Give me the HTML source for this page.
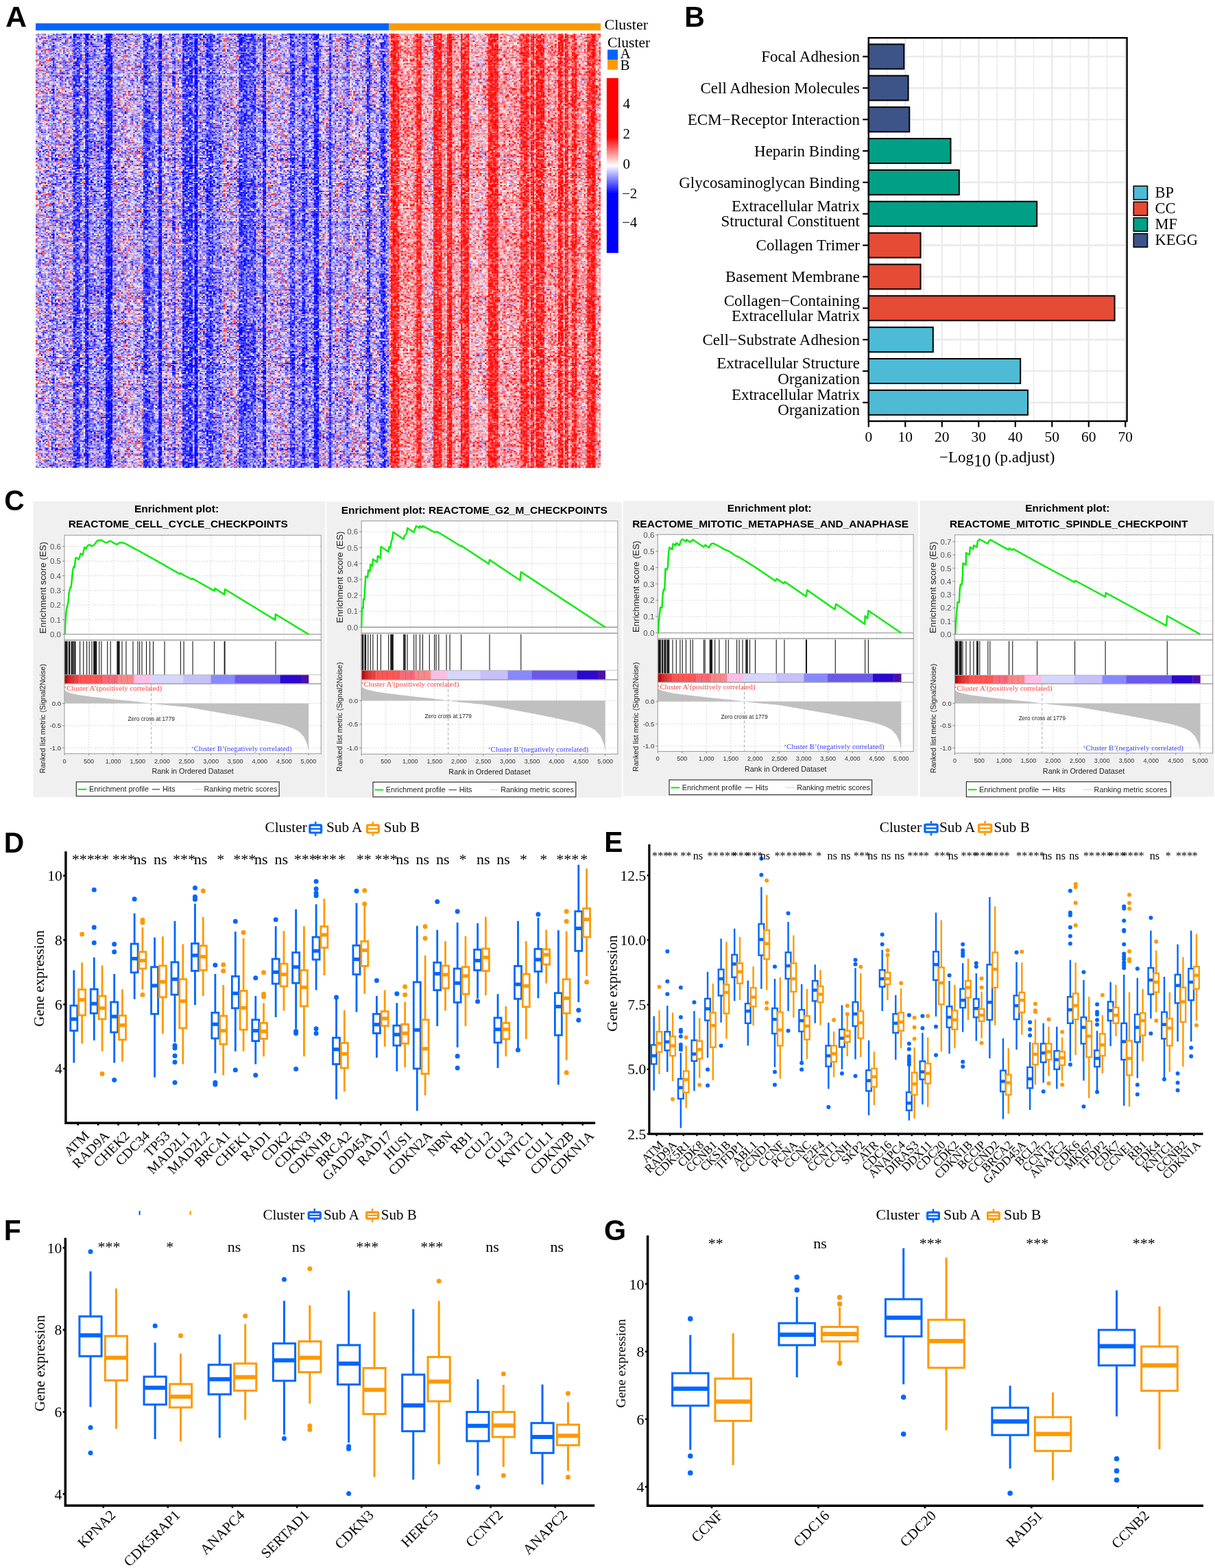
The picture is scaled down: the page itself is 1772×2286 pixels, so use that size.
<!DOCTYPE html>
<html><head><meta charset="utf-8"><title>Figure</title>
<style>html,body{margin:0;padding:0;background:#fff} svg{display:block} .hm rect{y:48.8px;height:633.6px} .hmb rect{width:2.54px}</style>
</head><body>
<svg xmlns="http://www.w3.org/2000/svg" width="1772" height="2286" viewBox="0 0 1772 2286">
<rect width="1772" height="2286" fill="#fff"/>
<defs><pattern id="hp0" patternUnits="userSpaceOnUse" width="66" height="128" patternTransform="translate(52 48.8) scale(2.4900 1.65)"><path d="M15 0.5h3M22 0.5h1M28 0.5h1M30 0.5h2M33 0.5h1M47 0.5h1M50 0.5h1M52 0.5h1M56 0.5h1M13 1.5h2M34 1.5h1M38 1.5h1M57 1.5h1M61 1.5h1M7 2.5h1M32 2.5h1M36 2.5h1M52 2.5h2M58 2.5h1M14 3.5h1M20 3.5h1M24 3.5h1M32 3.5h2M2 4.5h1M5 4.5h1M7 4.5h1M11 4.5h1M15 4.5h1M26 4.5h1M28 4.5h1M46 4.5h1M56 4.5h1M59 4.5h1M11 5.5h1M14 5.5h1M22 5.5h1M31 5.5h1M34 5.5h1M48 5.5h1M50 5.5h1M54 5.5h1M59 5.5h1M65 5.5h1M6 6.5h1M17 6.5h1M38 6.5h1M42 6.5h1M52 6.5h1M20 7.5h1M29 7.5h1M32 7.5h1M35 7.5h1M47 7.5h1M52 7.5h2M58 7.5h1M5 8.5h1M10 8.5h1M15 8.5h1M28 8.5h1M29 9.5h1M33 9.5h1M47 9.5h1M63 9.5h1M8 10.5h1M15 10.5h1M21 10.5h2M47 10.5h1M49 10.5h1M1 11.5h1M33 11.5h3M52 11.5h1M2 12.5h1M54 12.5h2M61 12.5h2M7 13.5h1M18 13.5h1M21 13.5h1M29 13.5h1M35 13.5h1M40 13.5h1M56 13.5h1M10 14.5h1M23 14.5h1M29 14.5h1M37 14.5h1M39 14.5h1M53 14.5h2M3 15.5h1M21 15.5h1M26 15.5h1M34 15.5h1M38 15.5h1M43 15.5h1M46 15.5h1M50 15.5h1M52 15.5h1M61 15.5h1M5 16.5h1M7 16.5h1M10 16.5h1M17 16.5h1M42 16.5h1M51 16.5h1M59 16.5h1M63 16.5h1M11 17.5h1M30 17.5h1M59 17.5h2M0 18.5h2M8 18.5h1M13 18.5h1M17 18.5h1M35 18.5h1M57 18.5h1M13 19.5h1M18 19.5h1M26 19.5h1M42 19.5h1M45 19.5h1M48 19.5h1M58 19.5h1M3 20.5h1M42 20.5h1M44 20.5h1M59 20.5h1M5 21.5h1M47 21.5h1M26 22.5h1M31 22.5h2M42 23.5h1M44 23.5h1M52 23.5h1M62 23.5h1M5 24.5h1M8 24.5h1M16 24.5h1M36 24.5h1M49 24.5h1M54 24.5h1M61 24.5h1M12 25.5h1M45 25.5h1M14 26.5h1M17 26.5h1M22 26.5h1M24 26.5h1M33 26.5h1M36 26.5h1M41 26.5h1M50 26.5h1M61 26.5h1M3 27.5h1M10 27.5h1M18 27.5h1M29 27.5h1M37 27.5h1M40 27.5h1M47 27.5h1M56 27.5h1M63 27.5h1M3 28.5h1M17 28.5h1M22 28.5h1M63 28.5h2M5 29.5h1M7 29.5h2M21 29.5h1M34 29.5h1M43 29.5h2M59 29.5h3M63 29.5h1M5 30.5h1M12 30.5h2M15 30.5h3M21 30.5h1M23 30.5h1M30 30.5h1M46 30.5h1M48 30.5h1M58 30.5h1M32 31.5h1M62 31.5h1M29 32.5h2M35 32.5h1M38 32.5h1M44 32.5h1M51 32.5h1M54 32.5h1M59 32.5h1M0 33.5h1M22 33.5h1M30 33.5h1M62 33.5h1M9 34.5h1M15 34.5h1M36 34.5h1M45 34.5h1M51 34.5h1M0 35.5h1M14 35.5h3M19 35.5h1M27 35.5h1M44 35.5h1M58 35.5h1M8 36.5h1M40 36.5h1M53 36.5h2M10 37.5h1M13 37.5h1M21 37.5h1M26 37.5h2M35 37.5h1M39 37.5h1M58 37.5h1M12 38.5h1M15 38.5h1M18 38.5h1M31 38.5h1M44 38.5h1M48 38.5h1M50 38.5h1M59 38.5h1M62 38.5h1M18 39.5h2M22 39.5h1M33 39.5h1M38 39.5h1M55 39.5h1M58 39.5h1M14 40.5h1M17 40.5h1M21 40.5h1M25 40.5h1M40 40.5h1M43 40.5h1M49 40.5h1M59 40.5h1M62 40.5h1M11 41.5h1M15 41.5h1M25 41.5h1M29 41.5h1M39 41.5h1M55 41.5h3M61 41.5h1M6 42.5h1M23 42.5h1M27 42.5h1M37 42.5h1M0 43.5h1M36 43.5h1M39 43.5h1M44 43.5h1M55 43.5h1M61 43.5h1M63 43.5h1M5 44.5h1M7 44.5h1M17 44.5h1M20 44.5h1M23 44.5h1M33 44.5h1M56 44.5h1M14 45.5h2M26 45.5h1M28 45.5h1M31 45.5h1M34 45.5h1M48 45.5h1M51 45.5h1M10 46.5h1M34 46.5h2M39 46.5h1M47 46.5h1M54 46.5h1M0 47.5h1M19 47.5h1M28 47.5h1M43 47.5h1M60 47.5h1M3 48.5h1M19 48.5h1M21 48.5h1M33 48.5h1M42 48.5h1M46 48.5h1M7 49.5h1M9 49.5h2M12 49.5h1M21 49.5h1M33 49.5h1M63 49.5h1M9 50.5h1M27 50.5h1M34 50.5h1M39 50.5h1M44 50.5h1M3 51.5h1M17 51.5h1M54 51.5h1M59 51.5h1M9 52.5h2M13 52.5h1M24 52.5h1M28 52.5h1M43 52.5h1M6 53.5h1M15 53.5h1M46 53.5h1M51 53.5h1M24 54.5h1M34 54.5h1M51 54.5h1M56 54.5h1M62 54.5h1M65 54.5h1M18 55.5h1M8 56.5h1M13 56.5h1M16 56.5h1M40 56.5h1M47 56.5h1M56 56.5h1M59 56.5h1M9 57.5h2M21 57.5h1M32 57.5h2M55 57.5h1M57 57.5h1M3 58.5h1M39 58.5h1M48 58.5h1M55 58.5h1M58 58.5h1M6 59.5h1M10 59.5h1M24 59.5h1M26 59.5h1M29 59.5h1M42 59.5h1M52 59.5h1M4 60.5h1M15 60.5h1M25 60.5h1M36 60.5h3M65 60.5h1M8 61.5h1M22 61.5h1M42 61.5h1M44 61.5h1M46 61.5h1M12 62.5h1M31 62.5h1M44 62.5h1M58 62.5h2M63 62.5h1M65 62.5h1M16 63.5h1M35 63.5h1M37 63.5h1M44 63.5h1M48 63.5h1M52 63.5h1M64 63.5h1M0 64.5h1M12 64.5h1M28 64.5h1M43 64.5h1M45 64.5h2M59 64.5h2M11 65.5h1M13 65.5h1M17 65.5h1M44 65.5h1M46 65.5h1M50 65.5h1M56 65.5h1M2 66.5h2M13 66.5h1M17 66.5h1M35 66.5h1M38 66.5h1M48 66.5h2M64 66.5h1M21 67.5h1M28 67.5h1M36 67.5h1M38 67.5h1M44 67.5h1M62 67.5h1M64 67.5h1M4 68.5h1M7 68.5h1M25 68.5h1M44 68.5h1M49 68.5h1M17 69.5h2M50 69.5h1M52 69.5h1M6 70.5h2M10 70.5h1M13 70.5h1M20 70.5h1M37 70.5h1M42 70.5h1M47 70.5h1M52 70.5h1M4 71.5h1M15 71.5h1M18 71.5h1M28 71.5h1M35 71.5h1M41 71.5h1M56 71.5h1M2 72.5h1M22 72.5h1M30 72.5h1M44 72.5h1M46 72.5h1M18 73.5h1M26 73.5h1M45 73.5h1M48 73.5h2M55 73.5h2M63 73.5h1M24 74.5h2M27 74.5h1M30 74.5h1M34 74.5h1M44 74.5h1M52 74.5h1M65 74.5h1M4 75.5h1M12 75.5h1M17 75.5h1M36 75.5h1M56 75.5h1M7 76.5h1M10 76.5h1M13 76.5h1M46 76.5h1M51 76.5h1M56 76.5h1M0 77.5h1M9 77.5h1M18 77.5h1M22 77.5h1M28 77.5h1M52 77.5h1M64 77.5h1M1 78.5h1M30 78.5h1M35 78.5h1M50 78.5h1M59 78.5h1M16 79.5h2M27 79.5h1M38 79.5h1M43 79.5h1M45 79.5h2M59 79.5h1M1 80.5h1M7 80.5h1M15 80.5h1M18 80.5h1M35 80.5h1M43 80.5h1M49 80.5h1M55 80.5h1M24 81.5h1M45 81.5h1M22 82.5h2M45 82.5h1M51 82.5h1M2 83.5h1M9 83.5h1M16 83.5h1M25 83.5h1M38 83.5h2M62 83.5h1M21 84.5h1M32 84.5h2M50 84.5h1M3 85.5h1M5 85.5h1M34 85.5h2M54 85.5h2M13 86.5h1M25 86.5h1M27 86.5h1M31 86.5h1M41 86.5h1M47 86.5h1M53 86.5h1M58 86.5h1M64 86.5h1M3 87.5h1M7 87.5h1M16 87.5h1M26 87.5h1M30 87.5h1M38 87.5h1M57 87.5h1M8 88.5h1M36 88.5h1M41 88.5h2M49 88.5h3M22 89.5h1M26 89.5h1M34 89.5h1M38 89.5h2M50 89.5h1M57 89.5h1M14 90.5h1M28 90.5h1M43 90.5h1M57 90.5h1M8 91.5h1M24 91.5h1M26 91.5h1M28 91.5h1M32 91.5h1M43 91.5h1M11 92.5h1M19 92.5h1M39 92.5h1M55 92.5h1M26 93.5h1M33 93.5h1M46 93.5h1M49 93.5h1M4 94.5h1M6 94.5h1M13 94.5h1M19 94.5h1M25 94.5h1M31 94.5h1M41 94.5h1M54 94.5h1M0 95.5h1M5 95.5h1M7 95.5h1M24 95.5h1M29 95.5h1M31 95.5h1M33 95.5h1M36 95.5h1M43 95.5h1M52 95.5h1M63 95.5h1M18 96.5h2M25 96.5h1M34 96.5h1M38 96.5h1M43 96.5h1M5 97.5h1M30 97.5h1M34 97.5h1M36 97.5h1M46 97.5h1M14 98.5h1M16 98.5h1M41 98.5h1M4 99.5h1M31 99.5h1M34 99.5h1M42 99.5h1M49 99.5h1M3 100.5h1M9 100.5h1M17 100.5h1M36 100.5h1M42 100.5h1M3 101.5h1M19 101.5h1M24 101.5h1M31 101.5h2M36 101.5h1M38 101.5h1M45 101.5h1M57 101.5h1M6 102.5h1M10 102.5h2M15 102.5h1M19 102.5h1M21 102.5h1M33 102.5h2M38 102.5h2M4 103.5h1M8 103.5h1M13 103.5h1M24 103.5h1M34 103.5h1M52 103.5h1M56 103.5h1M59 103.5h1M2 104.5h1M4 104.5h1M6 104.5h1M20 104.5h1M27 104.5h1M32 104.5h1M36 104.5h1M39 104.5h1M60 104.5h1M1 105.5h1M9 105.5h2M24 105.5h1M31 105.5h1M44 105.5h1M51 105.5h1M55 105.5h1M63 105.5h2M4 106.5h1M24 106.5h1M32 106.5h1M38 106.5h1M56 106.5h1M1 107.5h1M11 107.5h1M13 107.5h1M17 107.5h1M25 107.5h1M28 107.5h1M47 107.5h1M49 107.5h1M2 108.5h1M11 108.5h1M13 108.5h1M17 108.5h1M25 108.5h1M27 108.5h1M36 108.5h1M39 108.5h1M55 108.5h1M57 108.5h1M9 109.5h1M14 109.5h1M24 109.5h1M43 109.5h1M63 109.5h1M0 110.5h1M6 110.5h1M9 110.5h1M12 110.5h1M15 110.5h2M19 110.5h1M30 110.5h1M32 110.5h2M37 110.5h1M63 110.5h1M65 110.5h1M2 111.5h1M6 111.5h1M9 111.5h1M11 111.5h2M14 111.5h2M17 111.5h1M21 111.5h1M36 111.5h1M53 111.5h2M1 112.5h1M11 112.5h1M22 112.5h1M24 112.5h1M43 112.5h1M55 112.5h2M27 113.5h1M43 113.5h1M46 113.5h1M48 113.5h1M53 113.5h1M56 113.5h1M21 114.5h1M40 114.5h1M42 114.5h1M62 114.5h1M9 115.5h1M13 115.5h1M52 115.5h1M56 115.5h1M61 115.5h1M6 116.5h1M19 116.5h1M23 116.5h1M25 116.5h2M28 116.5h1M41 116.5h1M46 116.5h1M59 116.5h1M65 116.5h1M11 117.5h1M15 117.5h1M18 117.5h1M23 117.5h1M28 117.5h1M38 117.5h1M54 117.5h1M5 118.5h1M11 118.5h1M14 118.5h1M45 118.5h2M50 118.5h2M65 118.5h1M21 119.5h1M25 119.5h1M43 119.5h1M46 119.5h1M15 120.5h1M20 120.5h1M37 120.5h1M43 120.5h1M59 120.5h2M6 121.5h2M11 121.5h1M13 121.5h1M15 121.5h1M32 121.5h1M41 121.5h1M47 121.5h1M51 121.5h1M64 121.5h1M19 122.5h2M50 122.5h1M52 122.5h1M56 122.5h1M5 123.5h1M10 123.5h1M26 123.5h1M30 123.5h1M57 123.5h1M63 123.5h1M65 123.5h1M3 124.5h1M11 124.5h1M20 124.5h1M23 124.5h1M48 124.5h1M65 124.5h1M8 125.5h2M14 125.5h1M23 125.5h1M34 125.5h1M36 125.5h1M38 125.5h1M44 125.5h1M64 125.5h1M8 126.5h1M12 126.5h1M23 126.5h2M33 126.5h1M49 126.5h1M61 126.5h1M4 127.5h1M16 127.5h1M23 127.5h1M29 127.5h1M51 127.5h1" stroke="#fff" stroke-width="1" fill="none" shape-rendering="crispEdges"/></pattern><mask id="hm0" maskUnits="userSpaceOnUse" x="52" y="48.8" width="824.2" height="633.6"><rect x="52" y="48.8" width="824.2" height="633.6" fill="url(#hp0)"/></mask><pattern id="hp1" patternUnits="userSpaceOnUse" width="66" height="128" patternTransform="translate(52 48.8) scale(2.4900 1.65)"><path d="M1 0.5h1M12 0.5h1M26 0.5h1M43 0.5h1M48 0.5h2M62 0.5h1M11 1.5h1M26 1.5h1M30 1.5h1M33 1.5h1M46 1.5h1M55 1.5h1M60 1.5h1M1 2.5h1M20 2.5h1M38 2.5h1M45 2.5h1M60 2.5h1M3 3.5h1M5 3.5h1M13 3.5h1M29 3.5h1M38 3.5h1M52 3.5h1M61 3.5h1M64 3.5h1M0 4.5h1M3 4.5h1M20 4.5h1M25 4.5h1M30 4.5h1M45 4.5h1M52 4.5h1M13 5.5h1M30 5.5h1M40 5.5h1M53 5.5h1M64 5.5h1M21 6.5h1M41 6.5h1M49 6.5h1M55 6.5h2M65 6.5h1M1 7.5h1M7 7.5h1M9 7.5h1M17 7.5h1M22 7.5h1M40 7.5h1M50 7.5h1M57 7.5h1M59 7.5h1M63 7.5h2M4 8.5h1M6 8.5h1M17 8.5h1M22 8.5h1M26 8.5h1M32 8.5h1M40 8.5h2M46 8.5h1M50 8.5h2M4 9.5h1M23 9.5h1M32 9.5h1M65 9.5h1M4 10.5h1M10 10.5h1M26 10.5h1M50 10.5h1M65 10.5h1M7 11.5h1M10 11.5h1M19 11.5h1M21 11.5h1M36 11.5h1M43 11.5h1M58 11.5h1M9 12.5h1M11 12.5h1M16 12.5h1M28 12.5h1M47 12.5h2M50 12.5h1M65 12.5h1M1 13.5h2M6 13.5h1M8 13.5h1M13 13.5h1M24 13.5h1M59 13.5h1M34 14.5h1M43 14.5h1M46 14.5h2M49 14.5h1M5 15.5h1M8 15.5h1M16 15.5h1M32 15.5h1M55 15.5h1M60 15.5h1M22 16.5h1M31 16.5h1M33 16.5h2M45 16.5h1M48 16.5h1M52 16.5h1M13 17.5h1M49 17.5h1M52 17.5h1M54 17.5h1M6 18.5h1M12 18.5h1M15 18.5h1M18 18.5h1M22 18.5h1M34 18.5h1M39 18.5h1M60 18.5h1M6 19.5h1M29 19.5h1M31 19.5h1M34 19.5h1M55 19.5h1M2 20.5h1M13 20.5h1M18 20.5h1M20 20.5h1M26 20.5h1M31 20.5h1M43 20.5h1M45 20.5h1M50 20.5h1M53 20.5h1M21 21.5h1M23 21.5h1M27 21.5h1M35 21.5h2M46 21.5h1M54 21.5h1M63 21.5h1M2 22.5h1M9 22.5h2M13 22.5h1M15 22.5h1M19 22.5h2M24 22.5h1M40 22.5h1M61 22.5h1M63 22.5h1M9 23.5h1M27 23.5h1M38 23.5h1M50 23.5h1M58 23.5h1M60 23.5h1M14 24.5h1M20 24.5h1M37 24.5h2M48 24.5h1M59 24.5h1M4 25.5h1M15 25.5h1M17 25.5h2M20 25.5h1M28 25.5h1M34 25.5h1M40 25.5h1M51 25.5h1M54 25.5h1M57 25.5h1M60 25.5h1M62 25.5h1M2 26.5h1M44 26.5h1M58 26.5h1M64 26.5h1M5 27.5h1M11 27.5h1M16 27.5h1M32 27.5h1M34 27.5h1M36 27.5h1M41 27.5h1M43 27.5h1M58 27.5h1M8 28.5h1M23 28.5h1M40 28.5h1M53 28.5h1M11 29.5h1M29 29.5h2M11 30.5h1M26 30.5h1M35 30.5h1M37 30.5h1M39 30.5h1M61 30.5h1M6 31.5h1M20 31.5h1M22 31.5h1M26 31.5h2M31 31.5h1M49 31.5h1M60 31.5h1M3 32.5h1M6 32.5h1M17 32.5h3M58 32.5h1M4 33.5h1M14 33.5h1M43 33.5h1M7 34.5h1M14 34.5h1M18 34.5h1M21 34.5h1M30 34.5h1M41 34.5h1M48 34.5h1M4 35.5h1M9 35.5h1M13 35.5h1M18 35.5h1M29 35.5h1M38 35.5h1M46 35.5h1M56 35.5h1M1 36.5h1M12 36.5h1M20 36.5h1M23 36.5h2M32 36.5h1M59 36.5h2M1 37.5h1M5 37.5h1M8 37.5h1M11 37.5h2M23 37.5h1M31 37.5h1M40 37.5h1M54 37.5h1M57 37.5h1M64 37.5h1M14 38.5h1M26 38.5h1M34 38.5h1M42 38.5h1M52 38.5h1M54 38.5h1M63 38.5h1M13 39.5h2M44 39.5h1M48 39.5h1M52 39.5h1M64 39.5h1M33 40.5h1M35 40.5h1M41 40.5h1M47 40.5h2M53 40.5h1M65 40.5h1M8 41.5h1M17 41.5h1M37 41.5h1M43 41.5h1M46 41.5h1M59 41.5h1M64 41.5h1M0 42.5h1M3 42.5h1M16 42.5h1M19 42.5h1M29 42.5h1M31 42.5h1M39 42.5h1M49 42.5h1M1 43.5h1M14 43.5h1M19 43.5h1M37 43.5h1M51 43.5h1M56 43.5h1M64 43.5h1M2 44.5h1M14 44.5h1M21 44.5h1M30 44.5h1M37 44.5h1M41 44.5h1M53 44.5h1M63 44.5h1M11 45.5h1M22 45.5h1M4 46.5h1M24 46.5h1M26 46.5h1M41 46.5h1M45 46.5h1M55 46.5h1M6 47.5h1M18 47.5h1M57 47.5h1M59 47.5h1M22 48.5h1M25 48.5h1M27 48.5h2M53 48.5h1M55 48.5h1M5 49.5h1M28 49.5h1M30 49.5h1M43 49.5h1M47 49.5h1M50 49.5h1M13 50.5h1M29 50.5h1M36 50.5h1M42 50.5h1M48 50.5h1M59 50.5h1M4 51.5h1M8 51.5h1M25 51.5h1M28 51.5h1M51 51.5h1M60 51.5h1M6 52.5h1M19 52.5h1M26 52.5h1M30 52.5h2M35 52.5h1M41 52.5h1M49 52.5h1M1 53.5h2M17 53.5h1M24 53.5h1M31 53.5h2M39 53.5h3M50 53.5h1M52 53.5h1M57 53.5h1M63 53.5h1M14 54.5h1M16 54.5h1M23 54.5h1M25 54.5h2M28 54.5h1M35 54.5h1M55 54.5h1M59 54.5h1M61 54.5h1M6 55.5h2M9 55.5h1M19 55.5h3M62 55.5h1M64 55.5h1M4 56.5h1M14 56.5h1M17 56.5h1M32 56.5h1M34 56.5h1M36 56.5h1M38 56.5h1M41 56.5h1M44 56.5h1M18 57.5h1M22 57.5h1M26 57.5h1M36 57.5h1M39 57.5h1M43 57.5h1M48 57.5h1M51 57.5h1M58 57.5h1M63 57.5h1M8 58.5h1M13 58.5h1M26 58.5h1M31 58.5h1M34 58.5h1M38 58.5h1M45 58.5h1M54 58.5h1M62 58.5h1M8 59.5h1M16 59.5h1M19 59.5h1M37 59.5h1M44 59.5h1M55 59.5h1M5 60.5h1M12 60.5h2M27 60.5h1M45 60.5h1M11 61.5h1M14 61.5h1M38 61.5h1M52 61.5h1M2 62.5h1M18 62.5h1M29 62.5h1M37 62.5h1M43 62.5h1M55 62.5h1M62 62.5h1M0 63.5h1M7 63.5h1M9 63.5h1M43 63.5h1M4 64.5h1M27 64.5h1M55 64.5h1M9 65.5h2M33 65.5h1M63 65.5h1M12 66.5h1M34 66.5h1M50 66.5h1M61 66.5h1M63 66.5h1M14 67.5h2M20 67.5h1M23 67.5h1M65 67.5h1M0 68.5h1M10 68.5h1M22 68.5h1M30 68.5h1M48 68.5h1M58 68.5h1M65 68.5h1M9 69.5h1M16 69.5h1M27 69.5h2M35 69.5h1M42 69.5h1M53 69.5h1M64 69.5h1M5 70.5h1M12 70.5h1M19 70.5h1M28 70.5h1M41 70.5h1M60 70.5h1M2 71.5h2M11 71.5h1M26 71.5h1M32 71.5h1M40 71.5h1M51 71.5h1M4 72.5h1M15 72.5h1M21 72.5h1M23 72.5h1M26 72.5h1M51 72.5h1M60 72.5h1M1 73.5h1M5 73.5h2M8 73.5h1M11 73.5h1M22 73.5h1M52 73.5h1M2 74.5h2M5 74.5h1M17 74.5h1M26 74.5h1M56 74.5h1M60 74.5h1M1 75.5h1M9 75.5h1M19 75.5h1M58 75.5h1M32 76.5h1M43 76.5h2M47 76.5h1M53 76.5h1M60 76.5h1M19 77.5h1M42 77.5h1M44 77.5h1M48 77.5h1M58 77.5h1M13 78.5h1M17 78.5h1M23 78.5h1M33 78.5h2M2 79.5h1M6 79.5h1M11 79.5h1M13 79.5h1M34 79.5h1M36 79.5h1M49 79.5h1M51 79.5h1M55 79.5h2M61 79.5h1M6 80.5h1M12 80.5h1M29 80.5h1M42 80.5h1M56 80.5h1M59 80.5h1M62 80.5h1M7 81.5h1M11 81.5h1M13 81.5h1M16 81.5h1M33 81.5h1M46 81.5h1M50 81.5h1M63 81.5h1M0 82.5h1M2 82.5h1M18 82.5h1M21 82.5h1M1 83.5h1M28 83.5h1M30 83.5h1M40 83.5h3M48 83.5h1M50 83.5h1M55 83.5h1M58 83.5h1M7 84.5h1M10 84.5h1M12 84.5h1M14 84.5h1M23 84.5h1M44 84.5h1M47 84.5h1M51 84.5h1M59 84.5h1M62 84.5h1M8 85.5h1M25 85.5h1M33 85.5h1M48 85.5h1M2 86.5h2M15 86.5h2M23 86.5h1M43 86.5h2M46 86.5h1M48 86.5h2M54 86.5h1M4 87.5h2M24 87.5h1M29 87.5h1M36 87.5h1M46 87.5h1M1 88.5h2M12 88.5h1M16 88.5h2M25 88.5h2M1 89.5h1M15 89.5h1M31 89.5h1M59 89.5h2M8 90.5h1M31 90.5h1M34 90.5h1M49 90.5h2M60 90.5h2M18 91.5h1M20 91.5h1M20 92.5h1M35 92.5h1M38 92.5h1M41 92.5h1M49 92.5h1M22 93.5h1M27 93.5h1M31 93.5h1M43 93.5h1M52 93.5h2M8 94.5h1M12 94.5h1M22 94.5h2M34 94.5h1M48 94.5h1M63 94.5h1M12 95.5h1M19 95.5h1M30 95.5h1M32 95.5h1M37 95.5h1M39 95.5h1M44 95.5h1M64 95.5h1M3 96.5h1M5 96.5h1M13 96.5h2M17 96.5h1M32 96.5h1M54 96.5h2M57 96.5h1M65 96.5h1M1 97.5h1M19 97.5h1M24 97.5h1M37 97.5h1M41 97.5h2M44 97.5h1M3 98.5h1M8 98.5h1M27 98.5h1M39 98.5h1M42 98.5h1M57 98.5h2M3 99.5h1M20 99.5h1M25 99.5h1M35 99.5h2M38 99.5h1M46 99.5h1M54 99.5h1M63 99.5h1M15 100.5h1M30 100.5h1M38 100.5h1M41 100.5h1M58 100.5h1M9 101.5h1M22 101.5h1M30 101.5h1M44 101.5h1M46 101.5h1M50 101.5h1M53 101.5h1M63 101.5h1M5 102.5h1M8 102.5h1M29 102.5h1M42 102.5h1M45 102.5h2M55 102.5h1M59 102.5h1M5 103.5h1M10 103.5h2M23 103.5h1M26 103.5h2M40 103.5h1M45 103.5h1M63 103.5h1M65 103.5h1M28 104.5h1M41 104.5h1M43 104.5h1M48 104.5h1M58 104.5h1M5 105.5h1M15 105.5h1M29 105.5h1M50 105.5h1M52 105.5h1M62 105.5h1M37 106.5h1M49 106.5h1M59 106.5h2M62 106.5h1M20 107.5h2M34 107.5h1M42 107.5h1M62 107.5h1M8 108.5h2M21 108.5h1M41 108.5h1M44 108.5h1M50 108.5h1M63 108.5h3M21 109.5h1M28 109.5h2M35 109.5h1M50 109.5h1M54 109.5h1M5 110.5h1M7 110.5h1M11 110.5h1M20 110.5h1M31 110.5h1M58 110.5h1M3 111.5h1M19 111.5h1M24 111.5h2M27 111.5h1M45 111.5h1M7 112.5h1M27 112.5h1M29 112.5h1M34 112.5h1M40 112.5h2M47 112.5h1M61 112.5h1M7 113.5h1M15 113.5h1M37 113.5h1M55 113.5h1M18 114.5h1M26 114.5h1M29 114.5h1M32 114.5h1M37 114.5h1M39 114.5h1M6 115.5h1M20 115.5h1M24 115.5h1M28 115.5h1M33 115.5h1M40 115.5h1M42 115.5h2M48 115.5h1M3 116.5h1M15 116.5h1M22 116.5h1M30 116.5h2M34 116.5h1M62 116.5h2M3 117.5h1M17 117.5h1M25 117.5h1M48 117.5h1M13 118.5h1M25 118.5h2M31 118.5h1M37 118.5h1M8 119.5h1M11 119.5h1M27 119.5h1M33 119.5h1M36 119.5h1M39 119.5h1M63 119.5h1M0 120.5h1M7 120.5h1M11 120.5h1M21 120.5h1M30 120.5h2M49 120.5h1M52 120.5h1M17 121.5h1M42 121.5h1M57 121.5h1M5 122.5h2M16 122.5h1M27 122.5h1M46 122.5h1M53 122.5h1M65 122.5h1M2 123.5h1M17 123.5h1M25 123.5h1M33 123.5h1M35 123.5h1M58 123.5h1M6 124.5h1M15 124.5h2M21 124.5h1M24 124.5h1M49 124.5h1M51 124.5h1M2 125.5h1M26 125.5h1M47 125.5h1M57 125.5h1M61 125.5h1M0 126.5h1M7 126.5h1M11 126.5h1M27 126.5h1M37 126.5h1M43 126.5h2M52 126.5h1M57 126.5h1M64 126.5h1M1 127.5h1M6 127.5h1M9 127.5h1M12 127.5h1M18 127.5h1M21 127.5h1M39 127.5h2M48 127.5h1" stroke="#fff" stroke-width="1" fill="none" shape-rendering="crispEdges"/></pattern><mask id="hm1" maskUnits="userSpaceOnUse" x="52" y="48.8" width="824.2" height="633.6"><rect x="52" y="48.8" width="824.2" height="633.6" fill="url(#hp1)"/></mask><pattern id="hp2" patternUnits="userSpaceOnUse" width="66" height="128" patternTransform="translate(52 48.8) scale(2.4900 1.65)"><path d="M41 0.5h2M45 0.5h1M54 0.5h1M58 0.5h1M60 0.5h1M29 1.5h1M32 1.5h1M52 1.5h2M64 1.5h1M8 2.5h1M12 2.5h1M23 2.5h1M26 2.5h1M29 2.5h1M42 2.5h2M59 2.5h1M65 2.5h1M7 3.5h1M12 3.5h1M16 3.5h2M54 3.5h1M9 4.5h1M60 4.5h1M0 5.5h1M2 5.5h1M9 5.5h2M12 5.5h1M21 5.5h1M36 5.5h1M44 5.5h1M57 5.5h1M60 5.5h1M0 6.5h1M18 6.5h1M53 6.5h1M63 6.5h1M0 7.5h1M14 7.5h1M38 7.5h1M55 7.5h1M62 7.5h1M3 8.5h1M16 8.5h1M24 8.5h1M30 8.5h1M53 8.5h1M58 8.5h2M8 9.5h1M14 9.5h1M16 9.5h2M21 9.5h1M54 9.5h1M58 9.5h1M1 10.5h1M11 10.5h1M24 10.5h1M51 10.5h1M2 11.5h1M9 11.5h1M14 11.5h1M20 11.5h1M31 11.5h1M39 11.5h1M46 11.5h1M51 11.5h1M61 11.5h1M1 12.5h1M23 12.5h1M35 12.5h1M43 12.5h1M57 12.5h1M64 12.5h1M10 13.5h1M25 13.5h2M28 13.5h1M32 13.5h1M45 13.5h1M9 14.5h1M14 14.5h1M52 14.5h1M12 15.5h1M14 15.5h1M22 15.5h1M28 15.5h1M30 15.5h1M51 15.5h1M58 15.5h1M6 16.5h1M12 16.5h1M16 16.5h1M28 16.5h1M65 16.5h1M2 17.5h1M4 17.5h1M8 17.5h2M16 17.5h1M34 17.5h1M44 17.5h1M47 17.5h2M55 17.5h1M65 17.5h1M3 18.5h1M23 18.5h1M26 18.5h1M30 18.5h1M43 18.5h1M58 18.5h1M2 19.5h1M17 19.5h1M20 19.5h1M33 19.5h1M49 19.5h1M57 19.5h1M5 20.5h1M22 20.5h1M32 20.5h2M39 20.5h1M54 20.5h1M63 20.5h1M26 21.5h1M40 21.5h1M55 21.5h1M60 21.5h1M64 21.5h1M4 22.5h1M25 22.5h1M33 22.5h1M36 22.5h1M65 22.5h1M1 23.5h1M16 23.5h1M20 23.5h1M24 23.5h1M26 23.5h1M33 23.5h1M54 23.5h1M26 24.5h1M3 25.5h1M5 25.5h1M10 25.5h1M14 25.5h1M16 25.5h1M19 25.5h1M23 25.5h1M25 25.5h1M31 25.5h1M55 25.5h1M8 26.5h1M46 26.5h2M51 26.5h1M53 26.5h1M57 26.5h1M12 27.5h1M15 27.5h1M20 27.5h1M25 27.5h1M35 27.5h1M42 27.5h1M48 27.5h1M52 27.5h1M55 27.5h1M5 28.5h2M10 28.5h1M18 28.5h2M24 28.5h1M36 28.5h1M43 28.5h1M47 28.5h1M50 28.5h1M55 28.5h1M9 29.5h1M58 29.5h1M64 29.5h1M3 30.5h1M10 30.5h1M20 30.5h1M38 30.5h1M44 30.5h1M51 30.5h1M64 30.5h1M8 31.5h2M11 31.5h1M19 31.5h1M25 31.5h1M30 31.5h1M47 31.5h1M64 31.5h1M0 32.5h1M10 32.5h1M24 32.5h1M49 32.5h1M56 32.5h1M8 33.5h1M16 33.5h1M24 33.5h1M50 33.5h1M53 33.5h1M61 33.5h1M1 34.5h1M8 34.5h1M27 34.5h1M49 34.5h1M55 34.5h1M63 34.5h1M21 35.5h1M24 35.5h1M31 35.5h1M35 35.5h1M39 35.5h1M43 35.5h1M47 35.5h1M59 35.5h2M3 36.5h1M6 36.5h1M18 36.5h1M36 36.5h1M42 36.5h1M47 36.5h1M51 36.5h1M65 36.5h1M14 37.5h1M37 37.5h1M60 37.5h1M0 38.5h1M25 38.5h1M28 38.5h1M30 38.5h1M47 38.5h1M49 38.5h1M61 38.5h1M8 39.5h1M25 39.5h1M29 39.5h1M32 39.5h1M36 39.5h2M45 39.5h1M4 40.5h1M15 40.5h1M22 40.5h1M38 40.5h1M42 40.5h1M44 40.5h1M46 40.5h1M54 40.5h1M14 41.5h1M21 41.5h1M28 41.5h1M51 41.5h1M4 42.5h1M21 42.5h1M28 42.5h1M40 42.5h1M42 42.5h1M45 42.5h1M54 42.5h1M56 42.5h1M58 42.5h2M3 43.5h1M7 43.5h1M15 43.5h1M21 43.5h1M28 43.5h1M34 43.5h1M47 43.5h1M1 44.5h1M15 44.5h1M19 44.5h1M48 44.5h1M64 44.5h1M7 45.5h1M17 45.5h1M24 45.5h1M33 45.5h1M36 45.5h1M54 45.5h1M61 45.5h2M14 46.5h1M20 46.5h1M38 46.5h1M44 46.5h1M48 46.5h1M57 46.5h1M59 46.5h1M1 47.5h1M15 47.5h1M17 47.5h1M37 47.5h1M39 47.5h1M44 47.5h1M46 47.5h1M53 47.5h1M8 48.5h1M37 48.5h1M54 48.5h1M57 48.5h1M59 48.5h1M62 48.5h1M23 49.5h1M26 49.5h1M40 49.5h1M44 49.5h1M48 49.5h2M51 49.5h1M53 49.5h1M55 49.5h1M0 50.5h1M7 50.5h1M10 50.5h1M40 50.5h1M49 50.5h1M2 51.5h1M10 51.5h1M33 51.5h1M41 51.5h1M46 51.5h1M57 51.5h1M44 52.5h1M57 52.5h1M59 52.5h1M12 53.5h1M20 53.5h1M36 53.5h1M61 53.5h1M17 54.5h1M20 54.5h1M27 54.5h1M31 54.5h1M44 54.5h1M0 55.5h1M5 55.5h1M15 55.5h1M22 55.5h1M27 55.5h1M29 55.5h1M55 55.5h1M0 56.5h2M5 56.5h2M10 56.5h1M19 56.5h2M25 56.5h1M35 56.5h1M57 56.5h1M6 57.5h1M37 57.5h1M61 57.5h1M6 58.5h1M24 58.5h1M44 58.5h1M57 58.5h1M59 58.5h1M13 59.5h1M20 59.5h1M30 59.5h1M40 59.5h1M46 59.5h1M53 59.5h1M57 59.5h1M64 59.5h2M0 60.5h1M6 60.5h1M23 60.5h1M29 60.5h1M42 60.5h1M48 60.5h1M53 60.5h1M59 60.5h1M12 61.5h1M18 61.5h1M24 61.5h1M32 61.5h1M47 61.5h1M57 61.5h1M4 62.5h1M7 62.5h1M11 62.5h1M17 62.5h1M20 62.5h1M25 62.5h1M17 63.5h1M19 63.5h1M51 63.5h1M56 63.5h1M60 63.5h2M63 63.5h1M6 64.5h1M20 64.5h1M32 64.5h1M36 64.5h1M38 64.5h1M61 64.5h1M0 65.5h1M7 65.5h1M14 65.5h2M38 65.5h1M40 65.5h2M43 65.5h1M45 65.5h1M53 65.5h1M55 65.5h1M61 65.5h1M7 66.5h1M9 66.5h1M28 66.5h1M43 66.5h1M52 66.5h1M0 67.5h1M4 67.5h1M10 67.5h1M19 67.5h1M32 67.5h1M47 67.5h1M51 67.5h1M54 67.5h1M11 68.5h1M36 68.5h1M59 68.5h1M62 68.5h1M0 69.5h1M3 69.5h1M10 69.5h1M19 69.5h1M37 69.5h1M40 69.5h1M45 69.5h2M54 69.5h1M61 69.5h1M0 70.5h1M11 70.5h1M23 70.5h1M44 70.5h1M50 70.5h2M31 71.5h1M34 71.5h1M60 71.5h1M9 72.5h1M11 72.5h1M27 72.5h1M29 72.5h1M35 72.5h1M37 72.5h1M56 72.5h3M2 73.5h1M14 73.5h1M20 73.5h1M29 73.5h1M38 73.5h1M42 73.5h1M58 73.5h1M1 74.5h1M21 74.5h1M33 74.5h1M42 74.5h1M46 74.5h1M54 74.5h1M2 75.5h1M10 75.5h1M16 75.5h1M21 75.5h1M50 75.5h1M59 75.5h1M65 75.5h1M8 76.5h1M16 76.5h1M33 76.5h1M39 76.5h1M52 76.5h1M55 76.5h1M57 76.5h1M63 76.5h1M1 77.5h1M7 77.5h1M21 77.5h1M25 77.5h1M54 77.5h1M56 77.5h1M65 77.5h1M0 78.5h1M28 78.5h1M32 78.5h1M42 78.5h1M53 78.5h1M55 78.5h1M58 78.5h1M3 79.5h1M8 79.5h1M15 79.5h1M18 79.5h1M22 79.5h1M26 79.5h1M30 79.5h1M52 79.5h1M64 79.5h2M16 80.5h1M27 80.5h1M39 80.5h1M51 80.5h1M3 81.5h1M8 81.5h2M28 81.5h4M40 81.5h1M4 82.5h1M12 82.5h1M27 82.5h1M36 82.5h1M46 82.5h2M58 82.5h1M65 82.5h1M11 83.5h1M14 83.5h1M23 83.5h1M29 83.5h1M0 84.5h1M2 84.5h1M8 84.5h1M24 84.5h1M27 84.5h2M31 84.5h1M38 84.5h1M57 84.5h1M64 84.5h1M2 85.5h1M31 85.5h1M39 85.5h1M47 85.5h1M59 85.5h1M5 86.5h1M7 86.5h1M22 86.5h1M32 86.5h1M39 86.5h1M60 86.5h1M62 86.5h1M65 86.5h1M11 87.5h1M19 87.5h1M43 87.5h1M47 87.5h1M61 87.5h1M63 87.5h1M9 88.5h1M31 88.5h2M56 88.5h1M3 89.5h4M9 89.5h1M11 89.5h1M25 89.5h1M32 89.5h2M42 89.5h1M47 89.5h1M52 89.5h1M12 90.5h1M22 90.5h1M45 90.5h1M0 91.5h2M5 91.5h1M9 91.5h1M33 91.5h2M48 91.5h1M60 91.5h2M63 91.5h1M4 92.5h1M9 92.5h1M16 92.5h1M29 92.5h1M47 92.5h1M52 92.5h1M62 92.5h2M4 93.5h1M42 93.5h1M48 93.5h1M54 93.5h1M61 93.5h1M64 93.5h1M15 94.5h1M30 94.5h1M33 94.5h1M45 94.5h1M60 94.5h2M11 95.5h1M17 95.5h1M26 95.5h1M35 95.5h1M45 95.5h1M50 95.5h1M1 96.5h1M7 96.5h3M23 96.5h1M47 96.5h2M50 96.5h1M52 96.5h1M6 97.5h1M12 97.5h1M15 97.5h1M35 97.5h1M39 97.5h1M60 97.5h1M65 97.5h1M20 98.5h1M32 98.5h1M34 98.5h1M40 98.5h1M46 98.5h3M55 98.5h1M62 99.5h1M2 100.5h1M11 100.5h1M27 100.5h1M29 100.5h1M43 100.5h1M59 100.5h1M61 100.5h1M2 101.5h1M12 101.5h1M14 101.5h1M18 101.5h1M39 101.5h1M48 101.5h1M56 101.5h1M62 101.5h1M0 102.5h1M28 102.5h1M44 102.5h1M53 102.5h1M62 102.5h1M12 103.5h1M28 103.5h1M36 103.5h1M38 103.5h1M57 103.5h1M7 104.5h1M11 104.5h1M15 104.5h1M26 104.5h1M38 104.5h1M53 104.5h1M22 105.5h1M32 105.5h1M48 105.5h1M59 105.5h1M0 106.5h1M9 106.5h1M12 106.5h1M26 106.5h1M41 106.5h1M46 106.5h1M57 106.5h1M63 106.5h1M2 107.5h1M9 107.5h1M19 107.5h1M31 107.5h1M36 107.5h1M45 107.5h1M48 107.5h1M50 107.5h1M54 107.5h1M3 108.5h1M22 108.5h1M28 108.5h1M37 108.5h1M42 108.5h2M54 108.5h1M2 109.5h1M5 109.5h1M15 109.5h1M23 109.5h1M26 109.5h1M31 109.5h1M42 109.5h1M57 109.5h1M64 109.5h1M10 110.5h1M18 110.5h1M21 110.5h1M25 110.5h1M39 110.5h1M43 110.5h1M5 111.5h1M16 111.5h1M20 111.5h1M31 111.5h1M37 111.5h1M48 111.5h1M59 111.5h2M3 112.5h1M5 112.5h1M17 112.5h1M21 112.5h1M23 112.5h1M30 112.5h1M32 112.5h1M48 112.5h1M52 112.5h2M8 113.5h1M52 113.5h1M7 114.5h1M16 114.5h1M28 114.5h1M33 114.5h1M35 114.5h1M41 114.5h1M65 114.5h1M2 115.5h2M5 115.5h1M7 115.5h1M12 115.5h1M18 115.5h1M65 115.5h1M9 116.5h1M48 116.5h1M51 116.5h1M54 116.5h1M57 116.5h1M61 116.5h1M4 117.5h1M6 117.5h1M10 117.5h1M16 117.5h1M22 117.5h1M35 117.5h1M37 117.5h1M39 117.5h1M46 117.5h1M64 117.5h1M8 118.5h1M15 118.5h1M19 118.5h1M24 118.5h1M27 118.5h1M41 118.5h1M57 118.5h1M63 118.5h1M1 119.5h1M12 119.5h1M29 119.5h2M32 119.5h1M38 119.5h1M40 119.5h1M42 119.5h1M52 119.5h2M46 120.5h1M8 121.5h1M24 121.5h1M31 121.5h1M48 121.5h1M0 122.5h1M2 122.5h1M8 122.5h1M14 122.5h1M21 122.5h1M36 122.5h2M39 122.5h1M43 122.5h1M48 122.5h1M55 122.5h1M19 123.5h1M27 123.5h1M32 123.5h1M39 123.5h1M50 123.5h2M56 123.5h1M12 124.5h1M19 124.5h1M28 124.5h1M39 124.5h1M42 124.5h1M53 124.5h1M56 124.5h1M5 125.5h1M10 125.5h1M20 125.5h1M33 125.5h1M46 125.5h1M6 126.5h1M13 126.5h1M16 126.5h1M20 126.5h1M22 126.5h1M34 126.5h1M0 127.5h1M22 127.5h1M45 127.5h1M55 127.5h1M57 127.5h1M64 127.5h1" stroke="#fff" stroke-width="1" fill="none" shape-rendering="crispEdges"/></pattern><mask id="hm2" maskUnits="userSpaceOnUse" x="52" y="48.8" width="824.2" height="633.6"><rect x="52" y="48.8" width="824.2" height="633.6" fill="url(#hp2)"/></mask><pattern id="hp3" patternUnits="userSpaceOnUse" width="66" height="128" patternTransform="translate(52 48.8) scale(2.4900 1.65)"><path d="M3 0.5h2M13 0.5h2M20 0.5h1M27 0.5h1M29 0.5h1M36 0.5h1M53 0.5h1M2 1.5h1M4 1.5h1M22 1.5h2M35 1.5h1M37 1.5h1M51 1.5h1M54 1.5h1M56 1.5h1M65 1.5h1M3 2.5h1M9 2.5h1M16 2.5h2M22 2.5h1M48 2.5h1M56 2.5h1M1 3.5h1M22 3.5h1M25 3.5h1M47 3.5h1M50 3.5h1M55 3.5h1M12 4.5h1M18 4.5h1M36 4.5h1M40 4.5h1M48 4.5h1M50 4.5h1M54 4.5h1M17 5.5h1M28 5.5h1M32 5.5h1M37 5.5h1M58 5.5h1M9 6.5h1M12 6.5h1M26 6.5h2M36 6.5h1M39 6.5h1M46 6.5h2M51 6.5h1M54 6.5h1M59 6.5h2M18 7.5h1M21 7.5h1M36 7.5h2M49 7.5h1M51 7.5h1M54 7.5h1M8 8.5h1M20 8.5h1M39 8.5h1M43 8.5h1M54 8.5h1M63 8.5h1M7 9.5h1M25 9.5h1M43 9.5h1M50 9.5h1M61 9.5h1M0 10.5h1M18 10.5h1M27 10.5h1M33 10.5h1M56 10.5h1M4 11.5h1M11 11.5h1M13 11.5h1M26 11.5h1M41 11.5h1M64 11.5h1M4 12.5h2M7 12.5h1M58 12.5h1M9 13.5h1M16 13.5h1M36 13.5h2M39 13.5h1M42 13.5h1M46 13.5h1M57 13.5h1M62 13.5h1M1 14.5h1M20 14.5h2M56 14.5h1M58 14.5h1M4 15.5h1M7 15.5h1M9 15.5h1M19 15.5h1M35 15.5h1M48 15.5h1M56 15.5h1M62 15.5h2M0 16.5h1M8 16.5h1M14 16.5h1M35 16.5h1M49 16.5h1M25 17.5h1M33 17.5h1M40 17.5h1M45 17.5h1M56 17.5h1M64 17.5h1M14 18.5h1M40 18.5h1M49 18.5h1M61 18.5h1M1 19.5h1M7 19.5h1M30 19.5h1M35 19.5h1M51 19.5h1M59 19.5h3M65 19.5h1M6 20.5h1M9 20.5h1M21 20.5h1M34 20.5h1M37 20.5h1M40 20.5h1M55 20.5h1M8 21.5h1M10 21.5h1M24 21.5h2M33 21.5h2M49 21.5h1M22 22.5h1M30 22.5h1M41 22.5h1M44 22.5h1M47 22.5h1M56 22.5h1M58 22.5h1M62 22.5h1M3 23.5h1M10 23.5h1M12 23.5h1M15 23.5h1M39 23.5h2M46 23.5h1M59 23.5h1M6 24.5h1M11 24.5h1M34 24.5h2M45 24.5h2M63 24.5h1M7 25.5h1M27 25.5h1M35 25.5h1M42 25.5h1M48 25.5h1M52 25.5h1M61 25.5h1M6 26.5h1M15 26.5h2M23 26.5h1M54 26.5h1M23 27.5h1M49 27.5h3M1 28.5h1M16 28.5h1M20 28.5h1M25 28.5h1M48 28.5h1M51 28.5h1M59 28.5h1M10 29.5h1M16 29.5h1M46 29.5h1M50 29.5h1M53 29.5h1M6 30.5h1M9 30.5h1M18 30.5h2M28 30.5h2M45 30.5h1M52 30.5h2M57 30.5h1M0 31.5h1M28 31.5h1M42 31.5h1M11 32.5h1M31 32.5h1M48 32.5h1M57 32.5h1M64 32.5h1M2 33.5h1M6 33.5h1M18 33.5h1M25 33.5h1M35 33.5h1M47 33.5h1M52 33.5h1M55 33.5h1M65 33.5h1M3 34.5h1M37 34.5h2M50 34.5h1M59 34.5h1M61 34.5h1M65 34.5h1M8 35.5h1M17 35.5h1M25 35.5h1M28 35.5h1M33 35.5h1M41 35.5h1M48 35.5h1M53 35.5h1M64 35.5h1M16 36.5h1M21 36.5h1M39 36.5h1M48 36.5h1M64 36.5h1M9 37.5h1M17 37.5h1M24 37.5h1M32 37.5h1M42 37.5h1M47 37.5h1M55 37.5h1M63 37.5h1M65 37.5h1M4 38.5h1M16 38.5h1M19 38.5h1M22 38.5h1M43 38.5h1M46 38.5h1M58 38.5h1M2 39.5h1M4 39.5h2M11 39.5h1M21 39.5h1M31 39.5h1M39 39.5h1M47 39.5h1M18 40.5h2M31 40.5h2M45 40.5h1M51 40.5h1M13 41.5h1M20 41.5h1M23 41.5h1M44 41.5h1M50 41.5h1M54 41.5h1M62 41.5h1M1 42.5h1M18 42.5h1M25 42.5h1M32 42.5h1M34 42.5h1M47 42.5h1M4 43.5h1M6 43.5h1M12 43.5h2M38 43.5h1M26 44.5h2M31 44.5h1M57 44.5h1M60 44.5h1M65 44.5h1M3 45.5h1M23 45.5h1M40 45.5h1M43 45.5h1M46 45.5h1M53 45.5h1M58 45.5h1M60 45.5h1M15 46.5h1M21 46.5h2M25 46.5h1M30 46.5h1M33 46.5h1M51 46.5h1M56 46.5h1M62 46.5h1M12 47.5h1M22 47.5h1M25 47.5h1M27 47.5h1M30 47.5h1M45 47.5h1M1 48.5h1M35 48.5h1M38 48.5h1M41 48.5h1M2 49.5h1M31 49.5h1M41 49.5h1M60 49.5h1M62 49.5h1M17 50.5h1M30 50.5h1M35 50.5h1M38 50.5h1M45 50.5h1M57 50.5h1M21 51.5h1M32 51.5h1M34 51.5h1M44 51.5h1M50 51.5h1M56 51.5h1M62 51.5h1M3 52.5h1M12 52.5h1M23 52.5h1M37 52.5h1M46 52.5h1M48 52.5h1M61 52.5h1M13 53.5h1M21 53.5h1M29 53.5h2M48 53.5h1M54 53.5h1M58 53.5h1M5 54.5h2M13 54.5h1M22 54.5h1M39 54.5h1M45 54.5h1M47 54.5h1M58 54.5h1M1 55.5h1M16 55.5h1M24 55.5h1M28 55.5h1M44 55.5h2M48 55.5h1M50 55.5h1M56 55.5h2M60 55.5h1M28 56.5h1M31 56.5h1M43 56.5h1M46 56.5h1M1 57.5h1M8 57.5h1M15 57.5h1M30 57.5h1M34 57.5h1M41 57.5h2M47 57.5h1M56 57.5h1M4 58.5h1M7 58.5h1M10 58.5h2M32 58.5h1M61 58.5h1M3 59.5h1M27 59.5h1M58 59.5h1M32 60.5h1M35 60.5h1M54 60.5h1M60 60.5h1M5 61.5h1M13 61.5h1M17 61.5h1M26 61.5h1M30 61.5h1M60 61.5h1M16 62.5h1M52 62.5h1M5 63.5h1M12 63.5h2M22 63.5h1M29 63.5h1M39 63.5h1M59 63.5h1M3 64.5h1M21 64.5h2M31 64.5h1M33 64.5h1M39 64.5h1M47 64.5h1M53 64.5h1M62 64.5h1M5 65.5h1M12 65.5h1M31 65.5h1M47 65.5h1M57 65.5h1M8 66.5h1M11 66.5h1M22 66.5h1M37 66.5h1M40 66.5h1M45 66.5h1M60 66.5h1M9 67.5h1M24 67.5h1M30 67.5h1M35 67.5h1M46 67.5h1M49 67.5h1M57 67.5h2M9 68.5h1M12 68.5h2M17 68.5h1M24 68.5h1M26 68.5h1M42 68.5h1M45 68.5h1M47 68.5h1M8 69.5h1M47 69.5h2M51 69.5h1M57 69.5h1M65 69.5h1M1 70.5h2M24 70.5h2M31 70.5h1M46 70.5h1M56 70.5h2M1 71.5h1M17 71.5h1M22 71.5h1M36 71.5h1M39 71.5h1M42 71.5h1M44 71.5h1M54 71.5h1M57 71.5h1M1 72.5h1M31 72.5h1M40 72.5h1M43 72.5h1M45 72.5h1M48 72.5h1M59 72.5h1M62 72.5h1M9 73.5h2M28 73.5h1M37 73.5h1M44 73.5h1M54 73.5h1M59 73.5h1M7 74.5h1M19 74.5h1M29 74.5h1M36 74.5h1M64 74.5h1M5 75.5h3M26 75.5h1M45 75.5h1M48 75.5h1M60 75.5h1M1 76.5h1M25 76.5h1M50 76.5h1M4 77.5h1M6 77.5h1M26 77.5h1M39 77.5h1M41 77.5h1M60 77.5h1M25 78.5h1M29 78.5h1M52 78.5h1M10 79.5h1M23 79.5h1M31 79.5h1M62 79.5h1M0 80.5h1M2 80.5h1M9 80.5h1M14 80.5h1M21 80.5h1M23 80.5h1M25 80.5h1M36 80.5h1M47 80.5h1M50 80.5h1M54 80.5h1M61 80.5h1M64 80.5h1M2 81.5h1M20 81.5h1M48 81.5h1M56 81.5h1M65 81.5h1M13 82.5h1M49 82.5h1M54 82.5h1M27 83.5h1M37 83.5h1M60 83.5h1M3 84.5h1M13 84.5h1M16 84.5h1M43 84.5h1M45 84.5h1M52 84.5h1M65 84.5h1M1 85.5h1M9 85.5h1M42 85.5h1M45 85.5h1M8 86.5h1M14 86.5h1M26 86.5h1M37 86.5h1M59 86.5h1M0 87.5h2M12 87.5h1M20 87.5h1M44 87.5h1M49 87.5h1M52 87.5h1M6 88.5h2M24 88.5h1M28 88.5h1M34 88.5h1M46 88.5h2M59 88.5h1M63 88.5h1M18 89.5h1M21 89.5h1M37 89.5h1M55 89.5h1M64 89.5h1M2 90.5h1M15 90.5h1M24 90.5h1M29 90.5h1M33 90.5h1M37 90.5h1M47 90.5h1M58 90.5h1M65 90.5h1M30 91.5h2M39 91.5h1M5 92.5h1M15 92.5h1M27 92.5h2M44 92.5h3M51 92.5h1M64 92.5h1M7 93.5h1M15 93.5h1M25 93.5h1M32 93.5h1M35 93.5h1M47 93.5h1M56 93.5h1M59 93.5h1M3 94.5h1M17 94.5h1M21 94.5h1M38 94.5h1M46 94.5h2M6 95.5h1M34 95.5h1M38 95.5h1M57 95.5h1M65 95.5h1M0 96.5h1M2 96.5h1M6 96.5h1M11 96.5h1M31 96.5h1M39 96.5h1M59 96.5h1M0 97.5h1M10 97.5h1M22 97.5h1M43 97.5h1M45 97.5h1M58 97.5h1M62 97.5h2M1 98.5h2M11 98.5h2M17 98.5h1M24 98.5h1M26 98.5h1M33 98.5h1M43 98.5h1M5 99.5h1M16 99.5h1M18 99.5h1M30 99.5h1M32 99.5h1M39 99.5h1M47 99.5h1M60 99.5h1M5 100.5h1M32 100.5h2M53 100.5h1M0 101.5h1M7 101.5h1M16 101.5h1M65 101.5h1M12 102.5h1M22 102.5h1M57 102.5h1M2 103.5h1M29 103.5h1M31 103.5h1M44 103.5h1M55 103.5h1M60 103.5h1M9 104.5h1M16 104.5h1M22 104.5h2M30 104.5h1M35 104.5h1M42 104.5h1M52 104.5h1M55 104.5h1M2 105.5h1M14 105.5h1M34 105.5h1M41 105.5h1M1 106.5h1M3 106.5h1M5 106.5h1M8 106.5h1M17 106.5h1M20 106.5h1M25 106.5h1M52 106.5h2M58 106.5h1M4 107.5h1M30 107.5h1M32 107.5h1M35 107.5h1M52 107.5h1M57 107.5h1M4 108.5h1M48 108.5h1M52 108.5h1M4 109.5h1M19 109.5h1M25 109.5h1M30 109.5h1M34 109.5h1M39 109.5h1M44 109.5h1M48 109.5h1M51 109.5h1M59 109.5h1M1 110.5h1M17 110.5h1M24 110.5h1M45 110.5h1M51 110.5h1M1 111.5h1M33 111.5h1M35 111.5h1M38 111.5h1M12 112.5h1M35 112.5h1M39 112.5h1M63 112.5h1M6 113.5h1M18 113.5h1M20 113.5h1M22 113.5h1M41 113.5h1M63 113.5h1M3 114.5h1M19 114.5h1M24 114.5h1M45 114.5h1M47 114.5h1M15 115.5h1M29 115.5h3M39 115.5h1M60 115.5h1M12 116.5h1M24 116.5h1M64 116.5h1M2 117.5h1M30 117.5h2M40 117.5h1M43 117.5h1M53 117.5h1M58 117.5h1M3 118.5h1M12 118.5h1M18 118.5h1M21 118.5h1M30 118.5h1M47 118.5h1M64 118.5h1M24 119.5h1M35 119.5h1M6 120.5h1M16 120.5h2M22 120.5h1M36 120.5h1M40 120.5h1M44 120.5h2M51 120.5h1M54 120.5h1M61 120.5h1M64 120.5h1M1 121.5h2M20 121.5h1M23 121.5h1M38 121.5h1M52 121.5h1M22 122.5h1M30 122.5h1M33 122.5h1M60 122.5h1M3 123.5h1M8 123.5h1M20 123.5h3M24 123.5h1M28 123.5h1M45 123.5h1M52 123.5h2M2 124.5h1M4 124.5h1M8 124.5h1M13 124.5h2M26 124.5h1M34 124.5h1M38 124.5h1M41 124.5h1M58 124.5h1M12 125.5h1M18 125.5h1M27 125.5h2M42 125.5h1M59 125.5h1M5 126.5h1M9 126.5h1M17 126.5h1M19 126.5h1M36 126.5h1M46 126.5h1M51 126.5h1M55 126.5h2M62 126.5h1M3 127.5h1M13 127.5h1M31 127.5h2" stroke="#fff" stroke-width="1" fill="none" shape-rendering="crispEdges"/></pattern><mask id="hm3" maskUnits="userSpaceOnUse" x="52" y="48.8" width="824.2" height="633.6"><rect x="52" y="48.8" width="824.2" height="633.6" fill="url(#hp3)"/></mask><pattern id="hp4" patternUnits="userSpaceOnUse" width="66" height="128" patternTransform="translate(52 48.8) scale(2.4900 1.65)"><path d="M7 0.5h1M10 0.5h1M18 0.5h2M23 0.5h1M40 0.5h1M44 0.5h1M59 0.5h1M63 0.5h1M7 1.5h4M15 1.5h2M18 1.5h2M43 1.5h3M50 1.5h1M62 1.5h1M6 2.5h1M15 2.5h1M30 2.5h1M57 2.5h1M61 2.5h1M18 3.5h1M31 3.5h1M36 3.5h1M41 3.5h1M60 3.5h1M21 4.5h1M29 4.5h1M53 4.5h1M55 4.5h1M7 5.5h2M7 6.5h1M11 6.5h1M15 6.5h1M28 6.5h2M34 6.5h1M43 6.5h1M48 6.5h1M62 6.5h1M2 7.5h1M8 7.5h1M10 7.5h1M13 7.5h1M15 7.5h1M41 7.5h1M45 7.5h1M65 7.5h1M19 8.5h1M25 8.5h1M49 8.5h1M6 9.5h1M20 9.5h1M30 9.5h1M34 9.5h2M45 9.5h1M49 9.5h1M53 9.5h1M62 9.5h1M5 10.5h1M7 10.5h1M9 10.5h1M13 10.5h2M17 10.5h1M32 10.5h1M34 10.5h1M41 10.5h2M52 10.5h1M12 11.5h1M18 11.5h1M25 11.5h1M37 11.5h1M45 11.5h1M50 11.5h1M53 11.5h1M56 11.5h1M60 11.5h1M10 12.5h1M13 12.5h1M17 12.5h1M20 12.5h1M24 12.5h1M30 12.5h1M32 12.5h1M56 12.5h1M15 13.5h1M22 13.5h2M48 13.5h1M50 13.5h1M61 13.5h1M2 14.5h1M18 14.5h1M25 14.5h1M36 14.5h1M41 14.5h1M64 14.5h1M24 15.5h1M27 15.5h1M37 15.5h1M54 15.5h1M3 16.5h1M13 16.5h1M19 16.5h1M25 16.5h1M29 16.5h1M32 16.5h1M38 16.5h1M60 16.5h1M1 17.5h1M3 17.5h1M23 17.5h1M38 17.5h1M46 17.5h1M62 17.5h1M5 18.5h1M7 18.5h1M28 18.5h2M33 18.5h1M50 18.5h1M63 18.5h1M5 19.5h1M11 19.5h2M24 19.5h1M28 19.5h1M36 19.5h1M43 19.5h1M46 19.5h1M54 19.5h1M56 19.5h1M7 20.5h2M14 20.5h1M16 20.5h1M46 20.5h2M58 20.5h1M20 21.5h1M29 21.5h1M38 21.5h2M42 21.5h1M44 21.5h1M61 21.5h1M3 22.5h1M16 22.5h1M50 22.5h1M59 22.5h1M4 23.5h1M11 23.5h1M28 23.5h1M30 23.5h2M53 23.5h1M56 23.5h1M3 24.5h1M10 24.5h1M15 24.5h1M18 24.5h1M27 24.5h2M39 24.5h2M44 24.5h1M50 24.5h1M55 24.5h1M62 24.5h1M0 25.5h1M21 25.5h1M30 25.5h1M32 25.5h1M58 25.5h1M63 25.5h1M5 26.5h1M10 26.5h2M26 26.5h2M38 26.5h2M49 26.5h1M56 26.5h1M21 27.5h1M33 27.5h1M39 27.5h1M45 27.5h1M53 27.5h1M28 28.5h1M38 28.5h1M56 28.5h1M65 28.5h1M12 29.5h1M19 29.5h2M25 29.5h1M51 29.5h1M22 30.5h1M32 30.5h1M42 30.5h1M47 30.5h1M63 30.5h1M65 30.5h1M15 31.5h1M18 31.5h1M37 31.5h2M43 31.5h3M7 32.5h1M20 32.5h1M25 32.5h1M32 32.5h1M34 32.5h1M41 32.5h1M55 32.5h1M61 32.5h1M1 33.5h1M15 33.5h1M17 33.5h1M21 33.5h1M27 33.5h1M32 33.5h1M44 33.5h1M46 33.5h1M51 33.5h1M2 34.5h1M11 34.5h2M25 34.5h1M28 34.5h1M56 34.5h1M1 35.5h1M7 35.5h1M30 35.5h1M36 35.5h1M40 35.5h1M25 36.5h1M30 36.5h1M38 36.5h1M62 36.5h1M0 37.5h1M2 37.5h1M4 37.5h1M22 37.5h1M25 37.5h1M34 37.5h1M38 37.5h1M59 37.5h1M6 38.5h1M8 38.5h2M29 38.5h1M32 38.5h1M35 38.5h1M38 38.5h1M41 38.5h1M3 39.5h1M6 39.5h1M16 39.5h1M20 39.5h1M41 39.5h1M49 39.5h1M57 39.5h1M65 39.5h1M2 40.5h1M5 40.5h1M7 40.5h1M9 40.5h1M23 40.5h1M4 41.5h1M6 41.5h1M9 41.5h1M16 41.5h1M22 41.5h1M27 41.5h1M48 41.5h1M60 41.5h1M2 42.5h1M12 42.5h2M33 42.5h1M43 42.5h1M46 42.5h1M48 42.5h1M51 42.5h1M53 42.5h1M2 43.5h1M20 43.5h1M23 43.5h4M35 43.5h1M59 43.5h2M35 44.5h1M38 44.5h1M43 44.5h1M50 44.5h1M58 44.5h1M2 45.5h1M6 45.5h1M9 45.5h2M13 45.5h1M32 45.5h1M1 46.5h1M3 46.5h1M7 46.5h1M11 46.5h1M23 46.5h1M29 46.5h1M37 46.5h1M43 46.5h1M49 46.5h1M2 47.5h1M5 47.5h1M9 47.5h1M16 47.5h1M31 47.5h1M34 47.5h1M47 47.5h2M54 47.5h2M58 47.5h1M62 47.5h1M2 48.5h1M10 48.5h1M12 48.5h1M31 48.5h1M50 48.5h2M4 49.5h1M46 49.5h1M56 49.5h1M59 49.5h1M18 50.5h2M22 50.5h1M54 50.5h1M56 50.5h1M62 50.5h1M6 51.5h1M15 51.5h1M29 51.5h1M38 51.5h1M42 51.5h1M15 52.5h1M36 52.5h1M40 52.5h1M52 52.5h1M7 53.5h1M11 53.5h1M27 53.5h1M62 53.5h1M19 54.5h1M38 54.5h1M40 54.5h1M43 54.5h1M48 54.5h1M2 55.5h2M8 55.5h1M13 55.5h1M35 55.5h1M63 55.5h1M7 56.5h1M15 56.5h1M29 56.5h2M42 56.5h1M51 56.5h2M61 56.5h2M2 57.5h1M4 57.5h1M12 57.5h1M60 57.5h1M21 58.5h1M23 58.5h1M30 58.5h1M40 58.5h1M60 58.5h1M5 59.5h1M7 59.5h1M15 59.5h1M22 59.5h1M39 59.5h1M41 59.5h1M54 59.5h1M56 59.5h1M2 60.5h1M8 60.5h1M11 60.5h1M21 60.5h1M26 60.5h1M30 60.5h1M47 60.5h1M49 60.5h1M2 61.5h1M28 61.5h1M31 61.5h1M45 61.5h1M50 61.5h1M53 61.5h1M55 61.5h2M64 61.5h1M10 62.5h1M13 62.5h1M21 62.5h2M46 62.5h1M60 62.5h1M6 63.5h1M8 63.5h1M15 63.5h1M18 63.5h1M31 63.5h1M34 63.5h1M38 63.5h1M40 63.5h1M47 63.5h1M55 63.5h1M19 64.5h1M29 64.5h1M56 64.5h1M8 65.5h1M32 65.5h1M37 65.5h1M52 65.5h1M15 66.5h1M24 66.5h1M29 66.5h1M33 66.5h1M42 66.5h1M65 66.5h1M17 67.5h1M27 67.5h1M40 67.5h1M59 67.5h1M1 68.5h1M15 68.5h2M18 68.5h1M29 68.5h1M32 68.5h2M37 68.5h1M39 68.5h2M51 68.5h1M56 68.5h2M2 69.5h1M4 69.5h1M12 69.5h1M15 69.5h1M30 69.5h1M39 69.5h1M55 69.5h1M60 69.5h1M15 70.5h1M18 70.5h1M35 70.5h1M38 70.5h2M25 71.5h1M30 71.5h1M37 71.5h1M45 71.5h1M53 71.5h1M58 71.5h1M5 72.5h1M28 72.5h1M41 72.5h1M55 72.5h1M65 72.5h1M12 73.5h1M21 73.5h1M27 73.5h1M31 73.5h1M40 73.5h1M15 74.5h2M20 74.5h1M49 74.5h1M57 74.5h2M0 75.5h1M11 75.5h1M14 75.5h1M20 75.5h1M29 75.5h1M31 75.5h1M37 75.5h1M42 75.5h1M62 75.5h1M4 76.5h1M15 76.5h1M20 76.5h2M23 76.5h1M31 76.5h1M35 76.5h1M42 76.5h1M45 76.5h1M49 76.5h1M17 77.5h1M27 77.5h1M32 77.5h2M40 77.5h1M43 77.5h1M50 77.5h1M55 77.5h1M59 77.5h1M63 77.5h1M2 78.5h1M12 78.5h1M47 78.5h1M60 78.5h1M63 78.5h1M20 79.5h2M39 79.5h1M53 79.5h2M10 80.5h1M24 80.5h1M33 80.5h1M65 80.5h1M21 81.5h1M27 81.5h1M37 81.5h1M39 81.5h1M41 81.5h2M44 81.5h1M58 81.5h1M64 81.5h1M8 82.5h1M16 82.5h2M19 82.5h1M30 82.5h1M37 82.5h1M39 82.5h1M44 82.5h1M63 82.5h2M31 83.5h1M44 83.5h1M46 83.5h1M63 83.5h1M4 84.5h2M9 84.5h1M26 84.5h1M49 84.5h1M55 84.5h1M0 85.5h1M4 85.5h1M7 85.5h1M22 85.5h1M46 85.5h1M50 85.5h1M53 85.5h1M0 86.5h1M4 86.5h1M24 86.5h1M33 86.5h1M35 86.5h1M42 86.5h1M6 87.5h1M13 87.5h1M40 87.5h1M42 87.5h1M54 87.5h1M58 87.5h1M65 87.5h1M18 88.5h1M40 88.5h1M16 89.5h1M30 89.5h1M36 89.5h1M41 89.5h1M43 89.5h1M45 89.5h1M49 89.5h1M51 89.5h1M65 89.5h1M21 90.5h1M23 90.5h1M38 90.5h1M44 90.5h1M52 90.5h1M62 90.5h1M3 91.5h1M27 91.5h1M42 91.5h1M8 92.5h1M13 92.5h1M18 92.5h1M21 92.5h1M42 92.5h1M48 92.5h1M50 92.5h1M57 92.5h4M0 93.5h1M3 93.5h1M5 93.5h1M9 93.5h2M12 93.5h1M16 93.5h1M20 93.5h2M51 93.5h1M62 93.5h1M2 94.5h1M26 94.5h1M29 94.5h1M37 94.5h1M64 94.5h2M16 95.5h1M20 95.5h1M49 95.5h1M56 95.5h1M12 96.5h1M21 96.5h1M24 96.5h1M37 96.5h1M40 96.5h1M44 96.5h2M61 96.5h1M4 97.5h1M9 97.5h1M11 97.5h1M26 97.5h1M29 97.5h1M31 97.5h1M38 97.5h1M50 97.5h1M55 97.5h1M18 98.5h1M22 98.5h2M31 98.5h1M50 98.5h1M60 98.5h1M0 99.5h1M2 99.5h1M6 99.5h1M11 99.5h1M13 99.5h1M41 99.5h1M55 99.5h3M6 100.5h1M10 100.5h1M23 100.5h1M28 100.5h1M27 101.5h1M35 101.5h1M41 101.5h1M43 101.5h1M58 101.5h2M4 102.5h1M51 102.5h1M61 102.5h1M65 102.5h1M6 103.5h2M22 103.5h1M51 103.5h1M54 103.5h1M17 104.5h1M21 104.5h1M34 104.5h1M0 105.5h1M8 105.5h1M16 105.5h1M27 105.5h1M39 105.5h2M2 106.5h1M14 106.5h1M16 106.5h1M19 106.5h1M27 106.5h1M36 106.5h1M42 106.5h1M44 106.5h1M47 106.5h1M50 106.5h1M18 107.5h1M37 107.5h1M56 107.5h1M38 108.5h1M46 108.5h1M53 108.5h1M27 109.5h1M37 109.5h1M61 109.5h1M3 110.5h1M14 110.5h1M35 110.5h2M40 110.5h1M42 110.5h1M47 110.5h2M57 110.5h1M59 110.5h1M0 111.5h1M7 111.5h1M18 111.5h1M42 111.5h1M49 111.5h1M56 111.5h1M63 111.5h1M0 112.5h1M2 112.5h1M9 112.5h1M13 112.5h1M25 112.5h1M28 112.5h1M33 112.5h1M45 112.5h1M57 112.5h1M64 112.5h1M2 113.5h1M11 113.5h1M17 113.5h1M21 113.5h1M25 113.5h1M39 113.5h1M42 113.5h1M45 113.5h1M49 113.5h1M54 113.5h1M61 113.5h2M15 114.5h1M34 114.5h1M50 114.5h1M57 114.5h1M21 115.5h2M35 115.5h1M45 115.5h1M49 115.5h1M55 115.5h1M58 115.5h1M2 116.5h1M7 116.5h1M16 116.5h1M20 116.5h1M49 116.5h1M56 116.5h1M21 117.5h1M55 117.5h1M60 117.5h1M62 117.5h1M4 118.5h1M36 118.5h1M43 118.5h1M56 118.5h1M61 118.5h1M10 119.5h1M23 119.5h1M34 119.5h1M41 119.5h1M44 119.5h1M51 119.5h1M55 119.5h1M58 119.5h1M3 120.5h1M38 120.5h1M25 121.5h1M35 121.5h2M49 121.5h2M7 122.5h1M17 122.5h1M34 122.5h1M40 122.5h1M42 122.5h1M47 122.5h1M62 122.5h3M6 123.5h1M23 123.5h1M29 123.5h1M36 123.5h1M43 123.5h1M61 123.5h1M10 124.5h1M17 124.5h1M25 124.5h1M29 124.5h1M31 124.5h2M43 124.5h1M63 124.5h1M0 125.5h1M4 125.5h1M6 125.5h1M11 125.5h1M15 125.5h1M19 125.5h1M31 125.5h1M41 125.5h1M45 125.5h1M48 125.5h1M63 125.5h1M30 126.5h1M39 126.5h1M45 126.5h1M59 126.5h1M15 127.5h1M33 127.5h1M38 127.5h1M42 127.5h1" stroke="#fff" stroke-width="1" fill="none" shape-rendering="crispEdges"/></pattern><mask id="hm4" maskUnits="userSpaceOnUse" x="52" y="48.8" width="824.2" height="633.6"><rect x="52" y="48.8" width="824.2" height="633.6" fill="url(#hp4)"/></mask><pattern id="hp5" patternUnits="userSpaceOnUse" width="66" height="128" patternTransform="translate(52 48.8) scale(2.4900 1.65)"><path d="M6 0.5h1M21 0.5h1M24 0.5h1M6 1.5h1M40 1.5h1M49 1.5h1M59 1.5h1M5 2.5h1M11 2.5h1M27 2.5h1M41 2.5h1M50 2.5h1M63 2.5h1M0 3.5h1M9 3.5h1M21 3.5h1M30 3.5h1M35 3.5h1M40 3.5h1M43 3.5h1M6 4.5h1M10 4.5h1M34 4.5h2M38 4.5h1M49 4.5h1M51 4.5h1M61 4.5h1M63 4.5h1M65 4.5h1M15 5.5h1M38 5.5h2M41 5.5h1M49 5.5h1M55 5.5h1M61 5.5h2M20 6.5h1M37 6.5h1M50 6.5h1M6 7.5h1M12 7.5h1M16 7.5h1M42 7.5h1M44 7.5h1M61 7.5h1M13 8.5h1M31 8.5h1M33 8.5h2M45 8.5h1M56 8.5h2M60 8.5h2M2 9.5h2M12 9.5h1M15 9.5h1M18 9.5h2M26 9.5h1M37 9.5h3M48 9.5h1M3 10.5h1M12 10.5h1M19 10.5h1M37 10.5h1M45 10.5h1M53 10.5h1M55 10.5h1M0 11.5h1M5 11.5h1M22 11.5h1M27 11.5h2M42 11.5h1M48 11.5h1M65 11.5h1M19 12.5h1M26 12.5h2M33 12.5h2M41 12.5h1M51 12.5h1M53 12.5h1M59 12.5h2M27 13.5h1M54 13.5h1M60 13.5h1M0 14.5h1M3 14.5h1M11 14.5h1M13 14.5h1M17 14.5h1M40 14.5h1M42 14.5h1M61 14.5h1M1 15.5h1M6 15.5h1M64 15.5h1M4 16.5h1M23 16.5h2M26 16.5h1M36 16.5h1M41 16.5h1M43 16.5h2M46 16.5h1M14 17.5h1M26 17.5h1M32 17.5h1M42 17.5h1M57 17.5h1M61 17.5h1M4 18.5h1M19 18.5h1M21 18.5h1M32 18.5h1M36 18.5h2M55 18.5h1M62 18.5h1M8 19.5h1M16 19.5h1M37 19.5h1M47 19.5h1M0 20.5h2M11 20.5h2M23 20.5h1M27 20.5h1M35 20.5h2M41 20.5h1M56 20.5h1M64 20.5h1M1 21.5h1M3 21.5h1M18 21.5h1M22 21.5h1M28 21.5h1M56 21.5h1M1 22.5h1M5 22.5h1M14 22.5h1M53 22.5h1M2 23.5h1M13 23.5h1M43 23.5h1M47 23.5h1M51 23.5h1M57 23.5h1M61 23.5h1M13 24.5h1M24 24.5h1M65 24.5h1M8 25.5h1M24 25.5h1M26 25.5h1M29 25.5h1M37 25.5h1M47 25.5h1M49 25.5h2M65 25.5h1M3 26.5h1M7 26.5h1M35 26.5h1M37 26.5h1M55 26.5h1M4 27.5h1M24 27.5h1M44 27.5h1M62 27.5h1M0 28.5h1M2 28.5h1M15 28.5h1M21 28.5h1M30 28.5h1M33 28.5h1M35 28.5h1M52 28.5h1M57 28.5h1M3 29.5h1M13 29.5h1M17 29.5h1M40 29.5h1M57 29.5h1M27 30.5h1M31 30.5h1M43 30.5h1M54 30.5h2M59 30.5h1M4 31.5h1M7 31.5h1M12 31.5h2M33 31.5h1M55 31.5h1M58 31.5h1M27 32.5h1M42 32.5h1M60 32.5h1M28 33.5h2M34 33.5h1M37 33.5h1M48 33.5h1M56 33.5h1M5 34.5h1M10 34.5h1M17 34.5h1M20 34.5h1M39 34.5h1M44 34.5h1M57 34.5h1M32 35.5h1M51 35.5h2M63 35.5h1M5 36.5h1M7 36.5h1M9 36.5h1M17 36.5h1M22 36.5h1M44 36.5h1M46 36.5h1M49 36.5h1M61 36.5h1M19 37.5h2M45 37.5h2M24 38.5h1M45 38.5h1M64 38.5h1M7 39.5h1M9 39.5h1M28 39.5h1M34 39.5h1M61 39.5h1M10 40.5h1M24 40.5h1M39 40.5h1M2 41.5h1M10 41.5h1M35 41.5h1M58 41.5h1M5 42.5h1M30 42.5h1M35 42.5h2M60 42.5h1M63 42.5h1M8 43.5h1M27 43.5h1M29 43.5h2M42 43.5h1M45 43.5h2M52 43.5h2M58 43.5h1M4 44.5h1M11 44.5h1M28 44.5h1M40 44.5h1M44 44.5h2M47 44.5h1M51 44.5h2M54 44.5h1M61 44.5h1M1 45.5h1M4 45.5h1M42 45.5h1M45 45.5h1M47 45.5h1M52 45.5h1M64 45.5h2M9 46.5h1M19 46.5h1M32 46.5h1M42 46.5h1M52 46.5h1M4 47.5h1M10 47.5h1M49 47.5h1M52 47.5h1M5 48.5h1M9 48.5h1M18 48.5h1M20 48.5h1M47 48.5h1M65 48.5h1M1 49.5h1M3 49.5h1M13 49.5h1M32 49.5h1M54 49.5h1M4 50.5h1M12 50.5h1M21 50.5h1M25 50.5h1M33 50.5h1M47 50.5h1M55 50.5h1M0 51.5h2M5 51.5h1M12 51.5h1M16 51.5h1M18 51.5h1M27 51.5h1M37 51.5h1M45 51.5h1M58 51.5h1M22 52.5h1M33 52.5h1M42 52.5h1M50 52.5h1M55 52.5h1M60 52.5h1M65 52.5h1M4 53.5h2M10 53.5h1M14 53.5h1M42 53.5h2M47 53.5h1M59 53.5h1M4 54.5h1M8 54.5h1M10 54.5h1M21 54.5h1M37 54.5h1M49 54.5h2M57 54.5h1M10 55.5h1M14 55.5h1M30 55.5h2M33 55.5h1M36 55.5h1M38 55.5h2M53 55.5h1M61 55.5h1M3 56.5h1M21 56.5h1M23 56.5h1M33 56.5h1M37 56.5h1M48 56.5h1M54 56.5h1M60 56.5h1M63 56.5h1M14 57.5h1M19 57.5h1M29 57.5h1M38 57.5h1M44 57.5h1M49 57.5h1M18 58.5h2M42 58.5h1M47 58.5h1M52 58.5h1M64 58.5h1M2 59.5h1M9 59.5h1M11 59.5h1M17 59.5h1M43 59.5h1M60 59.5h1M1 60.5h1M14 60.5h1M28 60.5h1M41 60.5h1M62 60.5h1M64 60.5h1M15 61.5h1M20 61.5h1M41 61.5h1M58 61.5h1M62 61.5h1M6 62.5h1M9 62.5h1M19 62.5h1M24 62.5h1M39 62.5h1M3 63.5h1M23 63.5h1M27 63.5h1M30 63.5h1M32 63.5h1M36 63.5h1M41 63.5h1M57 63.5h1M9 64.5h1M37 64.5h1M41 64.5h1M49 64.5h1M54 64.5h1M64 64.5h2M1 65.5h1M18 65.5h1M21 65.5h1M28 65.5h2M35 65.5h1M42 65.5h1M54 65.5h1M58 65.5h1M62 65.5h1M18 66.5h2M32 66.5h1M59 66.5h1M62 66.5h1M8 67.5h1M11 67.5h1M26 67.5h1M34 67.5h1M45 67.5h1M48 67.5h1M52 67.5h1M2 68.5h2M5 68.5h1M28 68.5h1M43 68.5h1M54 68.5h1M1 69.5h1M7 69.5h1M11 69.5h1M24 69.5h3M49 69.5h1M62 69.5h1M3 70.5h1M63 70.5h2M19 71.5h1M24 71.5h1M33 71.5h1M43 71.5h1M50 71.5h1M65 71.5h1M6 72.5h1M16 72.5h1M18 72.5h1M20 72.5h1M33 72.5h1M64 72.5h1M0 73.5h1M15 73.5h2M23 73.5h1M39 73.5h1M60 73.5h1M0 74.5h1M14 74.5h1M59 74.5h1M24 75.5h1M28 75.5h1M33 75.5h1M43 75.5h1M47 75.5h1M51 75.5h1M54 75.5h1M57 75.5h1M19 76.5h1M24 76.5h1M40 76.5h1M2 77.5h2M20 77.5h1M31 77.5h1M45 77.5h1M8 78.5h1M15 78.5h1M19 78.5h1M27 78.5h1M44 78.5h1M46 78.5h1M48 78.5h1M61 78.5h1M1 79.5h1M4 79.5h1M7 79.5h1M9 79.5h1M40 79.5h1M47 79.5h2M50 79.5h1M58 79.5h1M3 80.5h1M30 80.5h1M34 80.5h1M37 80.5h1M41 80.5h1M44 80.5h1M14 81.5h1M34 81.5h1M36 81.5h1M47 81.5h1M55 81.5h1M3 82.5h1M6 82.5h1M14 82.5h2M20 82.5h1M32 82.5h1M42 82.5h1M52 82.5h1M19 83.5h1M33 83.5h1M36 83.5h1M43 83.5h1M52 83.5h1M64 83.5h1M6 84.5h1M18 84.5h1M46 84.5h1M54 84.5h1M56 84.5h1M61 84.5h1M6 85.5h1M18 85.5h1M21 85.5h1M23 85.5h1M27 85.5h1M30 85.5h1M40 85.5h1M43 85.5h1M61 85.5h2M9 86.5h1M17 86.5h1M28 86.5h1M57 86.5h1M2 87.5h1M10 87.5h1M14 87.5h1M17 87.5h1M28 87.5h1M31 87.5h1M60 87.5h1M62 87.5h1M13 88.5h1M20 88.5h1M33 88.5h1M45 88.5h1M52 88.5h1M57 88.5h1M65 88.5h1M24 89.5h1M29 89.5h1M35 89.5h1M54 89.5h1M62 89.5h1M0 90.5h1M4 90.5h1M7 90.5h1M11 90.5h1M18 90.5h1M35 90.5h1M41 90.5h1M54 90.5h1M63 90.5h1M4 91.5h1M6 91.5h1M10 91.5h2M23 91.5h1M40 91.5h1M49 91.5h1M3 92.5h1M12 92.5h1M22 92.5h2M43 92.5h1M14 93.5h1M17 93.5h1M38 93.5h1M44 93.5h1M65 93.5h1M7 94.5h1M10 94.5h1M14 94.5h1M52 94.5h1M59 94.5h1M2 95.5h3M9 95.5h1M18 95.5h1M41 95.5h1M46 95.5h1M48 95.5h1M4 96.5h1M28 96.5h1M36 96.5h1M51 96.5h1M53 96.5h1M60 96.5h1M63 96.5h2M23 97.5h1M40 97.5h1M51 97.5h1M56 97.5h1M37 98.5h2M1 99.5h1M8 99.5h1M22 99.5h1M33 99.5h1M59 99.5h1M65 99.5h1M0 100.5h1M13 100.5h1M24 100.5h3M40 100.5h1M44 100.5h1M60 100.5h1M6 101.5h1M15 101.5h1M21 101.5h1M33 101.5h1M40 101.5h1M3 102.5h1M20 102.5h1M43 102.5h1M52 102.5h1M58 102.5h1M60 102.5h1M18 103.5h2M37 103.5h1M43 103.5h1M46 103.5h1M48 103.5h1M58 103.5h1M62 103.5h1M25 104.5h1M29 104.5h1M31 104.5h1M57 104.5h1M17 105.5h1M36 105.5h1M43 105.5h1M45 105.5h1M53 105.5h1M33 106.5h1M55 106.5h1M0 107.5h1M15 107.5h1M22 107.5h1M39 107.5h1M43 107.5h1M64 107.5h1M0 108.5h1M6 108.5h1M19 108.5h1M23 108.5h1M31 108.5h2M34 108.5h1M47 108.5h1M1 109.5h1M6 109.5h1M22 109.5h1M38 109.5h1M40 109.5h1M58 109.5h1M4 110.5h1M13 110.5h1M28 110.5h1M38 110.5h1M56 110.5h1M62 110.5h1M64 110.5h1M50 111.5h1M4 112.5h1M16 112.5h1M18 112.5h1M26 112.5h1M42 112.5h1M46 112.5h1M51 112.5h1M9 113.5h1M23 113.5h2M64 113.5h1M2 114.5h1M13 114.5h1M23 114.5h1M27 114.5h1M59 114.5h1M61 114.5h1M63 114.5h1M14 115.5h1M23 115.5h1M47 115.5h1M59 115.5h1M64 115.5h1M4 116.5h1M11 116.5h1M17 116.5h1M29 116.5h1M39 116.5h2M43 116.5h1M57 117.5h1M61 117.5h1M63 117.5h1M2 118.5h1M6 118.5h1M16 118.5h2M35 118.5h1M40 118.5h1M48 118.5h1M62 118.5h1M0 119.5h1M5 119.5h1M9 119.5h1M16 119.5h1M22 119.5h1M54 119.5h1M8 120.5h1M23 120.5h1M28 120.5h2M34 120.5h1M48 120.5h1M53 120.5h1M56 120.5h1M65 120.5h1M12 121.5h1M19 121.5h1M27 121.5h1M33 121.5h1M40 121.5h1M56 121.5h1M58 121.5h1M1 122.5h1M3 122.5h1M15 122.5h1M38 122.5h1M49 122.5h1M7 123.5h1M40 123.5h1M44 123.5h1M55 123.5h1M59 123.5h1M27 124.5h1M55 124.5h1M59 124.5h1M1 125.5h1M13 125.5h1M25 125.5h1M51 125.5h1M65 125.5h1M2 126.5h2M10 126.5h1M25 126.5h1M40 126.5h1M47 126.5h1M7 127.5h1M27 127.5h2M36 127.5h2M53 127.5h1M61 127.5h2" stroke="#fff" stroke-width="1" fill="none" shape-rendering="crispEdges"/></pattern><mask id="hm5" maskUnits="userSpaceOnUse" x="52" y="48.8" width="824.2" height="633.6"><rect x="52" y="48.8" width="824.2" height="633.6" fill="url(#hp5)"/></mask><pattern id="hp6" patternUnits="userSpaceOnUse" width="66" height="128" patternTransform="translate(52 48.8) scale(2.4900 1.65)"><path d="M35 0.5h1M37 0.5h1M64 0.5h1M3 1.5h1M17 1.5h1M20 1.5h1M31 1.5h1M58 1.5h1M13 2.5h1M21 2.5h1M28 2.5h1M33 2.5h1M35 2.5h1M37 2.5h1M46 2.5h2M64 2.5h1M10 3.5h1M42 3.5h1M44 3.5h2M56 3.5h1M63 3.5h1M1 4.5h1M4 4.5h1M14 4.5h1M27 4.5h1M37 4.5h1M39 4.5h1M42 4.5h1M58 4.5h1M16 5.5h1M24 5.5h1M26 5.5h1M42 5.5h1M51 5.5h1M1 6.5h1M22 6.5h2M33 6.5h1M61 6.5h1M25 7.5h4M30 7.5h1M39 7.5h1M2 8.5h1M7 8.5h1M9 8.5h1M12 8.5h1M14 8.5h1M36 8.5h1M64 8.5h2M5 9.5h1M11 9.5h1M13 9.5h1M22 9.5h1M31 9.5h1M36 9.5h1M41 9.5h1M52 9.5h1M2 10.5h1M16 10.5h1M30 10.5h2M38 10.5h1M43 10.5h1M54 10.5h1M58 10.5h1M63 10.5h1M8 11.5h1M49 11.5h1M55 11.5h1M63 11.5h1M6 12.5h1M31 12.5h1M36 12.5h1M38 12.5h1M40 12.5h1M44 12.5h1M46 12.5h1M4 13.5h1M12 13.5h1M49 13.5h1M53 13.5h1M55 13.5h1M65 13.5h1M12 14.5h1M22 14.5h1M26 14.5h3M32 14.5h1M45 14.5h1M48 14.5h1M50 14.5h2M55 14.5h1M59 14.5h1M62 14.5h1M65 14.5h1M25 15.5h1M33 15.5h1M39 15.5h1M41 15.5h1M49 15.5h1M2 16.5h1M18 16.5h1M27 16.5h1M53 16.5h1M58 16.5h1M62 16.5h1M64 16.5h1M10 17.5h1M15 17.5h1M17 17.5h1M20 17.5h1M22 17.5h1M29 17.5h1M36 17.5h1M41 17.5h1M58 17.5h1M16 18.5h1M20 18.5h1M45 18.5h1M47 18.5h1M52 18.5h2M56 18.5h1M65 18.5h1M3 19.5h1M32 19.5h1M40 19.5h1M64 19.5h1M15 20.5h1M17 20.5h1M19 20.5h1M25 20.5h1M30 20.5h1M48 20.5h2M7 21.5h1M19 21.5h1M50 21.5h1M53 21.5h1M58 21.5h2M0 22.5h1M7 22.5h1M17 22.5h1M29 22.5h1M37 22.5h1M39 22.5h1M46 22.5h1M29 23.5h1M34 23.5h1M63 23.5h1M4 24.5h1M9 24.5h1M12 24.5h1M23 24.5h1M25 24.5h1M29 24.5h1M32 24.5h1M41 24.5h1M60 24.5h1M1 25.5h1M9 25.5h1M22 25.5h1M41 25.5h1M59 25.5h1M64 25.5h1M0 26.5h1M28 26.5h1M59 26.5h1M62 26.5h1M6 27.5h1M8 27.5h1M30 27.5h1M38 27.5h1M46 27.5h1M57 27.5h1M7 28.5h1M14 28.5h1M31 28.5h1M41 28.5h1M44 28.5h1M46 28.5h1M49 28.5h1M2 29.5h1M4 29.5h1M15 29.5h1M22 29.5h1M33 29.5h1M39 29.5h1M45 29.5h1M55 29.5h1M65 29.5h1M1 30.5h1M7 30.5h1M24 30.5h1M40 30.5h1M60 30.5h1M5 31.5h1M16 31.5h2M34 31.5h1M36 31.5h1M46 31.5h1M54 31.5h1M61 31.5h1M5 32.5h1M8 32.5h1M12 32.5h2M37 32.5h1M46 32.5h1M3 33.5h1M10 33.5h1M12 33.5h2M20 33.5h1M26 33.5h1M57 33.5h3M22 34.5h1M29 34.5h1M32 34.5h1M34 34.5h1M47 34.5h1M52 34.5h1M54 34.5h1M6 35.5h1M22 35.5h1M19 36.5h1M26 36.5h1M28 36.5h1M50 36.5h1M56 36.5h1M18 37.5h1M28 37.5h1M43 37.5h1M49 37.5h2M52 37.5h1M61 37.5h1M3 38.5h1M13 38.5h1M37 38.5h1M40 38.5h1M56 38.5h1M60 38.5h1M12 39.5h1M50 39.5h1M53 39.5h2M60 39.5h1M34 40.5h1M37 40.5h1M50 40.5h1M60 40.5h1M63 40.5h1M1 41.5h1M24 41.5h1M26 41.5h1M32 41.5h1M47 41.5h1M63 41.5h1M64 42.5h1M18 43.5h1M32 43.5h1M50 43.5h1M54 43.5h1M65 43.5h1M8 44.5h2M13 44.5h1M22 44.5h1M32 44.5h1M34 44.5h1M39 44.5h1M55 44.5h1M16 45.5h1M18 45.5h2M38 45.5h1M57 45.5h1M0 46.5h1M6 46.5h1M8 46.5h1M16 46.5h1M18 46.5h1M46 46.5h1M63 46.5h1M3 47.5h1M13 47.5h1M20 47.5h1M35 47.5h2M40 47.5h1M51 47.5h1M63 47.5h1M0 48.5h1M17 48.5h1M43 48.5h1M48 48.5h1M64 48.5h1M14 49.5h1M38 49.5h1M58 49.5h1M3 50.5h1M20 50.5h1M31 50.5h1M41 50.5h1M43 50.5h1M52 50.5h1M65 50.5h1M11 51.5h1M20 51.5h1M22 51.5h3M40 51.5h1M63 51.5h1M65 51.5h1M2 52.5h1M7 52.5h1M16 52.5h1M18 52.5h1M38 52.5h1M51 52.5h1M53 52.5h1M56 52.5h1M9 53.5h1M22 53.5h1M25 53.5h1M28 53.5h1M34 53.5h2M37 53.5h1M53 53.5h1M1 54.5h1M7 54.5h1M11 54.5h1M42 54.5h1M64 54.5h1M23 55.5h1M37 55.5h1M42 55.5h1M22 56.5h1M55 56.5h1M58 56.5h1M64 56.5h1M3 57.5h1M20 57.5h1M27 57.5h2M31 57.5h1M40 57.5h1M52 57.5h1M62 57.5h1M16 58.5h1M36 58.5h2M41 58.5h1M46 58.5h1M53 58.5h1M1 59.5h1M23 59.5h1M25 59.5h1M35 59.5h1M50 59.5h2M61 59.5h2M3 60.5h1M16 60.5h1M33 60.5h1M39 60.5h1M0 61.5h1M6 61.5h1M10 61.5h1M21 61.5h1M34 61.5h1M40 61.5h1M65 61.5h1M5 62.5h1M15 62.5h1M41 62.5h1M51 62.5h1M54 62.5h1M2 63.5h1M14 63.5h1M33 63.5h1M42 63.5h1M45 63.5h1M50 63.5h1M1 64.5h2M8 64.5h1M24 64.5h1M26 64.5h1M35 64.5h1M57 64.5h1M22 65.5h1M24 65.5h1M34 65.5h1M36 65.5h1M39 65.5h1M59 65.5h2M16 66.5h1M21 66.5h1M25 66.5h1M30 66.5h1M36 66.5h1M56 66.5h1M6 67.5h1M13 67.5h1M61 67.5h1M8 68.5h1M14 68.5h1M27 68.5h1M38 68.5h1M41 68.5h1M64 68.5h1M14 69.5h1M23 69.5h1M41 69.5h1M43 69.5h1M58 69.5h1M63 69.5h1M4 70.5h1M30 70.5h1M34 70.5h1M43 70.5h1M45 70.5h1M48 70.5h1M54 70.5h2M61 70.5h1M7 71.5h1M10 71.5h1M14 71.5h1M38 71.5h1M46 71.5h1M52 71.5h1M13 72.5h1M17 72.5h1M25 72.5h1M34 72.5h1M38 72.5h1M42 72.5h1M63 72.5h1M13 73.5h1M30 73.5h1M32 73.5h5M41 73.5h1M46 73.5h1M4 74.5h1M6 74.5h1M11 74.5h1M22 74.5h1M39 74.5h1M43 74.5h1M50 74.5h2M53 74.5h1M18 75.5h1M23 75.5h1M40 75.5h2M44 75.5h1M49 75.5h1M12 76.5h1M22 76.5h1M26 76.5h1M48 76.5h1M54 76.5h1M8 77.5h1M13 77.5h1M36 77.5h1M53 77.5h1M57 77.5h1M4 78.5h1M22 78.5h1M37 78.5h1M49 78.5h1M54 78.5h1M57 78.5h1M12 79.5h1M14 79.5h1M35 79.5h1M37 79.5h1M44 79.5h1M57 79.5h1M20 80.5h1M22 80.5h1M28 80.5h1M31 80.5h1M46 80.5h1M58 80.5h1M60 80.5h1M63 80.5h1M0 81.5h2M12 81.5h1M18 81.5h2M49 81.5h1M53 81.5h1M1 82.5h1M9 82.5h2M25 82.5h1M28 82.5h1M35 82.5h1M41 82.5h1M59 82.5h1M61 82.5h2M0 83.5h1M3 83.5h1M6 83.5h1M13 83.5h1M17 83.5h1M24 83.5h1M35 83.5h1M45 83.5h1M49 83.5h1M54 83.5h1M57 83.5h1M65 83.5h1M20 84.5h1M29 84.5h1M36 84.5h1M39 84.5h1M41 84.5h1M10 85.5h1M13 85.5h1M44 85.5h1M49 85.5h1M1 86.5h1M30 86.5h1M36 86.5h1M50 86.5h1M56 86.5h1M32 87.5h1M37 87.5h1M48 87.5h1M55 87.5h1M59 87.5h1M11 88.5h1M14 88.5h1M38 88.5h1M44 88.5h1M48 88.5h1M54 88.5h1M0 89.5h1M2 89.5h1M7 89.5h1M20 89.5h1M40 89.5h1M48 89.5h1M53 89.5h1M3 90.5h1M6 90.5h1M26 90.5h1M32 90.5h1M39 90.5h1M42 90.5h1M51 90.5h1M53 90.5h1M21 91.5h1M29 91.5h1M35 91.5h1M47 91.5h1M52 91.5h1M54 91.5h2M59 91.5h1M65 91.5h1M6 92.5h1M10 92.5h1M24 92.5h1M32 92.5h1M34 92.5h1M36 92.5h1M40 92.5h1M6 93.5h1M13 93.5h1M19 93.5h1M23 93.5h1M29 93.5h1M40 93.5h1M55 93.5h1M57 93.5h1M60 93.5h1M63 93.5h1M1 94.5h1M11 94.5h1M16 94.5h1M20 94.5h1M27 94.5h1M42 94.5h1M49 94.5h1M1 95.5h1M8 95.5h1M14 95.5h1M51 95.5h1M58 95.5h1M60 95.5h1M15 96.5h1M26 96.5h1M41 96.5h1M49 96.5h1M3 97.5h1M7 97.5h2M21 97.5h1M48 97.5h1M57 97.5h1M0 98.5h1M5 98.5h1M25 98.5h1M29 98.5h1M45 98.5h1M49 98.5h1M62 98.5h1M64 98.5h1M15 99.5h1M27 99.5h1M37 99.5h1M40 99.5h1M50 99.5h1M53 99.5h1M64 99.5h1M16 100.5h1M18 100.5h1M21 100.5h1M35 100.5h1M46 100.5h1M55 100.5h1M57 100.5h1M65 100.5h1M4 101.5h1M17 101.5h1M23 101.5h1M26 101.5h1M51 101.5h2M64 101.5h1M2 102.5h1M13 102.5h1M18 102.5h1M25 102.5h2M30 102.5h1M32 102.5h1M37 102.5h1M47 102.5h1M64 102.5h1M15 103.5h2M35 103.5h1M41 103.5h1M64 103.5h1M5 104.5h1M8 104.5h1M19 104.5h1M33 104.5h1M37 104.5h1M46 104.5h1M61 104.5h1M3 105.5h2M6 105.5h1M12 105.5h2M18 105.5h1M21 105.5h1M28 105.5h1M42 105.5h1M49 105.5h1M10 106.5h2M29 106.5h1M39 106.5h2M61 106.5h1M3 107.5h1M40 107.5h1M59 107.5h1M5 108.5h1M16 108.5h1M20 108.5h1M24 108.5h1M29 108.5h1M33 108.5h1M56 108.5h1M60 108.5h1M7 109.5h1M10 109.5h1M12 109.5h1M16 109.5h1M18 109.5h1M33 109.5h1M41 109.5h1M47 109.5h1M49 109.5h1M55 109.5h1M60 109.5h1M8 110.5h1M22 110.5h1M27 110.5h1M49 110.5h2M55 110.5h1M26 111.5h1M29 111.5h1M39 111.5h1M47 111.5h1M52 111.5h1M57 111.5h1M50 112.5h1M1 113.5h1M3 113.5h1M10 113.5h1M19 113.5h1M31 113.5h1M36 113.5h1M51 113.5h1M57 113.5h1M65 113.5h1M0 114.5h1M4 114.5h3M38 114.5h1M46 114.5h1M64 114.5h1M26 115.5h1M32 115.5h1M46 115.5h1M13 116.5h1M27 116.5h1M32 116.5h1M45 116.5h1M0 117.5h1M8 117.5h2M13 117.5h1M19 117.5h1M24 117.5h1M33 117.5h1M36 117.5h1M50 117.5h1M56 117.5h1M29 118.5h1M38 118.5h1M42 118.5h1M52 118.5h2M58 118.5h3M14 119.5h2M19 119.5h1M49 119.5h1M65 119.5h1M1 120.5h1M19 120.5h1M27 120.5h1M50 120.5h1M0 121.5h1M3 121.5h1M26 121.5h1M28 121.5h1M54 121.5h1M63 121.5h1M9 122.5h2M28 122.5h1M41 122.5h1M59 122.5h1M13 123.5h1M15 123.5h1M38 123.5h1M47 123.5h2M54 123.5h1M64 123.5h1M1 124.5h1M5 124.5h1M22 124.5h1M30 124.5h1M35 124.5h1M47 124.5h1M64 124.5h1M16 125.5h1M22 125.5h1M40 125.5h1M53 125.5h1M29 126.5h1M32 126.5h1M41 126.5h1M50 126.5h1M54 126.5h1M58 126.5h1M11 127.5h1M14 127.5h1M19 127.5h1M41 127.5h1M47 127.5h1M56 127.5h1M59 127.5h1" stroke="#fff" stroke-width="1" fill="none" shape-rendering="crispEdges"/></pattern><mask id="hm6" maskUnits="userSpaceOnUse" x="52" y="48.8" width="824.2" height="633.6"><rect x="52" y="48.8" width="824.2" height="633.6" fill="url(#hp6)"/></mask><pattern id="hp7" patternUnits="userSpaceOnUse" width="66" height="128" patternTransform="translate(52 48.8) scale(2.4900 1.65)"><path d="M8 0.5h1M11 0.5h1M25 0.5h1M34 0.5h1M38 0.5h1M61 0.5h1M25 1.5h1M28 1.5h1M39 1.5h1M47 1.5h1M0 2.5h1M10 2.5h1M18 2.5h2M25 2.5h1M31 2.5h1M34 2.5h1M39 2.5h2M55 2.5h1M11 3.5h1M23 3.5h1M26 3.5h1M34 3.5h1M39 3.5h1M49 3.5h1M51 3.5h1M57 3.5h1M62 3.5h1M8 4.5h1M32 4.5h2M57 4.5h1M62 4.5h1M1 5.5h1M3 5.5h1M5 5.5h1M23 5.5h1M25 5.5h1M29 5.5h1M43 5.5h1M52 5.5h1M56 5.5h1M2 6.5h2M3 7.5h1M5 7.5h1M24 7.5h1M31 7.5h1M33 7.5h2M43 7.5h1M46 7.5h1M56 7.5h1M27 8.5h1M29 8.5h1M35 8.5h1M37 8.5h1M42 8.5h1M55 8.5h1M62 8.5h1M0 9.5h1M9 9.5h1M24 9.5h1M27 9.5h2M42 9.5h1M46 9.5h1M56 9.5h2M60 9.5h1M64 9.5h1M6 10.5h1M23 10.5h1M28 10.5h1M36 10.5h1M39 10.5h1M59 10.5h1M62 10.5h1M6 11.5h1M17 11.5h1M29 11.5h1M62 11.5h1M18 12.5h1M21 12.5h1M25 12.5h1M39 12.5h1M52 12.5h1M0 13.5h1M3 13.5h1M5 13.5h1M14 13.5h1M38 13.5h1M43 13.5h1M52 13.5h1M58 13.5h1M64 13.5h1M15 14.5h1M31 14.5h1M35 14.5h1M60 14.5h1M10 15.5h1M15 15.5h1M45 15.5h1M59 15.5h1M1 16.5h1M15 16.5h1M20 16.5h2M40 16.5h1M56 16.5h1M61 16.5h1M6 17.5h1M18 17.5h1M27 17.5h1M35 17.5h1M37 17.5h1M50 17.5h1M53 17.5h1M10 18.5h2M42 18.5h1M59 18.5h1M4 19.5h1M9 19.5h1M19 19.5h1M22 19.5h1M38 19.5h1M50 19.5h1M29 20.5h1M38 20.5h1M57 20.5h1M62 20.5h1M11 21.5h1M17 21.5h1M31 21.5h1M37 21.5h1M52 21.5h1M57 21.5h1M6 22.5h1M21 22.5h1M38 22.5h1M43 22.5h1M49 22.5h1M54 22.5h2M57 22.5h1M60 22.5h1M64 22.5h1M5 23.5h1M14 23.5h1M18 23.5h1M25 23.5h1M32 23.5h1M35 23.5h3M41 23.5h1M45 23.5h1M55 23.5h1M1 24.5h1M33 24.5h1M43 24.5h1M47 24.5h1M53 24.5h1M56 24.5h1M64 24.5h1M33 25.5h1M36 25.5h1M38 25.5h1M44 25.5h1M56 25.5h1M1 26.5h1M9 26.5h1M12 26.5h1M18 26.5h1M20 26.5h1M25 26.5h1M29 26.5h1M42 26.5h1M52 26.5h1M13 27.5h1M19 27.5h1M26 27.5h1M28 27.5h1M59 27.5h1M9 28.5h1M13 28.5h1M29 28.5h1M34 28.5h1M62 28.5h1M0 29.5h1M14 29.5h1M24 29.5h1M31 29.5h2M35 29.5h1M52 29.5h1M54 29.5h1M56 29.5h1M62 29.5h1M8 30.5h1M62 30.5h1M3 31.5h1M50 31.5h2M9 32.5h1M21 32.5h1M28 32.5h1M33 32.5h1M43 32.5h1M47 32.5h1M62 32.5h2M19 33.5h1M31 33.5h1M33 33.5h1M39 33.5h2M42 33.5h1M54 33.5h1M60 33.5h1M4 34.5h1M13 34.5h1M24 34.5h1M31 34.5h1M40 34.5h1M46 34.5h1M60 34.5h1M64 34.5h1M3 35.5h1M20 35.5h1M37 35.5h1M42 35.5h1M45 35.5h1M50 35.5h1M10 36.5h1M15 36.5h1M27 36.5h1M33 36.5h2M45 36.5h1M55 36.5h1M63 36.5h1M3 37.5h1M6 37.5h2M33 37.5h1M36 37.5h1M48 37.5h1M56 37.5h1M2 38.5h1M10 38.5h1M17 38.5h1M23 38.5h1M39 38.5h1M51 38.5h1M53 38.5h1M55 38.5h1M57 38.5h1M65 38.5h1M0 39.5h1M23 39.5h2M26 39.5h2M30 39.5h1M40 39.5h1M42 39.5h1M46 39.5h1M56 39.5h1M6 40.5h1M8 40.5h1M12 40.5h1M27 40.5h1M29 40.5h2M55 40.5h1M58 40.5h1M3 41.5h1M5 41.5h1M7 41.5h1M18 41.5h1M33 41.5h2M36 41.5h1M38 41.5h1M45 41.5h1M52 41.5h1M8 42.5h1M11 42.5h1M14 42.5h1M22 42.5h1M24 42.5h1M44 42.5h1M52 42.5h1M11 43.5h1M17 43.5h1M33 43.5h1M3 44.5h1M10 44.5h1M12 44.5h1M18 44.5h1M36 44.5h1M46 44.5h1M49 44.5h1M59 44.5h1M62 44.5h1M27 45.5h1M41 45.5h1M55 45.5h1M28 46.5h1M31 46.5h1M36 46.5h1M40 46.5h1M53 46.5h1M58 46.5h1M60 46.5h1M7 47.5h1M11 47.5h1M32 47.5h1M38 47.5h1M56 47.5h1M61 47.5h1M4 48.5h1M32 48.5h1M34 48.5h1M39 48.5h2M45 48.5h1M58 48.5h1M61 48.5h1M63 48.5h1M18 49.5h1M22 49.5h1M29 49.5h1M34 49.5h1M52 49.5h1M57 49.5h1M64 49.5h2M5 50.5h1M11 50.5h1M14 50.5h3M23 50.5h1M51 50.5h1M53 50.5h1M61 50.5h1M9 51.5h1M14 51.5h1M19 51.5h1M26 51.5h1M35 51.5h1M47 51.5h1M53 51.5h1M0 52.5h1M11 52.5h1M25 52.5h1M32 52.5h1M34 52.5h1M58 52.5h1M62 52.5h2M19 53.5h1M26 53.5h1M33 53.5h1M55 53.5h1M60 53.5h1M65 53.5h1M2 54.5h2M29 54.5h2M53 54.5h1M17 55.5h1M32 55.5h1M40 55.5h2M43 55.5h1M52 55.5h1M54 55.5h1M58 55.5h2M9 56.5h1M12 56.5h1M7 57.5h1M13 57.5h1M45 57.5h1M50 57.5h1M65 57.5h1M2 58.5h1M9 58.5h1M15 58.5h1M22 58.5h1M25 58.5h1M43 58.5h1M50 58.5h1M63 58.5h1M4 59.5h1M33 59.5h1M59 59.5h1M7 60.5h1M10 60.5h1M18 60.5h1M34 60.5h1M44 60.5h1M46 60.5h1M51 60.5h1M7 61.5h1M23 61.5h1M25 61.5h1M37 61.5h1M39 61.5h1M51 61.5h1M61 61.5h1M63 61.5h1M1 62.5h1M27 62.5h1M30 62.5h1M35 62.5h1M38 62.5h1M1 63.5h1M10 63.5h2M26 63.5h1M28 63.5h1M53 63.5h1M58 63.5h1M62 63.5h1M11 64.5h1M14 64.5h1M23 64.5h1M40 64.5h1M42 64.5h1M48 64.5h1M58 64.5h1M16 65.5h1M19 65.5h2M23 65.5h1M25 65.5h1M49 65.5h1M64 65.5h1M0 66.5h1M10 66.5h1M14 66.5h1M20 66.5h1M23 66.5h1M39 66.5h1M47 66.5h1M51 66.5h1M58 66.5h1M5 67.5h1M25 67.5h1M6 68.5h1M21 68.5h1M31 68.5h1M34 68.5h1M60 68.5h2M5 69.5h2M20 69.5h1M22 69.5h1M34 69.5h1M38 69.5h1M44 69.5h1M8 70.5h2M16 70.5h1M22 70.5h1M32 70.5h1M49 70.5h1M65 70.5h1M0 71.5h1M5 71.5h2M47 71.5h2M55 71.5h1M61 71.5h1M63 71.5h1M10 72.5h1M12 72.5h1M14 72.5h1M24 72.5h1M49 72.5h2M52 72.5h2M4 73.5h1M7 73.5h1M17 73.5h1M25 73.5h1M43 73.5h1M51 73.5h1M53 73.5h1M61 73.5h2M64 73.5h1M10 74.5h1M13 74.5h1M18 74.5h1M23 74.5h1M31 74.5h1M35 74.5h1M61 74.5h3M13 75.5h1M27 75.5h1M34 75.5h2M53 75.5h1M3 76.5h1M11 76.5h1M34 76.5h1M41 76.5h1M59 76.5h1M61 76.5h1M11 77.5h2M16 77.5h1M23 77.5h2M30 77.5h1M34 77.5h1M47 77.5h1M6 78.5h1M9 78.5h3M16 78.5h1M18 78.5h1M20 78.5h2M39 78.5h1M45 78.5h1M65 78.5h1M0 79.5h1M25 79.5h1M28 79.5h2M32 79.5h2M8 80.5h1M13 80.5h1M32 80.5h1M40 80.5h1M22 81.5h1M25 81.5h1M32 81.5h1M61 81.5h1M5 82.5h1M24 82.5h1M26 82.5h1M33 82.5h2M55 82.5h1M4 83.5h1M15 83.5h1M21 83.5h1M26 83.5h1M47 83.5h1M61 83.5h1M19 84.5h1M35 84.5h1M40 84.5h1M53 84.5h1M58 84.5h1M60 84.5h1M14 85.5h2M20 85.5h1M28 85.5h2M32 85.5h1M36 85.5h1M60 85.5h1M64 85.5h1M11 86.5h1M29 86.5h1M40 86.5h1M52 86.5h1M55 86.5h1M21 87.5h1M23 87.5h1M27 87.5h1M34 87.5h2M56 87.5h1M64 87.5h1M0 88.5h1M15 88.5h1M19 88.5h1M22 88.5h1M35 88.5h1M37 88.5h1M58 88.5h1M61 88.5h2M8 89.5h1M14 89.5h1M28 89.5h1M44 89.5h1M46 89.5h1M58 89.5h1M61 89.5h1M63 89.5h1M10 90.5h1M19 90.5h1M30 90.5h1M36 90.5h1M40 90.5h1M55 90.5h2M64 90.5h1M25 91.5h1M36 91.5h1M44 91.5h3M56 91.5h1M58 91.5h1M62 91.5h1M0 92.5h1M7 92.5h1M30 92.5h2M37 92.5h1M54 92.5h1M65 92.5h1M1 93.5h2M8 93.5h1M36 93.5h1M58 93.5h1M9 94.5h1M24 94.5h1M32 94.5h1M44 94.5h1M57 94.5h2M62 94.5h1M21 95.5h2M42 95.5h1M47 95.5h1M55 95.5h1M59 95.5h1M10 96.5h1M29 96.5h1M35 96.5h1M42 96.5h1M62 96.5h1M17 97.5h1M20 97.5h1M28 97.5h1M32 97.5h1M53 97.5h1M4 98.5h1M28 98.5h1M30 98.5h1M51 98.5h1M54 98.5h1M59 98.5h1M61 98.5h1M65 98.5h1M12 99.5h1M17 99.5h1M19 99.5h1M24 99.5h1M26 99.5h1M28 99.5h2M51 99.5h1M4 100.5h1M8 100.5h1M12 100.5h1M31 100.5h1M45 100.5h1M48 100.5h1M51 100.5h1M54 100.5h1M64 100.5h1M1 101.5h1M5 101.5h1M10 101.5h1M20 101.5h1M25 101.5h1M28 101.5h1M49 101.5h1M14 102.5h1M17 102.5h1M23 102.5h2M27 102.5h1M56 102.5h1M0 103.5h1M3 103.5h1M20 103.5h1M30 103.5h1M32 103.5h1M39 103.5h1M42 103.5h1M1 104.5h1M3 104.5h1M10 104.5h1M12 104.5h1M14 104.5h1M44 104.5h2M49 104.5h1M51 104.5h1M11 105.5h1M23 105.5h1M38 105.5h1M7 106.5h1M15 106.5h1M18 106.5h1M23 106.5h1M30 106.5h2M34 106.5h2M48 106.5h1M51 106.5h1M54 106.5h1M8 107.5h1M10 107.5h1M23 107.5h2M26 107.5h1M46 107.5h1M55 107.5h1M60 107.5h1M63 107.5h1M1 108.5h1M12 108.5h1M45 108.5h1M51 108.5h1M59 108.5h1M3 109.5h1M8 109.5h1M11 109.5h1M17 109.5h1M32 109.5h1M36 109.5h1M45 109.5h2M53 109.5h1M56 109.5h1M26 110.5h1M61 110.5h1M22 111.5h1M28 111.5h1M40 111.5h1M51 111.5h1M58 111.5h1M61 111.5h2M65 111.5h1M8 112.5h1M19 112.5h1M36 112.5h2M65 112.5h1M26 113.5h1M28 113.5h3M33 113.5h2M40 113.5h1M58 113.5h3M10 114.5h1M25 114.5h1M52 114.5h2M58 114.5h1M60 114.5h1M8 115.5h1M10 115.5h1M25 115.5h1M27 115.5h1M34 115.5h1M37 115.5h2M41 115.5h1M50 115.5h1M62 115.5h1M1 116.5h1M10 116.5h1M37 116.5h2M42 116.5h1M44 116.5h1M50 116.5h1M53 116.5h1M5 117.5h1M12 117.5h1M27 117.5h1M29 117.5h1M42 117.5h1M44 117.5h1M49 117.5h1M52 117.5h1M65 117.5h1M0 118.5h1M9 118.5h1M32 118.5h2M44 118.5h1M55 118.5h1M3 119.5h1M7 119.5h1M13 119.5h1M59 119.5h1M62 119.5h1M2 120.5h1M4 120.5h1M13 120.5h1M18 120.5h1M26 120.5h1M9 121.5h1M18 121.5h1M21 121.5h1M29 121.5h2M39 121.5h1M53 121.5h1M55 121.5h1M59 121.5h2M62 121.5h1M11 122.5h1M23 122.5h1M25 122.5h1M35 122.5h1M44 122.5h2M57 122.5h1M0 123.5h1M9 123.5h1M14 123.5h1M16 123.5h1M18 123.5h1M31 123.5h1M41 123.5h2M0 124.5h1M33 124.5h1M40 124.5h1M52 124.5h1M54 124.5h1M61 124.5h1M3 125.5h1M17 125.5h1M21 125.5h1M32 125.5h1M35 125.5h1M43 125.5h1M55 125.5h2M58 125.5h1M1 126.5h1M4 126.5h1M31 126.5h1M48 126.5h1M63 126.5h1M8 127.5h1M17 127.5h1M24 127.5h1M26 127.5h1M30 127.5h1M35 127.5h1M46 127.5h1M52 127.5h1M60 127.5h1M63 127.5h1" stroke="#fff" stroke-width="1" fill="none" shape-rendering="crispEdges"/></pattern><mask id="hm7" maskUnits="userSpaceOnUse" x="52" y="48.8" width="824.2" height="633.6"><rect x="52" y="48.8" width="824.2" height="633.6" fill="url(#hp7)"/></mask><pattern id="hp8" patternUnits="userSpaceOnUse" width="66" height="128" patternTransform="translate(52 48.8) scale(2.4900 1.65)"><path d="M0 0.5h1M2 0.5h1M9 0.5h1M32 0.5h1M39 0.5h1M46 0.5h1M57 0.5h1M1 1.5h1M21 1.5h1M36 1.5h1M41 1.5h2M63 1.5h1M2 2.5h1M4 2.5h1M14 2.5h1M24 2.5h1M44 2.5h1M54 2.5h1M62 2.5h1M2 3.5h1M6 3.5h1M15 3.5h1M37 3.5h1M48 3.5h1M53 3.5h1M58 3.5h2M65 3.5h1M13 4.5h1M16 4.5h2M22 4.5h1M24 4.5h1M31 4.5h1M47 4.5h1M4 5.5h1M6 5.5h1M19 5.5h2M27 5.5h1M35 5.5h1M10 6.5h1M14 6.5h1M16 6.5h1M19 6.5h1M25 6.5h1M35 6.5h1M57 6.5h1M11 7.5h1M19 7.5h1M48 7.5h1M0 8.5h2M11 8.5h1M21 8.5h1M38 8.5h1M44 8.5h1M47 8.5h1M52 8.5h1M1 9.5h1M44 9.5h1M29 10.5h1M35 10.5h1M40 10.5h1M46 10.5h1M48 10.5h1M61 10.5h1M3 11.5h1M15 11.5h2M23 11.5h2M40 11.5h1M57 11.5h1M8 12.5h1M14 12.5h1M22 12.5h1M37 12.5h1M45 12.5h1M63 12.5h1M11 13.5h1M17 13.5h1M19 13.5h2M30 13.5h2M33 13.5h1M41 13.5h1M47 13.5h1M19 14.5h1M63 14.5h1M2 15.5h1M11 15.5h1M13 15.5h1M17 15.5h1M20 15.5h1M29 15.5h1M36 15.5h1M40 15.5h1M42 15.5h1M53 15.5h1M57 15.5h1M65 15.5h1M9 16.5h1M11 16.5h1M30 16.5h1M39 16.5h1M50 16.5h1M54 16.5h2M7 17.5h1M12 17.5h1M24 17.5h1M28 17.5h1M43 17.5h1M9 18.5h1M25 18.5h1M41 18.5h1M46 18.5h1M48 18.5h1M51 18.5h1M54 18.5h1M64 18.5h1M0 19.5h1M14 19.5h2M23 19.5h1M25 19.5h1M39 19.5h1M44 19.5h1M62 19.5h2M4 20.5h1M24 20.5h1M28 20.5h1M61 20.5h1M65 20.5h1M0 21.5h1M9 21.5h1M12 21.5h2M32 21.5h1M43 21.5h1M45 21.5h1M48 21.5h1M51 21.5h1M62 21.5h1M65 21.5h1M12 22.5h1M18 22.5h1M27 22.5h1M35 22.5h1M42 22.5h1M48 22.5h1M52 22.5h1M48 23.5h1M64 23.5h1M7 24.5h1M19 24.5h1M22 24.5h1M31 24.5h1M42 24.5h1M51 24.5h2M57 24.5h1M6 25.5h1M11 25.5h1M46 25.5h1M13 26.5h1M21 26.5h1M32 26.5h1M34 26.5h1M40 26.5h1M43 26.5h1M48 26.5h1M60 26.5h1M63 26.5h1M0 27.5h1M14 27.5h1M17 27.5h1M60 27.5h1M65 27.5h1M4 28.5h1M12 28.5h1M26 28.5h1M37 28.5h1M1 29.5h1M6 29.5h1M26 29.5h2M37 29.5h1M42 29.5h1M0 30.5h1M4 30.5h1M33 30.5h1M36 30.5h1M41 30.5h1M50 30.5h1M2 31.5h1M14 31.5h1M21 31.5h1M23 31.5h1M41 31.5h1M52 31.5h1M59 31.5h1M63 31.5h1M65 31.5h1M1 32.5h1M15 32.5h2M23 32.5h1M40 32.5h1M45 32.5h1M52 32.5h2M11 33.5h1M23 33.5h1M38 33.5h1M41 33.5h1M49 33.5h1M63 33.5h1M0 34.5h1M19 34.5h1M23 34.5h1M33 34.5h1M42 34.5h2M53 34.5h1M62 34.5h1M2 35.5h1M23 35.5h1M26 35.5h1M34 35.5h1M49 35.5h1M55 35.5h1M57 35.5h1M2 36.5h1M13 36.5h2M41 36.5h1M43 36.5h1M52 36.5h1M58 36.5h1M16 37.5h1M30 37.5h1M41 37.5h1M53 37.5h1M1 38.5h1M5 38.5h1M21 38.5h1M27 38.5h1M36 38.5h1M1 39.5h1M10 39.5h1M17 39.5h1M35 39.5h1M43 39.5h1M51 39.5h1M63 39.5h1M0 40.5h1M3 40.5h1M13 40.5h1M16 40.5h1M20 40.5h1M26 40.5h1M28 40.5h1M36 40.5h1M52 40.5h1M57 40.5h1M12 41.5h1M30 41.5h2M40 41.5h1M42 41.5h1M53 41.5h1M65 41.5h1M9 42.5h1M26 42.5h1M38 42.5h1M50 42.5h1M55 42.5h1M57 42.5h1M62 42.5h1M65 42.5h1M9 43.5h1M16 43.5h1M31 43.5h1M40 43.5h2M49 43.5h1M57 43.5h1M0 44.5h1M24 44.5h2M29 44.5h1M42 44.5h1M12 45.5h1M25 45.5h1M29 45.5h2M35 45.5h1M37 45.5h1M44 45.5h1M49 45.5h1M63 45.5h1M12 46.5h2M27 46.5h1M50 46.5h1M61 46.5h1M65 46.5h1M8 47.5h1M14 47.5h1M24 47.5h1M26 47.5h1M29 47.5h1M33 47.5h1M41 47.5h2M6 48.5h1M11 48.5h1M23 48.5h2M36 48.5h1M56 48.5h1M6 49.5h1M8 49.5h1M11 49.5h1M17 49.5h1M19 49.5h2M25 49.5h1M35 49.5h1M37 49.5h1M39 49.5h1M45 49.5h1M61 49.5h1M8 50.5h1M24 50.5h1M32 50.5h1M37 50.5h1M46 50.5h1M50 50.5h1M58 50.5h1M7 51.5h1M30 51.5h1M43 51.5h1M49 51.5h1M17 52.5h1M21 52.5h1M29 52.5h1M39 52.5h1M45 52.5h1M47 52.5h1M64 52.5h1M3 53.5h1M8 53.5h1M18 53.5h1M23 53.5h1M38 53.5h1M45 53.5h1M49 53.5h1M9 54.5h1M41 54.5h1M46 54.5h1M26 55.5h1M46 55.5h1M24 56.5h1M26 56.5h2M39 56.5h1M0 57.5h1M5 57.5h1M11 57.5h1M54 57.5h1M0 58.5h2M12 58.5h1M14 58.5h1M17 58.5h1M27 58.5h3M35 58.5h1M49 58.5h1M51 58.5h1M28 59.5h1M32 59.5h1M34 59.5h1M38 59.5h1M48 59.5h1M63 59.5h1M9 60.5h1M20 60.5h1M31 60.5h1M43 60.5h1M50 60.5h1M52 60.5h1M55 60.5h2M58 60.5h1M9 61.5h1M16 61.5h1M19 61.5h1M29 61.5h1M36 61.5h1M43 61.5h1M49 61.5h1M59 61.5h1M8 62.5h1M23 62.5h1M26 62.5h1M33 62.5h1M47 62.5h1M50 62.5h1M56 62.5h2M4 63.5h1M20 63.5h2M24 63.5h2M5 64.5h1M7 64.5h1M13 64.5h1M15 64.5h1M17 64.5h2M25 64.5h1M30 64.5h1M34 64.5h1M44 64.5h1M50 64.5h1M52 64.5h1M63 64.5h1M2 65.5h1M6 65.5h1M26 65.5h1M30 65.5h1M6 66.5h1M27 66.5h1M46 66.5h1M54 66.5h2M57 66.5h1M1 67.5h2M7 67.5h1M12 67.5h1M22 67.5h1M29 67.5h1M31 67.5h1M33 67.5h1M37 67.5h1M41 67.5h2M55 67.5h2M60 67.5h1M63 67.5h1M19 68.5h1M35 68.5h1M50 68.5h1M55 68.5h1M63 68.5h1M29 69.5h1M32 69.5h1M56 69.5h1M59 69.5h1M14 70.5h1M29 70.5h1M33 70.5h1M36 70.5h1M58 70.5h1M62 70.5h1M13 71.5h1M20 71.5h1M23 71.5h1M29 71.5h1M49 71.5h1M59 71.5h1M64 71.5h1M0 72.5h1M3 72.5h1M7 72.5h1M19 72.5h1M36 72.5h1M54 72.5h1M61 72.5h1M3 73.5h1M47 73.5h1M57 73.5h1M65 73.5h1M9 74.5h1M12 74.5h1M37 74.5h2M41 74.5h1M45 74.5h1M47 74.5h1M3 75.5h1M8 75.5h1M15 75.5h1M30 75.5h1M32 75.5h1M52 75.5h1M55 75.5h1M61 75.5h1M0 76.5h1M9 76.5h1M17 76.5h1M28 76.5h1M37 76.5h2M58 76.5h1M64 76.5h1M5 77.5h1M15 77.5h1M29 77.5h1M37 77.5h2M46 77.5h1M49 77.5h1M62 77.5h1M3 78.5h1M5 78.5h1M7 78.5h1M24 78.5h1M26 78.5h1M38 78.5h1M40 78.5h2M64 78.5h1M5 79.5h1M41 79.5h2M60 79.5h1M63 79.5h1M4 80.5h1M17 80.5h1M26 80.5h1M45 80.5h1M48 80.5h1M4 81.5h3M15 81.5h1M17 81.5h1M23 81.5h1M26 81.5h1M35 81.5h1M43 81.5h1M51 81.5h1M54 81.5h1M57 81.5h1M7 82.5h1M29 82.5h1M56 82.5h2M60 82.5h1M5 83.5h1M7 83.5h2M12 83.5h1M32 83.5h1M53 83.5h1M56 83.5h1M15 84.5h1M63 84.5h1M11 85.5h1M19 85.5h1M24 85.5h1M26 85.5h1M38 85.5h1M52 85.5h1M56 85.5h1M58 85.5h1M63 85.5h1M6 86.5h1M10 86.5h1M18 86.5h1M20 86.5h2M34 86.5h1M45 86.5h1M51 86.5h1M61 86.5h1M63 86.5h1M8 87.5h1M15 87.5h1M22 87.5h1M25 87.5h1M50 87.5h1M3 88.5h3M23 88.5h1M43 88.5h1M53 88.5h1M64 88.5h1M27 89.5h1M56 89.5h1M5 90.5h1M16 90.5h2M25 90.5h1M27 90.5h1M48 90.5h1M59 90.5h1M2 91.5h1M7 91.5h1M13 91.5h1M15 91.5h2M22 91.5h1M37 91.5h2M41 91.5h1M50 91.5h1M1 92.5h1M17 92.5h1M26 92.5h1M53 92.5h1M56 92.5h1M61 92.5h1M11 93.5h1M18 93.5h1M28 93.5h1M34 93.5h1M45 93.5h1M50 93.5h1M0 94.5h1M5 94.5h1M28 94.5h1M35 94.5h2M39 94.5h1M51 94.5h1M53 94.5h1M55 94.5h1M10 95.5h1M23 95.5h1M25 95.5h1M27 95.5h2M61 95.5h2M20 96.5h1M22 96.5h1M30 96.5h1M33 96.5h1M58 96.5h1M14 97.5h1M16 97.5h1M25 97.5h1M33 97.5h1M47 97.5h1M49 97.5h1M52 97.5h1M64 97.5h1M7 98.5h1M9 98.5h1M19 98.5h1M44 98.5h1M53 98.5h1M56 98.5h1M63 98.5h1M10 99.5h1M14 99.5h1M43 99.5h1M52 99.5h1M58 99.5h1M61 99.5h1M14 100.5h1M20 100.5h1M22 100.5h1M39 100.5h1M47 100.5h1M49 100.5h1M52 100.5h1M56 100.5h1M8 101.5h1M13 101.5h1M29 101.5h1M47 101.5h1M54 101.5h1M7 102.5h1M9 102.5h1M35 102.5h2M40 102.5h2M49 102.5h2M17 103.5h1M21 103.5h1M25 103.5h1M50 103.5h1M53 103.5h1M13 104.5h1M40 104.5h1M54 104.5h1M63 104.5h3M26 105.5h1M30 105.5h1M33 105.5h1M47 105.5h1M56 105.5h2M6 106.5h1M22 106.5h1M43 106.5h1M5 107.5h1M27 107.5h1M38 107.5h1M51 107.5h1M61 107.5h1M10 108.5h1M14 108.5h1M26 108.5h1M30 108.5h1M40 108.5h1M0 109.5h1M13 109.5h1M65 109.5h1M29 110.5h1M41 110.5h1M44 110.5h1M46 110.5h1M52 110.5h1M4 111.5h1M8 111.5h1M23 111.5h1M32 111.5h1M34 111.5h1M41 111.5h1M43 111.5h1M46 111.5h1M55 111.5h1M64 111.5h1M20 112.5h1M38 112.5h1M49 112.5h1M54 112.5h1M58 112.5h1M4 113.5h2M13 113.5h2M32 113.5h1M35 113.5h1M50 113.5h1M8 114.5h2M11 114.5h2M17 114.5h1M20 114.5h1M22 114.5h1M31 114.5h1M36 114.5h1M43 114.5h2M49 114.5h1M51 114.5h1M54 114.5h3M0 115.5h2M4 115.5h1M11 115.5h1M16 115.5h1M51 115.5h1M57 115.5h1M5 116.5h1M8 116.5h1M18 116.5h1M21 116.5h1M35 116.5h1M20 117.5h1M32 117.5h1M34 117.5h1M41 117.5h1M45 117.5h1M59 117.5h1M22 118.5h1M49 118.5h1M4 119.5h1M6 119.5h1M17 119.5h1M20 119.5h1M28 119.5h1M31 119.5h1M45 119.5h1M47 119.5h1M56 119.5h2M61 119.5h1M9 120.5h2M14 120.5h1M25 120.5h1M33 120.5h1M39 120.5h1M42 120.5h1M55 120.5h1M57 120.5h1M10 121.5h1M14 121.5h1M37 121.5h1M43 121.5h4M61 121.5h1M65 121.5h1M4 122.5h1M12 122.5h1M26 122.5h1M54 122.5h1M58 122.5h1M4 123.5h1M12 123.5h1M34 123.5h1M49 123.5h1M60 123.5h1M45 124.5h2M50 124.5h1M57 124.5h1M60 124.5h1M7 125.5h1M24 125.5h1M29 125.5h2M37 125.5h1M49 125.5h1M54 125.5h1M62 125.5h1M15 126.5h1M18 126.5h1M26 126.5h1M28 126.5h1M38 126.5h1M42 126.5h1M53 126.5h1M60 126.5h1M65 126.5h1M2 127.5h1M5 127.5h1M10 127.5h1M20 127.5h1M34 127.5h1M43 127.5h1M49 127.5h1" stroke="#fff" stroke-width="1" fill="none" shape-rendering="crispEdges"/></pattern><mask id="hm8" maskUnits="userSpaceOnUse" x="52" y="48.8" width="824.2" height="633.6"><rect x="52" y="48.8" width="824.2" height="633.6" fill="url(#hp8)"/></mask><pattern id="hp9" patternUnits="userSpaceOnUse" width="66" height="128" patternTransform="translate(52 48.8) scale(2.4900 1.65)"><path d="M5 0.5h1M51 0.5h1M55 0.5h1M65 0.5h1M0 1.5h1M5 1.5h1M12 1.5h1M24 1.5h1M27 1.5h1M48 1.5h1M49 2.5h1M51 2.5h1M4 3.5h1M8 3.5h1M19 3.5h1M27 3.5h2M46 3.5h1M19 4.5h1M23 4.5h1M41 4.5h1M43 4.5h2M64 4.5h1M18 5.5h1M33 5.5h1M45 5.5h3M63 5.5h1M4 6.5h2M8 6.5h1M13 6.5h1M24 6.5h1M30 6.5h3M40 6.5h1M44 6.5h2M58 6.5h1M64 6.5h1M4 7.5h1M23 7.5h1M60 7.5h1M18 8.5h1M23 8.5h1M48 8.5h1M10 9.5h1M40 9.5h1M51 9.5h1M55 9.5h1M59 9.5h1M20 10.5h1M25 10.5h1M44 10.5h1M57 10.5h1M60 10.5h1M64 10.5h1M30 11.5h1M32 11.5h1M38 11.5h1M44 11.5h1M47 11.5h1M54 11.5h1M59 11.5h1M0 12.5h1M3 12.5h1M12 12.5h1M15 12.5h1M29 12.5h1M42 12.5h1M49 12.5h1M34 13.5h1M44 13.5h1M51 13.5h1M63 13.5h1M4 14.5h5M16 14.5h1M24 14.5h1M30 14.5h1M33 14.5h1M38 14.5h1M44 14.5h1M57 14.5h1M0 15.5h1M18 15.5h1M23 15.5h1M31 15.5h1M44 15.5h1M47 15.5h1M37 16.5h1M47 16.5h1M57 16.5h1M0 17.5h1M5 17.5h1M19 17.5h1M21 17.5h1M31 17.5h1M39 17.5h1M51 17.5h1M63 17.5h1M2 18.5h1M24 18.5h1M27 18.5h1M31 18.5h1M38 18.5h1M44 18.5h1M10 19.5h1M21 19.5h1M27 19.5h1M41 19.5h1M52 19.5h2M10 20.5h1M51 20.5h2M60 20.5h1M2 21.5h1M4 21.5h1M6 21.5h1M14 21.5h3M30 21.5h1M41 21.5h1M8 22.5h1M11 22.5h1M23 22.5h1M28 22.5h1M34 22.5h1M45 22.5h1M51 22.5h1M0 23.5h1M6 23.5h3M17 23.5h1M19 23.5h1M21 23.5h3M49 23.5h1M65 23.5h1M0 24.5h1M2 24.5h1M17 24.5h1M21 24.5h1M30 24.5h1M58 24.5h1M2 25.5h1M13 25.5h1M39 25.5h1M43 25.5h1M53 25.5h1M4 26.5h1M19 26.5h1M30 26.5h2M45 26.5h1M65 26.5h1M1 27.5h2M7 27.5h1M9 27.5h1M22 27.5h1M27 27.5h1M31 27.5h1M54 27.5h1M61 27.5h1M64 27.5h1M11 28.5h1M27 28.5h1M32 28.5h1M39 28.5h1M42 28.5h1M45 28.5h1M54 28.5h1M58 28.5h1M60 28.5h2M18 29.5h1M23 29.5h1M28 29.5h1M36 29.5h1M38 29.5h1M41 29.5h1M47 29.5h3M2 30.5h1M14 30.5h1M25 30.5h1M34 30.5h1M49 30.5h1M56 30.5h1M1 31.5h1M10 31.5h1M24 31.5h1M29 31.5h1M35 31.5h1M39 31.5h2M48 31.5h1M53 31.5h1M56 31.5h2M2 32.5h1M4 32.5h1M14 32.5h1M22 32.5h1M26 32.5h1M36 32.5h1M39 32.5h1M50 32.5h1M65 32.5h1M5 33.5h1M7 33.5h1M9 33.5h1M36 33.5h1M45 33.5h1M64 33.5h1M6 34.5h1M16 34.5h1M26 34.5h1M35 34.5h1M58 34.5h1M5 35.5h1M10 35.5h3M54 35.5h1M61 35.5h2M65 35.5h1M0 36.5h1M4 36.5h1M11 36.5h1M29 36.5h1M31 36.5h1M35 36.5h1M37 36.5h1M57 36.5h1M15 37.5h1M29 37.5h1M44 37.5h1M51 37.5h1M62 37.5h1M7 38.5h1M11 38.5h1M20 38.5h1M33 38.5h1M15 39.5h1M59 39.5h1M62 39.5h1M1 40.5h1M11 40.5h1M56 40.5h1M61 40.5h1M64 40.5h1M0 41.5h1M19 41.5h1M41 41.5h1M49 41.5h1M7 42.5h1M10 42.5h1M15 42.5h1M17 42.5h1M20 42.5h1M41 42.5h1M61 42.5h1M5 43.5h1M10 43.5h1M22 43.5h1M43 43.5h1M48 43.5h1M62 43.5h1M6 44.5h1M16 44.5h1M0 45.5h1M5 45.5h1M8 45.5h1M20 45.5h2M39 45.5h1M50 45.5h1M56 45.5h1M59 45.5h1M2 46.5h1M5 46.5h1M17 46.5h1M64 46.5h1M21 47.5h1M23 47.5h1M50 47.5h1M64 47.5h2M7 48.5h1M13 48.5h4M26 48.5h1M29 48.5h2M44 48.5h1M49 48.5h1M52 48.5h1M60 48.5h1M0 49.5h1M15 49.5h2M24 49.5h1M27 49.5h1M36 49.5h1M42 49.5h1M1 50.5h2M6 50.5h1M26 50.5h1M28 50.5h1M60 50.5h1M63 50.5h2M13 51.5h1M31 51.5h1M36 51.5h1M39 51.5h1M48 51.5h1M52 51.5h1M55 51.5h1M61 51.5h1M64 51.5h1M1 52.5h1M4 52.5h2M8 52.5h1M14 52.5h1M20 52.5h1M27 52.5h1M54 52.5h1M0 53.5h1M16 53.5h1M44 53.5h1M56 53.5h1M64 53.5h1M0 54.5h1M12 54.5h1M15 54.5h1M18 54.5h1M32 54.5h2M36 54.5h1M52 54.5h1M54 54.5h1M60 54.5h1M63 54.5h1M4 55.5h1M11 55.5h2M25 55.5h1M34 55.5h1M47 55.5h1M49 55.5h1M51 55.5h1M65 55.5h1M2 56.5h1M11 56.5h1M18 56.5h1M45 56.5h1M49 56.5h2M53 56.5h1M65 56.5h1M16 57.5h2M23 57.5h3M35 57.5h1M46 57.5h1M53 57.5h1M59 57.5h1M64 57.5h1M5 58.5h1M20 58.5h1M33 58.5h1M56 58.5h1M65 58.5h1M0 59.5h1M12 59.5h1M14 59.5h1M18 59.5h1M21 59.5h1M31 59.5h1M36 59.5h1M45 59.5h1M47 59.5h1M49 59.5h1M17 60.5h1M19 60.5h1M22 60.5h1M24 60.5h1M40 60.5h1M57 60.5h1M61 60.5h1M63 60.5h1M1 61.5h1M3 61.5h2M27 61.5h1M33 61.5h1M35 61.5h1M48 61.5h1M54 61.5h1M0 62.5h1M3 62.5h1M14 62.5h1M28 62.5h1M32 62.5h1M34 62.5h1M36 62.5h1M40 62.5h1M42 62.5h1M45 62.5h1M48 62.5h2M53 62.5h1M61 62.5h1M64 62.5h1M46 63.5h1M49 63.5h1M54 63.5h1M65 63.5h1M10 64.5h1M16 64.5h1M51 64.5h1M3 65.5h2M27 65.5h1M48 65.5h1M51 65.5h1M65 65.5h1M1 66.5h1M4 66.5h2M26 66.5h1M31 66.5h1M41 66.5h1M44 66.5h1M53 66.5h1M3 67.5h1M16 67.5h1M18 67.5h1M39 67.5h1M43 67.5h1M50 67.5h1M53 67.5h1M20 68.5h1M23 68.5h1M46 68.5h1M52 68.5h2M13 69.5h1M21 69.5h1M31 69.5h1M33 69.5h1M36 69.5h1M17 70.5h1M21 70.5h1M26 70.5h2M40 70.5h1M53 70.5h1M59 70.5h1M8 71.5h2M12 71.5h1M16 71.5h1M21 71.5h1M27 71.5h1M62 71.5h1M8 72.5h1M32 72.5h1M39 72.5h1M47 72.5h1M19 73.5h1M24 73.5h1M50 73.5h1M8 74.5h1M28 74.5h1M32 74.5h1M40 74.5h1M48 74.5h1M55 74.5h1M22 75.5h1M25 75.5h1M38 75.5h2M46 75.5h1M63 75.5h2M2 76.5h1M5 76.5h2M14 76.5h1M18 76.5h1M27 76.5h1M29 76.5h2M36 76.5h1M62 76.5h1M65 76.5h1M10 77.5h1M14 77.5h1M35 77.5h1M51 77.5h1M61 77.5h1M14 78.5h1M31 78.5h1M36 78.5h1M43 78.5h1M51 78.5h1M56 78.5h1M62 78.5h1M19 79.5h1M24 79.5h1M5 80.5h1M11 80.5h1M19 80.5h1M38 80.5h1M52 80.5h2M57 80.5h1M10 81.5h1M38 81.5h1M52 81.5h1M59 81.5h2M62 81.5h1M11 82.5h1M31 82.5h1M38 82.5h1M40 82.5h1M43 82.5h1M48 82.5h1M50 82.5h1M53 82.5h1M10 83.5h1M18 83.5h1M20 83.5h1M22 83.5h1M34 83.5h1M51 83.5h1M59 83.5h1M1 84.5h1M11 84.5h1M17 84.5h1M22 84.5h1M25 84.5h1M30 84.5h1M34 84.5h1M37 84.5h1M42 84.5h1M48 84.5h1M12 85.5h1M16 85.5h2M37 85.5h1M41 85.5h1M51 85.5h1M57 85.5h1M65 85.5h1M12 86.5h1M19 86.5h1M38 86.5h1M9 87.5h1M18 87.5h1M33 87.5h1M39 87.5h1M41 87.5h1M45 87.5h1M51 87.5h1M53 87.5h1M10 88.5h1M21 88.5h1M27 88.5h1M29 88.5h2M39 88.5h1M55 88.5h1M60 88.5h1M10 89.5h1M12 89.5h2M17 89.5h1M19 89.5h1M23 89.5h1M1 90.5h1M9 90.5h1M13 90.5h1M20 90.5h1M46 90.5h1M12 91.5h1M14 91.5h1M17 91.5h1M19 91.5h1M51 91.5h1M53 91.5h1M57 91.5h1M64 91.5h1M2 92.5h1M14 92.5h1M25 92.5h1M33 92.5h1M24 93.5h1M30 93.5h1M37 93.5h1M39 93.5h1M41 93.5h1M18 94.5h1M40 94.5h1M43 94.5h1M50 94.5h1M56 94.5h1M13 95.5h1M15 95.5h1M40 95.5h1M53 95.5h2M16 96.5h1M27 96.5h1M46 96.5h1M56 96.5h1M2 97.5h1M13 97.5h1M18 97.5h1M27 97.5h1M54 97.5h1M59 97.5h1M61 97.5h1M6 98.5h1M10 98.5h1M13 98.5h1M15 98.5h1M21 98.5h1M35 98.5h2M52 98.5h1M7 99.5h1M9 99.5h1M21 99.5h1M23 99.5h1M44 99.5h2M48 99.5h1M1 100.5h1M7 100.5h1M19 100.5h1M34 100.5h1M37 100.5h1M50 100.5h1M62 100.5h2M11 101.5h1M34 101.5h1M37 101.5h1M42 101.5h1M55 101.5h1M60 101.5h2M1 102.5h1M16 102.5h1M31 102.5h1M48 102.5h1M54 102.5h1M63 102.5h1M1 103.5h1M9 103.5h1M14 103.5h1M33 103.5h1M47 103.5h1M49 103.5h1M61 103.5h1M0 104.5h1M18 104.5h1M24 104.5h1M47 104.5h1M50 104.5h1M56 104.5h1M59 104.5h1M62 104.5h1M7 105.5h1M19 105.5h2M25 105.5h1M35 105.5h1M37 105.5h1M46 105.5h1M54 105.5h1M58 105.5h1M60 105.5h2M65 105.5h1M13 106.5h1M21 106.5h1M28 106.5h1M45 106.5h1M64 106.5h2M6 107.5h2M12 107.5h1M14 107.5h1M16 107.5h1M29 107.5h1M33 107.5h1M41 107.5h1M44 107.5h1M53 107.5h1M58 107.5h1M65 107.5h1M7 108.5h1M15 108.5h1M18 108.5h1M35 108.5h1M49 108.5h1M58 108.5h1M61 108.5h2M20 109.5h1M52 109.5h1M62 109.5h1M2 110.5h1M23 110.5h1M34 110.5h1M53 110.5h2M60 110.5h1M10 111.5h1M13 111.5h1M30 111.5h1M44 111.5h1M6 112.5h1M10 112.5h1M14 112.5h2M31 112.5h1M44 112.5h1M59 112.5h2M62 112.5h1M0 113.5h1M12 113.5h1M16 113.5h1M38 113.5h1M44 113.5h1M47 113.5h1M1 114.5h1M14 114.5h1M30 114.5h1M48 114.5h1M17 115.5h1M19 115.5h1M36 115.5h1M44 115.5h1M53 115.5h2M63 115.5h1M0 116.5h1M14 116.5h1M33 116.5h1M36 116.5h1M47 116.5h1M52 116.5h1M55 116.5h1M58 116.5h1M60 116.5h1M1 117.5h1M7 117.5h1M14 117.5h1M26 117.5h1M47 117.5h1M51 117.5h1M1 118.5h1M7 118.5h1M10 118.5h1M20 118.5h1M23 118.5h1M28 118.5h1M34 118.5h1M39 118.5h1M54 118.5h1M2 119.5h1M18 119.5h1M26 119.5h1M37 119.5h1M48 119.5h1M50 119.5h1M60 119.5h1M64 119.5h1M5 120.5h1M12 120.5h1M24 120.5h1M32 120.5h1M35 120.5h1M41 120.5h1M47 120.5h1M58 120.5h1M62 120.5h2M4 121.5h2M16 121.5h1M22 121.5h1M34 121.5h1M13 122.5h1M18 122.5h1M24 122.5h1M29 122.5h1M31 122.5h2M51 122.5h1M61 122.5h1M1 123.5h1M11 123.5h1M37 123.5h1M46 123.5h1M62 123.5h1M7 124.5h1M9 124.5h1M18 124.5h1M36 124.5h2M44 124.5h1M62 124.5h1M39 125.5h1M50 125.5h1M52 125.5h1M60 125.5h1M14 126.5h1M21 126.5h1M35 126.5h1M25 127.5h1M44 127.5h1M50 127.5h1M54 127.5h1M58 127.5h1M65 127.5h1" stroke="#fff" stroke-width="1" fill="none" shape-rendering="crispEdges"/></pattern><mask id="hm9" maskUnits="userSpaceOnUse" x="52" y="48.8" width="824.2" height="633.6"><rect x="52" y="48.8" width="824.2" height="633.6" fill="url(#hp9)"/></mask></defs>
<clipPath id="hclip"><rect x="52" y="48.8" width="824.2" height="633.6"/></clipPath>
<filter id="hblur" x="0" y="0" width="1" height="1"><feGaussianBlur stdDeviation="0.45"/></filter>
<g clip-path="url(#hclip)"><g filter="url(#hblur)">
<g class="hm"><rect x="52.00" width="2.54" fill="#af95e5"/><rect x="54.49" width="2.54" fill="#b799e1"/><rect x="56.98" width="2.54" fill="#af95e5"/><rect x="59.47" width="2.54" fill="#ae94e5"/><rect x="61.96" width="2.54" fill="#a891e8"/><rect x="64.45" width="2.54" fill="#af95e5"/><rect x="66.94" width="2.54" fill="#bd9bde"/><rect x="69.43" width="2.54" fill="#b699e2"/><rect x="71.92" width="2.54" fill="#bc9bde"/><rect x="74.41" width="2.54" fill="#9584ef"/><rect x="76.90" width="2.54" fill="#6f66f6"/><rect x="79.39" width="2.54" fill="#9484ef"/><rect x="81.88" width="2.54" fill="#a18deb"/><rect x="84.37" width="2.54" fill="#ba9bdf"/><rect x="86.86" width="2.54" fill="#b799e1"/><rect x="89.35" width="2.54" fill="#b799e1"/><rect x="91.84" width="2.54" fill="#a18deb"/><rect x="94.33" width="2.54" fill="#a08deb"/><rect x="96.82" width="2.54" fill="#a891e8"/><rect x="99.31" width="2.54" fill="#ad93e6"/><rect x="101.80" width="2.54" fill="#b598e2"/><rect x="104.29" width="2.54" fill="#b196e4"/><rect x="106.78" width="2.54" fill="#4b48fc"/><rect x="109.27" width="2.54" fill="#4140fe"/><rect x="111.76" width="2.54" fill="#4946fc"/><rect x="114.25" width="2.54" fill="#4a47fc"/><rect x="116.74" width="2.54" fill="#8b7df2"/><rect x="119.23" width="2.54" fill="#a48fea"/><rect x="121.72" width="2.54" fill="#9887ee"/><rect x="124.21" width="2.54" fill="#2929ff"/><rect x="126.70" width="2.54" fill="#1e1eff"/><rect x="129.19" width="2.54" fill="#8a7df2"/><rect x="131.68" width="2.54" fill="#8e80f1"/><rect x="134.17" width="2.54" fill="#9182f0"/><rect x="136.66" width="2.54" fill="#9987ee"/><rect x="139.15" width="2.54" fill="#9584ef"/><rect x="141.64" width="2.54" fill="#8d7ff1"/><rect x="144.13" width="2.54" fill="#887bf2"/><rect x="146.62" width="2.54" fill="#8c7ef1"/><rect x="149.11" width="2.54" fill="#9f8cec"/><rect x="151.60" width="2.54" fill="#897cf2"/><rect x="154.09" width="2.54" fill="#2424ff"/><rect x="156.58" width="2.54" fill="#2525ff"/><rect x="159.07" width="2.54" fill="#1a1aff"/><rect x="161.56" width="2.54" fill="#2222ff"/><rect x="164.05" width="2.54" fill="#a08cec"/><rect x="166.54" width="2.54" fill="#9d8bec"/><rect x="169.03" width="2.54" fill="#ae94e5"/><rect x="171.52" width="2.54" fill="#b095e4"/><rect x="174.01" width="2.54" fill="#a991e7"/><rect x="176.50" width="2.54" fill="#b799e1"/><rect x="178.99" width="2.54" fill="#b196e4"/><rect x="181.48" width="2.54" fill="#a38eea"/><rect x="183.97" width="2.54" fill="#ba9be0"/><rect x="186.46" width="2.54" fill="#b99ae0"/><rect x="188.95" width="2.54" fill="#bb9bdf"/><rect x="191.44" width="2.54" fill="#c09ddc"/><rect x="193.93" width="2.54" fill="#b598e2"/><rect x="196.42" width="2.54" fill="#b397e3"/><rect x="198.91" width="2.54" fill="#a48fea"/><rect x="201.40" width="2.54" fill="#b89ae1"/><rect x="203.89" width="2.54" fill="#ab92e6"/><rect x="206.38" width="2.54" fill="#ad93e6"/><rect x="208.87" width="2.54" fill="#3d3cfe"/><rect x="211.36" width="2.54" fill="#3f3efe"/><rect x="213.85" width="2.54" fill="#4241fd"/><rect x="216.34" width="2.54" fill="#524dfb"/><rect x="218.83" width="2.54" fill="#7b70f4"/><rect x="221.32" width="2.54" fill="#8276f4"/><rect x="223.81" width="2.54" fill="#9484ef"/><rect x="226.30" width="2.54" fill="#a18deb"/><rect x="228.79" width="2.54" fill="#9887ee"/><rect x="231.28" width="2.54" fill="#1818ff"/><rect x="233.77" width="2.54" fill="#1616ff"/><rect x="236.26" width="2.54" fill="#b598e2"/><rect x="238.75" width="2.54" fill="#aa92e7"/><rect x="241.24" width="2.54" fill="#a690e9"/><rect x="243.73" width="2.54" fill="#bb9bdf"/><rect x="246.22" width="2.54" fill="#bd9bde"/><rect x="248.71" width="2.54" fill="#b397e3"/><rect x="251.20" width="2.54" fill="#6d64f6"/><rect x="253.69" width="2.54" fill="#6f66f6"/><rect x="256.18" width="2.54" fill="#c19ddb"/><rect x="258.67" width="2.54" fill="#b89ae1"/><rect x="261.16" width="2.54" fill="#b799e1"/><rect x="263.65" width="2.54" fill="#b799e1"/><rect x="266.14" width="2.54" fill="#3a3aff"/><rect x="268.63" width="2.54" fill="#524dfb"/><rect x="271.12" width="2.54" fill="#4f4bfb"/><rect x="273.61" width="2.54" fill="#4b48fc"/><rect x="276.10" width="2.54" fill="#3737ff"/><rect x="278.59" width="2.54" fill="#4240fd"/><rect x="281.08" width="2.54" fill="#9b89ed"/><rect x="283.57" width="2.54" fill="#1919ff"/><rect x="286.06" width="2.54" fill="#2121ff"/><rect x="288.55" width="2.54" fill="#9d8aec"/><rect x="291.04" width="2.54" fill="#8478f3"/><rect x="293.53" width="2.54" fill="#a38eea"/><rect x="296.02" width="2.54" fill="#9887ee"/><rect x="298.51" width="2.54" fill="#9081f0"/><rect x="301.00" width="2.54" fill="#4946fc"/><rect x="303.49" width="2.54" fill="#4c49fc"/><rect x="305.98" width="2.54" fill="#4745fc"/><rect x="308.47" width="2.54" fill="#514cfb"/><rect x="310.96" width="2.54" fill="#8b7df2"/><rect x="313.45" width="2.54" fill="#8d7ff1"/><rect x="315.94" width="2.54" fill="#756cf5"/><rect x="318.43" width="2.54" fill="#6b62f7"/><rect x="320.92" width="2.54" fill="#887cf2"/><rect x="323.41" width="2.54" fill="#bb9bdf"/><rect x="325.90" width="2.54" fill="#c09ddc"/><rect x="328.39" width="2.54" fill="#ad93e6"/><rect x="330.88" width="2.54" fill="#a48fea"/><rect x="333.37" width="2.54" fill="#b095e4"/><rect x="335.86" width="2.54" fill="#b095e4"/><rect x="338.35" width="2.54" fill="#ae94e5"/><rect x="340.84" width="2.54" fill="#bf9cdc"/><rect x="343.33" width="2.54" fill="#a790e8"/><rect x="345.82" width="2.54" fill="#be9cdd"/><rect x="348.31" width="2.54" fill="#3d3cfe"/><rect x="350.80" width="2.54" fill="#403ffe"/><rect x="353.29" width="2.54" fill="#4c48fc"/><rect x="355.78" width="2.54" fill="#504cfb"/><rect x="358.27" width="2.54" fill="#4e4afb"/><rect x="360.76" width="2.54" fill="#6e65f6"/><rect x="363.25" width="2.54" fill="#6c63f7"/><rect x="365.74" width="2.54" fill="#6c64f7"/><rect x="368.23" width="2.54" fill="#4b48fc"/><rect x="370.72" width="2.54" fill="#4543fd"/><rect x="373.21" width="2.54" fill="#9585ef"/><rect x="375.70" width="2.54" fill="#9887ee"/><rect x="378.19" width="2.54" fill="#9282f0"/><rect x="380.68" width="2.54" fill="#9a88ed"/><rect x="383.17" width="2.54" fill="#2626ff"/><rect x="385.66" width="2.54" fill="#2f2fff"/><rect x="388.15" width="2.54" fill="#b598e2"/><rect x="390.64" width="2.54" fill="#ad94e6"/><rect x="393.13" width="2.54" fill="#ae94e5"/><rect x="395.62" width="2.54" fill="#b196e4"/><rect x="398.11" width="2.54" fill="#bb9bdf"/><rect x="400.60" width="2.54" fill="#ae94e5"/><rect x="403.09" width="2.54" fill="#b698e2"/><rect x="405.58" width="2.54" fill="#c39ed9"/><rect x="408.07" width="2.54" fill="#9786ee"/><rect x="410.56" width="2.54" fill="#a690e9"/><rect x="413.05" width="2.54" fill="#b498e2"/><rect x="415.54" width="2.54" fill="#b699e2"/><rect x="418.03" width="2.54" fill="#b498e3"/><rect x="420.52" width="2.54" fill="#ad93e6"/><rect x="423.01" width="2.54" fill="#4c49fc"/><rect x="425.50" width="2.54" fill="#4946fc"/><rect x="427.99" width="2.54" fill="#4241fd"/><rect x="430.48" width="2.54" fill="#ab92e7"/><rect x="432.97" width="2.54" fill="#9685ee"/><rect x="435.46" width="2.54" fill="#8c7ef1"/><rect x="437.95" width="2.54" fill="#9182f0"/><rect x="440.44" width="2.54" fill="#4543fd"/><rect x="442.93" width="2.54" fill="#4644fd"/><rect x="445.42" width="2.54" fill="#736af5"/><rect x="447.91" width="2.54" fill="#8d7ff1"/><rect x="450.40" width="2.54" fill="#9d8aec"/><rect x="452.89" width="2.54" fill="#8579f3"/><rect x="455.38" width="2.54" fill="#9182f0"/><rect x="457.87" width="2.54" fill="#2828ff"/><rect x="460.36" width="2.54" fill="#2727ff"/><rect x="462.85" width="2.54" fill="#2b2bff"/><rect x="465.35" width="2.54" fill="#a18deb"/><rect x="467.84" width="2.54" fill="#ae94e5"/><rect x="470.33" width="2.54" fill="#ae94e5"/><rect x="472.82" width="2.54" fill="#b89ae1"/><rect x="475.31" width="2.54" fill="#bd9bde"/><rect x="477.80" width="2.54" fill="#9685ee"/><rect x="480.29" width="2.54" fill="#2929ff"/><rect x="482.78" width="2.54" fill="#8276f4"/><rect x="485.27" width="2.54" fill="#b99ae0"/><rect x="487.76" width="2.54" fill="#a38eea"/><rect x="490.25" width="2.54" fill="#b397e3"/><rect x="492.74" width="2.54" fill="#bd9cdd"/><rect x="495.23" width="2.54" fill="#b095e4"/><rect x="497.72" width="2.54" fill="#b497e3"/><rect x="500.21" width="2.54" fill="#ba9be0"/><rect x="502.70" width="2.54" fill="#9383ef"/><rect x="505.19" width="2.54" fill="#6961f7"/><rect x="507.68" width="2.54" fill="#7b70f4"/><rect x="510.17" width="2.54" fill="#bc9bde"/><rect x="512.66" width="2.54" fill="#ae94e5"/><rect x="515.15" width="2.54" fill="#cba0d4"/><rect x="517.64" width="2.54" fill="#a690e9"/><rect x="520.13" width="2.54" fill="#bb9bdf"/><rect x="522.62" width="2.54" fill="#af95e5"/><rect x="525.11" width="2.54" fill="#b397e3"/><rect x="527.60" width="2.54" fill="#b99ae0"/><rect x="530.09" width="2.54" fill="#b497e3"/><rect x="532.58" width="2.54" fill="#9987ee"/><rect x="535.07" width="2.54" fill="#3b3bff"/><rect x="537.56" width="2.54" fill="#3b3bff"/><rect x="540.05" width="2.54" fill="#9887ee"/><rect x="542.54" width="2.54" fill="#a891e8"/><rect x="545.03" width="2.54" fill="#a790e8"/><rect x="547.52" width="2.54" fill="#a38eea"/><rect x="550.01" width="2.54" fill="#be9cdd"/><rect x="552.50" width="2.54" fill="#9a88ed"/><rect x="554.99" width="2.54" fill="#544ffa"/><rect x="557.48" width="2.54" fill="#3f3efe"/><rect x="559.97" width="2.54" fill="#4644fd"/><rect x="562.46" width="2.54" fill="#867af3"/><rect x="564.95" width="2.54" fill="#9a88ed"/><rect x="567.44" width="2.54" fill="#fa8c92"/><rect x="569.93" width="2.54" fill="#ff3e3e"/><rect x="572.42" width="2.54" fill="#ff2828"/><rect x="574.91" width="2.54" fill="#ff2c2c"/><rect x="577.40" width="2.54" fill="#ff3737"/><rect x="579.89" width="2.54" fill="#ff4a4a"/><rect x="582.38" width="2.54" fill="#f98e94"/><rect x="584.87" width="2.54" fill="#f499a4"/><rect x="587.36" width="2.54" fill="#f39da9"/><rect x="589.85" width="2.54" fill="#f6959f"/><rect x="592.34" width="2.54" fill="#f6959e"/><rect x="594.83" width="2.54" fill="#f98d93"/><rect x="597.32" width="2.54" fill="#f1a0ae"/><rect x="599.81" width="2.54" fill="#f89097"/><rect x="602.30" width="2.54" fill="#f98d93"/><rect x="604.79" width="2.54" fill="#f98d93"/><rect x="607.28" width="2.54" fill="#ff3737"/><rect x="609.77" width="2.54" fill="#ff3c3c"/><rect x="612.26" width="2.54" fill="#ff2c2c"/><rect x="614.75" width="2.54" fill="#f598a2"/><rect x="617.24" width="2.54" fill="#e9a9bf"/><rect x="619.73" width="2.54" fill="#efa2b2"/><rect x="622.22" width="2.54" fill="#e7abc3"/><rect x="624.71" width="2.54" fill="#d9afd4"/><rect x="627.20" width="2.54" fill="#e6abc4"/><rect x="629.69" width="2.54" fill="#ddafd1"/><rect x="632.18" width="2.54" fill="#ff2e2e"/><rect x="634.67" width="2.54" fill="#ff3333"/><rect x="637.16" width="2.54" fill="#ff3b3b"/><rect x="639.65" width="2.54" fill="#ff3636"/><rect x="642.14" width="2.54" fill="#ff2e2e"/><rect x="644.63" width="2.54" fill="#f598a2"/><rect x="647.12" width="2.54" fill="#f98e95"/><rect x="649.61" width="2.54" fill="#f499a3"/><rect x="652.10" width="2.54" fill="#ff2c2c"/><rect x="654.59" width="2.54" fill="#ff2929"/><rect x="657.08" width="2.54" fill="#ff2828"/><rect x="659.57" width="2.54" fill="#f39eaa"/><rect x="662.06" width="2.54" fill="#f79299"/><rect x="664.55" width="2.54" fill="#eda4b5"/><rect x="667.04" width="2.54" fill="#f1a0ae"/><rect x="669.53" width="2.54" fill="#eda4b6"/><rect x="672.02" width="2.54" fill="#ff2c2c"/><rect x="674.51" width="2.54" fill="#ff4242"/><rect x="677.00" width="2.54" fill="#ff3636"/><rect x="679.49" width="2.54" fill="#ff3737"/><rect x="681.98" width="2.54" fill="#ff3636"/><rect x="684.47" width="2.54" fill="#e5acc6"/><rect x="686.96" width="2.54" fill="#eaa9be"/><rect x="689.45" width="2.54" fill="#f1a0af"/><rect x="691.94" width="2.54" fill="#e9aac0"/><rect x="694.43" width="2.54" fill="#eba7bb"/><rect x="696.92" width="2.54" fill="#eda4b6"/><rect x="699.41" width="2.54" fill="#e7abc2"/><rect x="701.90" width="2.54" fill="#e1aecc"/><rect x="704.39" width="2.54" fill="#e5acc6"/><rect x="706.88" width="2.54" fill="#eea4b5"/><rect x="709.37" width="2.54" fill="#eea3b3"/><rect x="711.86" width="2.54" fill="#ff3b3b"/><rect x="714.35" width="2.54" fill="#ff2c2c"/><rect x="716.84" width="2.54" fill="#ff2e2e"/><rect x="719.33" width="2.54" fill="#ff3535"/><rect x="721.82" width="2.54" fill="#ff2e2e"/><rect x="724.31" width="2.54" fill="#ff3434"/><rect x="726.80" width="2.54" fill="#f1a1af"/><rect x="729.29" width="2.54" fill="#efa2b3"/><rect x="731.78" width="2.54" fill="#f39daa"/><rect x="734.27" width="2.54" fill="#f79199"/><rect x="736.76" width="2.54" fill="#f39da9"/><rect x="739.25" width="2.54" fill="#f29fac"/><rect x="741.74" width="2.54" fill="#f29eab"/><rect x="744.23" width="2.54" fill="#efa2b2"/><rect x="746.72" width="2.54" fill="#f499a4"/><rect x="749.21" width="2.54" fill="#f1a1af"/><rect x="751.70" width="2.54" fill="#f6969f"/><rect x="754.19" width="2.54" fill="#eba7bb"/><rect x="756.68" width="2.54" fill="#f6969f"/><rect x="759.17" width="2.54" fill="#ff3b3b"/><rect x="761.66" width="2.54" fill="#ff4949"/><rect x="764.15" width="2.54" fill="#ff2f2f"/><rect x="766.64" width="2.54" fill="#ff3838"/><rect x="769.13" width="2.54" fill="#ff4c4c"/><rect x="771.62" width="2.54" fill="#f29fac"/><rect x="774.11" width="2.54" fill="#ff3333"/><rect x="776.60" width="2.54" fill="#ff3a3a"/><rect x="779.09" width="2.54" fill="#f7939a"/><rect x="781.58" width="2.54" fill="#ff2f2f"/><rect x="784.07" width="2.54" fill="#ff2f2f"/><rect x="786.56" width="2.54" fill="#ff3333"/><rect x="789.05" width="2.54" fill="#ff2a2a"/><rect x="791.54" width="2.54" fill="#ff2f2f"/><rect x="794.03" width="2.54" fill="#f6959e"/><rect x="796.52" width="2.54" fill="#eca5b8"/><rect x="799.01" width="2.54" fill="#f79299"/><rect x="801.50" width="2.54" fill="#f98e95"/><rect x="803.99" width="2.54" fill="#f49ba6"/><rect x="806.48" width="2.54" fill="#f39ca8"/><rect x="808.97" width="2.54" fill="#fa898e"/><rect x="811.46" width="2.54" fill="#eea3b4"/><rect x="813.95" width="2.54" fill="#ff3131"/><rect x="816.44" width="2.54" fill="#ff2222"/><rect x="818.93" width="2.54" fill="#ff3e3e"/><rect x="821.42" width="2.54" fill="#f7939b"/><rect x="823.91" width="2.54" fill="#ff2626"/><rect x="826.40" width="2.54" fill="#ff3737"/><rect x="828.89" width="2.54" fill="#f6949d"/><rect x="831.38" width="2.54" fill="#f79299"/><rect x="833.87" width="2.54" fill="#ff3e3e"/><rect x="836.36" width="2.54" fill="#ff3636"/><rect x="838.85" width="2.54" fill="#ff3333"/><rect x="841.34" width="2.54" fill="#f7929a"/><rect x="843.83" width="2.54" fill="#f599a3"/><rect x="846.32" width="2.54" fill="#f49aa5"/><rect x="848.81" width="2.54" fill="#f1a0ad"/><rect x="851.30" width="2.54" fill="#f49ba7"/><rect x="853.79" width="2.54" fill="#f79299"/><rect x="856.28" width="2.54" fill="#ff3535"/><rect x="858.77" width="2.54" fill="#ff3e3e"/><rect x="861.26" width="2.54" fill="#ff3e3e"/><rect x="863.75" width="2.54" fill="#ff2020"/><rect x="866.24" width="2.54" fill="#ff2b2b"/><rect x="868.73" width="2.54" fill="#f7949c"/><rect x="871.22" width="2.54" fill="#eaa8bd"/><rect x="873.71" width="2.54" fill="#f7949c"/></g>
<g class="hm hmb" mask="url(#hm0)"><rect x="52.00" fill="#0808ff"/><rect x="54.49" fill="#1313ff"/><rect x="56.98" fill="#0808ff"/><rect x="59.47" fill="#0707ff"/><rect x="61.96" fill="#0000ff"/><rect x="64.45" fill="#0808ff"/><rect x="66.94" fill="#1c1cff"/><rect x="69.43" fill="#1212ff"/><rect x="71.92" fill="#1b1bff"/><rect x="74.41" fill="#0000ff"/><rect x="76.90" fill="#0000ff"/><rect x="79.39" fill="#0000ff"/><rect x="81.88" fill="#0000ff"/><rect x="84.37" fill="#1919ff"/><rect x="86.86" fill="#1313ff"/><rect x="89.35" fill="#1313ff"/><rect x="91.84" fill="#0000ff"/><rect x="94.33" fill="#0000ff"/><rect x="96.82" fill="#0000ff"/><rect x="99.31" fill="#0404ff"/><rect x="101.80" fill="#1010ff"/><rect x="104.29" fill="#0b0bff"/><rect x="106.78" fill="#0000ff"/><rect x="109.27" fill="#0000ff"/><rect x="111.76" fill="#0000ff"/><rect x="114.25" fill="#0000ff"/><rect x="116.74" fill="#0000ff"/><rect x="119.23" fill="#0000ff"/><rect x="121.72" fill="#0000ff"/><rect x="124.21" fill="#0000ff"/><rect x="126.70" fill="#0000ff"/><rect x="129.19" fill="#0000ff"/><rect x="131.68" fill="#0000ff"/><rect x="134.17" fill="#0000ff"/><rect x="136.66" fill="#0000ff"/><rect x="139.15" fill="#0000ff"/><rect x="141.64" fill="#0000ff"/><rect x="144.13" fill="#0000ff"/><rect x="146.62" fill="#0000ff"/><rect x="149.11" fill="#0000ff"/><rect x="151.60" fill="#0000ff"/><rect x="154.09" fill="#0000ff"/><rect x="156.58" fill="#0000ff"/><rect x="159.07" fill="#0000ff"/><rect x="161.56" fill="#0000ff"/><rect x="164.05" fill="#0000ff"/><rect x="166.54" fill="#0000ff"/><rect x="169.03" fill="#0707ff"/><rect x="171.52" fill="#0a0aff"/><rect x="174.01" fill="#0000ff"/><rect x="176.50" fill="#1313ff"/><rect x="178.99" fill="#0b0bff"/><rect x="181.48" fill="#0000ff"/><rect x="183.97" fill="#1818ff"/><rect x="186.46" fill="#1616ff"/><rect x="188.95" fill="#1a1aff"/><rect x="191.44" fill="#2222ff"/><rect x="193.93" fill="#1111ff"/><rect x="196.42" fill="#0d0dff"/><rect x="198.91" fill="#0000ff"/><rect x="201.40" fill="#1515ff"/><rect x="203.89" fill="#0202ff"/><rect x="206.38" fill="#0505ff"/><rect x="208.87" fill="#0000ff"/><rect x="211.36" fill="#0000ff"/><rect x="213.85" fill="#0000ff"/><rect x="216.34" fill="#0000ff"/><rect x="218.83" fill="#0000ff"/><rect x="221.32" fill="#0000ff"/><rect x="223.81" fill="#0000ff"/><rect x="226.30" fill="#0000ff"/><rect x="228.79" fill="#0000ff"/><rect x="231.28" fill="#0000ff"/><rect x="233.77" fill="#0000ff"/><rect x="236.26" fill="#1111ff"/><rect x="238.75" fill="#0000ff"/><rect x="241.24" fill="#0000ff"/><rect x="243.73" fill="#1a1aff"/><rect x="246.22" fill="#1c1cff"/><rect x="248.71" fill="#0e0eff"/><rect x="251.20" fill="#0000ff"/><rect x="253.69" fill="#0000ff"/><rect x="256.18" fill="#2424ff"/><rect x="258.67" fill="#1515ff"/><rect x="261.16" fill="#1313ff"/><rect x="263.65" fill="#1414ff"/><rect x="266.14" fill="#0000ff"/><rect x="268.63" fill="#0000ff"/><rect x="271.12" fill="#0000ff"/><rect x="273.61" fill="#0000ff"/><rect x="276.10" fill="#0000ff"/><rect x="278.59" fill="#0000ff"/><rect x="281.08" fill="#0000ff"/><rect x="283.57" fill="#0000ff"/><rect x="286.06" fill="#0000ff"/><rect x="288.55" fill="#0000ff"/><rect x="291.04" fill="#0000ff"/><rect x="293.53" fill="#0000ff"/><rect x="296.02" fill="#0000ff"/><rect x="298.51" fill="#0000ff"/><rect x="301.00" fill="#0000ff"/><rect x="303.49" fill="#0000ff"/><rect x="305.98" fill="#0000ff"/><rect x="308.47" fill="#0000ff"/><rect x="310.96" fill="#0000ff"/><rect x="313.45" fill="#0000ff"/><rect x="315.94" fill="#0000ff"/><rect x="318.43" fill="#0000ff"/><rect x="320.92" fill="#0000ff"/><rect x="323.41" fill="#1a1aff"/><rect x="325.90" fill="#2222ff"/><rect x="328.39" fill="#0505ff"/><rect x="330.88" fill="#0000ff"/><rect x="333.37" fill="#0909ff"/><rect x="335.86" fill="#0909ff"/><rect x="338.35" fill="#0707ff"/><rect x="340.84" fill="#2121ff"/><rect x="343.33" fill="#0000ff"/><rect x="345.82" fill="#1f1fff"/><rect x="348.31" fill="#0000ff"/><rect x="350.80" fill="#0000ff"/><rect x="353.29" fill="#0000ff"/><rect x="355.78" fill="#0000ff"/><rect x="358.27" fill="#0000ff"/><rect x="360.76" fill="#0000ff"/><rect x="363.25" fill="#0000ff"/><rect x="365.74" fill="#0000ff"/><rect x="368.23" fill="#0000ff"/><rect x="370.72" fill="#0000ff"/><rect x="373.21" fill="#0000ff"/><rect x="375.70" fill="#0000ff"/><rect x="378.19" fill="#0000ff"/><rect x="380.68" fill="#0000ff"/><rect x="383.17" fill="#0000ff"/><rect x="385.66" fill="#0000ff"/><rect x="388.15" fill="#1010ff"/><rect x="390.64" fill="#0505ff"/><rect x="393.13" fill="#0606ff"/><rect x="395.62" fill="#0b0bff"/><rect x="398.11" fill="#1a1aff"/><rect x="400.60" fill="#0606ff"/><rect x="403.09" fill="#1111ff"/><rect x="405.58" fill="#2828ff"/><rect x="408.07" fill="#0000ff"/><rect x="410.56" fill="#0000ff"/><rect x="413.05" fill="#0f0fff"/><rect x="415.54" fill="#1212ff"/><rect x="418.03" fill="#0f0fff"/><rect x="420.52" fill="#0505ff"/><rect x="423.01" fill="#0000ff"/><rect x="425.50" fill="#0000ff"/><rect x="427.99" fill="#0000ff"/><rect x="430.48" fill="#0101ff"/><rect x="432.97" fill="#0000ff"/><rect x="435.46" fill="#0000ff"/><rect x="437.95" fill="#0000ff"/><rect x="440.44" fill="#0000ff"/><rect x="442.93" fill="#0000ff"/><rect x="445.42" fill="#0000ff"/><rect x="447.91" fill="#0000ff"/><rect x="450.40" fill="#0000ff"/><rect x="452.89" fill="#0000ff"/><rect x="455.38" fill="#0000ff"/><rect x="457.87" fill="#0000ff"/><rect x="460.36" fill="#0000ff"/><rect x="462.85" fill="#0000ff"/><rect x="465.35" fill="#0000ff"/><rect x="467.84" fill="#0606ff"/><rect x="470.33" fill="#0606ff"/><rect x="472.82" fill="#1515ff"/><rect x="475.31" fill="#1c1cff"/><rect x="477.80" fill="#0000ff"/><rect x="480.29" fill="#0000ff"/><rect x="482.78" fill="#0000ff"/><rect x="485.27" fill="#1616ff"/><rect x="487.76" fill="#0000ff"/><rect x="490.25" fill="#0e0eff"/><rect x="492.74" fill="#1e1eff"/><rect x="495.23" fill="#0909ff"/><rect x="497.72" fill="#0e0eff"/><rect x="500.21" fill="#1818ff"/><rect x="502.70" fill="#0000ff"/><rect x="505.19" fill="#0000ff"/><rect x="507.68" fill="#0000ff"/><rect x="510.17" fill="#1c1cff"/><rect x="512.66" fill="#0707ff"/><rect x="515.15" fill="#3535ff"/><rect x="517.64" fill="#0000ff"/><rect x="520.13" fill="#1919ff"/><rect x="522.62" fill="#0707ff"/><rect x="525.11" fill="#0e0eff"/><rect x="527.60" fill="#1616ff"/><rect x="530.09" fill="#0f0fff"/><rect x="532.58" fill="#0000ff"/><rect x="535.07" fill="#0000ff"/><rect x="537.56" fill="#0000ff"/><rect x="540.05" fill="#0000ff"/><rect x="542.54" fill="#0000ff"/><rect x="545.03" fill="#0000ff"/><rect x="547.52" fill="#0000ff"/><rect x="550.01" fill="#1f1fff"/><rect x="552.50" fill="#0000ff"/><rect x="554.99" fill="#0000ff"/><rect x="557.48" fill="#0000ff"/><rect x="559.97" fill="#0000ff"/><rect x="562.46" fill="#0000ff"/><rect x="564.95" fill="#0000ff"/><rect x="567.44" fill="#c8c8ff"/><rect x="569.93" fill="#ffc9c9"/><rect x="572.42" fill="#ffa4a4"/><rect x="574.91" fill="#ffacac"/><rect x="577.40" fill="#ffbebe"/><rect x="579.89" fill="#ffdada"/><rect x="582.38" fill="#c5c5ff"/><rect x="584.87" fill="#aeaeff"/><rect x="587.36" fill="#a7a7ff"/><rect x="589.85" fill="#b6b6ff"/><rect x="592.34" fill="#b6b6ff"/><rect x="594.83" fill="#c7c7ff"/><rect x="597.32" fill="#a0a0ff"/><rect x="599.81" fill="#c1c1ff"/><rect x="602.30" fill="#c7c7ff"/><rect x="604.79" fill="#c6c6ff"/><rect x="607.28" fill="#ffbebe"/><rect x="609.77" fill="#ffc7c7"/><rect x="612.26" fill="#ffacac"/><rect x="614.75" fill="#b2b2ff"/><rect x="617.24" fill="#8585ff"/><rect x="619.73" fill="#9999ff"/><rect x="622.22" fill="#7f7fff"/><rect x="624.71" fill="#6060ff"/><rect x="627.20" fill="#7d7dff"/><rect x="629.69" fill="#6767ff"/><rect x="632.18" fill="#ffafaf"/><rect x="634.67" fill="#ffb7b7"/><rect x="637.16" fill="#ffc5c5"/><rect x="639.65" fill="#ffbcbc"/><rect x="642.14" fill="#ffafaf"/><rect x="644.63" fill="#b1b1ff"/><rect x="647.12" fill="#c4c4ff"/><rect x="649.61" fill="#afafff"/><rect x="652.10" fill="#ffacac"/><rect x="654.59" fill="#ffa5a5"/><rect x="657.08" fill="#ffa3a3"/><rect x="659.57" fill="#a6a6ff"/><rect x="662.06" fill="#bdbdff"/><rect x="664.55" fill="#9393ff"/><rect x="667.04" fill="#9f9fff"/><rect x="669.53" fill="#9292ff"/><rect x="672.02" fill="#ffabab"/><rect x="674.51" fill="#ffcece"/><rect x="677.00" fill="#ffbcbc"/><rect x="679.49" fill="#ffbebe"/><rect x="681.98" fill="#ffbcbc"/><rect x="684.47" fill="#7a7aff"/><rect x="686.96" fill="#8787ff"/><rect x="689.45" fill="#9f9fff"/><rect x="691.94" fill="#8484ff"/><rect x="694.43" fill="#8b8bff"/><rect x="696.92" fill="#9393ff"/><rect x="699.41" fill="#8080ff"/><rect x="701.90" fill="#7070ff"/><rect x="704.39" fill="#7b7bff"/><rect x="706.88" fill="#9494ff"/><rect x="709.37" fill="#9797ff"/><rect x="711.86" fill="#ffc5c5"/><rect x="714.35" fill="#ffacac"/><rect x="716.84" fill="#ffafaf"/><rect x="719.33" fill="#ffbbbb"/><rect x="721.82" fill="#ffafaf"/><rect x="724.31" fill="#ffb9b9"/><rect x="726.80" fill="#9e9eff"/><rect x="729.29" fill="#9898ff"/><rect x="731.78" fill="#a6a6ff"/><rect x="734.27" fill="#bebeff"/><rect x="736.76" fill="#a7a7ff"/><rect x="739.25" fill="#a2a2ff"/><rect x="741.74" fill="#a4a4ff"/><rect x="744.23" fill="#9999ff"/><rect x="746.72" fill="#aeaeff"/><rect x="749.21" fill="#9e9eff"/><rect x="751.70" fill="#b6b6ff"/><rect x="754.19" fill="#8c8cff"/><rect x="756.68" fill="#b5b5ff"/><rect x="759.17" fill="#ffc5c5"/><rect x="761.66" fill="#ffd9d9"/><rect x="764.15" fill="#ffb0b0"/><rect x="766.64" fill="#ffc0c0"/><rect x="769.13" fill="#ffdede"/><rect x="771.62" fill="#a3a3ff"/><rect x="774.11" fill="#ffb7b7"/><rect x="776.60" fill="#ffc2c2"/><rect x="779.09" fill="#bcbcff"/><rect x="781.58" fill="#ffb0b0"/><rect x="784.07" fill="#ffb1b1"/><rect x="786.56" fill="#ffb6b6"/><rect x="789.05" fill="#ffa7a7"/><rect x="791.54" fill="#ffb1b1"/><rect x="794.03" fill="#b7b7ff"/><rect x="796.52" fill="#9090ff"/><rect x="799.01" fill="#bebeff"/><rect x="801.50" fill="#c4c4ff"/><rect x="803.99" fill="#ababff"/><rect x="806.48" fill="#a9a9ff"/><rect x="808.97" fill="#ceceff"/><rect x="811.46" fill="#9595ff"/><rect x="813.95" fill="#ffb4b4"/><rect x="816.44" fill="#ff9696"/><rect x="818.93" fill="#ffcaca"/><rect x="821.42" fill="#bbbbff"/><rect x="823.91" fill="#ff9f9f"/><rect x="826.40" fill="#ffbdbd"/><rect x="828.89" fill="#b9b9ff"/><rect x="831.38" fill="#bebeff"/><rect x="833.87" fill="#ffc9c9"/><rect x="836.36" fill="#ffbdbd"/><rect x="838.85" fill="#ffb7b7"/><rect x="841.34" fill="#bdbdff"/><rect x="843.83" fill="#afafff"/><rect x="846.32" fill="#adadff"/><rect x="848.81" fill="#a0a0ff"/><rect x="851.30" fill="#aaaaff"/><rect x="853.79" fill="#bebeff"/><rect x="856.28" fill="#ffbaba"/><rect x="858.77" fill="#ffc8c8"/><rect x="861.26" fill="#ffc8c8"/><rect x="863.75" fill="#ff9393"/><rect x="866.24" fill="#ffaaaa"/><rect x="868.73" fill="#babaff"/><rect x="871.22" fill="#8888ff"/><rect x="873.71" fill="#b9b9ff"/></g>
<g class="hm hmb" mask="url(#hm1)"><rect x="52.00" fill="#4848ff"/><rect x="54.49" fill="#5454ff"/><rect x="56.98" fill="#4949ff"/><rect x="59.47" fill="#4747ff"/><rect x="61.96" fill="#3e3eff"/><rect x="64.45" fill="#4949ff"/><rect x="66.94" fill="#5d5dff"/><rect x="69.43" fill="#5353ff"/><rect x="71.92" fill="#5c5cff"/><rect x="74.41" fill="#2121ff"/><rect x="76.90" fill="#0000ff"/><rect x="79.39" fill="#2020ff"/><rect x="81.88" fill="#3333ff"/><rect x="84.37" fill="#5959ff"/><rect x="86.86" fill="#5454ff"/><rect x="89.35" fill="#5454ff"/><rect x="91.84" fill="#3232ff"/><rect x="94.33" fill="#3131ff"/><rect x="96.82" fill="#3f3fff"/><rect x="99.31" fill="#4545ff"/><rect x="101.80" fill="#5151ff"/><rect x="104.29" fill="#4b4bff"/><rect x="106.78" fill="#0000ff"/><rect x="109.27" fill="#0000ff"/><rect x="111.76" fill="#0000ff"/><rect x="114.25" fill="#0000ff"/><rect x="116.74" fill="#1313ff"/><rect x="119.23" fill="#3737ff"/><rect x="121.72" fill="#2525ff"/><rect x="124.21" fill="#0000ff"/><rect x="126.70" fill="#0000ff"/><rect x="129.19" fill="#1212ff"/><rect x="131.68" fill="#1818ff"/><rect x="134.17" fill="#1b1bff"/><rect x="136.66" fill="#2727ff"/><rect x="139.15" fill="#2121ff"/><rect x="141.64" fill="#1616ff"/><rect x="144.13" fill="#0e0eff"/><rect x="146.62" fill="#1515ff"/><rect x="149.11" fill="#3030ff"/><rect x="151.60" fill="#1111ff"/><rect x="154.09" fill="#0000ff"/><rect x="156.58" fill="#0000ff"/><rect x="159.07" fill="#0000ff"/><rect x="161.56" fill="#0000ff"/><rect x="164.05" fill="#3131ff"/><rect x="166.54" fill="#2d2dff"/><rect x="169.03" fill="#4747ff"/><rect x="171.52" fill="#4a4aff"/><rect x="174.01" fill="#4040ff"/><rect x="176.50" fill="#5454ff"/><rect x="178.99" fill="#4b4bff"/><rect x="181.48" fill="#3636ff"/><rect x="183.97" fill="#5959ff"/><rect x="186.46" fill="#5656ff"/><rect x="188.95" fill="#5b5bff"/><rect x="191.44" fill="#6262ff"/><rect x="193.93" fill="#5252ff"/><rect x="196.42" fill="#4e4eff"/><rect x="198.91" fill="#3838ff"/><rect x="201.40" fill="#5656ff"/><rect x="203.89" fill="#4343ff"/><rect x="206.38" fill="#4545ff"/><rect x="208.87" fill="#0000ff"/><rect x="211.36" fill="#0000ff"/><rect x="213.85" fill="#0000ff"/><rect x="216.34" fill="#0000ff"/><rect x="218.83" fill="#0000ff"/><rect x="221.32" fill="#0707ff"/><rect x="223.81" fill="#2121ff"/><rect x="226.30" fill="#3333ff"/><rect x="228.79" fill="#2626ff"/><rect x="231.28" fill="#0000ff"/><rect x="233.77" fill="#0000ff"/><rect x="236.26" fill="#5252ff"/><rect x="238.75" fill="#4141ff"/><rect x="241.24" fill="#3b3bff"/><rect x="243.73" fill="#5b5bff"/><rect x="246.22" fill="#5d5dff"/><rect x="248.71" fill="#4f4fff"/><rect x="251.20" fill="#0000ff"/><rect x="253.69" fill="#0000ff"/><rect x="256.18" fill="#6565ff"/><rect x="258.67" fill="#5656ff"/><rect x="261.16" fill="#5454ff"/><rect x="263.65" fill="#5454ff"/><rect x="266.14" fill="#0000ff"/><rect x="268.63" fill="#0000ff"/><rect x="271.12" fill="#0000ff"/><rect x="273.61" fill="#0000ff"/><rect x="276.10" fill="#0000ff"/><rect x="278.59" fill="#0000ff"/><rect x="281.08" fill="#2a2aff"/><rect x="283.57" fill="#0000ff"/><rect x="286.06" fill="#0000ff"/><rect x="288.55" fill="#2d2dff"/><rect x="291.04" fill="#0909ff"/><rect x="293.53" fill="#3636ff"/><rect x="296.02" fill="#2525ff"/><rect x="298.51" fill="#1b1bff"/><rect x="301.00" fill="#0000ff"/><rect x="303.49" fill="#0000ff"/><rect x="305.98" fill="#0000ff"/><rect x="308.47" fill="#0000ff"/><rect x="310.96" fill="#1313ff"/><rect x="313.45" fill="#1717ff"/><rect x="315.94" fill="#0000ff"/><rect x="318.43" fill="#0000ff"/><rect x="320.92" fill="#0f0fff"/><rect x="323.41" fill="#5b5bff"/><rect x="325.90" fill="#6363ff"/><rect x="328.39" fill="#4545ff"/><rect x="330.88" fill="#3737ff"/><rect x="333.37" fill="#4a4aff"/><rect x="335.86" fill="#4a4aff"/><rect x="338.35" fill="#4848ff"/><rect x="340.84" fill="#6262ff"/><rect x="343.33" fill="#3c3cff"/><rect x="345.82" fill="#5f5fff"/><rect x="348.31" fill="#0000ff"/><rect x="350.80" fill="#0000ff"/><rect x="353.29" fill="#0000ff"/><rect x="355.78" fill="#0000ff"/><rect x="358.27" fill="#0000ff"/><rect x="360.76" fill="#0000ff"/><rect x="363.25" fill="#0000ff"/><rect x="365.74" fill="#0000ff"/><rect x="368.23" fill="#0000ff"/><rect x="370.72" fill="#0000ff"/><rect x="373.21" fill="#2121ff"/><rect x="375.70" fill="#2626ff"/><rect x="378.19" fill="#1d1dff"/><rect x="380.68" fill="#2929ff"/><rect x="383.17" fill="#0000ff"/><rect x="385.66" fill="#0000ff"/><rect x="388.15" fill="#5151ff"/><rect x="390.64" fill="#4646ff"/><rect x="393.13" fill="#4646ff"/><rect x="395.62" fill="#4c4cff"/><rect x="398.11" fill="#5a5aff"/><rect x="400.60" fill="#4747ff"/><rect x="403.09" fill="#5252ff"/><rect x="405.58" fill="#6868ff"/><rect x="408.07" fill="#2525ff"/><rect x="410.56" fill="#3b3bff"/><rect x="413.05" fill="#5050ff"/><rect x="415.54" fill="#5252ff"/><rect x="418.03" fill="#5050ff"/><rect x="420.52" fill="#4646ff"/><rect x="423.01" fill="#0000ff"/><rect x="425.50" fill="#0000ff"/><rect x="427.99" fill="#0000ff"/><rect x="430.48" fill="#4242ff"/><rect x="432.97" fill="#2222ff"/><rect x="435.46" fill="#1414ff"/><rect x="437.95" fill="#1b1bff"/><rect x="440.44" fill="#0000ff"/><rect x="442.93" fill="#0000ff"/><rect x="445.42" fill="#0000ff"/><rect x="447.91" fill="#1515ff"/><rect x="450.40" fill="#2c2cff"/><rect x="452.89" fill="#0b0bff"/><rect x="455.38" fill="#1c1cff"/><rect x="457.87" fill="#0000ff"/><rect x="460.36" fill="#0000ff"/><rect x="462.85" fill="#0000ff"/><rect x="465.35" fill="#3232ff"/><rect x="467.84" fill="#4747ff"/><rect x="470.33" fill="#4747ff"/><rect x="472.82" fill="#5656ff"/><rect x="475.31" fill="#5d5dff"/><rect x="477.80" fill="#2323ff"/><rect x="480.29" fill="#0000ff"/><rect x="482.78" fill="#0707ff"/><rect x="485.27" fill="#5757ff"/><rect x="487.76" fill="#3535ff"/><rect x="490.25" fill="#4f4fff"/><rect x="492.74" fill="#5e5eff"/><rect x="495.23" fill="#4a4aff"/><rect x="497.72" fill="#4f4fff"/><rect x="500.21" fill="#5858ff"/><rect x="502.70" fill="#1f1fff"/><rect x="505.19" fill="#0000ff"/><rect x="507.68" fill="#0000ff"/><rect x="510.17" fill="#5c5cff"/><rect x="512.66" fill="#4848ff"/><rect x="515.15" fill="#7676ff"/><rect x="517.64" fill="#3b3bff"/><rect x="520.13" fill="#5a5aff"/><rect x="522.62" fill="#4848ff"/><rect x="525.11" fill="#4e4eff"/><rect x="527.60" fill="#5757ff"/><rect x="530.09" fill="#5050ff"/><rect x="532.58" fill="#2727ff"/><rect x="535.07" fill="#0000ff"/><rect x="537.56" fill="#0000ff"/><rect x="540.05" fill="#2626ff"/><rect x="542.54" fill="#3d3dff"/><rect x="545.03" fill="#3c3cff"/><rect x="547.52" fill="#3636ff"/><rect x="550.01" fill="#5f5fff"/><rect x="552.50" fill="#2828ff"/><rect x="554.99" fill="#0000ff"/><rect x="557.48" fill="#0000ff"/><rect x="559.97" fill="#0000ff"/><rect x="562.46" fill="#0b0bff"/><rect x="564.95" fill="#2929ff"/><rect x="567.44" fill="#ffffff"/><rect x="569.93" fill="#ff9292"/><rect x="572.42" fill="#ff6d6d"/><rect x="574.91" fill="#ff7676"/><rect x="577.40" fill="#ff8787"/><rect x="579.89" fill="#ffa3a3"/><rect x="582.38" fill="#fcfcff"/><rect x="584.87" fill="#e5e5ff"/><rect x="587.36" fill="#ddddff"/><rect x="589.85" fill="#ededff"/><rect x="592.34" fill="#ededff"/><rect x="594.83" fill="#fefeff"/><rect x="597.32" fill="#d7d7ff"/><rect x="599.81" fill="#f8f8ff"/><rect x="602.30" fill="#fdfdff"/><rect x="604.79" fill="#fdfdff"/><rect x="607.28" fill="#ff8787"/><rect x="609.77" fill="#ff9090"/><rect x="612.26" fill="#ff7575"/><rect x="614.75" fill="#e8e8ff"/><rect x="617.24" fill="#bcbcff"/><rect x="619.73" fill="#d0d0ff"/><rect x="622.22" fill="#b6b6ff"/><rect x="624.71" fill="#9797ff"/><rect x="627.20" fill="#b4b4ff"/><rect x="629.69" fill="#9e9eff"/><rect x="632.18" fill="#ff7878"/><rect x="634.67" fill="#ff8080"/><rect x="637.16" fill="#ff8e8e"/><rect x="639.65" fill="#ff8585"/><rect x="642.14" fill="#ff7878"/><rect x="644.63" fill="#e8e8ff"/><rect x="647.12" fill="#fbfbff"/><rect x="649.61" fill="#e6e6ff"/><rect x="652.10" fill="#ff7575"/><rect x="654.59" fill="#ff6e6e"/><rect x="657.08" fill="#ff6c6c"/><rect x="659.57" fill="#dcdcff"/><rect x="662.06" fill="#f4f4ff"/><rect x="664.55" fill="#cacaff"/><rect x="667.04" fill="#d6d6ff"/><rect x="669.53" fill="#c9c9ff"/><rect x="672.02" fill="#ff7474"/><rect x="674.51" fill="#ff9898"/><rect x="677.00" fill="#ff8585"/><rect x="679.49" fill="#ff8888"/><rect x="681.98" fill="#ff8585"/><rect x="684.47" fill="#b1b1ff"/><rect x="686.96" fill="#bebeff"/><rect x="689.45" fill="#d5d5ff"/><rect x="691.94" fill="#bbbbff"/><rect x="694.43" fill="#c2c2ff"/><rect x="696.92" fill="#c9c9ff"/><rect x="699.41" fill="#b7b7ff"/><rect x="701.90" fill="#a7a7ff"/><rect x="704.39" fill="#b2b2ff"/><rect x="706.88" fill="#cacaff"/><rect x="709.37" fill="#cdcdff"/><rect x="711.86" fill="#ff8e8e"/><rect x="714.35" fill="#ff7575"/><rect x="716.84" fill="#ff7979"/><rect x="719.33" fill="#ff8585"/><rect x="721.82" fill="#ff7878"/><rect x="724.31" fill="#ff8282"/><rect x="726.80" fill="#d5d5ff"/><rect x="729.29" fill="#cfcfff"/><rect x="731.78" fill="#ddddff"/><rect x="734.27" fill="#f5f5ff"/><rect x="736.76" fill="#dedeff"/><rect x="739.25" fill="#d9d9ff"/><rect x="741.74" fill="#dbdbff"/><rect x="744.23" fill="#cfcfff"/><rect x="746.72" fill="#e5e5ff"/><rect x="749.21" fill="#d5d5ff"/><rect x="751.70" fill="#ececff"/><rect x="754.19" fill="#c3c3ff"/><rect x="756.68" fill="#ececff"/><rect x="759.17" fill="#ff8f8f"/><rect x="761.66" fill="#ffa2a2"/><rect x="764.15" fill="#ff7a7a"/><rect x="766.64" fill="#ff8989"/><rect x="769.13" fill="#ffa7a7"/><rect x="771.62" fill="#d9d9ff"/><rect x="774.11" fill="#ff8080"/><rect x="776.60" fill="#ff8c8c"/><rect x="779.09" fill="#f3f3ff"/><rect x="781.58" fill="#ff7979"/><rect x="784.07" fill="#ff7b7b"/><rect x="786.56" fill="#ff8080"/><rect x="789.05" fill="#ff7070"/><rect x="791.54" fill="#ff7b7b"/><rect x="794.03" fill="#eeeeff"/><rect x="796.52" fill="#c7c7ff"/><rect x="799.01" fill="#f4f4ff"/><rect x="801.50" fill="#fbfbff"/><rect x="803.99" fill="#e2e2ff"/><rect x="806.48" fill="#dfdfff"/><rect x="808.97" fill="#fffafa"/><rect x="811.46" fill="#ccccff"/><rect x="813.95" fill="#ff7e7e"/><rect x="816.44" fill="#ff6060"/><rect x="818.93" fill="#ff9393"/><rect x="821.42" fill="#f1f1ff"/><rect x="823.91" fill="#ff6868"/><rect x="826.40" fill="#ff8787"/><rect x="828.89" fill="#efefff"/><rect x="831.38" fill="#f4f4ff"/><rect x="833.87" fill="#ff9393"/><rect x="836.36" fill="#ff8686"/><rect x="838.85" fill="#ff8080"/><rect x="841.34" fill="#f3f3ff"/><rect x="843.83" fill="#e6e6ff"/><rect x="846.32" fill="#e4e4ff"/><rect x="848.81" fill="#d7d7ff"/><rect x="851.30" fill="#e1e1ff"/><rect x="853.79" fill="#f4f4ff"/><rect x="856.28" fill="#ff8383"/><rect x="858.77" fill="#ff9292"/><rect x="861.26" fill="#ff9292"/><rect x="863.75" fill="#ff5c5c"/><rect x="866.24" fill="#ff7373"/><rect x="868.73" fill="#f0f0ff"/><rect x="871.22" fill="#bfbfff"/><rect x="873.71" fill="#f0f0ff"/></g>
<g class="hm hmb" mask="url(#hm2)"><rect x="52.00" fill="#7575ff"/><rect x="54.49" fill="#8181ff"/><rect x="56.98" fill="#7575ff"/><rect x="59.47" fill="#7474ff"/><rect x="61.96" fill="#6b6bff"/><rect x="64.45" fill="#7676ff"/><rect x="66.94" fill="#8a8aff"/><rect x="69.43" fill="#7f7fff"/><rect x="71.92" fill="#8989ff"/><rect x="74.41" fill="#4e4eff"/><rect x="76.90" fill="#1919ff"/><rect x="79.39" fill="#4d4dff"/><rect x="81.88" fill="#5f5fff"/><rect x="84.37" fill="#8686ff"/><rect x="86.86" fill="#8181ff"/><rect x="89.35" fill="#8181ff"/><rect x="91.84" fill="#5f5fff"/><rect x="94.33" fill="#5e5eff"/><rect x="96.82" fill="#6b6bff"/><rect x="99.31" fill="#7272ff"/><rect x="101.80" fill="#7e7eff"/><rect x="104.29" fill="#7878ff"/><rect x="106.78" fill="#0000ff"/><rect x="109.27" fill="#0000ff"/><rect x="111.76" fill="#0000ff"/><rect x="114.25" fill="#0000ff"/><rect x="116.74" fill="#4040ff"/><rect x="119.23" fill="#6464ff"/><rect x="121.72" fill="#5252ff"/><rect x="124.21" fill="#0000ff"/><rect x="126.70" fill="#0000ff"/><rect x="129.19" fill="#3e3eff"/><rect x="131.68" fill="#4444ff"/><rect x="134.17" fill="#4848ff"/><rect x="136.66" fill="#5353ff"/><rect x="139.15" fill="#4d4dff"/><rect x="141.64" fill="#4343ff"/><rect x="144.13" fill="#3b3bff"/><rect x="146.62" fill="#4242ff"/><rect x="149.11" fill="#5c5cff"/><rect x="151.60" fill="#3d3dff"/><rect x="154.09" fill="#0000ff"/><rect x="156.58" fill="#0000ff"/><rect x="159.07" fill="#0000ff"/><rect x="161.56" fill="#0000ff"/><rect x="164.05" fill="#5e5eff"/><rect x="166.54" fill="#5a5aff"/><rect x="169.03" fill="#7474ff"/><rect x="171.52" fill="#7777ff"/><rect x="174.01" fill="#6c6cff"/><rect x="176.50" fill="#8080ff"/><rect x="178.99" fill="#7878ff"/><rect x="181.48" fill="#6262ff"/><rect x="183.97" fill="#8686ff"/><rect x="186.46" fill="#8383ff"/><rect x="188.95" fill="#8787ff"/><rect x="191.44" fill="#8f8fff"/><rect x="193.93" fill="#7e7eff"/><rect x="196.42" fill="#7b7bff"/><rect x="198.91" fill="#6565ff"/><rect x="201.40" fill="#8282ff"/><rect x="203.89" fill="#7070ff"/><rect x="206.38" fill="#7272ff"/><rect x="208.87" fill="#0000ff"/><rect x="211.36" fill="#0000ff"/><rect x="213.85" fill="#0000ff"/><rect x="216.34" fill="#0000ff"/><rect x="218.83" fill="#2b2bff"/><rect x="221.32" fill="#3333ff"/><rect x="223.81" fill="#4d4dff"/><rect x="226.30" fill="#6060ff"/><rect x="228.79" fill="#5353ff"/><rect x="231.28" fill="#0000ff"/><rect x="233.77" fill="#0000ff"/><rect x="236.26" fill="#7e7eff"/><rect x="238.75" fill="#6e6eff"/><rect x="241.24" fill="#6868ff"/><rect x="243.73" fill="#8888ff"/><rect x="246.22" fill="#8a8aff"/><rect x="248.71" fill="#7b7bff"/><rect x="251.20" fill="#1717ff"/><rect x="253.69" fill="#1a1aff"/><rect x="256.18" fill="#9191ff"/><rect x="258.67" fill="#8282ff"/><rect x="261.16" fill="#8181ff"/><rect x="263.65" fill="#8181ff"/><rect x="266.14" fill="#0000ff"/><rect x="268.63" fill="#0000ff"/><rect x="271.12" fill="#0000ff"/><rect x="273.61" fill="#0000ff"/><rect x="276.10" fill="#0000ff"/><rect x="278.59" fill="#0000ff"/><rect x="281.08" fill="#5757ff"/><rect x="283.57" fill="#0000ff"/><rect x="286.06" fill="#0000ff"/><rect x="288.55" fill="#5959ff"/><rect x="291.04" fill="#3636ff"/><rect x="293.53" fill="#6262ff"/><rect x="296.02" fill="#5252ff"/><rect x="298.51" fill="#4747ff"/><rect x="301.00" fill="#0000ff"/><rect x="303.49" fill="#0000ff"/><rect x="305.98" fill="#0000ff"/><rect x="308.47" fill="#0000ff"/><rect x="310.96" fill="#4040ff"/><rect x="313.45" fill="#4343ff"/><rect x="315.94" fill="#2323ff"/><rect x="318.43" fill="#1313ff"/><rect x="320.92" fill="#3c3cff"/><rect x="323.41" fill="#8787ff"/><rect x="325.90" fill="#8f8fff"/><rect x="328.39" fill="#7272ff"/><rect x="330.88" fill="#6464ff"/><rect x="333.37" fill="#7777ff"/><rect x="335.86" fill="#7777ff"/><rect x="338.35" fill="#7474ff"/><rect x="340.84" fill="#8e8eff"/><rect x="343.33" fill="#6969ff"/><rect x="345.82" fill="#8c8cff"/><rect x="348.31" fill="#0000ff"/><rect x="350.80" fill="#0000ff"/><rect x="353.29" fill="#0000ff"/><rect x="355.78" fill="#0000ff"/><rect x="358.27" fill="#0000ff"/><rect x="360.76" fill="#1818ff"/><rect x="363.25" fill="#1515ff"/><rect x="365.74" fill="#1515ff"/><rect x="368.23" fill="#0000ff"/><rect x="370.72" fill="#0000ff"/><rect x="373.21" fill="#4e4eff"/><rect x="375.70" fill="#5252ff"/><rect x="378.19" fill="#4a4aff"/><rect x="380.68" fill="#5555ff"/><rect x="383.17" fill="#0000ff"/><rect x="385.66" fill="#0000ff"/><rect x="388.15" fill="#7e7eff"/><rect x="390.64" fill="#7272ff"/><rect x="393.13" fill="#7373ff"/><rect x="395.62" fill="#7979ff"/><rect x="398.11" fill="#8787ff"/><rect x="400.60" fill="#7474ff"/><rect x="403.09" fill="#7f7fff"/><rect x="405.58" fill="#9595ff"/><rect x="408.07" fill="#5252ff"/><rect x="410.56" fill="#6868ff"/><rect x="413.05" fill="#7d7dff"/><rect x="415.54" fill="#7f7fff"/><rect x="418.03" fill="#7d7dff"/><rect x="420.52" fill="#7272ff"/><rect x="423.01" fill="#0000ff"/><rect x="425.50" fill="#0000ff"/><rect x="427.99" fill="#0000ff"/><rect x="430.48" fill="#6f6fff"/><rect x="432.97" fill="#4f4fff"/><rect x="435.46" fill="#4141ff"/><rect x="437.95" fill="#4848ff"/><rect x="440.44" fill="#0000ff"/><rect x="442.93" fill="#0000ff"/><rect x="445.42" fill="#2020ff"/><rect x="447.91" fill="#4242ff"/><rect x="450.40" fill="#5959ff"/><rect x="452.89" fill="#3838ff"/><rect x="455.38" fill="#4949ff"/><rect x="457.87" fill="#0000ff"/><rect x="460.36" fill="#0000ff"/><rect x="462.85" fill="#0000ff"/><rect x="465.35" fill="#5f5fff"/><rect x="467.84" fill="#7373ff"/><rect x="470.33" fill="#7474ff"/><rect x="472.82" fill="#8282ff"/><rect x="475.31" fill="#8a8aff"/><rect x="477.80" fill="#5050ff"/><rect x="480.29" fill="#0000ff"/><rect x="482.78" fill="#3434ff"/><rect x="485.27" fill="#8383ff"/><rect x="487.76" fill="#6262ff"/><rect x="490.25" fill="#7c7cff"/><rect x="492.74" fill="#8b8bff"/><rect x="495.23" fill="#7777ff"/><rect x="497.72" fill="#7c7cff"/><rect x="500.21" fill="#8585ff"/><rect x="502.70" fill="#4c4cff"/><rect x="505.19" fill="#1212ff"/><rect x="507.68" fill="#2a2aff"/><rect x="510.17" fill="#8989ff"/><rect x="512.66" fill="#7474ff"/><rect x="515.15" fill="#a3a3ff"/><rect x="517.64" fill="#6767ff"/><rect x="520.13" fill="#8787ff"/><rect x="522.62" fill="#7575ff"/><rect x="525.11" fill="#7b7bff"/><rect x="527.60" fill="#8484ff"/><rect x="530.09" fill="#7c7cff"/><rect x="532.58" fill="#5353ff"/><rect x="535.07" fill="#0000ff"/><rect x="537.56" fill="#0000ff"/><rect x="540.05" fill="#5353ff"/><rect x="542.54" fill="#6a6aff"/><rect x="545.03" fill="#6969ff"/><rect x="547.52" fill="#6262ff"/><rect x="550.01" fill="#8c8cff"/><rect x="552.50" fill="#5555ff"/><rect x="554.99" fill="#0000ff"/><rect x="557.48" fill="#0000ff"/><rect x="559.97" fill="#0000ff"/><rect x="562.46" fill="#3838ff"/><rect x="564.95" fill="#5555ff"/><rect x="567.44" fill="#ffd9d9"/><rect x="569.93" fill="#ff6c6c"/><rect x="572.42" fill="#ff4747"/><rect x="574.91" fill="#ff5050"/><rect x="577.40" fill="#ff6262"/><rect x="579.89" fill="#ff7d7d"/><rect x="582.38" fill="#ffdcdc"/><rect x="584.87" fill="#fff3f3"/><rect x="587.36" fill="#fffbfb"/><rect x="589.85" fill="#ffebeb"/><rect x="592.34" fill="#ffebeb"/><rect x="594.83" fill="#ffdbdb"/><rect x="597.32" fill="#fdfdff"/><rect x="599.81" fill="#ffe0e0"/><rect x="602.30" fill="#ffdbdb"/><rect x="604.79" fill="#ffdbdb"/><rect x="607.28" fill="#ff6262"/><rect x="609.77" fill="#ff6a6a"/><rect x="612.26" fill="#ff4f4f"/><rect x="614.75" fill="#fff0f0"/><rect x="617.24" fill="#e2e2ff"/><rect x="619.73" fill="#f6f6ff"/><rect x="622.22" fill="#dcdcff"/><rect x="624.71" fill="#bdbdff"/><rect x="627.20" fill="#dadaff"/><rect x="629.69" fill="#c4c4ff"/><rect x="632.18" fill="#ff5252"/><rect x="634.67" fill="#ff5a5a"/><rect x="637.16" fill="#ff6868"/><rect x="639.65" fill="#ff5f5f"/><rect x="642.14" fill="#ff5252"/><rect x="644.63" fill="#fff0f0"/><rect x="647.12" fill="#ffdddd"/><rect x="649.61" fill="#fff2f2"/><rect x="652.10" fill="#ff4f4f"/><rect x="654.59" fill="#ff4848"/><rect x="657.08" fill="#ff4646"/><rect x="659.57" fill="#fffcfc"/><rect x="662.06" fill="#ffe4e4"/><rect x="664.55" fill="#f0f0ff"/><rect x="667.04" fill="#fcfcff"/><rect x="669.53" fill="#eeeeff"/><rect x="672.02" fill="#ff4f4f"/><rect x="674.51" fill="#ff7272"/><rect x="677.00" fill="#ff5f5f"/><rect x="679.49" fill="#ff6262"/><rect x="681.98" fill="#ff5f5f"/><rect x="684.47" fill="#d7d7ff"/><rect x="686.96" fill="#e3e3ff"/><rect x="689.45" fill="#fbfbff"/><rect x="691.94" fill="#e1e1ff"/><rect x="694.43" fill="#e8e8ff"/><rect x="696.92" fill="#efefff"/><rect x="699.41" fill="#ddddff"/><rect x="701.90" fill="#cdcdff"/><rect x="704.39" fill="#d7d7ff"/><rect x="706.88" fill="#f0f0ff"/><rect x="709.37" fill="#f3f3ff"/><rect x="711.86" fill="#ff6868"/><rect x="714.35" fill="#ff4f4f"/><rect x="716.84" fill="#ff5353"/><rect x="719.33" fill="#ff5f5f"/><rect x="721.82" fill="#ff5353"/><rect x="724.31" fill="#ff5c5c"/><rect x="726.80" fill="#fafaff"/><rect x="729.29" fill="#f5f5ff"/><rect x="731.78" fill="#fffbfb"/><rect x="734.27" fill="#ffe3e3"/><rect x="736.76" fill="#fffafa"/><rect x="739.25" fill="#ffffff"/><rect x="741.74" fill="#fffdfd"/><rect x="744.23" fill="#f5f5ff"/><rect x="746.72" fill="#fff3f3"/><rect x="749.21" fill="#fafaff"/><rect x="751.70" fill="#ffecec"/><rect x="754.19" fill="#e8e8ff"/><rect x="756.68" fill="#ffecec"/><rect x="759.17" fill="#ff6969"/><rect x="761.66" fill="#ff7d7d"/><rect x="764.15" fill="#ff5454"/><rect x="766.64" fill="#ff6363"/><rect x="769.13" fill="#ff8181"/><rect x="771.62" fill="#ffffff"/><rect x="774.11" fill="#ff5a5a"/><rect x="776.60" fill="#ff6666"/><rect x="779.09" fill="#ffe6e6"/><rect x="781.58" fill="#ff5353"/><rect x="784.07" fill="#ff5555"/><rect x="786.56" fill="#ff5a5a"/><rect x="789.05" fill="#ff4a4a"/><rect x="791.54" fill="#ff5555"/><rect x="794.03" fill="#ffebeb"/><rect x="796.52" fill="#ededff"/><rect x="799.01" fill="#ffe4e4"/><rect x="801.50" fill="#ffdddd"/><rect x="803.99" fill="#fff6f6"/><rect x="806.48" fill="#fff9f9"/><rect x="808.97" fill="#ffd4d4"/><rect x="811.46" fill="#f2f2ff"/><rect x="813.95" fill="#ff5858"/><rect x="816.44" fill="#ff3a3a"/><rect x="818.93" fill="#ff6d6d"/><rect x="821.42" fill="#ffe7e7"/><rect x="823.91" fill="#ff4242"/><rect x="826.40" fill="#ff6161"/><rect x="828.89" fill="#ffe9e9"/><rect x="831.38" fill="#ffe4e4"/><rect x="833.87" fill="#ff6d6d"/><rect x="836.36" fill="#ff6060"/><rect x="838.85" fill="#ff5a5a"/><rect x="841.34" fill="#ffe5e5"/><rect x="843.83" fill="#fff2f2"/><rect x="846.32" fill="#fff4f4"/><rect x="848.81" fill="#fdfdff"/><rect x="851.30" fill="#fff7f7"/><rect x="853.79" fill="#ffe4e4"/><rect x="856.28" fill="#ff5d5d"/><rect x="858.77" fill="#ff6c6c"/><rect x="861.26" fill="#ff6c6c"/><rect x="863.75" fill="#ff3636"/><rect x="866.24" fill="#ff4d4d"/><rect x="868.73" fill="#ffe8e8"/><rect x="871.22" fill="#e5e5ff"/><rect x="873.71" fill="#ffe8e8"/></g>
<g class="hm hmb" mask="url(#hm3)"><rect x="52.00" fill="#9898ff"/><rect x="54.49" fill="#a4a4ff"/><rect x="56.98" fill="#9898ff"/><rect x="59.47" fill="#9797ff"/><rect x="61.96" fill="#8d8dff"/><rect x="64.45" fill="#9898ff"/><rect x="66.94" fill="#adadff"/><rect x="69.43" fill="#a2a2ff"/><rect x="71.92" fill="#acacff"/><rect x="74.41" fill="#7070ff"/><rect x="76.90" fill="#3c3cff"/><rect x="79.39" fill="#6f6fff"/><rect x="81.88" fill="#8282ff"/><rect x="84.37" fill="#a9a9ff"/><rect x="86.86" fill="#a3a3ff"/><rect x="89.35" fill="#a3a3ff"/><rect x="91.84" fill="#8282ff"/><rect x="94.33" fill="#8181ff"/><rect x="96.82" fill="#8e8eff"/><rect x="99.31" fill="#9595ff"/><rect x="101.80" fill="#a0a0ff"/><rect x="104.29" fill="#9b9bff"/><rect x="106.78" fill="#0404ff"/><rect x="109.27" fill="#0000ff"/><rect x="111.76" fill="#0101ff"/><rect x="114.25" fill="#0202ff"/><rect x="116.74" fill="#6262ff"/><rect x="119.23" fill="#8787ff"/><rect x="121.72" fill="#7575ff"/><rect x="124.21" fill="#0000ff"/><rect x="126.70" fill="#0000ff"/><rect x="129.19" fill="#6161ff"/><rect x="131.68" fill="#6767ff"/><rect x="134.17" fill="#6b6bff"/><rect x="136.66" fill="#7676ff"/><rect x="139.15" fill="#7070ff"/><rect x="141.64" fill="#6666ff"/><rect x="144.13" fill="#5e5eff"/><rect x="146.62" fill="#6565ff"/><rect x="149.11" fill="#7f7fff"/><rect x="151.60" fill="#6060ff"/><rect x="154.09" fill="#0000ff"/><rect x="156.58" fill="#0000ff"/><rect x="159.07" fill="#0000ff"/><rect x="161.56" fill="#0000ff"/><rect x="164.05" fill="#8080ff"/><rect x="166.54" fill="#7d7dff"/><rect x="169.03" fill="#9797ff"/><rect x="171.52" fill="#9a9aff"/><rect x="174.01" fill="#8f8fff"/><rect x="176.50" fill="#a3a3ff"/><rect x="178.99" fill="#9b9bff"/><rect x="181.48" fill="#8585ff"/><rect x="183.97" fill="#a8a8ff"/><rect x="186.46" fill="#a6a6ff"/><rect x="188.95" fill="#aaaaff"/><rect x="191.44" fill="#b2b2ff"/><rect x="193.93" fill="#a1a1ff"/><rect x="196.42" fill="#9e9eff"/><rect x="198.91" fill="#8888ff"/><rect x="201.40" fill="#a5a5ff"/><rect x="203.89" fill="#9292ff"/><rect x="206.38" fill="#9595ff"/><rect x="208.87" fill="#0000ff"/><rect x="211.36" fill="#0000ff"/><rect x="213.85" fill="#0000ff"/><rect x="216.34" fill="#1010ff"/><rect x="218.83" fill="#4d4dff"/><rect x="221.32" fill="#5656ff"/><rect x="223.81" fill="#7070ff"/><rect x="226.30" fill="#8383ff"/><rect x="228.79" fill="#7575ff"/><rect x="231.28" fill="#0000ff"/><rect x="233.77" fill="#0000ff"/><rect x="236.26" fill="#a1a1ff"/><rect x="238.75" fill="#9090ff"/><rect x="241.24" fill="#8b8bff"/><rect x="243.73" fill="#ababff"/><rect x="246.22" fill="#adadff"/><rect x="248.71" fill="#9e9eff"/><rect x="251.20" fill="#3939ff"/><rect x="253.69" fill="#3c3cff"/><rect x="256.18" fill="#b4b4ff"/><rect x="258.67" fill="#a5a5ff"/><rect x="261.16" fill="#a4a4ff"/><rect x="263.65" fill="#a4a4ff"/><rect x="266.14" fill="#0000ff"/><rect x="268.63" fill="#1010ff"/><rect x="271.12" fill="#0b0bff"/><rect x="273.61" fill="#0404ff"/><rect x="276.10" fill="#0000ff"/><rect x="278.59" fill="#0000ff"/><rect x="281.08" fill="#7979ff"/><rect x="283.57" fill="#0000ff"/><rect x="286.06" fill="#0000ff"/><rect x="288.55" fill="#7c7cff"/><rect x="291.04" fill="#5858ff"/><rect x="293.53" fill="#8585ff"/><rect x="296.02" fill="#7575ff"/><rect x="298.51" fill="#6a6aff"/><rect x="301.00" fill="#0101ff"/><rect x="303.49" fill="#0606ff"/><rect x="305.98" fill="#0000ff"/><rect x="308.47" fill="#0e0eff"/><rect x="310.96" fill="#6262ff"/><rect x="313.45" fill="#6666ff"/><rect x="315.94" fill="#4646ff"/><rect x="318.43" fill="#3636ff"/><rect x="320.92" fill="#5f5fff"/><rect x="323.41" fill="#aaaaff"/><rect x="325.90" fill="#b2b2ff"/><rect x="328.39" fill="#9595ff"/><rect x="330.88" fill="#8787ff"/><rect x="333.37" fill="#9a9aff"/><rect x="335.86" fill="#9999ff"/><rect x="338.35" fill="#9797ff"/><rect x="340.84" fill="#b1b1ff"/><rect x="343.33" fill="#8c8cff"/><rect x="345.82" fill="#afafff"/><rect x="348.31" fill="#0000ff"/><rect x="350.80" fill="#0000ff"/><rect x="353.29" fill="#0606ff"/><rect x="355.78" fill="#0e0eff"/><rect x="358.27" fill="#0909ff"/><rect x="360.76" fill="#3b3bff"/><rect x="363.25" fill="#3838ff"/><rect x="365.74" fill="#3838ff"/><rect x="368.23" fill="#0505ff"/><rect x="370.72" fill="#0000ff"/><rect x="373.21" fill="#7171ff"/><rect x="375.70" fill="#7575ff"/><rect x="378.19" fill="#6d6dff"/><rect x="380.68" fill="#7878ff"/><rect x="383.17" fill="#0000ff"/><rect x="385.66" fill="#0000ff"/><rect x="388.15" fill="#a1a1ff"/><rect x="390.64" fill="#9595ff"/><rect x="393.13" fill="#9696ff"/><rect x="395.62" fill="#9b9bff"/><rect x="398.11" fill="#aaaaff"/><rect x="400.60" fill="#9797ff"/><rect x="403.09" fill="#a2a2ff"/><rect x="405.58" fill="#b8b8ff"/><rect x="408.07" fill="#7474ff"/><rect x="410.56" fill="#8a8aff"/><rect x="413.05" fill="#9f9fff"/><rect x="415.54" fill="#a2a2ff"/><rect x="418.03" fill="#9f9fff"/><rect x="420.52" fill="#9595ff"/><rect x="423.01" fill="#0606ff"/><rect x="425.50" fill="#0101ff"/><rect x="427.99" fill="#0000ff"/><rect x="430.48" fill="#9292ff"/><rect x="432.97" fill="#7272ff"/><rect x="435.46" fill="#6464ff"/><rect x="437.95" fill="#6b6bff"/><rect x="440.44" fill="#0000ff"/><rect x="442.93" fill="#0000ff"/><rect x="445.42" fill="#4343ff"/><rect x="447.91" fill="#6565ff"/><rect x="450.40" fill="#7c7cff"/><rect x="452.89" fill="#5b5bff"/><rect x="455.38" fill="#6b6bff"/><rect x="457.87" fill="#0000ff"/><rect x="460.36" fill="#0000ff"/><rect x="462.85" fill="#0000ff"/><rect x="465.35" fill="#8282ff"/><rect x="467.84" fill="#9696ff"/><rect x="470.33" fill="#9696ff"/><rect x="472.82" fill="#a5a5ff"/><rect x="475.31" fill="#acacff"/><rect x="477.80" fill="#7373ff"/><rect x="480.29" fill="#0000ff"/><rect x="482.78" fill="#5656ff"/><rect x="485.27" fill="#a6a6ff"/><rect x="487.76" fill="#8585ff"/><rect x="490.25" fill="#9e9eff"/><rect x="492.74" fill="#aeaeff"/><rect x="495.23" fill="#9999ff"/><rect x="497.72" fill="#9f9fff"/><rect x="500.21" fill="#a8a8ff"/><rect x="502.70" fill="#6f6fff"/><rect x="505.19" fill="#3434ff"/><rect x="507.68" fill="#4d4dff"/><rect x="510.17" fill="#acacff"/><rect x="512.66" fill="#9797ff"/><rect x="515.15" fill="#c6c6ff"/><rect x="517.64" fill="#8a8aff"/><rect x="520.13" fill="#aaaaff"/><rect x="522.62" fill="#9898ff"/><rect x="525.11" fill="#9e9eff"/><rect x="527.60" fill="#a6a6ff"/><rect x="530.09" fill="#9f9fff"/><rect x="532.58" fill="#7676ff"/><rect x="535.07" fill="#0000ff"/><rect x="537.56" fill="#0000ff"/><rect x="540.05" fill="#7676ff"/><rect x="542.54" fill="#8d8dff"/><rect x="545.03" fill="#8c8cff"/><rect x="547.52" fill="#8585ff"/><rect x="550.01" fill="#afafff"/><rect x="552.50" fill="#7878ff"/><rect x="554.99" fill="#1313ff"/><rect x="557.48" fill="#0000ff"/><rect x="559.97" fill="#0000ff"/><rect x="562.46" fill="#5b5bff"/><rect x="564.95" fill="#7878ff"/><rect x="567.44" fill="#ffbcbc"/><rect x="569.93" fill="#ff4f4f"/><rect x="572.42" fill="#ff2a2a"/><rect x="574.91" fill="#ff3232"/><rect x="577.40" fill="#ff4444"/><rect x="579.89" fill="#ff6060"/><rect x="582.38" fill="#ffbfbf"/><rect x="584.87" fill="#ffd6d6"/><rect x="587.36" fill="#ffdddd"/><rect x="589.85" fill="#ffcece"/><rect x="592.34" fill="#ffcece"/><rect x="594.83" fill="#ffbdbd"/><rect x="597.32" fill="#ffe4e4"/><rect x="599.81" fill="#ffc3c3"/><rect x="602.30" fill="#ffbdbd"/><rect x="604.79" fill="#ffbebe"/><rect x="607.28" fill="#ff4444"/><rect x="609.77" fill="#ff4d4d"/><rect x="612.26" fill="#ff3232"/><rect x="614.75" fill="#ffd2d2"/><rect x="617.24" fill="#ffffff"/><rect x="619.73" fill="#ffebeb"/><rect x="622.22" fill="#f9f9ff"/><rect x="624.71" fill="#dadaff"/><rect x="627.20" fill="#f7f7ff"/><rect x="629.69" fill="#e1e1ff"/><rect x="632.18" fill="#ff3535"/><rect x="634.67" fill="#ff3d3d"/><rect x="637.16" fill="#ff4b4b"/><rect x="639.65" fill="#ff4242"/><rect x="642.14" fill="#ff3535"/><rect x="644.63" fill="#ffd3d3"/><rect x="647.12" fill="#ffc0c0"/><rect x="649.61" fill="#ffd5d5"/><rect x="652.10" fill="#ff3131"/><rect x="654.59" fill="#ff2b2b"/><rect x="657.08" fill="#ff2929"/><rect x="659.57" fill="#ffdede"/><rect x="662.06" fill="#ffc7c7"/><rect x="664.55" fill="#fff1f1"/><rect x="667.04" fill="#ffe5e5"/><rect x="669.53" fill="#fff2f2"/><rect x="672.02" fill="#ff3131"/><rect x="674.51" fill="#ff5454"/><rect x="677.00" fill="#ff4242"/><rect x="679.49" fill="#ff4444"/><rect x="681.98" fill="#ff4242"/><rect x="684.47" fill="#f4f4ff"/><rect x="686.96" fill="#fffdfd"/><rect x="689.45" fill="#ffe5e5"/><rect x="691.94" fill="#fefeff"/><rect x="694.43" fill="#fff9f9"/><rect x="696.92" fill="#fff1f1"/><rect x="699.41" fill="#fafaff"/><rect x="701.90" fill="#eaeaff"/><rect x="704.39" fill="#f5f5ff"/><rect x="706.88" fill="#fff0f0"/><rect x="709.37" fill="#ffeded"/><rect x="711.86" fill="#ff4b4b"/><rect x="714.35" fill="#ff3232"/><rect x="716.84" fill="#ff3535"/><rect x="719.33" fill="#ff4141"/><rect x="721.82" fill="#ff3535"/><rect x="724.31" fill="#ff3f3f"/><rect x="726.80" fill="#ffe6e6"/><rect x="729.29" fill="#ffecec"/><rect x="731.78" fill="#ffdede"/><rect x="734.27" fill="#ffc6c6"/><rect x="736.76" fill="#ffdddd"/><rect x="739.25" fill="#ffe2e2"/><rect x="741.74" fill="#ffe0e0"/><rect x="744.23" fill="#ffebeb"/><rect x="746.72" fill="#ffd6d6"/><rect x="749.21" fill="#ffe6e6"/><rect x="751.70" fill="#ffcece"/><rect x="754.19" fill="#fff8f8"/><rect x="756.68" fill="#ffcfcf"/><rect x="759.17" fill="#ff4b4b"/><rect x="761.66" fill="#ff5f5f"/><rect x="764.15" fill="#ff3636"/><rect x="766.64" fill="#ff4646"/><rect x="769.13" fill="#ff6464"/><rect x="771.62" fill="#ffe1e1"/><rect x="774.11" fill="#ff3d3d"/><rect x="776.60" fill="#ff4848"/><rect x="779.09" fill="#ffc8c8"/><rect x="781.58" fill="#ff3636"/><rect x="784.07" fill="#ff3737"/><rect x="786.56" fill="#ff3c3c"/><rect x="789.05" fill="#ff2d2d"/><rect x="791.54" fill="#ff3737"/><rect x="794.03" fill="#ffcdcd"/><rect x="796.52" fill="#fff4f4"/><rect x="799.01" fill="#ffc6c6"/><rect x="801.50" fill="#ffc0c0"/><rect x="803.99" fill="#ffd9d9"/><rect x="806.48" fill="#ffdbdb"/><rect x="808.97" fill="#ffb6b6"/><rect x="811.46" fill="#ffefef"/><rect x="813.95" fill="#ff3a3a"/><rect x="816.44" fill="#ff1c1c"/><rect x="818.93" fill="#ff5050"/><rect x="821.42" fill="#ffc9c9"/><rect x="823.91" fill="#ff2525"/><rect x="826.40" fill="#ff4343"/><rect x="828.89" fill="#ffcbcb"/><rect x="831.38" fill="#ffc6c6"/><rect x="833.87" fill="#ff4f4f"/><rect x="836.36" fill="#ff4343"/><rect x="838.85" fill="#ff3d3d"/><rect x="841.34" fill="#ffc7c7"/><rect x="843.83" fill="#ffd5d5"/><rect x="846.32" fill="#ffd7d7"/><rect x="848.81" fill="#ffe4e4"/><rect x="851.30" fill="#ffdada"/><rect x="853.79" fill="#ffc6c6"/><rect x="856.28" fill="#ff4040"/><rect x="858.77" fill="#ff4e4e"/><rect x="861.26" fill="#ff4e4e"/><rect x="863.75" fill="#ff1919"/><rect x="866.24" fill="#ff3030"/><rect x="868.73" fill="#ffcaca"/><rect x="871.22" fill="#fffcfc"/><rect x="873.71" fill="#ffcbcb"/></g>
<g class="hm hmb" mask="url(#hm4)"><rect x="52.00" fill="#b6b6ff"/><rect x="54.49" fill="#c1c1ff"/><rect x="56.98" fill="#b6b6ff"/><rect x="59.47" fill="#b5b5ff"/><rect x="61.96" fill="#ababff"/><rect x="64.45" fill="#b6b6ff"/><rect x="66.94" fill="#cbcbff"/><rect x="69.43" fill="#c0c0ff"/><rect x="71.92" fill="#c9c9ff"/><rect x="74.41" fill="#8e8eff"/><rect x="76.90" fill="#5a5aff"/><rect x="79.39" fill="#8d8dff"/><rect x="81.88" fill="#a0a0ff"/><rect x="84.37" fill="#c7c7ff"/><rect x="86.86" fill="#c1c1ff"/><rect x="89.35" fill="#c1c1ff"/><rect x="91.84" fill="#a0a0ff"/><rect x="94.33" fill="#9f9fff"/><rect x="96.82" fill="#acacff"/><rect x="99.31" fill="#b2b2ff"/><rect x="101.80" fill="#bebeff"/><rect x="104.29" fill="#b9b9ff"/><rect x="106.78" fill="#2222ff"/><rect x="109.27" fill="#1010ff"/><rect x="111.76" fill="#1f1fff"/><rect x="114.25" fill="#2020ff"/><rect x="116.74" fill="#8080ff"/><rect x="119.23" fill="#a5a5ff"/><rect x="121.72" fill="#9393ff"/><rect x="124.21" fill="#0000ff"/><rect x="126.70" fill="#0000ff"/><rect x="129.19" fill="#7f7fff"/><rect x="131.68" fill="#8585ff"/><rect x="134.17" fill="#8989ff"/><rect x="136.66" fill="#9494ff"/><rect x="139.15" fill="#8e8eff"/><rect x="141.64" fill="#8383ff"/><rect x="144.13" fill="#7c7cff"/><rect x="146.62" fill="#8282ff"/><rect x="149.11" fill="#9d9dff"/><rect x="151.60" fill="#7e7eff"/><rect x="154.09" fill="#0000ff"/><rect x="156.58" fill="#0000ff"/><rect x="159.07" fill="#0000ff"/><rect x="161.56" fill="#0000ff"/><rect x="164.05" fill="#9e9eff"/><rect x="166.54" fill="#9b9bff"/><rect x="169.03" fill="#b5b5ff"/><rect x="171.52" fill="#b8b8ff"/><rect x="174.01" fill="#adadff"/><rect x="176.50" fill="#c1c1ff"/><rect x="178.99" fill="#b9b9ff"/><rect x="181.48" fill="#a3a3ff"/><rect x="183.97" fill="#c6c6ff"/><rect x="186.46" fill="#c4c4ff"/><rect x="188.95" fill="#c8c8ff"/><rect x="191.44" fill="#d0d0ff"/><rect x="193.93" fill="#bfbfff"/><rect x="196.42" fill="#bbbbff"/><rect x="198.91" fill="#a6a6ff"/><rect x="201.40" fill="#c3c3ff"/><rect x="203.89" fill="#b0b0ff"/><rect x="206.38" fill="#b3b3ff"/><rect x="208.87" fill="#0707ff"/><rect x="211.36" fill="#0b0bff"/><rect x="213.85" fill="#1212ff"/><rect x="216.34" fill="#2e2eff"/><rect x="218.83" fill="#6b6bff"/><rect x="221.32" fill="#7474ff"/><rect x="223.81" fill="#8e8eff"/><rect x="226.30" fill="#a0a0ff"/><rect x="228.79" fill="#9393ff"/><rect x="231.28" fill="#0000ff"/><rect x="233.77" fill="#0000ff"/><rect x="236.26" fill="#bfbfff"/><rect x="238.75" fill="#aeaeff"/><rect x="241.24" fill="#a8a8ff"/><rect x="243.73" fill="#c8c8ff"/><rect x="246.22" fill="#cacaff"/><rect x="248.71" fill="#bcbcff"/><rect x="251.20" fill="#5757ff"/><rect x="253.69" fill="#5a5aff"/><rect x="256.18" fill="#d2d2ff"/><rect x="258.67" fill="#c3c3ff"/><rect x="261.16" fill="#c1c1ff"/><rect x="263.65" fill="#c2c2ff"/><rect x="266.14" fill="#0202ff"/><rect x="268.63" fill="#2e2eff"/><rect x="271.12" fill="#2929ff"/><rect x="273.61" fill="#2222ff"/><rect x="276.10" fill="#0000ff"/><rect x="278.59" fill="#1010ff"/><rect x="281.08" fill="#9797ff"/><rect x="283.57" fill="#0000ff"/><rect x="286.06" fill="#0000ff"/><rect x="288.55" fill="#9a9aff"/><rect x="291.04" fill="#7676ff"/><rect x="293.53" fill="#a3a3ff"/><rect x="296.02" fill="#9393ff"/><rect x="298.51" fill="#8888ff"/><rect x="301.00" fill="#1f1fff"/><rect x="303.49" fill="#2424ff"/><rect x="305.98" fill="#1c1cff"/><rect x="308.47" fill="#2c2cff"/><rect x="310.96" fill="#8080ff"/><rect x="313.45" fill="#8484ff"/><rect x="315.94" fill="#6363ff"/><rect x="318.43" fill="#5454ff"/><rect x="320.92" fill="#7d7dff"/><rect x="323.41" fill="#c8c8ff"/><rect x="325.90" fill="#d0d0ff"/><rect x="328.39" fill="#b3b3ff"/><rect x="330.88" fill="#a4a4ff"/><rect x="333.37" fill="#b7b7ff"/><rect x="335.86" fill="#b7b7ff"/><rect x="338.35" fill="#b5b5ff"/><rect x="340.84" fill="#cfcfff"/><rect x="343.33" fill="#aaaaff"/><rect x="345.82" fill="#cdcdff"/><rect x="348.31" fill="#0707ff"/><rect x="350.80" fill="#0e0eff"/><rect x="353.29" fill="#2424ff"/><rect x="355.78" fill="#2b2bff"/><rect x="358.27" fill="#2727ff"/><rect x="360.76" fill="#5959ff"/><rect x="363.25" fill="#5656ff"/><rect x="365.74" fill="#5656ff"/><rect x="368.23" fill="#2323ff"/><rect x="370.72" fill="#1717ff"/><rect x="373.21" fill="#8f8fff"/><rect x="375.70" fill="#9393ff"/><rect x="378.19" fill="#8a8aff"/><rect x="380.68" fill="#9696ff"/><rect x="383.17" fill="#0000ff"/><rect x="385.66" fill="#0000ff"/><rect x="388.15" fill="#bebeff"/><rect x="390.64" fill="#b3b3ff"/><rect x="393.13" fill="#b4b4ff"/><rect x="395.62" fill="#b9b9ff"/><rect x="398.11" fill="#c8c8ff"/><rect x="400.60" fill="#b4b4ff"/><rect x="403.09" fill="#bfbfff"/><rect x="405.58" fill="#d6d6ff"/><rect x="408.07" fill="#9292ff"/><rect x="410.56" fill="#a8a8ff"/><rect x="413.05" fill="#bdbdff"/><rect x="415.54" fill="#c0c0ff"/><rect x="418.03" fill="#bdbdff"/><rect x="420.52" fill="#b3b3ff"/><rect x="423.01" fill="#2424ff"/><rect x="425.50" fill="#1e1eff"/><rect x="427.99" fill="#1212ff"/><rect x="430.48" fill="#b0b0ff"/><rect x="432.97" fill="#9090ff"/><rect x="435.46" fill="#8282ff"/><rect x="437.95" fill="#8989ff"/><rect x="440.44" fill="#1717ff"/><rect x="442.93" fill="#1919ff"/><rect x="445.42" fill="#6161ff"/><rect x="447.91" fill="#8383ff"/><rect x="450.40" fill="#9a9aff"/><rect x="452.89" fill="#7878ff"/><rect x="455.38" fill="#8989ff"/><rect x="457.87" fill="#0000ff"/><rect x="460.36" fill="#0000ff"/><rect x="462.85" fill="#0000ff"/><rect x="465.35" fill="#9f9fff"/><rect x="467.84" fill="#b4b4ff"/><rect x="470.33" fill="#b4b4ff"/><rect x="472.82" fill="#c3c3ff"/><rect x="475.31" fill="#cacaff"/><rect x="477.80" fill="#9090ff"/><rect x="480.29" fill="#0000ff"/><rect x="482.78" fill="#7474ff"/><rect x="485.27" fill="#c4c4ff"/><rect x="487.76" fill="#a3a3ff"/><rect x="490.25" fill="#bcbcff"/><rect x="492.74" fill="#ccccff"/><rect x="495.23" fill="#b7b7ff"/><rect x="497.72" fill="#bcbcff"/><rect x="500.21" fill="#c6c6ff"/><rect x="502.70" fill="#8d8dff"/><rect x="505.19" fill="#5252ff"/><rect x="507.68" fill="#6b6bff"/><rect x="510.17" fill="#cacaff"/><rect x="512.66" fill="#b5b5ff"/><rect x="515.15" fill="#e4e4ff"/><rect x="517.64" fill="#a8a8ff"/><rect x="520.13" fill="#c8c8ff"/><rect x="522.62" fill="#b5b5ff"/><rect x="525.11" fill="#bcbcff"/><rect x="527.60" fill="#c4c4ff"/><rect x="530.09" fill="#bdbdff"/><rect x="532.58" fill="#9494ff"/><rect x="535.07" fill="#0303ff"/><rect x="537.56" fill="#0303ff"/><rect x="540.05" fill="#9494ff"/><rect x="542.54" fill="#ababff"/><rect x="545.03" fill="#aaaaff"/><rect x="547.52" fill="#a3a3ff"/><rect x="550.01" fill="#cdcdff"/><rect x="552.50" fill="#9696ff"/><rect x="554.99" fill="#3131ff"/><rect x="557.48" fill="#0c0cff"/><rect x="559.97" fill="#1a1aff"/><rect x="562.46" fill="#7979ff"/><rect x="564.95" fill="#9696ff"/><rect x="567.44" fill="#ffa2a2"/><rect x="569.93" fill="#ff3636"/><rect x="572.42" fill="#ff1010"/><rect x="574.91" fill="#ff1919"/><rect x="577.40" fill="#ff2b2b"/><rect x="579.89" fill="#ff4646"/><rect x="582.38" fill="#ffa5a5"/><rect x="584.87" fill="#ffbcbc"/><rect x="587.36" fill="#ffc4c4"/><rect x="589.85" fill="#ffb5b5"/><rect x="592.34" fill="#ffb5b5"/><rect x="594.83" fill="#ffa4a4"/><rect x="597.32" fill="#ffcaca"/><rect x="599.81" fill="#ffa9a9"/><rect x="602.30" fill="#ffa4a4"/><rect x="604.79" fill="#ffa5a5"/><rect x="607.28" fill="#ff2b2b"/><rect x="609.77" fill="#ff3434"/><rect x="612.26" fill="#ff1919"/><rect x="614.75" fill="#ffb9b9"/><rect x="617.24" fill="#ffe6e6"/><rect x="619.73" fill="#ffd2d2"/><rect x="622.22" fill="#ffebeb"/><rect x="624.71" fill="#f3f3ff"/><rect x="627.20" fill="#ffeded"/><rect x="629.69" fill="#fafaff"/><rect x="632.18" fill="#ff1c1c"/><rect x="634.67" fill="#ff2323"/><rect x="637.16" fill="#ff3232"/><rect x="639.65" fill="#ff2828"/><rect x="642.14" fill="#ff1b1b"/><rect x="644.63" fill="#ffbaba"/><rect x="647.12" fill="#ffa6a6"/><rect x="649.61" fill="#ffbcbc"/><rect x="652.10" fill="#ff1818"/><rect x="654.59" fill="#ff1111"/><rect x="657.08" fill="#ff1010"/><rect x="659.57" fill="#ffc5c5"/><rect x="662.06" fill="#ffadad"/><rect x="664.55" fill="#ffd7d7"/><rect x="667.04" fill="#ffcbcb"/><rect x="669.53" fill="#ffd9d9"/><rect x="672.02" fill="#ff1818"/><rect x="674.51" fill="#ff3b3b"/><rect x="677.00" fill="#ff2828"/><rect x="679.49" fill="#ff2b2b"/><rect x="681.98" fill="#ff2929"/><rect x="684.47" fill="#fff0f0"/><rect x="686.96" fill="#ffe4e4"/><rect x="689.45" fill="#ffcccc"/><rect x="691.94" fill="#ffe7e7"/><rect x="694.43" fill="#ffdfdf"/><rect x="696.92" fill="#ffd8d8"/><rect x="699.41" fill="#ffeaea"/><rect x="701.90" fill="#fffbfb"/><rect x="704.39" fill="#fff0f0"/><rect x="706.88" fill="#ffd7d7"/><rect x="709.37" fill="#ffd4d4"/><rect x="711.86" fill="#ff3131"/><rect x="714.35" fill="#ff1919"/><rect x="716.84" fill="#ff1c1c"/><rect x="719.33" fill="#ff2828"/><rect x="721.82" fill="#ff1c1c"/><rect x="724.31" fill="#ff2626"/><rect x="726.80" fill="#ffcdcd"/><rect x="729.29" fill="#ffd3d3"/><rect x="731.78" fill="#ffc5c5"/><rect x="734.27" fill="#ffadad"/><rect x="736.76" fill="#ffc3c3"/><rect x="739.25" fill="#ffc9c9"/><rect x="741.74" fill="#ffc7c7"/><rect x="744.23" fill="#ffd2d2"/><rect x="746.72" fill="#ffbdbd"/><rect x="749.21" fill="#ffcdcd"/><rect x="751.70" fill="#ffb5b5"/><rect x="754.19" fill="#ffdfdf"/><rect x="756.68" fill="#ffb6b6"/><rect x="759.17" fill="#ff3232"/><rect x="761.66" fill="#ff4646"/><rect x="764.15" fill="#ff1d1d"/><rect x="766.64" fill="#ff2c2c"/><rect x="769.13" fill="#ff4a4a"/><rect x="771.62" fill="#ffc8c8"/><rect x="774.11" fill="#ff2424"/><rect x="776.60" fill="#ff2f2f"/><rect x="779.09" fill="#ffafaf"/><rect x="781.58" fill="#ff1d1d"/><rect x="784.07" fill="#ff1e1e"/><rect x="786.56" fill="#ff2323"/><rect x="789.05" fill="#ff1414"/><rect x="791.54" fill="#ff1e1e"/><rect x="794.03" fill="#ffb4b4"/><rect x="796.52" fill="#ffdbdb"/><rect x="799.01" fill="#ffadad"/><rect x="801.50" fill="#ffa7a7"/><rect x="803.99" fill="#ffbfbf"/><rect x="806.48" fill="#ffc2c2"/><rect x="808.97" fill="#ff9d9d"/><rect x="811.46" fill="#ffd6d6"/><rect x="813.95" fill="#ff2121"/><rect x="816.44" fill="#ff0303"/><rect x="818.93" fill="#ff3636"/><rect x="821.42" fill="#ffb0b0"/><rect x="823.91" fill="#ff0b0b"/><rect x="826.40" fill="#ff2a2a"/><rect x="828.89" fill="#ffb2b2"/><rect x="831.38" fill="#ffadad"/><rect x="833.87" fill="#ff3636"/><rect x="836.36" fill="#ff2a2a"/><rect x="838.85" fill="#ff2424"/><rect x="841.34" fill="#ffaeae"/><rect x="843.83" fill="#ffbbbb"/><rect x="846.32" fill="#ffbebe"/><rect x="848.81" fill="#ffcaca"/><rect x="851.30" fill="#ffc0c0"/><rect x="853.79" fill="#ffadad"/><rect x="856.28" fill="#ff2727"/><rect x="858.77" fill="#ff3535"/><rect x="861.26" fill="#ff3535"/><rect x="863.75" fill="#ff0000"/><rect x="866.24" fill="#ff1717"/><rect x="868.73" fill="#ffb1b1"/><rect x="871.22" fill="#ffe2e2"/><rect x="873.71" fill="#ffb1b1"/></g>
<g class="hm hmb" mask="url(#hm5)"><rect x="52.00" fill="#d3d3ff"/><rect x="54.49" fill="#dfdfff"/><rect x="56.98" fill="#d4d4ff"/><rect x="59.47" fill="#d3d3ff"/><rect x="61.96" fill="#c9c9ff"/><rect x="64.45" fill="#d4d4ff"/><rect x="66.94" fill="#e8e8ff"/><rect x="69.43" fill="#dedeff"/><rect x="71.92" fill="#e7e7ff"/><rect x="74.41" fill="#acacff"/><rect x="76.90" fill="#7777ff"/><rect x="79.39" fill="#ababff"/><rect x="81.88" fill="#bebeff"/><rect x="84.37" fill="#e4e4ff"/><rect x="86.86" fill="#dfdfff"/><rect x="89.35" fill="#dfdfff"/><rect x="91.84" fill="#bdbdff"/><rect x="94.33" fill="#bdbdff"/><rect x="96.82" fill="#cacaff"/><rect x="99.31" fill="#d0d0ff"/><rect x="101.80" fill="#dcdcff"/><rect x="104.29" fill="#d7d7ff"/><rect x="106.78" fill="#4040ff"/><rect x="109.27" fill="#2e2eff"/><rect x="111.76" fill="#3d3dff"/><rect x="114.25" fill="#3e3eff"/><rect x="116.74" fill="#9e9eff"/><rect x="119.23" fill="#c2c2ff"/><rect x="121.72" fill="#b1b1ff"/><rect x="124.21" fill="#0000ff"/><rect x="126.70" fill="#0000ff"/><rect x="129.19" fill="#9d9dff"/><rect x="131.68" fill="#a3a3ff"/><rect x="134.17" fill="#a7a7ff"/><rect x="136.66" fill="#b2b2ff"/><rect x="139.15" fill="#acacff"/><rect x="141.64" fill="#a1a1ff"/><rect x="144.13" fill="#9a9aff"/><rect x="146.62" fill="#a0a0ff"/><rect x="149.11" fill="#bbbbff"/><rect x="151.60" fill="#9c9cff"/><rect x="154.09" fill="#0000ff"/><rect x="156.58" fill="#0000ff"/><rect x="159.07" fill="#0000ff"/><rect x="161.56" fill="#0000ff"/><rect x="164.05" fill="#bcbcff"/><rect x="166.54" fill="#b9b9ff"/><rect x="169.03" fill="#d2d2ff"/><rect x="171.52" fill="#d6d6ff"/><rect x="174.01" fill="#cbcbff"/><rect x="176.50" fill="#dfdfff"/><rect x="178.99" fill="#d6d6ff"/><rect x="181.48" fill="#c1c1ff"/><rect x="183.97" fill="#e4e4ff"/><rect x="186.46" fill="#e2e2ff"/><rect x="188.95" fill="#e6e6ff"/><rect x="191.44" fill="#ededff"/><rect x="193.93" fill="#ddddff"/><rect x="196.42" fill="#d9d9ff"/><rect x="198.91" fill="#c3c3ff"/><rect x="201.40" fill="#e1e1ff"/><rect x="203.89" fill="#ceceff"/><rect x="206.38" fill="#d0d0ff"/><rect x="208.87" fill="#2525ff"/><rect x="211.36" fill="#2929ff"/><rect x="213.85" fill="#3030ff"/><rect x="216.34" fill="#4c4cff"/><rect x="218.83" fill="#8989ff"/><rect x="221.32" fill="#9292ff"/><rect x="223.81" fill="#acacff"/><rect x="226.30" fill="#bebeff"/><rect x="228.79" fill="#b1b1ff"/><rect x="231.28" fill="#0000ff"/><rect x="233.77" fill="#0000ff"/><rect x="236.26" fill="#ddddff"/><rect x="238.75" fill="#ccccff"/><rect x="241.24" fill="#c6c6ff"/><rect x="243.73" fill="#e6e6ff"/><rect x="246.22" fill="#e8e8ff"/><rect x="248.71" fill="#dadaff"/><rect x="251.20" fill="#7575ff"/><rect x="253.69" fill="#7878ff"/><rect x="256.18" fill="#f0f0ff"/><rect x="258.67" fill="#e1e1ff"/><rect x="261.16" fill="#dfdfff"/><rect x="263.65" fill="#e0e0ff"/><rect x="266.14" fill="#2020ff"/><rect x="268.63" fill="#4c4cff"/><rect x="271.12" fill="#4747ff"/><rect x="273.61" fill="#4040ff"/><rect x="276.10" fill="#1a1aff"/><rect x="278.59" fill="#2e2eff"/><rect x="281.08" fill="#b5b5ff"/><rect x="283.57" fill="#0000ff"/><rect x="286.06" fill="#0000ff"/><rect x="288.55" fill="#b8b8ff"/><rect x="291.04" fill="#9494ff"/><rect x="293.53" fill="#c1c1ff"/><rect x="296.02" fill="#b1b1ff"/><rect x="298.51" fill="#a6a6ff"/><rect x="301.00" fill="#3d3dff"/><rect x="303.49" fill="#4242ff"/><rect x="305.98" fill="#3a3aff"/><rect x="308.47" fill="#4a4aff"/><rect x="310.96" fill="#9e9eff"/><rect x="313.45" fill="#a2a2ff"/><rect x="315.94" fill="#8181ff"/><rect x="318.43" fill="#7272ff"/><rect x="320.92" fill="#9b9bff"/><rect x="323.41" fill="#e6e6ff"/><rect x="325.90" fill="#eeeeff"/><rect x="328.39" fill="#d1d1ff"/><rect x="330.88" fill="#c2c2ff"/><rect x="333.37" fill="#d5d5ff"/><rect x="335.86" fill="#d5d5ff"/><rect x="338.35" fill="#d3d3ff"/><rect x="340.84" fill="#ededff"/><rect x="343.33" fill="#c8c8ff"/><rect x="345.82" fill="#ebebff"/><rect x="348.31" fill="#2525ff"/><rect x="350.80" fill="#2c2cff"/><rect x="353.29" fill="#4242ff"/><rect x="355.78" fill="#4949ff"/><rect x="358.27" fill="#4545ff"/><rect x="360.76" fill="#7777ff"/><rect x="363.25" fill="#7474ff"/><rect x="365.74" fill="#7474ff"/><rect x="368.23" fill="#4141ff"/><rect x="370.72" fill="#3535ff"/><rect x="373.21" fill="#acacff"/><rect x="375.70" fill="#b1b1ff"/><rect x="378.19" fill="#a8a8ff"/><rect x="380.68" fill="#b4b4ff"/><rect x="383.17" fill="#0000ff"/><rect x="385.66" fill="#0a0aff"/><rect x="388.15" fill="#dcdcff"/><rect x="390.64" fill="#d1d1ff"/><rect x="393.13" fill="#d2d2ff"/><rect x="395.62" fill="#d7d7ff"/><rect x="398.11" fill="#e5e5ff"/><rect x="400.60" fill="#d2d2ff"/><rect x="403.09" fill="#ddddff"/><rect x="405.58" fill="#f3f3ff"/><rect x="408.07" fill="#b0b0ff"/><rect x="410.56" fill="#c6c6ff"/><rect x="413.05" fill="#dbdbff"/><rect x="415.54" fill="#ddddff"/><rect x="418.03" fill="#dbdbff"/><rect x="420.52" fill="#d1d1ff"/><rect x="423.01" fill="#4242ff"/><rect x="425.50" fill="#3c3cff"/><rect x="427.99" fill="#3030ff"/><rect x="430.48" fill="#cdcdff"/><rect x="432.97" fill="#aeaeff"/><rect x="435.46" fill="#a0a0ff"/><rect x="437.95" fill="#a7a7ff"/><rect x="440.44" fill="#3535ff"/><rect x="442.93" fill="#3737ff"/><rect x="445.42" fill="#7e7eff"/><rect x="447.91" fill="#a1a1ff"/><rect x="450.40" fill="#b8b8ff"/><rect x="452.89" fill="#9696ff"/><rect x="455.38" fill="#a7a7ff"/><rect x="457.87" fill="#0000ff"/><rect x="460.36" fill="#0000ff"/><rect x="462.85" fill="#0202ff"/><rect x="465.35" fill="#bdbdff"/><rect x="467.84" fill="#d2d2ff"/><rect x="470.33" fill="#d2d2ff"/><rect x="472.82" fill="#e1e1ff"/><rect x="475.31" fill="#e8e8ff"/><rect x="477.80" fill="#aeaeff"/><rect x="480.29" fill="#0000ff"/><rect x="482.78" fill="#9292ff"/><rect x="485.27" fill="#e2e2ff"/><rect x="487.76" fill="#c1c1ff"/><rect x="490.25" fill="#dadaff"/><rect x="492.74" fill="#eaeaff"/><rect x="495.23" fill="#d5d5ff"/><rect x="497.72" fill="#dadaff"/><rect x="500.21" fill="#e4e4ff"/><rect x="502.70" fill="#aaaaff"/><rect x="505.19" fill="#7070ff"/><rect x="507.68" fill="#8989ff"/><rect x="510.17" fill="#e7e7ff"/><rect x="512.66" fill="#d3d3ff"/><rect x="515.15" fill="#fffdfd"/><rect x="517.64" fill="#c6c6ff"/><rect x="520.13" fill="#e5e5ff"/><rect x="522.62" fill="#d3d3ff"/><rect x="525.11" fill="#d9d9ff"/><rect x="527.60" fill="#e2e2ff"/><rect x="530.09" fill="#dbdbff"/><rect x="532.58" fill="#b2b2ff"/><rect x="535.07" fill="#2121ff"/><rect x="537.56" fill="#2121ff"/><rect x="540.05" fill="#b2b2ff"/><rect x="542.54" fill="#c9c9ff"/><rect x="545.03" fill="#c8c8ff"/><rect x="547.52" fill="#c1c1ff"/><rect x="550.01" fill="#ebebff"/><rect x="552.50" fill="#b4b4ff"/><rect x="554.99" fill="#4f4fff"/><rect x="557.48" fill="#2a2aff"/><rect x="559.97" fill="#3838ff"/><rect x="562.46" fill="#9797ff"/><rect x="564.95" fill="#b4b4ff"/><rect x="567.44" fill="#ff8989"/><rect x="569.93" fill="#ff1d1d"/><rect x="572.42" fill="#ff0000"/><rect x="574.91" fill="#ff0000"/><rect x="577.40" fill="#ff1212"/><rect x="579.89" fill="#ff2d2d"/><rect x="582.38" fill="#ff8c8c"/><rect x="584.87" fill="#ffa3a3"/><rect x="587.36" fill="#ffabab"/><rect x="589.85" fill="#ff9b9b"/><rect x="592.34" fill="#ff9b9b"/><rect x="594.83" fill="#ff8b8b"/><rect x="597.32" fill="#ffb1b1"/><rect x="599.81" fill="#ff9090"/><rect x="602.30" fill="#ff8b8b"/><rect x="604.79" fill="#ff8b8b"/><rect x="607.28" fill="#ff1212"/><rect x="609.77" fill="#ff1a1a"/><rect x="612.26" fill="#ff0000"/><rect x="614.75" fill="#ffa0a0"/><rect x="617.24" fill="#ffcccc"/><rect x="619.73" fill="#ffb8b8"/><rect x="622.22" fill="#ffd2d2"/><rect x="624.71" fill="#fff1f1"/><rect x="627.20" fill="#ffd4d4"/><rect x="629.69" fill="#ffebeb"/><rect x="632.18" fill="#ff0202"/><rect x="634.67" fill="#ff0a0a"/><rect x="637.16" fill="#ff1818"/><rect x="639.65" fill="#ff0f0f"/><rect x="642.14" fill="#ff0202"/><rect x="644.63" fill="#ffa0a0"/><rect x="647.12" fill="#ff8d8d"/><rect x="649.61" fill="#ffa2a2"/><rect x="652.10" fill="#ff0000"/><rect x="654.59" fill="#ff0000"/><rect x="657.08" fill="#ff0000"/><rect x="659.57" fill="#ffacac"/><rect x="662.06" fill="#ff9494"/><rect x="664.55" fill="#ffbebe"/><rect x="667.04" fill="#ffb2b2"/><rect x="669.53" fill="#ffc0c0"/><rect x="672.02" fill="#ff0000"/><rect x="674.51" fill="#ff2222"/><rect x="677.00" fill="#ff0f0f"/><rect x="679.49" fill="#ff1212"/><rect x="681.98" fill="#ff0f0f"/><rect x="684.47" fill="#ffd7d7"/><rect x="686.96" fill="#ffcbcb"/><rect x="689.45" fill="#ffb3b3"/><rect x="691.94" fill="#ffcdcd"/><rect x="694.43" fill="#ffc6c6"/><rect x="696.92" fill="#ffbfbf"/><rect x="699.41" fill="#ffd1d1"/><rect x="701.90" fill="#ffe1e1"/><rect x="704.39" fill="#ffd7d7"/><rect x="706.88" fill="#ffbebe"/><rect x="709.37" fill="#ffbbbb"/><rect x="711.86" fill="#ff1818"/><rect x="714.35" fill="#ff0000"/><rect x="716.84" fill="#ff0303"/><rect x="719.33" fill="#ff0f0f"/><rect x="721.82" fill="#ff0303"/><rect x="724.31" fill="#ff0c0c"/><rect x="726.80" fill="#ffb4b4"/><rect x="729.29" fill="#ffb9b9"/><rect x="731.78" fill="#ffabab"/><rect x="734.27" fill="#ff9393"/><rect x="736.76" fill="#ffaaaa"/><rect x="739.25" fill="#ffafaf"/><rect x="741.74" fill="#ffadad"/><rect x="744.23" fill="#ffb9b9"/><rect x="746.72" fill="#ffa3a3"/><rect x="749.21" fill="#ffb4b4"/><rect x="751.70" fill="#ff9c9c"/><rect x="754.19" fill="#ffc6c6"/><rect x="756.68" fill="#ff9d9d"/><rect x="759.17" fill="#ff1919"/><rect x="761.66" fill="#ff2d2d"/><rect x="764.15" fill="#ff0404"/><rect x="766.64" fill="#ff1313"/><rect x="769.13" fill="#ff3131"/><rect x="771.62" fill="#ffafaf"/><rect x="774.11" fill="#ff0a0a"/><rect x="776.60" fill="#ff1616"/><rect x="779.09" fill="#ff9696"/><rect x="781.58" fill="#ff0303"/><rect x="784.07" fill="#ff0505"/><rect x="786.56" fill="#ff0a0a"/><rect x="789.05" fill="#ff0000"/><rect x="791.54" fill="#ff0505"/><rect x="794.03" fill="#ff9b9b"/><rect x="796.52" fill="#ffc1c1"/><rect x="799.01" fill="#ff9494"/><rect x="801.50" fill="#ff8e8e"/><rect x="803.99" fill="#ffa6a6"/><rect x="806.48" fill="#ffa9a9"/><rect x="808.97" fill="#ff8484"/><rect x="811.46" fill="#ffbcbc"/><rect x="813.95" fill="#ff0808"/><rect x="816.44" fill="#ff0000"/><rect x="818.93" fill="#ff1d1d"/><rect x="821.42" fill="#ff9797"/><rect x="823.91" fill="#ff0000"/><rect x="826.40" fill="#ff1111"/><rect x="828.89" fill="#ff9999"/><rect x="831.38" fill="#ff9494"/><rect x="833.87" fill="#ff1d1d"/><rect x="836.36" fill="#ff1010"/><rect x="838.85" fill="#ff0a0a"/><rect x="841.34" fill="#ff9595"/><rect x="843.83" fill="#ffa2a2"/><rect x="846.32" fill="#ffa5a5"/><rect x="848.81" fill="#ffb1b1"/><rect x="851.30" fill="#ffa7a7"/><rect x="853.79" fill="#ff9494"/><rect x="856.28" fill="#ff0d0d"/><rect x="858.77" fill="#ff1c1c"/><rect x="861.26" fill="#ff1c1c"/><rect x="863.75" fill="#ff0000"/><rect x="866.24" fill="#ff0000"/><rect x="868.73" fill="#ff9898"/><rect x="871.22" fill="#ffc9c9"/><rect x="873.71" fill="#ff9898"/></g>
<g class="hm hmb" mask="url(#hm6)"><rect x="52.00" fill="#f1f1ff"/><rect x="54.49" fill="#fdfdff"/><rect x="56.98" fill="#f2f2ff"/><rect x="59.47" fill="#f0f0ff"/><rect x="61.96" fill="#e7e7ff"/><rect x="64.45" fill="#f2f2ff"/><rect x="66.94" fill="#fff8f8"/><rect x="69.43" fill="#fcfcff"/><rect x="71.92" fill="#fff9f9"/><rect x="74.41" fill="#cacaff"/><rect x="76.90" fill="#9595ff"/><rect x="79.39" fill="#c9c9ff"/><rect x="81.88" fill="#dcdcff"/><rect x="84.37" fill="#fffcfc"/><rect x="86.86" fill="#fdfdff"/><rect x="89.35" fill="#fdfdff"/><rect x="91.84" fill="#dbdbff"/><rect x="94.33" fill="#dbdbff"/><rect x="96.82" fill="#e8e8ff"/><rect x="99.31" fill="#eeeeff"/><rect x="101.80" fill="#fafaff"/><rect x="104.29" fill="#f4f4ff"/><rect x="106.78" fill="#5e5eff"/><rect x="109.27" fill="#4c4cff"/><rect x="111.76" fill="#5b5bff"/><rect x="114.25" fill="#5c5cff"/><rect x="116.74" fill="#bcbcff"/><rect x="119.23" fill="#e0e0ff"/><rect x="121.72" fill="#cfcfff"/><rect x="124.21" fill="#1c1cff"/><rect x="126.70" fill="#0000ff"/><rect x="129.19" fill="#bbbbff"/><rect x="131.68" fill="#c1c1ff"/><rect x="134.17" fill="#c4c4ff"/><rect x="136.66" fill="#d0d0ff"/><rect x="139.15" fill="#cacaff"/><rect x="141.64" fill="#bfbfff"/><rect x="144.13" fill="#b7b7ff"/><rect x="146.62" fill="#bebeff"/><rect x="149.11" fill="#d9d9ff"/><rect x="151.60" fill="#babaff"/><rect x="154.09" fill="#0d0dff"/><rect x="156.58" fill="#1010ff"/><rect x="159.07" fill="#0000ff"/><rect x="161.56" fill="#0a0aff"/><rect x="164.05" fill="#dadaff"/><rect x="166.54" fill="#d6d6ff"/><rect x="169.03" fill="#f0f0ff"/><rect x="171.52" fill="#f4f4ff"/><rect x="174.01" fill="#e9e9ff"/><rect x="176.50" fill="#fdfdff"/><rect x="178.99" fill="#f4f4ff"/><rect x="181.48" fill="#dfdfff"/><rect x="183.97" fill="#fffcfc"/><rect x="186.46" fill="#ffffff"/><rect x="188.95" fill="#fffafa"/><rect x="191.44" fill="#fff3f3"/><rect x="193.93" fill="#fbfbff"/><rect x="196.42" fill="#f7f7ff"/><rect x="198.91" fill="#e1e1ff"/><rect x="201.40" fill="#ffffff"/><rect x="203.89" fill="#ececff"/><rect x="206.38" fill="#eeeeff"/><rect x="208.87" fill="#4242ff"/><rect x="211.36" fill="#4747ff"/><rect x="213.85" fill="#4e4eff"/><rect x="216.34" fill="#6a6aff"/><rect x="218.83" fill="#a7a7ff"/><rect x="221.32" fill="#b0b0ff"/><rect x="223.81" fill="#cacaff"/><rect x="226.30" fill="#dcdcff"/><rect x="228.79" fill="#cfcfff"/><rect x="231.28" fill="#0000ff"/><rect x="233.77" fill="#0000ff"/><rect x="236.26" fill="#fbfbff"/><rect x="238.75" fill="#eaeaff"/><rect x="241.24" fill="#e4e4ff"/><rect x="243.73" fill="#fffafa"/><rect x="246.22" fill="#fff8f8"/><rect x="248.71" fill="#f8f8ff"/><rect x="251.20" fill="#9393ff"/><rect x="253.69" fill="#9696ff"/><rect x="256.18" fill="#fff0f0"/><rect x="258.67" fill="#ffffff"/><rect x="261.16" fill="#fdfdff"/><rect x="263.65" fill="#fefeff"/><rect x="266.14" fill="#3e3eff"/><rect x="268.63" fill="#6969ff"/><rect x="271.12" fill="#6464ff"/><rect x="273.61" fill="#5e5eff"/><rect x="276.10" fill="#3838ff"/><rect x="278.59" fill="#4c4cff"/><rect x="281.08" fill="#d3d3ff"/><rect x="283.57" fill="#0000ff"/><rect x="286.06" fill="#0606ff"/><rect x="288.55" fill="#d6d6ff"/><rect x="291.04" fill="#b2b2ff"/><rect x="293.53" fill="#dfdfff"/><rect x="296.02" fill="#ceceff"/><rect x="298.51" fill="#c4c4ff"/><rect x="301.00" fill="#5b5bff"/><rect x="303.49" fill="#6060ff"/><rect x="305.98" fill="#5858ff"/><rect x="308.47" fill="#6767ff"/><rect x="310.96" fill="#bcbcff"/><rect x="313.45" fill="#c0c0ff"/><rect x="315.94" fill="#9f9fff"/><rect x="318.43" fill="#9090ff"/><rect x="320.92" fill="#b9b9ff"/><rect x="323.41" fill="#fffafa"/><rect x="325.90" fill="#fff2f2"/><rect x="328.39" fill="#eeeeff"/><rect x="330.88" fill="#e0e0ff"/><rect x="333.37" fill="#f3f3ff"/><rect x="335.86" fill="#f3f3ff"/><rect x="338.35" fill="#f1f1ff"/><rect x="340.84" fill="#fff3f3"/><rect x="343.33" fill="#e5e5ff"/><rect x="345.82" fill="#fff6f6"/><rect x="348.31" fill="#4242ff"/><rect x="350.80" fill="#4a4aff"/><rect x="353.29" fill="#5f5fff"/><rect x="355.78" fill="#6767ff"/><rect x="358.27" fill="#6363ff"/><rect x="360.76" fill="#9494ff"/><rect x="363.25" fill="#9191ff"/><rect x="365.74" fill="#9292ff"/><rect x="368.23" fill="#5f5fff"/><rect x="370.72" fill="#5353ff"/><rect x="373.21" fill="#cacaff"/><rect x="375.70" fill="#cfcfff"/><rect x="378.19" fill="#c6c6ff"/><rect x="380.68" fill="#d2d2ff"/><rect x="383.17" fill="#1212ff"/><rect x="385.66" fill="#2828ff"/><rect x="388.15" fill="#fafaff"/><rect x="390.64" fill="#efefff"/><rect x="393.13" fill="#efefff"/><rect x="395.62" fill="#f5f5ff"/><rect x="398.11" fill="#fffbfb"/><rect x="400.60" fill="#f0f0ff"/><rect x="403.09" fill="#fbfbff"/><rect x="405.58" fill="#ffeded"/><rect x="408.07" fill="#ceceff"/><rect x="410.56" fill="#e4e4ff"/><rect x="413.05" fill="#f9f9ff"/><rect x="415.54" fill="#fbfbff"/><rect x="418.03" fill="#f9f9ff"/><rect x="420.52" fill="#efefff"/><rect x="423.01" fill="#6060ff"/><rect x="425.50" fill="#5a5aff"/><rect x="427.99" fill="#4e4eff"/><rect x="430.48" fill="#ebebff"/><rect x="432.97" fill="#cbcbff"/><rect x="435.46" fill="#bebeff"/><rect x="437.95" fill="#c4c4ff"/><rect x="440.44" fill="#5252ff"/><rect x="442.93" fill="#5555ff"/><rect x="445.42" fill="#9c9cff"/><rect x="447.91" fill="#bfbfff"/><rect x="450.40" fill="#d5d5ff"/><rect x="452.89" fill="#b4b4ff"/><rect x="455.38" fill="#c5c5ff"/><rect x="457.87" fill="#1818ff"/><rect x="460.36" fill="#1616ff"/><rect x="462.85" fill="#2020ff"/><rect x="465.35" fill="#dbdbff"/><rect x="467.84" fill="#f0f0ff"/><rect x="470.33" fill="#f0f0ff"/><rect x="472.82" fill="#ffffff"/><rect x="475.31" fill="#fff8f8"/><rect x="477.80" fill="#ccccff"/><rect x="480.29" fill="#1a1aff"/><rect x="482.78" fill="#b0b0ff"/><rect x="485.27" fill="#fffefe"/><rect x="487.76" fill="#dedeff"/><rect x="490.25" fill="#f8f8ff"/><rect x="492.74" fill="#fff7f7"/><rect x="495.23" fill="#f3f3ff"/><rect x="497.72" fill="#f8f8ff"/><rect x="500.21" fill="#fffdfd"/><rect x="502.70" fill="#c8c8ff"/><rect x="505.19" fill="#8e8eff"/><rect x="507.68" fill="#a7a7ff"/><rect x="510.17" fill="#fff9f9"/><rect x="512.66" fill="#f1f1ff"/><rect x="515.15" fill="#ffdfdf"/><rect x="517.64" fill="#e4e4ff"/><rect x="520.13" fill="#fffbfb"/><rect x="522.62" fill="#f1f1ff"/><rect x="525.11" fill="#f7f7ff"/><rect x="527.60" fill="#fffefe"/><rect x="530.09" fill="#f9f9ff"/><rect x="532.58" fill="#d0d0ff"/><rect x="535.07" fill="#3e3eff"/><rect x="537.56" fill="#3f3fff"/><rect x="540.05" fill="#cfcfff"/><rect x="542.54" fill="#e6e6ff"/><rect x="545.03" fill="#e5e5ff"/><rect x="547.52" fill="#dfdfff"/><rect x="550.01" fill="#fff5f5"/><rect x="552.50" fill="#d1d1ff"/><rect x="554.99" fill="#6c6cff"/><rect x="557.48" fill="#4747ff"/><rect x="559.97" fill="#5656ff"/><rect x="562.46" fill="#b5b5ff"/><rect x="564.95" fill="#d2d2ff"/><rect x="567.44" fill="#ff7070"/><rect x="569.93" fill="#ff0303"/><rect x="572.42" fill="#ff0000"/><rect x="574.91" fill="#ff0000"/><rect x="577.40" fill="#ff0000"/><rect x="579.89" fill="#ff1414"/><rect x="582.38" fill="#ff7373"/><rect x="584.87" fill="#ff8a8a"/><rect x="587.36" fill="#ff9292"/><rect x="589.85" fill="#ff8282"/><rect x="592.34" fill="#ff8282"/><rect x="594.83" fill="#ff7171"/><rect x="597.32" fill="#ff9898"/><rect x="599.81" fill="#ff7777"/><rect x="602.30" fill="#ff7272"/><rect x="604.79" fill="#ff7272"/><rect x="607.28" fill="#ff0000"/><rect x="609.77" fill="#ff0101"/><rect x="612.26" fill="#ff0000"/><rect x="614.75" fill="#ff8787"/><rect x="617.24" fill="#ffb3b3"/><rect x="619.73" fill="#ff9f9f"/><rect x="622.22" fill="#ffb9b9"/><rect x="624.71" fill="#ffd8d8"/><rect x="627.20" fill="#ffbbbb"/><rect x="629.69" fill="#ffd1d1"/><rect x="632.18" fill="#ff0000"/><rect x="634.67" fill="#ff0000"/><rect x="637.16" fill="#ff0000"/><rect x="639.65" fill="#ff0000"/><rect x="642.14" fill="#ff0000"/><rect x="644.63" fill="#ff8787"/><rect x="647.12" fill="#ff7474"/><rect x="649.61" fill="#ff8989"/><rect x="652.10" fill="#ff0000"/><rect x="654.59" fill="#ff0000"/><rect x="657.08" fill="#ff0000"/><rect x="659.57" fill="#ff9393"/><rect x="662.06" fill="#ff7b7b"/><rect x="664.55" fill="#ffa5a5"/><rect x="667.04" fill="#ff9999"/><rect x="669.53" fill="#ffa6a6"/><rect x="672.02" fill="#ff0000"/><rect x="674.51" fill="#ff0909"/><rect x="677.00" fill="#ff0000"/><rect x="679.49" fill="#ff0000"/><rect x="681.98" fill="#ff0000"/><rect x="684.47" fill="#ffbebe"/><rect x="686.96" fill="#ffb1b1"/><rect x="689.45" fill="#ff9a9a"/><rect x="691.94" fill="#ffb4b4"/><rect x="694.43" fill="#ffadad"/><rect x="696.92" fill="#ffa6a6"/><rect x="699.41" fill="#ffb8b8"/><rect x="701.90" fill="#ffc8c8"/><rect x="704.39" fill="#ffbdbd"/><rect x="706.88" fill="#ffa4a4"/><rect x="709.37" fill="#ffa1a1"/><rect x="711.86" fill="#ff0000"/><rect x="714.35" fill="#ff0000"/><rect x="716.84" fill="#ff0000"/><rect x="719.33" fill="#ff0000"/><rect x="721.82" fill="#ff0000"/><rect x="724.31" fill="#ff0000"/><rect x="726.80" fill="#ff9a9a"/><rect x="729.29" fill="#ffa0a0"/><rect x="731.78" fill="#ff9292"/><rect x="734.27" fill="#ff7a7a"/><rect x="736.76" fill="#ff9191"/><rect x="739.25" fill="#ff9696"/><rect x="741.74" fill="#ff9494"/><rect x="744.23" fill="#ffa0a0"/><rect x="746.72" fill="#ff8a8a"/><rect x="749.21" fill="#ff9a9a"/><rect x="751.70" fill="#ff8383"/><rect x="754.19" fill="#ffacac"/><rect x="756.68" fill="#ff8383"/><rect x="759.17" fill="#ff0000"/><rect x="761.66" fill="#ff1313"/><rect x="764.15" fill="#ff0000"/><rect x="766.64" fill="#ff0000"/><rect x="769.13" fill="#ff1818"/><rect x="771.62" fill="#ff9696"/><rect x="774.11" fill="#ff0000"/><rect x="776.60" fill="#ff0000"/><rect x="779.09" fill="#ff7c7c"/><rect x="781.58" fill="#ff0000"/><rect x="784.07" fill="#ff0000"/><rect x="786.56" fill="#ff0000"/><rect x="789.05" fill="#ff0000"/><rect x="791.54" fill="#ff0000"/><rect x="794.03" fill="#ff8181"/><rect x="796.52" fill="#ffa8a8"/><rect x="799.01" fill="#ff7b7b"/><rect x="801.50" fill="#ff7474"/><rect x="803.99" fill="#ff8d8d"/><rect x="806.48" fill="#ff8f8f"/><rect x="808.97" fill="#ff6b6b"/><rect x="811.46" fill="#ffa3a3"/><rect x="813.95" fill="#ff0000"/><rect x="816.44" fill="#ff0000"/><rect x="818.93" fill="#ff0404"/><rect x="821.42" fill="#ff7e7e"/><rect x="823.91" fill="#ff0000"/><rect x="826.40" fill="#ff0000"/><rect x="828.89" fill="#ff8080"/><rect x="831.38" fill="#ff7a7a"/><rect x="833.87" fill="#ff0404"/><rect x="836.36" fill="#ff0000"/><rect x="838.85" fill="#ff0000"/><rect x="841.34" fill="#ff7c7c"/><rect x="843.83" fill="#ff8989"/><rect x="846.32" fill="#ff8b8b"/><rect x="848.81" fill="#ff9898"/><rect x="851.30" fill="#ff8e8e"/><rect x="853.79" fill="#ff7b7b"/><rect x="856.28" fill="#ff0000"/><rect x="858.77" fill="#ff0303"/><rect x="861.26" fill="#ff0303"/><rect x="863.75" fill="#ff0000"/><rect x="866.24" fill="#ff0000"/><rect x="868.73" fill="#ff7f7f"/><rect x="871.22" fill="#ffb0b0"/><rect x="873.71" fill="#ff7f7f"/></g>
<g class="hm hmb" mask="url(#hm7)"><rect x="52.00" fill="#ffeaea"/><rect x="54.49" fill="#ffdede"/><rect x="56.98" fill="#ffe9e9"/><rect x="59.47" fill="#ffebeb"/><rect x="61.96" fill="#fff4f4"/><rect x="64.45" fill="#ffe9e9"/><rect x="66.94" fill="#ffd5d5"/><rect x="69.43" fill="#ffe0e0"/><rect x="71.92" fill="#ffd6d6"/><rect x="74.41" fill="#ededff"/><rect x="76.90" fill="#b8b8ff"/><rect x="79.39" fill="#ececff"/><rect x="81.88" fill="#fefeff"/><rect x="84.37" fill="#ffd9d9"/><rect x="86.86" fill="#ffdede"/><rect x="89.35" fill="#ffdede"/><rect x="91.84" fill="#fefeff"/><rect x="94.33" fill="#fdfdff"/><rect x="96.82" fill="#fff4f4"/><rect x="99.31" fill="#ffeded"/><rect x="101.80" fill="#ffe1e1"/><rect x="104.29" fill="#ffe7e7"/><rect x="106.78" fill="#8181ff"/><rect x="109.27" fill="#6f6fff"/><rect x="111.76" fill="#7d7dff"/><rect x="114.25" fill="#7f7fff"/><rect x="116.74" fill="#dfdfff"/><rect x="119.23" fill="#fffbfb"/><rect x="121.72" fill="#f1f1ff"/><rect x="124.21" fill="#3e3eff"/><rect x="126.70" fill="#2323ff"/><rect x="129.19" fill="#dedeff"/><rect x="131.68" fill="#e4e4ff"/><rect x="134.17" fill="#e7e7ff"/><rect x="136.66" fill="#f2f2ff"/><rect x="139.15" fill="#ededff"/><rect x="141.64" fill="#e2e2ff"/><rect x="144.13" fill="#dadaff"/><rect x="146.62" fill="#e1e1ff"/><rect x="149.11" fill="#fbfbff"/><rect x="151.60" fill="#dcdcff"/><rect x="154.09" fill="#3030ff"/><rect x="156.58" fill="#3333ff"/><rect x="159.07" fill="#1515ff"/><rect x="161.56" fill="#2d2dff"/><rect x="164.05" fill="#fdfdff"/><rect x="166.54" fill="#f9f9ff"/><rect x="169.03" fill="#ffebeb"/><rect x="171.52" fill="#ffe8e8"/><rect x="174.01" fill="#fff3f3"/><rect x="176.50" fill="#ffdede"/><rect x="178.99" fill="#ffe7e7"/><rect x="181.48" fill="#fffcfc"/><rect x="183.97" fill="#ffd9d9"/><rect x="186.46" fill="#ffdcdc"/><rect x="188.95" fill="#ffd8d8"/><rect x="191.44" fill="#ffd0d0"/><rect x="193.93" fill="#ffe0e0"/><rect x="196.42" fill="#ffe4e4"/><rect x="198.91" fill="#fffafa"/><rect x="201.40" fill="#ffdddd"/><rect x="203.89" fill="#ffefef"/><rect x="206.38" fill="#ffeded"/><rect x="208.87" fill="#6565ff"/><rect x="211.36" fill="#6a6aff"/><rect x="213.85" fill="#7070ff"/><rect x="216.34" fill="#8c8cff"/><rect x="218.83" fill="#cacaff"/><rect x="221.32" fill="#d3d3ff"/><rect x="223.81" fill="#ececff"/><rect x="226.30" fill="#ffffff"/><rect x="228.79" fill="#f2f2ff"/><rect x="231.28" fill="#0f0fff"/><rect x="233.77" fill="#0606ff"/><rect x="236.26" fill="#ffe1e1"/><rect x="238.75" fill="#fff1f1"/><rect x="241.24" fill="#fff7f7"/><rect x="243.73" fill="#ffd7d7"/><rect x="246.22" fill="#ffd5d5"/><rect x="248.71" fill="#ffe4e4"/><rect x="251.20" fill="#b6b6ff"/><rect x="253.69" fill="#b9b9ff"/><rect x="256.18" fill="#ffcece"/><rect x="258.67" fill="#ffdddd"/><rect x="261.16" fill="#ffdede"/><rect x="263.65" fill="#ffdede"/><rect x="266.14" fill="#6161ff"/><rect x="268.63" fill="#8c8cff"/><rect x="271.12" fill="#8787ff"/><rect x="273.61" fill="#8181ff"/><rect x="276.10" fill="#5a5aff"/><rect x="278.59" fill="#6f6fff"/><rect x="281.08" fill="#f6f6ff"/><rect x="283.57" fill="#1010ff"/><rect x="286.06" fill="#2929ff"/><rect x="288.55" fill="#f8f8ff"/><rect x="291.04" fill="#d5d5ff"/><rect x="293.53" fill="#fffdfd"/><rect x="296.02" fill="#f1f1ff"/><rect x="298.51" fill="#e7e7ff"/><rect x="301.00" fill="#7e7eff"/><rect x="303.49" fill="#8383ff"/><rect x="305.98" fill="#7a7aff"/><rect x="308.47" fill="#8a8aff"/><rect x="310.96" fill="#dfdfff"/><rect x="313.45" fill="#e2e2ff"/><rect x="315.94" fill="#c2c2ff"/><rect x="318.43" fill="#b2b2ff"/><rect x="320.92" fill="#dbdbff"/><rect x="323.41" fill="#ffd8d8"/><rect x="325.90" fill="#ffd0d0"/><rect x="328.39" fill="#ffeded"/><rect x="330.88" fill="#fffbfb"/><rect x="333.37" fill="#ffe8e8"/><rect x="335.86" fill="#ffe8e8"/><rect x="338.35" fill="#ffebeb"/><rect x="340.84" fill="#ffd1d1"/><rect x="343.33" fill="#fff6f6"/><rect x="345.82" fill="#ffd3d3"/><rect x="348.31" fill="#6565ff"/><rect x="350.80" fill="#6d6dff"/><rect x="353.29" fill="#8282ff"/><rect x="355.78" fill="#8a8aff"/><rect x="358.27" fill="#8686ff"/><rect x="360.76" fill="#b7b7ff"/><rect x="363.25" fill="#b4b4ff"/><rect x="365.74" fill="#b4b4ff"/><rect x="368.23" fill="#8181ff"/><rect x="370.72" fill="#7676ff"/><rect x="373.21" fill="#ededff"/><rect x="375.70" fill="#f2f2ff"/><rect x="378.19" fill="#e9e9ff"/><rect x="380.68" fill="#f5f5ff"/><rect x="383.17" fill="#3535ff"/><rect x="385.66" fill="#4b4bff"/><rect x="388.15" fill="#ffe1e1"/><rect x="390.64" fill="#ffeded"/><rect x="393.13" fill="#ffecec"/><rect x="395.62" fill="#ffe6e6"/><rect x="398.11" fill="#ffd8d8"/><rect x="400.60" fill="#ffebeb"/><rect x="403.09" fill="#ffe0e0"/><rect x="405.58" fill="#ffcaca"/><rect x="408.07" fill="#f1f1ff"/><rect x="410.56" fill="#fff7f7"/><rect x="413.05" fill="#ffe2e2"/><rect x="415.54" fill="#ffe0e0"/><rect x="418.03" fill="#ffe2e2"/><rect x="420.52" fill="#ffeded"/><rect x="423.01" fill="#8383ff"/><rect x="425.50" fill="#7d7dff"/><rect x="427.99" fill="#7171ff"/><rect x="430.48" fill="#fff0f0"/><rect x="432.97" fill="#eeeeff"/><rect x="435.46" fill="#e0e0ff"/><rect x="437.95" fill="#e7e7ff"/><rect x="440.44" fill="#7575ff"/><rect x="442.93" fill="#7878ff"/><rect x="445.42" fill="#bfbfff"/><rect x="447.91" fill="#e1e1ff"/><rect x="450.40" fill="#f8f8ff"/><rect x="452.89" fill="#d7d7ff"/><rect x="455.38" fill="#e8e8ff"/><rect x="457.87" fill="#3b3bff"/><rect x="460.36" fill="#3939ff"/><rect x="462.85" fill="#4343ff"/><rect x="465.35" fill="#fefeff"/><rect x="467.84" fill="#ffebeb"/><rect x="470.33" fill="#ffebeb"/><rect x="472.82" fill="#ffdcdc"/><rect x="475.31" fill="#ffd5d5"/><rect x="477.80" fill="#efefff"/><rect x="480.29" fill="#3d3dff"/><rect x="482.78" fill="#d3d3ff"/><rect x="485.27" fill="#ffdcdc"/><rect x="487.76" fill="#fffdfd"/><rect x="490.25" fill="#ffe3e3"/><rect x="492.74" fill="#ffd4d4"/><rect x="495.23" fill="#ffe8e8"/><rect x="497.72" fill="#ffe3e3"/><rect x="500.21" fill="#ffdada"/><rect x="502.70" fill="#ebebff"/><rect x="505.19" fill="#b1b1ff"/><rect x="507.68" fill="#c9c9ff"/><rect x="510.17" fill="#ffd6d6"/><rect x="512.66" fill="#ffebeb"/><rect x="515.15" fill="#ffbcbc"/><rect x="517.64" fill="#fff8f8"/><rect x="520.13" fill="#ffd8d8"/><rect x="522.62" fill="#ffeaea"/><rect x="525.11" fill="#ffe4e4"/><rect x="527.60" fill="#ffdbdb"/><rect x="530.09" fill="#ffe3e3"/><rect x="532.58" fill="#f3f3ff"/><rect x="535.07" fill="#6161ff"/><rect x="537.56" fill="#6262ff"/><rect x="540.05" fill="#f2f2ff"/><rect x="542.54" fill="#fff5f5"/><rect x="545.03" fill="#fff6f6"/><rect x="547.52" fill="#fffdfd"/><rect x="550.01" fill="#ffd3d3"/><rect x="552.50" fill="#f4f4ff"/><rect x="554.99" fill="#8f8fff"/><rect x="557.48" fill="#6a6aff"/><rect x="559.97" fill="#7979ff"/><rect x="562.46" fill="#d7d7ff"/><rect x="564.95" fill="#f5f5ff"/><rect x="567.44" fill="#ff5353"/><rect x="569.93" fill="#ff0000"/><rect x="572.42" fill="#ff0000"/><rect x="574.91" fill="#ff0000"/><rect x="577.40" fill="#ff0000"/><rect x="579.89" fill="#ff0000"/><rect x="582.38" fill="#ff5555"/><rect x="584.87" fill="#ff6c6c"/><rect x="587.36" fill="#ff7474"/><rect x="589.85" fill="#ff6565"/><rect x="592.34" fill="#ff6565"/><rect x="594.83" fill="#ff5454"/><rect x="597.32" fill="#ff7a7a"/><rect x="599.81" fill="#ff5959"/><rect x="602.30" fill="#ff5454"/><rect x="604.79" fill="#ff5555"/><rect x="607.28" fill="#ff0000"/><rect x="609.77" fill="#ff0000"/><rect x="612.26" fill="#ff0000"/><rect x="614.75" fill="#ff6969"/><rect x="617.24" fill="#ff9696"/><rect x="619.73" fill="#ff8282"/><rect x="622.22" fill="#ff9c9c"/><rect x="624.71" fill="#ffbbbb"/><rect x="627.20" fill="#ff9d9d"/><rect x="629.69" fill="#ffb4b4"/><rect x="632.18" fill="#ff0000"/><rect x="634.67" fill="#ff0000"/><rect x="637.16" fill="#ff0000"/><rect x="639.65" fill="#ff0000"/><rect x="642.14" fill="#ff0000"/><rect x="644.63" fill="#ff6a6a"/><rect x="647.12" fill="#ff5757"/><rect x="649.61" fill="#ff6c6c"/><rect x="652.10" fill="#ff0000"/><rect x="654.59" fill="#ff0000"/><rect x="657.08" fill="#ff0000"/><rect x="659.57" fill="#ff7575"/><rect x="662.06" fill="#ff5d5d"/><rect x="664.55" fill="#ff8888"/><rect x="667.04" fill="#ff7b7b"/><rect x="669.53" fill="#ff8989"/><rect x="672.02" fill="#ff0000"/><rect x="674.51" fill="#ff0000"/><rect x="677.00" fill="#ff0000"/><rect x="679.49" fill="#ff0000"/><rect x="681.98" fill="#ff0000"/><rect x="684.47" fill="#ffa1a1"/><rect x="686.96" fill="#ff9494"/><rect x="689.45" fill="#ff7c7c"/><rect x="691.94" fill="#ff9797"/><rect x="694.43" fill="#ff8f8f"/><rect x="696.92" fill="#ff8888"/><rect x="699.41" fill="#ff9a9a"/><rect x="701.90" fill="#ffabab"/><rect x="704.39" fill="#ffa0a0"/><rect x="706.88" fill="#ff8787"/><rect x="709.37" fill="#ff8484"/><rect x="711.86" fill="#ff0000"/><rect x="714.35" fill="#ff0000"/><rect x="716.84" fill="#ff0000"/><rect x="719.33" fill="#ff0000"/><rect x="721.82" fill="#ff0000"/><rect x="724.31" fill="#ff0000"/><rect x="726.80" fill="#ff7d7d"/><rect x="729.29" fill="#ff8383"/><rect x="731.78" fill="#ff7575"/><rect x="734.27" fill="#ff5d5d"/><rect x="736.76" fill="#ff7373"/><rect x="739.25" fill="#ff7979"/><rect x="741.74" fill="#ff7777"/><rect x="744.23" fill="#ff8282"/><rect x="746.72" fill="#ff6d6d"/><rect x="749.21" fill="#ff7d7d"/><rect x="751.70" fill="#ff6565"/><rect x="754.19" fill="#ff8f8f"/><rect x="756.68" fill="#ff6666"/><rect x="759.17" fill="#ff0000"/><rect x="761.66" fill="#ff0000"/><rect x="764.15" fill="#ff0000"/><rect x="766.64" fill="#ff0000"/><rect x="769.13" fill="#ff0000"/><rect x="771.62" fill="#ff7878"/><rect x="774.11" fill="#ff0000"/><rect x="776.60" fill="#ff0000"/><rect x="779.09" fill="#ff5f5f"/><rect x="781.58" fill="#ff0000"/><rect x="784.07" fill="#ff0000"/><rect x="786.56" fill="#ff0000"/><rect x="789.05" fill="#ff0000"/><rect x="791.54" fill="#ff0000"/><rect x="794.03" fill="#ff6464"/><rect x="796.52" fill="#ff8b8b"/><rect x="799.01" fill="#ff5d5d"/><rect x="801.50" fill="#ff5757"/><rect x="803.99" fill="#ff6f6f"/><rect x="806.48" fill="#ff7272"/><rect x="808.97" fill="#ff4d4d"/><rect x="811.46" fill="#ff8686"/><rect x="813.95" fill="#ff0000"/><rect x="816.44" fill="#ff0000"/><rect x="818.93" fill="#ff0000"/><rect x="821.42" fill="#ff6060"/><rect x="823.91" fill="#ff0000"/><rect x="826.40" fill="#ff0000"/><rect x="828.89" fill="#ff6262"/><rect x="831.38" fill="#ff5d5d"/><rect x="833.87" fill="#ff0000"/><rect x="836.36" fill="#ff0000"/><rect x="838.85" fill="#ff0000"/><rect x="841.34" fill="#ff5e5e"/><rect x="843.83" fill="#ff6b6b"/><rect x="846.32" fill="#ff6e6e"/><rect x="848.81" fill="#ff7a7a"/><rect x="851.30" fill="#ff7070"/><rect x="853.79" fill="#ff5d5d"/><rect x="856.28" fill="#ff0000"/><rect x="858.77" fill="#ff0000"/><rect x="861.26" fill="#ff0000"/><rect x="863.75" fill="#ff0000"/><rect x="866.24" fill="#ff0000"/><rect x="868.73" fill="#ff6161"/><rect x="871.22" fill="#ff9393"/><rect x="873.71" fill="#ff6161"/></g>
<g class="hm hmb" mask="url(#hm8)"><rect x="52.00" fill="#ffc2c2"/><rect x="54.49" fill="#ffb6b6"/><rect x="56.98" fill="#ffc2c2"/><rect x="59.47" fill="#ffc3c3"/><rect x="61.96" fill="#ffcccc"/><rect x="64.45" fill="#ffc1c1"/><rect x="66.94" fill="#ffadad"/><rect x="69.43" fill="#ffb8b8"/><rect x="71.92" fill="#ffaeae"/><rect x="74.41" fill="#ffeaea"/><rect x="76.90" fill="#e0e0ff"/><rect x="79.39" fill="#ffebeb"/><rect x="81.88" fill="#ffd8d8"/><rect x="84.37" fill="#ffb1b1"/><rect x="86.86" fill="#ffb6b6"/><rect x="89.35" fill="#ffb7b7"/><rect x="91.84" fill="#ffd8d8"/><rect x="94.33" fill="#ffd9d9"/><rect x="96.82" fill="#ffcccc"/><rect x="99.31" fill="#ffc5c5"/><rect x="101.80" fill="#ffbaba"/><rect x="104.29" fill="#ffbfbf"/><rect x="106.78" fill="#a8a8ff"/><rect x="109.27" fill="#9797ff"/><rect x="111.76" fill="#a5a5ff"/><rect x="114.25" fill="#a6a6ff"/><rect x="116.74" fill="#fff8f8"/><rect x="119.23" fill="#ffd3d3"/><rect x="121.72" fill="#ffe5e5"/><rect x="124.21" fill="#6666ff"/><rect x="126.70" fill="#4a4aff"/><rect x="129.19" fill="#fff9f9"/><rect x="131.68" fill="#fff3f3"/><rect x="134.17" fill="#ffefef"/><rect x="136.66" fill="#ffe4e4"/><rect x="139.15" fill="#ffeaea"/><rect x="141.64" fill="#fff4f4"/><rect x="144.13" fill="#fffcfc"/><rect x="146.62" fill="#fff5f5"/><rect x="149.11" fill="#ffdbdb"/><rect x="151.60" fill="#fffafa"/><rect x="154.09" fill="#5858ff"/><rect x="156.58" fill="#5a5aff"/><rect x="159.07" fill="#3d3dff"/><rect x="161.56" fill="#5555ff"/><rect x="164.05" fill="#ffd9d9"/><rect x="166.54" fill="#ffdddd"/><rect x="169.03" fill="#ffc3c3"/><rect x="171.52" fill="#ffc0c0"/><rect x="174.01" fill="#ffcbcb"/><rect x="176.50" fill="#ffb7b7"/><rect x="178.99" fill="#ffbfbf"/><rect x="181.48" fill="#ffd5d5"/><rect x="183.97" fill="#ffb2b2"/><rect x="186.46" fill="#ffb4b4"/><rect x="188.95" fill="#ffb0b0"/><rect x="191.44" fill="#ffa8a8"/><rect x="193.93" fill="#ffb9b9"/><rect x="196.42" fill="#ffbcbc"/><rect x="198.91" fill="#ffd2d2"/><rect x="201.40" fill="#ffb5b5"/><rect x="203.89" fill="#ffc8c8"/><rect x="206.38" fill="#ffc5c5"/><rect x="208.87" fill="#8d8dff"/><rect x="211.36" fill="#9292ff"/><rect x="213.85" fill="#9898ff"/><rect x="216.34" fill="#b4b4ff"/><rect x="218.83" fill="#f2f2ff"/><rect x="221.32" fill="#fafaff"/><rect x="223.81" fill="#ffeaea"/><rect x="226.30" fill="#ffd7d7"/><rect x="228.79" fill="#ffe5e5"/><rect x="231.28" fill="#3737ff"/><rect x="233.77" fill="#2d2dff"/><rect x="236.26" fill="#ffb9b9"/><rect x="238.75" fill="#ffc9c9"/><rect x="241.24" fill="#ffcfcf"/><rect x="243.73" fill="#ffafaf"/><rect x="246.22" fill="#ffadad"/><rect x="248.71" fill="#ffbcbc"/><rect x="251.20" fill="#dedeff"/><rect x="253.69" fill="#e0e0ff"/><rect x="256.18" fill="#ffa6a6"/><rect x="258.67" fill="#ffb5b5"/><rect x="261.16" fill="#ffb6b6"/><rect x="263.65" fill="#ffb6b6"/><rect x="266.14" fill="#8888ff"/><rect x="268.63" fill="#b4b4ff"/><rect x="271.12" fill="#afafff"/><rect x="273.61" fill="#a8a8ff"/><rect x="276.10" fill="#8282ff"/><rect x="278.59" fill="#9797ff"/><rect x="281.08" fill="#ffe1e1"/><rect x="283.57" fill="#3838ff"/><rect x="286.06" fill="#5151ff"/><rect x="288.55" fill="#ffdede"/><rect x="291.04" fill="#fdfdff"/><rect x="293.53" fill="#ffd5d5"/><rect x="296.02" fill="#ffe5e5"/><rect x="298.51" fill="#fff0f0"/><rect x="301.00" fill="#a5a5ff"/><rect x="303.49" fill="#aaaaff"/><rect x="305.98" fill="#a2a2ff"/><rect x="308.47" fill="#b2b2ff"/><rect x="310.96" fill="#fff8f8"/><rect x="313.45" fill="#fff4f4"/><rect x="315.94" fill="#eaeaff"/><rect x="318.43" fill="#dadaff"/><rect x="320.92" fill="#fffbfb"/><rect x="323.41" fill="#ffb0b0"/><rect x="325.90" fill="#ffa8a8"/><rect x="328.39" fill="#ffc5c5"/><rect x="330.88" fill="#ffd3d3"/><rect x="333.37" fill="#ffc0c0"/><rect x="335.86" fill="#ffc1c1"/><rect x="338.35" fill="#ffc3c3"/><rect x="340.84" fill="#ffa9a9"/><rect x="343.33" fill="#ffcece"/><rect x="345.82" fill="#ffabab"/><rect x="348.31" fill="#8d8dff"/><rect x="350.80" fill="#9494ff"/><rect x="353.29" fill="#aaaaff"/><rect x="355.78" fill="#b2b2ff"/><rect x="358.27" fill="#aeaeff"/><rect x="360.76" fill="#dfdfff"/><rect x="363.25" fill="#dcdcff"/><rect x="365.74" fill="#dcdcff"/><rect x="368.23" fill="#a9a9ff"/><rect x="370.72" fill="#9e9eff"/><rect x="373.21" fill="#ffe9e9"/><rect x="375.70" fill="#ffe5e5"/><rect x="378.19" fill="#ffeded"/><rect x="380.68" fill="#ffe2e2"/><rect x="383.17" fill="#5d5dff"/><rect x="385.66" fill="#7373ff"/><rect x="388.15" fill="#ffb9b9"/><rect x="390.64" fill="#ffc5c5"/><rect x="393.13" fill="#ffc4c4"/><rect x="395.62" fill="#ffbebe"/><rect x="398.11" fill="#ffb0b0"/><rect x="400.60" fill="#ffc3c3"/><rect x="403.09" fill="#ffb8b8"/><rect x="405.58" fill="#ffa2a2"/><rect x="408.07" fill="#ffe5e5"/><rect x="410.56" fill="#ffcfcf"/><rect x="413.05" fill="#ffbaba"/><rect x="415.54" fill="#ffb8b8"/><rect x="418.03" fill="#ffbbbb"/><rect x="420.52" fill="#ffc5c5"/><rect x="423.01" fill="#aaaaff"/><rect x="425.50" fill="#a5a5ff"/><rect x="427.99" fill="#9898ff"/><rect x="430.48" fill="#ffc8c8"/><rect x="432.97" fill="#ffe8e8"/><rect x="435.46" fill="#fff6f6"/><rect x="437.95" fill="#ffefef"/><rect x="440.44" fill="#9d9dff"/><rect x="442.93" fill="#9f9fff"/><rect x="445.42" fill="#e7e7ff"/><rect x="447.91" fill="#fff5f5"/><rect x="450.40" fill="#ffdede"/><rect x="452.89" fill="#ffffff"/><rect x="455.38" fill="#ffeeee"/><rect x="457.87" fill="#6262ff"/><rect x="460.36" fill="#6161ff"/><rect x="462.85" fill="#6b6bff"/><rect x="465.35" fill="#ffd8d8"/><rect x="467.84" fill="#ffc4c4"/><rect x="470.33" fill="#ffc3c3"/><rect x="472.82" fill="#ffb5b5"/><rect x="475.31" fill="#ffaeae"/><rect x="477.80" fill="#ffe7e7"/><rect x="480.29" fill="#6565ff"/><rect x="482.78" fill="#fafaff"/><rect x="485.27" fill="#ffb4b4"/><rect x="487.76" fill="#ffd5d5"/><rect x="490.25" fill="#ffbcbc"/><rect x="492.74" fill="#ffacac"/><rect x="495.23" fill="#ffc1c1"/><rect x="497.72" fill="#ffbbbb"/><rect x="500.21" fill="#ffb2b2"/><rect x="502.70" fill="#ffebeb"/><rect x="505.19" fill="#d8d8ff"/><rect x="507.68" fill="#f1f1ff"/><rect x="510.17" fill="#ffaeae"/><rect x="512.66" fill="#ffc3c3"/><rect x="515.15" fill="#ff9494"/><rect x="517.64" fill="#ffd0d0"/><rect x="520.13" fill="#ffb0b0"/><rect x="522.62" fill="#ffc2c2"/><rect x="525.11" fill="#ffbcbc"/><rect x="527.60" fill="#ffb3b3"/><rect x="530.09" fill="#ffbbbb"/><rect x="532.58" fill="#ffe4e4"/><rect x="535.07" fill="#8989ff"/><rect x="537.56" fill="#8989ff"/><rect x="540.05" fill="#ffe4e4"/><rect x="542.54" fill="#ffcdcd"/><rect x="545.03" fill="#ffcece"/><rect x="547.52" fill="#ffd5d5"/><rect x="550.01" fill="#ffabab"/><rect x="552.50" fill="#ffe2e2"/><rect x="554.99" fill="#b7b7ff"/><rect x="557.48" fill="#9292ff"/><rect x="559.97" fill="#a0a0ff"/><rect x="562.46" fill="#ffffff"/><rect x="564.95" fill="#ffe2e2"/><rect x="567.44" fill="#ff3131"/><rect x="569.93" fill="#ff0000"/><rect x="572.42" fill="#ff0000"/><rect x="574.91" fill="#ff0000"/><rect x="577.40" fill="#ff0000"/><rect x="579.89" fill="#ff0000"/><rect x="582.38" fill="#ff3434"/><rect x="584.87" fill="#ff4b4b"/><rect x="587.36" fill="#ff5252"/><rect x="589.85" fill="#ff4343"/><rect x="592.34" fill="#ff4343"/><rect x="594.83" fill="#ff3232"/><rect x="597.32" fill="#ff5959"/><rect x="599.81" fill="#ff3838"/><rect x="602.30" fill="#ff3232"/><rect x="604.79" fill="#ff3333"/><rect x="607.28" fill="#ff0000"/><rect x="609.77" fill="#ff0000"/><rect x="612.26" fill="#ff0000"/><rect x="614.75" fill="#ff4747"/><rect x="617.24" fill="#ff7474"/><rect x="619.73" fill="#ff6060"/><rect x="622.22" fill="#ff7a7a"/><rect x="624.71" fill="#ff9999"/><rect x="627.20" fill="#ff7c7c"/><rect x="629.69" fill="#ff9292"/><rect x="632.18" fill="#ff0000"/><rect x="634.67" fill="#ff0000"/><rect x="637.16" fill="#ff0000"/><rect x="639.65" fill="#ff0000"/><rect x="642.14" fill="#ff0000"/><rect x="644.63" fill="#ff4848"/><rect x="647.12" fill="#ff3535"/><rect x="649.61" fill="#ff4a4a"/><rect x="652.10" fill="#ff0000"/><rect x="654.59" fill="#ff0000"/><rect x="657.08" fill="#ff0000"/><rect x="659.57" fill="#ff5353"/><rect x="662.06" fill="#ff3c3c"/><rect x="664.55" fill="#ff6666"/><rect x="667.04" fill="#ff5a5a"/><rect x="669.53" fill="#ff6767"/><rect x="672.02" fill="#ff0000"/><rect x="674.51" fill="#ff0000"/><rect x="677.00" fill="#ff0000"/><rect x="679.49" fill="#ff0000"/><rect x="681.98" fill="#ff0000"/><rect x="684.47" fill="#ff7f7f"/><rect x="686.96" fill="#ff7272"/><rect x="689.45" fill="#ff5a5a"/><rect x="691.94" fill="#ff7575"/><rect x="694.43" fill="#ff6e6e"/><rect x="696.92" fill="#ff6767"/><rect x="699.41" fill="#ff7979"/><rect x="701.90" fill="#ff8989"/><rect x="704.39" fill="#ff7e7e"/><rect x="706.88" fill="#ff6565"/><rect x="709.37" fill="#ff6262"/><rect x="711.86" fill="#ff0000"/><rect x="714.35" fill="#ff0000"/><rect x="716.84" fill="#ff0000"/><rect x="719.33" fill="#ff0000"/><rect x="721.82" fill="#ff0000"/><rect x="724.31" fill="#ff0000"/><rect x="726.80" fill="#ff5b5b"/><rect x="729.29" fill="#ff6161"/><rect x="731.78" fill="#ff5353"/><rect x="734.27" fill="#ff3b3b"/><rect x="736.76" fill="#ff5252"/><rect x="739.25" fill="#ff5757"/><rect x="741.74" fill="#ff5555"/><rect x="744.23" fill="#ff6161"/><rect x="746.72" fill="#ff4b4b"/><rect x="749.21" fill="#ff5b5b"/><rect x="751.70" fill="#ff4444"/><rect x="754.19" fill="#ff6d6d"/><rect x="756.68" fill="#ff4444"/><rect x="759.17" fill="#ff0000"/><rect x="761.66" fill="#ff0000"/><rect x="764.15" fill="#ff0000"/><rect x="766.64" fill="#ff0000"/><rect x="769.13" fill="#ff0000"/><rect x="771.62" fill="#ff5757"/><rect x="774.11" fill="#ff0000"/><rect x="776.60" fill="#ff0000"/><rect x="779.09" fill="#ff3d3d"/><rect x="781.58" fill="#ff0000"/><rect x="784.07" fill="#ff0000"/><rect x="786.56" fill="#ff0000"/><rect x="789.05" fill="#ff0000"/><rect x="791.54" fill="#ff0000"/><rect x="794.03" fill="#ff4242"/><rect x="796.52" fill="#ff6969"/><rect x="799.01" fill="#ff3b3b"/><rect x="801.50" fill="#ff3535"/><rect x="803.99" fill="#ff4e4e"/><rect x="806.48" fill="#ff5050"/><rect x="808.97" fill="#ff2b2b"/><rect x="811.46" fill="#ff6464"/><rect x="813.95" fill="#ff0000"/><rect x="816.44" fill="#ff0000"/><rect x="818.93" fill="#ff0000"/><rect x="821.42" fill="#ff3f3f"/><rect x="823.91" fill="#ff0000"/><rect x="826.40" fill="#ff0000"/><rect x="828.89" fill="#ff4141"/><rect x="831.38" fill="#ff3b3b"/><rect x="833.87" fill="#ff0000"/><rect x="836.36" fill="#ff0000"/><rect x="838.85" fill="#ff0000"/><rect x="841.34" fill="#ff3d3d"/><rect x="843.83" fill="#ff4a4a"/><rect x="846.32" fill="#ff4c4c"/><rect x="848.81" fill="#ff5959"/><rect x="851.30" fill="#ff4f4f"/><rect x="853.79" fill="#ff3c3c"/><rect x="856.28" fill="#ff0000"/><rect x="858.77" fill="#ff0000"/><rect x="861.26" fill="#ff0000"/><rect x="863.75" fill="#ff0000"/><rect x="866.24" fill="#ff0000"/><rect x="868.73" fill="#ff3f3f"/><rect x="871.22" fill="#ff7171"/><rect x="873.71" fill="#ff4040"/></g>
<g class="hm hmb" mask="url(#hm9)"><rect x="52.00" fill="#ff4b4b"/><rect x="54.49" fill="#ff3f3f"/><rect x="56.98" fill="#ff4a4a"/><rect x="59.47" fill="#ff4c4c"/><rect x="61.96" fill="#ff5555"/><rect x="64.45" fill="#ff4a4a"/><rect x="66.94" fill="#ff3636"/><rect x="69.43" fill="#ff4040"/><rect x="71.92" fill="#ff3737"/><rect x="74.41" fill="#ff7272"/><rect x="76.90" fill="#ffa7a7"/><rect x="79.39" fill="#ff7373"/><rect x="81.88" fill="#ff6060"/><rect x="84.37" fill="#ff3a3a"/><rect x="86.86" fill="#ff3f3f"/><rect x="89.35" fill="#ff3f3f"/><rect x="91.84" fill="#ff6161"/><rect x="94.33" fill="#ff6262"/><rect x="96.82" fill="#ff5555"/><rect x="99.31" fill="#ff4e4e"/><rect x="101.80" fill="#ff4242"/><rect x="104.29" fill="#ff4848"/><rect x="106.78" fill="#ffdede"/><rect x="109.27" fill="#fff0f0"/><rect x="111.76" fill="#ffe2e2"/><rect x="114.25" fill="#ffe0e0"/><rect x="116.74" fill="#ff8080"/><rect x="119.23" fill="#ff5c5c"/><rect x="121.72" fill="#ff6e6e"/><rect x="124.21" fill="#dedeff"/><rect x="126.70" fill="#c2c2ff"/><rect x="129.19" fill="#ff8181"/><rect x="131.68" fill="#ff7b7b"/><rect x="134.17" fill="#ff7878"/><rect x="136.66" fill="#ff6c6c"/><rect x="139.15" fill="#ff7272"/><rect x="141.64" fill="#ff7d7d"/><rect x="144.13" fill="#ff8585"/><rect x="146.62" fill="#ff7e7e"/><rect x="149.11" fill="#ff6363"/><rect x="151.60" fill="#ff8282"/><rect x="154.09" fill="#cfcfff"/><rect x="156.58" fill="#d2d2ff"/><rect x="159.07" fill="#b4b4ff"/><rect x="161.56" fill="#ccccff"/><rect x="164.05" fill="#ff6262"/><rect x="166.54" fill="#ff6666"/><rect x="169.03" fill="#ff4c4c"/><rect x="171.52" fill="#ff4949"/><rect x="174.01" fill="#ff5353"/><rect x="176.50" fill="#ff3f3f"/><rect x="178.99" fill="#ff4848"/><rect x="181.48" fill="#ff5d5d"/><rect x="183.97" fill="#ff3a3a"/><rect x="186.46" fill="#ff3d3d"/><rect x="188.95" fill="#ff3838"/><rect x="191.44" fill="#ff3131"/><rect x="193.93" fill="#ff4141"/><rect x="196.42" fill="#ff4545"/><rect x="198.91" fill="#ff5b5b"/><rect x="201.40" fill="#ff3d3d"/><rect x="203.89" fill="#ff5050"/><rect x="206.38" fill="#ff4e4e"/><rect x="208.87" fill="#fffafa"/><rect x="211.36" fill="#fff5f5"/><rect x="213.85" fill="#ffeeee"/><rect x="216.34" fill="#ffd3d3"/><rect x="218.83" fill="#ff9595"/><rect x="221.32" fill="#ff8c8c"/><rect x="223.81" fill="#ff7272"/><rect x="226.30" fill="#ff6060"/><rect x="228.79" fill="#ff6d6d"/><rect x="231.28" fill="#aeaeff"/><rect x="233.77" fill="#a5a5ff"/><rect x="236.26" fill="#ff4141"/><rect x="238.75" fill="#ff5252"/><rect x="241.24" fill="#ff5858"/><rect x="243.73" fill="#ff3838"/><rect x="246.22" fill="#ff3636"/><rect x="248.71" fill="#ff4444"/><rect x="251.20" fill="#ffa9a9"/><rect x="253.69" fill="#ffa6a6"/><rect x="256.18" fill="#ff2f2f"/><rect x="258.67" fill="#ff3d3d"/><rect x="261.16" fill="#ff3f3f"/><rect x="263.65" fill="#ff3f3f"/><rect x="266.14" fill="#fffefe"/><rect x="268.63" fill="#ffd3d3"/><rect x="271.12" fill="#ffd8d8"/><rect x="273.61" fill="#ffdede"/><rect x="276.10" fill="#fafaff"/><rect x="278.59" fill="#fff0f0"/><rect x="281.08" fill="#ff6969"/><rect x="283.57" fill="#b0b0ff"/><rect x="286.06" fill="#c8c8ff"/><rect x="288.55" fill="#ff6666"/><rect x="291.04" fill="#ff8a8a"/><rect x="293.53" fill="#ff5d5d"/><rect x="296.02" fill="#ff6e6e"/><rect x="298.51" fill="#ff7878"/><rect x="301.00" fill="#ffe1e1"/><rect x="303.49" fill="#ffdcdc"/><rect x="305.98" fill="#ffe4e4"/><rect x="308.47" fill="#ffd5d5"/><rect x="310.96" fill="#ff8080"/><rect x="313.45" fill="#ff7c7c"/><rect x="315.94" fill="#ff9d9d"/><rect x="318.43" fill="#ffacac"/><rect x="320.92" fill="#ff8484"/><rect x="323.41" fill="#ff3838"/><rect x="325.90" fill="#ff3030"/><rect x="328.39" fill="#ff4e4e"/><rect x="330.88" fill="#ff5c5c"/><rect x="333.37" fill="#ff4949"/><rect x="335.86" fill="#ff4949"/><rect x="338.35" fill="#ff4b4b"/><rect x="340.84" fill="#ff3131"/><rect x="343.33" fill="#ff5757"/><rect x="345.82" fill="#ff3434"/><rect x="348.31" fill="#fffafa"/><rect x="350.80" fill="#fff2f2"/><rect x="353.29" fill="#ffdddd"/><rect x="355.78" fill="#ffd5d5"/><rect x="358.27" fill="#ffd9d9"/><rect x="360.76" fill="#ffa8a8"/><rect x="363.25" fill="#ffabab"/><rect x="365.74" fill="#ffabab"/><rect x="368.23" fill="#ffdddd"/><rect x="370.72" fill="#ffe9e9"/><rect x="373.21" fill="#ff7272"/><rect x="375.70" fill="#ff6d6d"/><rect x="378.19" fill="#ff7676"/><rect x="380.68" fill="#ff6a6a"/><rect x="383.17" fill="#d4d4ff"/><rect x="385.66" fill="#eaeaff"/><rect x="388.15" fill="#ff4242"/><rect x="390.64" fill="#ff4d4d"/><rect x="393.13" fill="#ff4d4d"/><rect x="395.62" fill="#ff4747"/><rect x="398.11" fill="#ff3939"/><rect x="400.60" fill="#ff4c4c"/><rect x="403.09" fill="#ff4141"/><rect x="405.58" fill="#ff2b2b"/><rect x="408.07" fill="#ff6e6e"/><rect x="410.56" fill="#ff5858"/><rect x="413.05" fill="#ff4343"/><rect x="415.54" fill="#ff4141"/><rect x="418.03" fill="#ff4343"/><rect x="420.52" fill="#ff4d4d"/><rect x="423.01" fill="#ffdcdc"/><rect x="425.50" fill="#ffe2e2"/><rect x="427.99" fill="#ffeeee"/><rect x="430.48" fill="#ff5151"/><rect x="432.97" fill="#ff7171"/><rect x="435.46" fill="#ff7f7f"/><rect x="437.95" fill="#ff7878"/><rect x="440.44" fill="#ffeaea"/><rect x="442.93" fill="#ffe7e7"/><rect x="445.42" fill="#ffa0a0"/><rect x="447.91" fill="#ff7e7e"/><rect x="450.40" fill="#ff6767"/><rect x="452.89" fill="#ff8888"/><rect x="455.38" fill="#ff7777"/><rect x="457.87" fill="#dadaff"/><rect x="460.36" fill="#d8d8ff"/><rect x="462.85" fill="#e2e2ff"/><rect x="465.35" fill="#ff6161"/><rect x="467.84" fill="#ff4c4c"/><rect x="470.33" fill="#ff4c4c"/><rect x="472.82" fill="#ff3d3d"/><rect x="475.31" fill="#ff3636"/><rect x="477.80" fill="#ff7070"/><rect x="480.29" fill="#dcdcff"/><rect x="482.78" fill="#ff8c8c"/><rect x="485.27" fill="#ff3c3c"/><rect x="487.76" fill="#ff5e5e"/><rect x="490.25" fill="#ff4444"/><rect x="492.74" fill="#ff3535"/><rect x="495.23" fill="#ff4949"/><rect x="497.72" fill="#ff4444"/><rect x="500.21" fill="#ff3b3b"/><rect x="502.70" fill="#ff7474"/><rect x="505.19" fill="#ffaeae"/><rect x="507.68" fill="#ff9595"/><rect x="510.17" fill="#ff3737"/><rect x="512.66" fill="#ff4b4b"/><rect x="515.15" fill="#ff1d1d"/><rect x="517.64" fill="#ff5858"/><rect x="520.13" fill="#ff3939"/><rect x="522.62" fill="#ff4b4b"/><rect x="525.11" fill="#ff4545"/><rect x="527.60" fill="#ff3c3c"/><rect x="530.09" fill="#ff4343"/><rect x="532.58" fill="#ff6c6c"/><rect x="535.07" fill="#fffefe"/><rect x="537.56" fill="#fffdfd"/><rect x="540.05" fill="#ff6d6d"/><rect x="542.54" fill="#ff5656"/><rect x="545.03" fill="#ff5757"/><rect x="547.52" fill="#ff5d5d"/><rect x="550.01" fill="#ff3434"/><rect x="552.50" fill="#ff6b6b"/><rect x="554.99" fill="#ffd0d0"/><rect x="557.48" fill="#fff5f5"/><rect x="559.97" fill="#ffe6e6"/><rect x="562.46" fill="#ff8888"/><rect x="564.95" fill="#ff6a6a"/><rect x="567.44" fill="#ff0000"/><rect x="569.93" fill="#ff0000"/><rect x="572.42" fill="#ff0000"/><rect x="574.91" fill="#ff0000"/><rect x="577.40" fill="#ff0000"/><rect x="579.89" fill="#ff0000"/><rect x="582.38" fill="#ff0000"/><rect x="584.87" fill="#ff0000"/><rect x="587.36" fill="#ff0000"/><rect x="589.85" fill="#ff0000"/><rect x="592.34" fill="#ff0000"/><rect x="594.83" fill="#ff0000"/><rect x="597.32" fill="#ff0000"/><rect x="599.81" fill="#ff0000"/><rect x="602.30" fill="#ff0000"/><rect x="604.79" fill="#ff0000"/><rect x="607.28" fill="#ff0000"/><rect x="609.77" fill="#ff0000"/><rect x="612.26" fill="#ff0000"/><rect x="614.75" fill="#ff0000"/><rect x="617.24" fill="#ff0f0f"/><rect x="619.73" fill="#ff0000"/><rect x="622.22" fill="#ff1515"/><rect x="624.71" fill="#ff3434"/><rect x="627.20" fill="#ff1717"/><rect x="629.69" fill="#ff2d2d"/><rect x="632.18" fill="#ff0000"/><rect x="634.67" fill="#ff0000"/><rect x="637.16" fill="#ff0000"/><rect x="639.65" fill="#ff0000"/><rect x="642.14" fill="#ff0000"/><rect x="644.63" fill="#ff0000"/><rect x="647.12" fill="#ff0000"/><rect x="649.61" fill="#ff0000"/><rect x="652.10" fill="#ff0000"/><rect x="654.59" fill="#ff0000"/><rect x="657.08" fill="#ff0000"/><rect x="659.57" fill="#ff0000"/><rect x="662.06" fill="#ff0000"/><rect x="664.55" fill="#ff0101"/><rect x="667.04" fill="#ff0000"/><rect x="669.53" fill="#ff0202"/><rect x="672.02" fill="#ff0000"/><rect x="674.51" fill="#ff0000"/><rect x="677.00" fill="#ff0000"/><rect x="679.49" fill="#ff0000"/><rect x="681.98" fill="#ff0000"/><rect x="684.47" fill="#ff1a1a"/><rect x="686.96" fill="#ff0d0d"/><rect x="689.45" fill="#ff0000"/><rect x="691.94" fill="#ff1010"/><rect x="694.43" fill="#ff0909"/><rect x="696.92" fill="#ff0202"/><rect x="699.41" fill="#ff1414"/><rect x="701.90" fill="#ff2424"/><rect x="704.39" fill="#ff1919"/><rect x="706.88" fill="#ff0000"/><rect x="709.37" fill="#ff0000"/><rect x="711.86" fill="#ff0000"/><rect x="714.35" fill="#ff0000"/><rect x="716.84" fill="#ff0000"/><rect x="719.33" fill="#ff0000"/><rect x="721.82" fill="#ff0000"/><rect x="724.31" fill="#ff0000"/><rect x="726.80" fill="#ff0000"/><rect x="729.29" fill="#ff0000"/><rect x="731.78" fill="#ff0000"/><rect x="734.27" fill="#ff0000"/><rect x="736.76" fill="#ff0000"/><rect x="739.25" fill="#ff0000"/><rect x="741.74" fill="#ff0000"/><rect x="744.23" fill="#ff0000"/><rect x="746.72" fill="#ff0000"/><rect x="749.21" fill="#ff0000"/><rect x="751.70" fill="#ff0000"/><rect x="754.19" fill="#ff0808"/><rect x="756.68" fill="#ff0000"/><rect x="759.17" fill="#ff0000"/><rect x="761.66" fill="#ff0000"/><rect x="764.15" fill="#ff0000"/><rect x="766.64" fill="#ff0000"/><rect x="769.13" fill="#ff0000"/><rect x="771.62" fill="#ff0000"/><rect x="774.11" fill="#ff0000"/><rect x="776.60" fill="#ff0000"/><rect x="779.09" fill="#ff0000"/><rect x="781.58" fill="#ff0000"/><rect x="784.07" fill="#ff0000"/><rect x="786.56" fill="#ff0000"/><rect x="789.05" fill="#ff0000"/><rect x="791.54" fill="#ff0000"/><rect x="794.03" fill="#ff0000"/><rect x="796.52" fill="#ff0404"/><rect x="799.01" fill="#ff0000"/><rect x="801.50" fill="#ff0000"/><rect x="803.99" fill="#ff0000"/><rect x="806.48" fill="#ff0000"/><rect x="808.97" fill="#ff0000"/><rect x="811.46" fill="#ff0000"/><rect x="813.95" fill="#ff0000"/><rect x="816.44" fill="#ff0000"/><rect x="818.93" fill="#ff0000"/><rect x="821.42" fill="#ff0000"/><rect x="823.91" fill="#ff0000"/><rect x="826.40" fill="#ff0000"/><rect x="828.89" fill="#ff0000"/><rect x="831.38" fill="#ff0000"/><rect x="833.87" fill="#ff0000"/><rect x="836.36" fill="#ff0000"/><rect x="838.85" fill="#ff0000"/><rect x="841.34" fill="#ff0000"/><rect x="843.83" fill="#ff0000"/><rect x="846.32" fill="#ff0000"/><rect x="848.81" fill="#ff0000"/><rect x="851.30" fill="#ff0000"/><rect x="853.79" fill="#ff0000"/><rect x="856.28" fill="#ff0000"/><rect x="858.77" fill="#ff0000"/><rect x="861.26" fill="#ff0000"/><rect x="863.75" fill="#ff0000"/><rect x="866.24" fill="#ff0000"/><rect x="868.73" fill="#ff0000"/><rect x="871.22" fill="#ff0c0c"/><rect x="873.71" fill="#ff0000"/></g>
<g><rect x="52" y="55.40" width="515.44" height="1.65" fill="#00f" opacity="0.09"/><rect x="567.44" y="55.40" width="308.76" height="1.65" fill="#fff" opacity="0.11"/><rect x="52" y="63.65" width="515.44" height="1.65" fill="#00f" opacity="0.08"/><rect x="567.44" y="63.65" width="308.76" height="1.65" fill="#fff" opacity="0.10"/><rect x="52" y="68.60" width="515.44" height="1.65" fill="#fff" opacity="0.13"/><rect x="567.44" y="68.60" width="308.76" height="1.65" fill="#f00" opacity="0.10"/><rect x="52" y="75.20" width="515.44" height="1.65" fill="#fff" opacity="0.23"/><rect x="567.44" y="75.20" width="308.76" height="1.65" fill="#f00" opacity="0.19"/><rect x="52" y="95.00" width="515.44" height="1.65" fill="#00f" opacity="0.12"/><rect x="567.44" y="95.00" width="308.76" height="1.65" fill="#fff" opacity="0.15"/><rect x="52" y="98.30" width="515.44" height="1.65" fill="#00f" opacity="0.09"/><rect x="567.44" y="98.30" width="308.76" height="1.65" fill="#fff" opacity="0.12"/><rect x="52" y="101.60" width="515.44" height="1.65" fill="#00f" opacity="0.10"/><rect x="567.44" y="101.60" width="308.76" height="1.65" fill="#fff" opacity="0.12"/><rect x="52" y="108.20" width="515.44" height="1.65" fill="#fff" opacity="0.30"/><rect x="567.44" y="108.20" width="308.76" height="1.65" fill="#f00" opacity="0.24"/><rect x="52" y="113.15" width="515.44" height="1.65" fill="#00f" opacity="0.09"/><rect x="567.44" y="113.15" width="308.76" height="1.65" fill="#fff" opacity="0.11"/><rect x="52" y="128.00" width="515.44" height="1.65" fill="#fff" opacity="0.16"/><rect x="567.44" y="128.00" width="308.76" height="1.65" fill="#f00" opacity="0.13"/><rect x="52" y="141.20" width="515.44" height="1.65" fill="#fff" opacity="0.10"/><rect x="567.44" y="141.20" width="308.76" height="1.65" fill="#f00" opacity="0.08"/><rect x="52" y="151.10" width="515.44" height="1.65" fill="#fff" opacity="0.14"/><rect x="567.44" y="151.10" width="308.76" height="1.65" fill="#f00" opacity="0.11"/><rect x="52" y="169.25" width="515.44" height="1.65" fill="#fff" opacity="0.13"/><rect x="567.44" y="169.25" width="308.76" height="1.65" fill="#f00" opacity="0.10"/><rect x="52" y="180.80" width="515.44" height="1.65" fill="#fff" opacity="0.15"/><rect x="567.44" y="180.80" width="308.76" height="1.65" fill="#f00" opacity="0.12"/><rect x="52" y="185.75" width="515.44" height="1.65" fill="#fff" opacity="0.17"/><rect x="567.44" y="185.75" width="308.76" height="1.65" fill="#f00" opacity="0.14"/><rect x="52" y="194.00" width="515.44" height="1.65" fill="#fff" opacity="0.22"/><rect x="567.44" y="194.00" width="308.76" height="1.65" fill="#f00" opacity="0.17"/><rect x="52" y="195.65" width="515.44" height="1.65" fill="#fff" opacity="0.15"/><rect x="567.44" y="195.65" width="308.76" height="1.65" fill="#f00" opacity="0.12"/><rect x="52" y="212.15" width="515.44" height="1.65" fill="#fff" opacity="0.11"/><rect x="567.44" y="212.15" width="308.76" height="1.65" fill="#f00" opacity="0.09"/><rect x="52" y="220.40" width="515.44" height="1.65" fill="#00f" opacity="0.12"/><rect x="567.44" y="220.40" width="308.76" height="1.65" fill="#fff" opacity="0.15"/><rect x="52" y="227.00" width="515.44" height="1.65" fill="#fff" opacity="0.13"/><rect x="567.44" y="227.00" width="308.76" height="1.65" fill="#f00" opacity="0.10"/><rect x="52" y="235.25" width="515.44" height="1.65" fill="#00f" opacity="0.17"/><rect x="567.44" y="235.25" width="308.76" height="1.65" fill="#fff" opacity="0.21"/><rect x="52" y="238.55" width="515.44" height="1.65" fill="#fff" opacity="0.21"/><rect x="567.44" y="238.55" width="308.76" height="1.65" fill="#f00" opacity="0.16"/><rect x="52" y="246.80" width="515.44" height="1.65" fill="#fff" opacity="0.22"/><rect x="567.44" y="246.80" width="308.76" height="1.65" fill="#f00" opacity="0.18"/><rect x="52" y="251.75" width="515.44" height="1.65" fill="#fff" opacity="0.13"/><rect x="567.44" y="251.75" width="308.76" height="1.65" fill="#f00" opacity="0.10"/><rect x="52" y="255.05" width="515.44" height="1.65" fill="#fff" opacity="0.16"/><rect x="567.44" y="255.05" width="308.76" height="1.65" fill="#f00" opacity="0.13"/><rect x="52" y="261.65" width="515.44" height="1.65" fill="#fff" opacity="0.12"/><rect x="567.44" y="261.65" width="308.76" height="1.65" fill="#f00" opacity="0.09"/><rect x="52" y="266.60" width="515.44" height="1.65" fill="#00f" opacity="0.13"/><rect x="567.44" y="266.60" width="308.76" height="1.65" fill="#fff" opacity="0.16"/><rect x="52" y="289.70" width="515.44" height="1.65" fill="#00f" opacity="0.09"/><rect x="567.44" y="289.70" width="308.76" height="1.65" fill="#fff" opacity="0.11"/><rect x="52" y="291.35" width="515.44" height="1.65" fill="#fff" opacity="0.14"/><rect x="567.44" y="291.35" width="308.76" height="1.65" fill="#f00" opacity="0.11"/><rect x="52" y="293.00" width="515.44" height="1.65" fill="#fff" opacity="0.12"/><rect x="567.44" y="293.00" width="308.76" height="1.65" fill="#f00" opacity="0.10"/><rect x="52" y="302.90" width="515.44" height="1.65" fill="#fff" opacity="0.19"/><rect x="567.44" y="302.90" width="308.76" height="1.65" fill="#f00" opacity="0.15"/><rect x="52" y="307.85" width="515.44" height="1.65" fill="#00f" opacity="0.18"/><rect x="567.44" y="307.85" width="308.76" height="1.65" fill="#fff" opacity="0.22"/><rect x="52" y="309.50" width="515.44" height="1.65" fill="#fff" opacity="0.12"/><rect x="567.44" y="309.50" width="308.76" height="1.65" fill="#f00" opacity="0.09"/><rect x="52" y="312.80" width="515.44" height="1.65" fill="#00f" opacity="0.11"/><rect x="567.44" y="312.80" width="308.76" height="1.65" fill="#fff" opacity="0.14"/><rect x="52" y="316.10" width="515.44" height="1.65" fill="#00f" opacity="0.11"/><rect x="567.44" y="316.10" width="308.76" height="1.65" fill="#fff" opacity="0.14"/><rect x="52" y="317.75" width="515.44" height="1.65" fill="#fff" opacity="0.30"/><rect x="567.44" y="317.75" width="308.76" height="1.65" fill="#f00" opacity="0.24"/><rect x="52" y="324.35" width="515.44" height="1.65" fill="#00f" opacity="0.15"/><rect x="567.44" y="324.35" width="308.76" height="1.65" fill="#fff" opacity="0.19"/><rect x="52" y="327.65" width="515.44" height="1.65" fill="#00f" opacity="0.10"/><rect x="567.44" y="327.65" width="308.76" height="1.65" fill="#fff" opacity="0.13"/><rect x="52" y="330.95" width="515.44" height="1.65" fill="#00f" opacity="0.15"/><rect x="567.44" y="330.95" width="308.76" height="1.65" fill="#fff" opacity="0.19"/><rect x="52" y="335.90" width="515.44" height="1.65" fill="#fff" opacity="0.14"/><rect x="567.44" y="335.90" width="308.76" height="1.65" fill="#f00" opacity="0.11"/><rect x="52" y="339.20" width="515.44" height="1.65" fill="#00f" opacity="0.10"/><rect x="567.44" y="339.20" width="308.76" height="1.65" fill="#fff" opacity="0.13"/><rect x="52" y="352.40" width="515.44" height="1.65" fill="#fff" opacity="0.10"/><rect x="567.44" y="352.40" width="308.76" height="1.65" fill="#f00" opacity="0.08"/><rect x="52" y="355.70" width="515.44" height="1.65" fill="#fff" opacity="0.18"/><rect x="567.44" y="355.70" width="308.76" height="1.65" fill="#f00" opacity="0.14"/><rect x="52" y="363.95" width="515.44" height="1.65" fill="#00f" opacity="0.09"/><rect x="567.44" y="363.95" width="308.76" height="1.65" fill="#fff" opacity="0.11"/><rect x="52" y="365.60" width="515.44" height="1.65" fill="#00f" opacity="0.12"/><rect x="567.44" y="365.60" width="308.76" height="1.65" fill="#fff" opacity="0.15"/><rect x="52" y="368.90" width="515.44" height="1.65" fill="#fff" opacity="0.12"/><rect x="567.44" y="368.90" width="308.76" height="1.65" fill="#f00" opacity="0.10"/><rect x="52" y="372.20" width="515.44" height="1.65" fill="#fff" opacity="0.11"/><rect x="567.44" y="372.20" width="308.76" height="1.65" fill="#f00" opacity="0.09"/><rect x="52" y="382.10" width="515.44" height="1.65" fill="#00f" opacity="0.12"/><rect x="567.44" y="382.10" width="308.76" height="1.65" fill="#fff" opacity="0.14"/><rect x="52" y="383.75" width="515.44" height="1.65" fill="#00f" opacity="0.10"/><rect x="567.44" y="383.75" width="308.76" height="1.65" fill="#fff" opacity="0.12"/><rect x="52" y="390.35" width="515.44" height="1.65" fill="#fff" opacity="0.12"/><rect x="567.44" y="390.35" width="308.76" height="1.65" fill="#f00" opacity="0.09"/><rect x="52" y="398.60" width="515.44" height="1.65" fill="#00f" opacity="0.14"/><rect x="567.44" y="398.60" width="308.76" height="1.65" fill="#fff" opacity="0.17"/><rect x="52" y="403.55" width="515.44" height="1.65" fill="#fff" opacity="0.11"/><rect x="567.44" y="403.55" width="308.76" height="1.65" fill="#f00" opacity="0.08"/><rect x="52" y="410.15" width="515.44" height="1.65" fill="#00f" opacity="0.15"/><rect x="567.44" y="410.15" width="308.76" height="1.65" fill="#fff" opacity="0.18"/><rect x="52" y="423.35" width="515.44" height="1.65" fill="#00f" opacity="0.11"/><rect x="567.44" y="423.35" width="308.76" height="1.65" fill="#fff" opacity="0.14"/><rect x="52" y="426.65" width="515.44" height="1.65" fill="#00f" opacity="0.17"/><rect x="567.44" y="426.65" width="308.76" height="1.65" fill="#fff" opacity="0.21"/><rect x="52" y="443.15" width="515.44" height="1.65" fill="#fff" opacity="0.15"/><rect x="567.44" y="443.15" width="308.76" height="1.65" fill="#f00" opacity="0.12"/><rect x="52" y="456.35" width="515.44" height="1.65" fill="#00f" opacity="0.08"/><rect x="567.44" y="456.35" width="308.76" height="1.65" fill="#fff" opacity="0.10"/><rect x="52" y="459.65" width="515.44" height="1.65" fill="#fff" opacity="0.14"/><rect x="567.44" y="459.65" width="308.76" height="1.65" fill="#f00" opacity="0.11"/><rect x="52" y="482.75" width="515.44" height="1.65" fill="#00f" opacity="0.17"/><rect x="567.44" y="482.75" width="308.76" height="1.65" fill="#fff" opacity="0.21"/><rect x="52" y="504.20" width="515.44" height="1.65" fill="#00f" opacity="0.08"/><rect x="567.44" y="504.20" width="308.76" height="1.65" fill="#fff" opacity="0.10"/><rect x="52" y="507.50" width="515.44" height="1.65" fill="#00f" opacity="0.09"/><rect x="567.44" y="507.50" width="308.76" height="1.65" fill="#fff" opacity="0.11"/><rect x="52" y="514.10" width="515.44" height="1.65" fill="#fff" opacity="0.12"/><rect x="567.44" y="514.10" width="308.76" height="1.65" fill="#f00" opacity="0.10"/><rect x="52" y="520.70" width="515.44" height="1.65" fill="#00f" opacity="0.10"/><rect x="567.44" y="520.70" width="308.76" height="1.65" fill="#fff" opacity="0.13"/><rect x="52" y="522.35" width="515.44" height="1.65" fill="#00f" opacity="0.10"/><rect x="567.44" y="522.35" width="308.76" height="1.65" fill="#fff" opacity="0.13"/><rect x="52" y="527.30" width="515.44" height="1.65" fill="#fff" opacity="0.10"/><rect x="567.44" y="527.30" width="308.76" height="1.65" fill="#f00" opacity="0.08"/><rect x="52" y="538.85" width="515.44" height="1.65" fill="#00f" opacity="0.13"/><rect x="567.44" y="538.85" width="308.76" height="1.65" fill="#fff" opacity="0.16"/><rect x="52" y="545.45" width="515.44" height="1.65" fill="#fff" opacity="0.18"/><rect x="567.44" y="545.45" width="308.76" height="1.65" fill="#f00" opacity="0.15"/><rect x="52" y="547.10" width="515.44" height="1.65" fill="#fff" opacity="0.25"/><rect x="567.44" y="547.10" width="308.76" height="1.65" fill="#f00" opacity="0.20"/><rect x="52" y="550.40" width="515.44" height="1.65" fill="#00f" opacity="0.12"/><rect x="567.44" y="550.40" width="308.76" height="1.65" fill="#fff" opacity="0.15"/><rect x="52" y="555.35" width="515.44" height="1.65" fill="#fff" opacity="0.17"/><rect x="567.44" y="555.35" width="308.76" height="1.65" fill="#f00" opacity="0.14"/><rect x="52" y="563.60" width="515.44" height="1.65" fill="#00f" opacity="0.11"/><rect x="567.44" y="563.60" width="308.76" height="1.65" fill="#fff" opacity="0.14"/><rect x="52" y="578.45" width="515.44" height="1.65" fill="#fff" opacity="0.13"/><rect x="567.44" y="578.45" width="308.76" height="1.65" fill="#f00" opacity="0.10"/><rect x="52" y="583.40" width="515.44" height="1.65" fill="#00f" opacity="0.11"/><rect x="567.44" y="583.40" width="308.76" height="1.65" fill="#fff" opacity="0.13"/><rect x="52" y="588.35" width="515.44" height="1.65" fill="#00f" opacity="0.08"/><rect x="567.44" y="588.35" width="308.76" height="1.65" fill="#fff" opacity="0.10"/><rect x="52" y="601.55" width="515.44" height="1.65" fill="#fff" opacity="0.13"/><rect x="567.44" y="601.55" width="308.76" height="1.65" fill="#f00" opacity="0.11"/><rect x="52" y="614.75" width="515.44" height="1.65" fill="#00f" opacity="0.12"/><rect x="567.44" y="614.75" width="308.76" height="1.65" fill="#fff" opacity="0.15"/><rect x="52" y="618.05" width="515.44" height="1.65" fill="#fff" opacity="0.16"/><rect x="567.44" y="618.05" width="308.76" height="1.65" fill="#f00" opacity="0.13"/><rect x="52" y="636.20" width="515.44" height="1.65" fill="#00f" opacity="0.10"/><rect x="567.44" y="636.20" width="308.76" height="1.65" fill="#fff" opacity="0.12"/><rect x="52" y="649.40" width="515.44" height="1.65" fill="#fff" opacity="0.19"/><rect x="567.44" y="649.40" width="308.76" height="1.65" fill="#f00" opacity="0.15"/><rect x="52" y="660.95" width="515.44" height="1.65" fill="#00f" opacity="0.14"/><rect x="567.44" y="660.95" width="308.76" height="1.65" fill="#fff" opacity="0.17"/><rect x="52" y="667.55" width="515.44" height="1.65" fill="#fff" opacity="0.10"/><rect x="567.44" y="667.55" width="308.76" height="1.65" fill="#f00" opacity="0.08"/></g>
</g></g>
<rect x="52" y="34" width="515.44" height="10.3" fill="#0066ff"/>
<rect x="567.44" y="34" width="308.76" height="10.3" fill="#ff9900"/>
<text x="881.5" y="43.1" font-size="22" font-family="'Liberation Serif','Times New Roman',serif">Cluster</text>
<text x="886" y="68.5" font-size="21.5" font-family="'Liberation Serif','Times New Roman',serif">Cluster</text>
<rect x="886" y="72.4" width="15" height="14.8" fill="#0066ff"/>
<rect x="886" y="87.2" width="15" height="14.4" fill="#ff9900"/>
<text x="904.5" y="85.2" font-size="21" font-family="'Liberation Serif','Times New Roman',serif">A</text>
<text x="904.5" y="101.8" font-size="21" font-family="'Liberation Serif','Times New Roman',serif">B</text>
<defs><linearGradient id="cbg" x1="0" y1="0" x2="0" y2="1"><stop offset="0" stop-color="#ff0000"/><stop offset="0.338" stop-color="#ff0000"/><stop offset="0.5" stop-color="#ffffff"/><stop offset="0.661" stop-color="#0000ff"/><stop offset="1" stop-color="#0000ff"/></linearGradient></defs>
<rect x="884.8" y="113.8" width="17" height="255" fill="url(#cbg)"/>
<text x="908.5" y="158.3" font-size="21" font-family="'Liberation Serif','Times New Roman',serif">4</text>
<text x="908.5" y="202" font-size="21" font-family="'Liberation Serif','Times New Roman',serif">2</text>
<text x="908.5" y="245.5" font-size="21" font-family="'Liberation Serif','Times New Roman',serif">0</text>
<text x="907" y="288.5" font-size="21" font-family="'Liberation Serif','Times New Roman',serif">−2</text>
<text x="907" y="331.4" font-size="21" font-family="'Liberation Serif','Times New Roman',serif">−4</text>
<line x1="1266.8" y1="55.2" x2="1266.8" y2="614" stroke="#ebebeb" stroke-width="2.6"/><line x1="1293.55" y1="55.2" x2="1293.55" y2="614" stroke="#ebebeb" stroke-width="1.4"/><line x1="1320.3" y1="55.2" x2="1320.3" y2="614" stroke="#ebebeb" stroke-width="2.6"/><line x1="1347.05" y1="55.2" x2="1347.05" y2="614" stroke="#ebebeb" stroke-width="1.4"/><line x1="1373.8" y1="55.2" x2="1373.8" y2="614" stroke="#ebebeb" stroke-width="2.6"/><line x1="1400.55" y1="55.2" x2="1400.55" y2="614" stroke="#ebebeb" stroke-width="1.4"/><line x1="1427.3" y1="55.2" x2="1427.3" y2="614" stroke="#ebebeb" stroke-width="2.6"/><line x1="1454.05" y1="55.2" x2="1454.05" y2="614" stroke="#ebebeb" stroke-width="1.4"/><line x1="1480.8" y1="55.2" x2="1480.8" y2="614" stroke="#ebebeb" stroke-width="2.6"/><line x1="1507.55" y1="55.2" x2="1507.55" y2="614" stroke="#ebebeb" stroke-width="1.4"/><line x1="1534.3" y1="55.2" x2="1534.3" y2="614" stroke="#ebebeb" stroke-width="2.6"/><line x1="1561.05" y1="55.2" x2="1561.05" y2="614" stroke="#ebebeb" stroke-width="1.4"/><line x1="1587.8" y1="55.2" x2="1587.8" y2="614" stroke="#ebebeb" stroke-width="2.6"/><line x1="1614.55" y1="55.2" x2="1614.55" y2="614" stroke="#ebebeb" stroke-width="1.4"/><line x1="1641.3" y1="55.2" x2="1641.3" y2="614" stroke="#ebebeb" stroke-width="2.6"/><line x1="1266.8" y1="82.5" x2="1643.6" y2="82.5" stroke="#ebebeb" stroke-width="2.6"/><line x1="1266.8" y1="128.35" x2="1643.6" y2="128.35" stroke="#ebebeb" stroke-width="2.6"/><line x1="1266.8" y1="174.2" x2="1643.6" y2="174.2" stroke="#ebebeb" stroke-width="2.6"/><line x1="1266.8" y1="220.05" x2="1643.6" y2="220.05" stroke="#ebebeb" stroke-width="2.6"/><line x1="1266.8" y1="265.9" x2="1643.6" y2="265.9" stroke="#ebebeb" stroke-width="2.6"/><line x1="1266.8" y1="311.75" x2="1643.6" y2="311.75" stroke="#ebebeb" stroke-width="2.6"/><line x1="1266.8" y1="357.6" x2="1643.6" y2="357.6" stroke="#ebebeb" stroke-width="2.6"/><line x1="1266.8" y1="403.45" x2="1643.6" y2="403.45" stroke="#ebebeb" stroke-width="2.6"/><line x1="1266.8" y1="449.3" x2="1643.6" y2="449.3" stroke="#ebebeb" stroke-width="2.6"/><line x1="1266.8" y1="495.15" x2="1643.6" y2="495.15" stroke="#ebebeb" stroke-width="2.6"/><line x1="1266.8" y1="541" x2="1643.6" y2="541" stroke="#ebebeb" stroke-width="2.6"/><line x1="1266.8" y1="586.85" x2="1643.6" y2="586.85" stroke="#ebebeb" stroke-width="2.6"/>
<rect x="1266.8" y="64.5" width="51.6" height="36" fill="#3c5488" stroke="#000" stroke-width="2"/>
<line x1="1258.2" y1="82.5" x2="1266.8" y2="82.5" stroke="#000" stroke-width="2.2"/>
<text x="1254" y="90.1" font-size="23" font-family="'Liberation Serif','Times New Roman',serif" text-anchor="end">Focal Adhesion</text>
<rect x="1266.8" y="110.35" width="57.8" height="36" fill="#3c5488" stroke="#000" stroke-width="2"/>
<line x1="1258.2" y1="128.35" x2="1266.8" y2="128.35" stroke="#000" stroke-width="2.2"/>
<text x="1254" y="135.95" font-size="23" font-family="'Liberation Serif','Times New Roman',serif" text-anchor="end">Cell Adhesion Molecules</text>
<rect x="1266.8" y="156.2" width="59.5" height="36" fill="#3c5488" stroke="#000" stroke-width="2"/>
<line x1="1258.2" y1="174.2" x2="1266.8" y2="174.2" stroke="#000" stroke-width="2.2"/>
<text x="1254" y="181.8" font-size="23" font-family="'Liberation Serif','Times New Roman',serif" text-anchor="end">ECM−Receptor Interaction</text>
<rect x="1266.8" y="202.05" width="119.7" height="36" fill="#00a087" stroke="#000" stroke-width="2"/>
<line x1="1258.2" y1="220.05" x2="1266.8" y2="220.05" stroke="#000" stroke-width="2.2"/>
<text x="1254" y="227.65" font-size="23" font-family="'Liberation Serif','Times New Roman',serif" text-anchor="end">Heparin Binding</text>
<rect x="1266.8" y="247.9" width="132" height="36" fill="#00a087" stroke="#000" stroke-width="2"/>
<line x1="1258.2" y1="265.9" x2="1266.8" y2="265.9" stroke="#000" stroke-width="2.2"/>
<text x="1254" y="273.5" font-size="23" font-family="'Liberation Serif','Times New Roman',serif" text-anchor="end">Glycosaminoglycan Binding</text>
<rect x="1266.8" y="293.75" width="245.4" height="36" fill="#00a087" stroke="#000" stroke-width="2"/>
<line x1="1258.2" y1="311.75" x2="1266.8" y2="311.75" stroke="#000" stroke-width="2.2"/>
<text x="1254" y="308.15" font-size="23" font-family="'Liberation Serif','Times New Roman',serif" text-anchor="end">Extracellular Matrix</text>
<text x="1254" y="330.35" font-size="23" font-family="'Liberation Serif','Times New Roman',serif" text-anchor="end">Structural Constituent</text>
<rect x="1266.8" y="339.6" width="75.8" height="36" fill="#e64b35" stroke="#000" stroke-width="2"/>
<line x1="1258.2" y1="357.6" x2="1266.8" y2="357.6" stroke="#000" stroke-width="2.2"/>
<text x="1254" y="365.2" font-size="23" font-family="'Liberation Serif','Times New Roman',serif" text-anchor="end">Collagen Trimer</text>
<rect x="1266.8" y="385.45" width="75.8" height="36" fill="#e64b35" stroke="#000" stroke-width="2"/>
<line x1="1258.2" y1="403.45" x2="1266.8" y2="403.45" stroke="#000" stroke-width="2.2"/>
<text x="1254" y="411.05" font-size="23" font-family="'Liberation Serif','Times New Roman',serif" text-anchor="end">Basement Membrane</text>
<rect x="1266.8" y="431.3" width="358.8" height="36" fill="#e64b35" stroke="#000" stroke-width="2"/>
<line x1="1258.2" y1="449.3" x2="1266.8" y2="449.3" stroke="#000" stroke-width="2.2"/>
<text x="1254" y="445.7" font-size="23" font-family="'Liberation Serif','Times New Roman',serif" text-anchor="end">Collagen−Containing</text>
<text x="1254" y="467.9" font-size="23" font-family="'Liberation Serif','Times New Roman',serif" text-anchor="end">Extracellular Matrix</text>
<rect x="1266.8" y="477.15" width="94" height="36" fill="#4dbbd5" stroke="#000" stroke-width="2"/>
<line x1="1258.2" y1="495.15" x2="1266.8" y2="495.15" stroke="#000" stroke-width="2.2"/>
<text x="1254" y="502.75" font-size="23" font-family="'Liberation Serif','Times New Roman',serif" text-anchor="end">Cell−Substrate Adhesion</text>
<rect x="1266.8" y="523" width="221.4" height="36" fill="#4dbbd5" stroke="#000" stroke-width="2"/>
<line x1="1258.2" y1="541" x2="1266.8" y2="541" stroke="#000" stroke-width="2.2"/>
<text x="1254" y="537.4" font-size="23" font-family="'Liberation Serif','Times New Roman',serif" text-anchor="end">Extracellular Structure</text>
<text x="1254" y="559.6" font-size="23" font-family="'Liberation Serif','Times New Roman',serif" text-anchor="end">Organization</text>
<rect x="1266.8" y="568.85" width="232.2" height="36" fill="#4dbbd5" stroke="#000" stroke-width="2"/>
<line x1="1258.2" y1="586.85" x2="1266.8" y2="586.85" stroke="#000" stroke-width="2.2"/>
<text x="1254" y="583.25" font-size="23" font-family="'Liberation Serif','Times New Roman',serif" text-anchor="end">Extracellular Matrix</text>
<text x="1254" y="605.45" font-size="23" font-family="'Liberation Serif','Times New Roman',serif" text-anchor="end">Organization</text>
<rect x="1266.8" y="55.2" width="376.8" height="558.8" fill="none" stroke="#000" stroke-width="2.4"/>
<line x1="1266.8" y1="614" x2="1266.8" y2="622.6" stroke="#000" stroke-width="2.2"/>
<text x="1266.8" y="644" font-size="21.5" font-family="'Liberation Serif','Times New Roman',serif" text-anchor="middle">0</text>
<line x1="1320.3" y1="614" x2="1320.3" y2="622.6" stroke="#000" stroke-width="2.2"/>
<text x="1320.3" y="644" font-size="21.5" font-family="'Liberation Serif','Times New Roman',serif" text-anchor="middle">10</text>
<line x1="1373.8" y1="614" x2="1373.8" y2="622.6" stroke="#000" stroke-width="2.2"/>
<text x="1373.8" y="644" font-size="21.5" font-family="'Liberation Serif','Times New Roman',serif" text-anchor="middle">20</text>
<line x1="1427.3" y1="614" x2="1427.3" y2="622.6" stroke="#000" stroke-width="2.2"/>
<text x="1427.3" y="644" font-size="21.5" font-family="'Liberation Serif','Times New Roman',serif" text-anchor="middle">30</text>
<line x1="1480.8" y1="614" x2="1480.8" y2="622.6" stroke="#000" stroke-width="2.2"/>
<text x="1480.8" y="644" font-size="21.5" font-family="'Liberation Serif','Times New Roman',serif" text-anchor="middle">40</text>
<line x1="1534.3" y1="614" x2="1534.3" y2="622.6" stroke="#000" stroke-width="2.2"/>
<text x="1534.3" y="644" font-size="21.5" font-family="'Liberation Serif','Times New Roman',serif" text-anchor="middle">50</text>
<line x1="1587.8" y1="614" x2="1587.8" y2="622.6" stroke="#000" stroke-width="2.2"/>
<text x="1587.8" y="644" font-size="21.5" font-family="'Liberation Serif','Times New Roman',serif" text-anchor="middle">60</text>
<line x1="1641.3" y1="614" x2="1641.3" y2="622.6" stroke="#000" stroke-width="2.2"/>
<text x="1641.3" y="644" font-size="21.5" font-family="'Liberation Serif','Times New Roman',serif" text-anchor="middle">70</text>
<text x="1370" y="673.8" font-size="23" font-family="'Liberation Serif','Times New Roman',serif">−Log<tspan font-size="25" dy="6">10</tspan><tspan dy="-6"> (p.adjust)</tspan></text>
<rect x="1653.3" y="271.3" width="20.2" height="19.7" fill="#4dbbd5" stroke="#000" stroke-width="1.6"/>
<text x="1684.4" y="287.8" font-size="22.5" font-family="'Liberation Serif','Times New Roman',serif">BP</text>
<rect x="1653.3" y="294.4" width="20.2" height="19.7" fill="#e64b35" stroke="#000" stroke-width="1.6"/>
<text x="1684.4" y="310.9" font-size="22.5" font-family="'Liberation Serif','Times New Roman',serif">CC</text>
<rect x="1653.3" y="317.5" width="20.2" height="19.7" fill="#00a087" stroke="#000" stroke-width="1.6"/>
<text x="1684.4" y="334" font-size="22.5" font-family="'Liberation Serif','Times New Roman',serif">MF</text>
<rect x="1653.3" y="340.6" width="20.2" height="19.7" fill="#3c5488" stroke="#000" stroke-width="1.6"/>
<text x="1684.4" y="357.1" font-size="22.5" font-family="'Liberation Serif','Times New Roman',serif">KEGG</text>
<rect x="48.5" y="730.9" width="426" height="431.3" fill="#f0f0f0"/>
<text x="257.5" y="747.3" font-size="15.5" font-family="'Liberation Sans',Arial,sans-serif" text-anchor="middle" font-weight="bold">Enrichment plot:</text>
<text x="259.7" y="769.4" font-size="15.5" font-family="'Liberation Sans',Arial,sans-serif" text-anchor="middle" font-weight="bold">REACTOME_CELL_CYCLE_CHECKPOINTS</text>
<rect x="94" y="780.3" width="374.3" height="318.5" fill="#fff"/>
<path d="M129.6 780.3V933.2M129.6 996.8V1098.8M165.2 780.3V933.2M165.2 996.8V1098.8M200.8 780.3V933.2M200.8 996.8V1098.8M236.4 780.3V933.2M236.4 996.8V1098.8M272 780.3V933.2M272 996.8V1098.8M307.6 780.3V933.2M307.6 996.8V1098.8M343.2 780.3V933.2M343.2 996.8V1098.8M378.8 780.3V933.2M378.8 996.8V1098.8M414.4 780.3V933.2M414.4 996.8V1098.8M450 780.3V933.2M450 996.8V1098.8M94 903.45H468.3M94 882.1H468.3M94 860.75H468.3M94 839.4H468.3M94 818.05H468.3M94 796.7H468.3M94 1025.6H468.3M94 1057.95H468.3M94 1090.3H468.3" stroke="#d4d4d4" stroke-width="0.9" stroke-dasharray="2 2" fill="none"/>
<line x1="94" y1="924.8" x2="468.3" y2="924.8" stroke="#888" stroke-width="1.1"/>
<polygon points="94,1025.6 94,1004.9 95.78,1007.65 97.56,1008.45 99.34,1009.26 101.12,1010.07 102.9,1010.48 104.68,1010.88 106.46,1011.29 108.24,1011.69 110.02,1012.09 111.8,1012.5 113.58,1012.9 115.36,1013.31 117.14,1013.55 118.92,1013.79 120.7,1014.03 122.48,1014.28 124.26,1014.52 126.04,1014.76 127.82,1015.01 129.6,1015.25 131.38,1015.46 133.16,1015.67 134.94,1015.88 136.72,1016.09 138.5,1016.3 140.28,1016.51 142.06,1016.72 143.84,1016.93 145.62,1017.14 147.4,1017.35 149.18,1017.56 150.96,1017.77 152.74,1017.98 154.52,1018.19 156.3,1018.4 158.08,1018.61 159.86,1018.82 161.64,1019.03 163.42,1019.24 165.2,1019.45 166.98,1019.63 168.76,1019.81 170.54,1019.99 172.32,1020.17 174.1,1020.34 175.88,1020.52 177.66,1020.7 179.44,1020.88 181.22,1021.05 183,1021.23 184.78,1021.41 186.56,1021.59 188.34,1021.77 190.12,1021.94 191.9,1022.12 193.68,1022.3 195.46,1022.48 197.24,1022.66 199.02,1022.83 200.8,1023.01 202.58,1023.24 204.36,1023.48 206.14,1023.71 207.92,1023.94 209.7,1024.17 211.48,1024.4 213.26,1024.64 215.04,1024.87 216.82,1025.1 218.6,1025.33 220.38,1025.56 222.16,1025.78 223.94,1026 225.72,1026.22 227.5,1026.44 229.28,1026.66 231.06,1026.88 232.84,1027.1 234.62,1027.32 236.4,1027.54 238.18,1027.7 239.96,1027.86 241.74,1028.03 243.52,1028.19 245.3,1028.35 247.08,1028.51 248.86,1028.67 250.64,1028.83 252.42,1029 254.2,1029.16 255.98,1029.32 257.76,1029.48 259.54,1029.64 261.32,1029.81 263.1,1029.97 264.88,1030.13 266.66,1030.29 268.44,1030.45 270.22,1030.61 272,1030.78 273.78,1031.08 275.56,1031.39 277.34,1031.7 279.12,1032.01 280.9,1032.31 282.68,1032.62 284.46,1032.93 286.24,1033.23 288.02,1033.54 289.8,1033.85 291.58,1034.16 293.36,1034.46 295.14,1034.77 296.92,1035.08 298.7,1035.39 300.48,1035.69 302.26,1036 304.04,1036.31 305.82,1036.62 307.6,1036.92 309.38,1037.23 311.16,1037.54 312.94,1037.84 314.72,1038.15 316.5,1038.46 318.28,1038.77 320.06,1039.07 321.84,1039.38 323.62,1039.69 325.4,1040 327.18,1040.3 328.96,1040.61 330.74,1040.92 332.52,1041.23 334.3,1041.53 336.08,1041.84 337.86,1042.15 339.64,1042.45 341.42,1042.76 343.2,1043.07 344.98,1043.41 346.76,1043.75 348.54,1044.09 350.32,1044.43 352.1,1044.77 353.88,1045.11 355.66,1045.45 357.44,1045.79 359.22,1046.13 361,1046.47 362.78,1046.81 364.56,1047.15 366.34,1047.48 368.12,1047.82 369.9,1048.16 371.68,1048.5 373.46,1048.84 375.24,1049.18 377.02,1049.52 378.8,1049.86 380.58,1050.23 382.36,1050.61 384.14,1050.98 385.92,1051.35 387.7,1051.72 389.48,1052.09 391.26,1052.47 393.04,1052.84 394.82,1053.21 396.6,1053.58 398.38,1053.95 400.16,1054.33 401.94,1054.7 403.72,1055.07 405.5,1055.44 407.28,1055.81 409.06,1056.19 410.84,1056.56 412.62,1056.93 414.4,1057.3 416.18,1057.95 417.96,1058.6 419.74,1059.24 421.52,1059.89 423.3,1060.54 425.08,1061.18 426.86,1061.83 428.64,1062.48 430.42,1063.45 432.2,1064.42 433.98,1065.39 435.76,1066.36 437.54,1068.22 439.32,1070.08 441.1,1071.94 442.88,1073.8 444.66,1077.52 446.44,1081.24 448.22,1086.09 450,1094.83 448.93,1089.01 449.43,1091.72 449.79,1093.66 450,1094.83 450,1025.6" fill="#c0c0c0"/>
<line x1="220.66" y1="996.8" x2="220.66" y2="1098.8" stroke="#aaa" stroke-width="1" stroke-dasharray="4 3"/>
<text x="220.66" y="1050.6" font-size="8.2" font-family="'Liberation Sans',Arial,sans-serif" text-anchor="middle" fill="#222">Zero cross at 1779</text>
<defs><linearGradient id="cbr0" x1="0" x2="1"><stop offset="0" stop-color="#b00000"/><stop offset="0.45" stop-color="#dd3333"/><stop offset="1" stop-color="#f24a4a"/></linearGradient></defs>
<rect x="94" y="983.8" width="21.66" height="13" fill="url(#cbr0)"/><rect x="115.36" y="983.8" width="34.48" height="13" fill="#f55"/><rect x="149.54" y="983.8" width="23.08" height="13" fill="#f66a78"/><rect x="172.32" y="983.8" width="23.44" height="13" fill="#f78888"/><rect x="195.46" y="983.8" width="25.08" height="13" fill="#fbbfe6"/><rect x="220.24" y="983.8" width="47.36" height="13" fill="#d6d6fb"/><rect x="267.3" y="983.8" width="40.67" height="13" fill="#c6c0f8"/><rect x="307.67" y="983.8" width="35.12" height="13" fill="#8888ff"/><rect x="342.49" y="983.8" width="66.52" height="13" fill="#6a5ae8"/><rect x="408.7" y="983.8" width="30.56" height="13" fill="#2a08d0"/><rect x="438.96" y="983.8" width="11.34" height="13" fill="#4a10a8"/><rect x="96.85" y="983.8" width="0.9" height="13" fill="#000" opacity="0.12"/><rect x="102.54" y="983.8" width="0.9" height="13" fill="#000" opacity="0.12"/><rect x="106.1" y="983.8" width="0.9" height="13" fill="#000" opacity="0.12"/><rect x="112.51" y="983.8" width="0.9" height="13" fill="#000" opacity="0.12"/><rect x="117.5" y="983.8" width="0.9" height="13" fill="#000" opacity="0.12"/><rect x="123.9" y="983.8" width="0.9" height="13" fill="#000" opacity="0.12"/><rect x="131.02" y="983.8" width="0.9" height="13" fill="#000" opacity="0.12"/><rect x="139.57" y="983.8" width="0.9" height="13" fill="#000" opacity="0.12"/><rect x="148.11" y="983.8" width="0.9" height="13" fill="#000" opacity="0.12"/><rect x="158.08" y="983.8" width="0.9" height="13" fill="#000" opacity="0.12"/><rect x="166.62" y="983.8" width="0.9" height="13" fill="#000" opacity="0.12"/><rect x="176.59" y="983.8" width="0.9" height="13" fill="#000" opacity="0.12"/><rect x="185.14" y="983.8" width="0.9" height="13" fill="#000" opacity="0.12"/>
<path d="M94.5 934.7V983.8M95.1 934.7V983.8M95.7 934.7V983.8M96.3 934.7V983.8M96.9 934.7V983.8M97.5 934.7V983.8M98.1 934.7V983.8M100.4 934.7V983.8M101 934.7V983.8M101.8 934.7V983.8M104.2 934.7V983.8M105 934.7V983.8M106 934.7V983.8M107.5 934.7V983.8M109 934.7V983.8M110 934.7V983.8M116.6 934.7V983.8M121.7 934.7V983.8M126.6 934.7V983.8M130.2 934.7V983.8M134 934.7V983.8M136.7 934.7V983.8M137.5 934.7V983.8M138.3 934.7V983.8M139.1 934.7V983.8M139.9 934.7V983.8M140.7 934.7V983.8M144.7 934.7V983.8M147.9 934.7V983.8M156.7 934.7V983.8M161.2 934.7V983.8M170.9 934.7V983.8M171.7 934.7V983.8M172.5 934.7V983.8M173.3 934.7V983.8M174.1 934.7V983.8M178 934.7V983.8M183.9 934.7V983.8M194 934.7V983.8M201 934.7V983.8M203.6 934.7V983.8M207 934.7V983.8M213.5 934.7V983.8M218.5 934.7V983.8M223.5 934.7V983.8M240 934.7V983.8M263.4 934.7V983.8M268.1 934.7V983.8M281.1 934.7V983.8M312.5 934.7V983.8M327.2 934.7V983.8M328 934.7V983.8M402 934.7V983.8" stroke="#1a1a1a" stroke-width="1.1" fill="none"/>
<polyline points="94.7,925 95.3,909.7 96.5,892 97.7,884.9 99.5,877.8 100.6,864.8 102.4,856.5 103.6,856.5 104.8,845.9 106,831.7 107.7,825.8 108.9,827 110.1,814 111.3,812.8 114.8,815.8 117.8,806.9 120.7,809.3 123.1,798 125.4,799.8 127.8,795.7 130.5,794 133.7,796.3 137.3,794.5 142,788 145,787.8 147.9,787.4 151,789.5 155,791.5 160.9,788.6 165.5,791.5 170.3,793.9 174.5,791 179,791.2 183.3,792.7 194,798.6 201,802.2 238.8,823.4 262.5,837 263.2,835.5 268.4,838.8 280.2,844.7 281,843.5 290,848.8 312.9,861.6 313.5,857.7 327.2,866.8 328,859 401.2,903.8 401.8,895.4 450.1,924.8" fill="none" stroke="#0e0" stroke-width="2.4" stroke-linejoin="round"/>
<rect x="94" y="780.3" width="374.3" height="152.9" fill="none" stroke="#a0a0a0" stroke-width="1.1"/>
<rect x="94" y="933.2" width="374.3" height="63.6" fill="none" stroke="#a0a0a0" stroke-width="1.1"/>
<line x1="94" y1="983.8" x2="468.3" y2="983.8" stroke="#b0b0b0" stroke-width="0.8"/>
<rect x="94" y="996.8" width="374.3" height="102" fill="none" stroke="#a0a0a0" stroke-width="1.1"/>
<line x1="91" y1="924.8" x2="94" y2="924.8" stroke="#888" stroke-width="1"/>
<text x="89" y="929" font-size="11.5" font-family="'Liberation Sans',Arial,sans-serif" text-anchor="end" fill="#555">0.0</text>
<line x1="91" y1="903.45" x2="94" y2="903.45" stroke="#888" stroke-width="1"/>
<text x="89" y="907.65" font-size="11.5" font-family="'Liberation Sans',Arial,sans-serif" text-anchor="end" fill="#555">0.1</text>
<line x1="91" y1="882.1" x2="94" y2="882.1" stroke="#888" stroke-width="1"/>
<text x="89" y="886.3" font-size="11.5" font-family="'Liberation Sans',Arial,sans-serif" text-anchor="end" fill="#555">0.2</text>
<line x1="91" y1="860.75" x2="94" y2="860.75" stroke="#888" stroke-width="1"/>
<text x="89" y="864.95" font-size="11.5" font-family="'Liberation Sans',Arial,sans-serif" text-anchor="end" fill="#555">0.3</text>
<line x1="91" y1="839.4" x2="94" y2="839.4" stroke="#888" stroke-width="1"/>
<text x="89" y="843.6" font-size="11.5" font-family="'Liberation Sans',Arial,sans-serif" text-anchor="end" fill="#555">0.4</text>
<line x1="91" y1="818.05" x2="94" y2="818.05" stroke="#888" stroke-width="1"/>
<text x="89" y="822.25" font-size="11.5" font-family="'Liberation Sans',Arial,sans-serif" text-anchor="end" fill="#555">0.5</text>
<line x1="91" y1="796.7" x2="94" y2="796.7" stroke="#888" stroke-width="1"/>
<text x="89" y="800.9" font-size="11.5" font-family="'Liberation Sans',Arial,sans-serif" text-anchor="end" fill="#555">0.6</text>
<line x1="91" y1="1025.6" x2="94" y2="1025.6" stroke="#888" stroke-width="1"/>
<text x="89" y="1029" font-size="9.6" font-family="'Liberation Sans',Arial,sans-serif" text-anchor="end" fill="#333">0.0</text>
<line x1="91" y1="1057.95" x2="94" y2="1057.95" stroke="#888" stroke-width="1"/>
<text x="89" y="1061.35" font-size="9.6" font-family="'Liberation Sans',Arial,sans-serif" text-anchor="end" fill="#333">-0.5</text>
<line x1="91" y1="1090.3" x2="94" y2="1090.3" stroke="#888" stroke-width="1"/>
<text x="89" y="1093.7" font-size="9.6" font-family="'Liberation Sans',Arial,sans-serif" text-anchor="end" fill="#333">-1.0</text>
<line x1="94" y1="1098.8" x2="94" y2="1101.3" stroke="#888" stroke-width="1"/>
<text x="94" y="1112.6" font-size="9.1" font-family="'Liberation Sans',Arial,sans-serif" text-anchor="middle" fill="#333">0</text>
<line x1="129.6" y1="1098.8" x2="129.6" y2="1101.3" stroke="#888" stroke-width="1"/>
<text x="129.6" y="1112.6" font-size="9.1" font-family="'Liberation Sans',Arial,sans-serif" text-anchor="middle" fill="#333">500</text>
<line x1="165.2" y1="1098.8" x2="165.2" y2="1101.3" stroke="#888" stroke-width="1"/>
<text x="165.2" y="1112.6" font-size="9.1" font-family="'Liberation Sans',Arial,sans-serif" text-anchor="middle" fill="#333">1,000</text>
<line x1="200.8" y1="1098.8" x2="200.8" y2="1101.3" stroke="#888" stroke-width="1"/>
<text x="200.8" y="1112.6" font-size="9.1" font-family="'Liberation Sans',Arial,sans-serif" text-anchor="middle" fill="#333">1,500</text>
<line x1="236.4" y1="1098.8" x2="236.4" y2="1101.3" stroke="#888" stroke-width="1"/>
<text x="236.4" y="1112.6" font-size="9.1" font-family="'Liberation Sans',Arial,sans-serif" text-anchor="middle" fill="#333">2,000</text>
<line x1="272" y1="1098.8" x2="272" y2="1101.3" stroke="#888" stroke-width="1"/>
<text x="272" y="1112.6" font-size="9.1" font-family="'Liberation Sans',Arial,sans-serif" text-anchor="middle" fill="#333">2,500</text>
<line x1="307.6" y1="1098.8" x2="307.6" y2="1101.3" stroke="#888" stroke-width="1"/>
<text x="307.6" y="1112.6" font-size="9.1" font-family="'Liberation Sans',Arial,sans-serif" text-anchor="middle" fill="#333">3,000</text>
<line x1="343.2" y1="1098.8" x2="343.2" y2="1101.3" stroke="#888" stroke-width="1"/>
<text x="343.2" y="1112.6" font-size="9.1" font-family="'Liberation Sans',Arial,sans-serif" text-anchor="middle" fill="#333">3,500</text>
<line x1="378.8" y1="1098.8" x2="378.8" y2="1101.3" stroke="#888" stroke-width="1"/>
<text x="378.8" y="1112.6" font-size="9.1" font-family="'Liberation Sans',Arial,sans-serif" text-anchor="middle" fill="#333">4,000</text>
<line x1="414.4" y1="1098.8" x2="414.4" y2="1101.3" stroke="#888" stroke-width="1"/>
<text x="414.4" y="1112.6" font-size="9.1" font-family="'Liberation Sans',Arial,sans-serif" text-anchor="middle" fill="#333">4,500</text>
<line x1="450" y1="1098.8" x2="450" y2="1101.3" stroke="#888" stroke-width="1"/>
<text x="450" y="1112.6" font-size="9.1" font-family="'Liberation Sans',Arial,sans-serif" text-anchor="middle" fill="#333">5,000</text>
<text x="281.15" y="1128.4" font-size="10.8" font-family="'Liberation Sans',Arial,sans-serif" text-anchor="middle" fill="#222">Rank in Ordered Dataset</text>
<text transform="translate(66.7 856.75) rotate(-90)" font-size="13.3" font-family="'Liberation Sans',Arial,sans-serif" text-anchor="middle" fill="#222">Enrichment score (ES)</text>
<text transform="translate(66 1047.8) rotate(-90)" font-size="10.8" font-family="'Liberation Sans',Arial,sans-serif" text-anchor="middle" fill="#222">Ranked list metric (Signal2Noise)</text>
<text x="93.5" y="1007" font-size="10.8" font-family="'Liberation Serif','Times New Roman',serif" fill="#ff4040">‘Cluster A’(positively correlated)</text>
<text x="425.5" y="1095.2" font-size="10.8" font-family="'Liberation Serif','Times New Roman',serif" text-anchor="end" fill="#4040ff">‘Cluster B’(negatively correlated)</text>
<rect x="111.3" y="1139.9" width="295.9" height="20.8" fill="#fff" stroke="#333" stroke-width="1.2"/>
<line x1="113.8" y1="1150.8" x2="126.5" y2="1150.8" stroke="#0e0" stroke-width="2"/>
<text x="130" y="1154.3" font-size="10.8" font-family="'Liberation Sans',Arial,sans-serif" fill="#222">Enrichment profile</text>
<line x1="221.8" y1="1150.8" x2="233.2" y2="1150.8" stroke="#666" stroke-width="1.5"/>
<text x="237" y="1154.3" font-size="10.8" font-family="'Liberation Sans',Arial,sans-serif" fill="#222">Hits</text>
<line x1="281.5" y1="1150.8" x2="294.2" y2="1150.8" stroke="#ddd" stroke-width="1.5"/>
<text x="297.5" y="1154.3" font-size="10.8" font-family="'Liberation Sans',Arial,sans-serif" fill="#222">Ranking metric scores</text>
<rect x="476.5" y="731.7" width="430.1" height="431.3" fill="#f0f0f0"/>
<text x="691.7" y="748.6" font-size="15.5" font-family="'Liberation Sans',Arial,sans-serif" text-anchor="middle" font-weight="bold">Enrichment plot: REACTOME_G2_M_CHECKPOINTS</text>
<rect x="527.2" y="759.5" width="373.7" height="339.9" fill="#fff"/>
<path d="M562.75 759.5V923.2M562.75 991V1099.4M598.3 759.5V923.2M598.3 991V1099.4M633.85 759.5V923.2M633.85 991V1099.4M669.4 759.5V923.2M669.4 991V1099.4M704.95 759.5V923.2M704.95 991V1099.4M740.5 759.5V923.2M740.5 991V1099.4M776.05 759.5V923.2M776.05 991V1099.4M811.6 759.5V923.2M811.6 991V1099.4M847.15 759.5V923.2M847.15 991V1099.4M882.7 759.5V923.2M882.7 991V1099.4M527.2 891.2H900.9M527.2 868H900.9M527.2 844.8H900.9M527.2 821.6H900.9M527.2 798.4H900.9M527.2 775.2H900.9M527.2 1021.5H900.9M527.2 1055.9H900.9M527.2 1090.3H900.9" stroke="#d4d4d4" stroke-width="0.9" stroke-dasharray="2 2" fill="none"/>
<line x1="527.2" y1="914.4" x2="900.9" y2="914.4" stroke="#888" stroke-width="1.1"/>
<polygon points="527.2,1021.5 527.2,999.48 528.98,1002.41 530.75,1003.27 532.53,1004.13 534.31,1004.99 536.09,1005.42 537.87,1005.85 539.64,1006.28 541.42,1006.71 543.2,1007.14 544.98,1007.57 546.75,1008 548.53,1008.43 550.31,1008.69 552.09,1008.94 553.86,1009.2 555.64,1009.46 557.42,1009.72 559.2,1009.98 560.97,1010.23 562.75,1010.49 564.53,1010.72 566.31,1010.94 568.08,1011.16 569.86,1011.39 571.64,1011.61 573.42,1011.83 575.19,1012.06 576.97,1012.28 578.75,1012.5 580.53,1012.73 582.3,1012.95 584.08,1013.18 585.86,1013.4 587.63,1013.62 589.41,1013.85 591.19,1014.07 592.97,1014.29 594.75,1014.52 596.52,1014.74 598.3,1014.96 600.08,1015.15 601.86,1015.34 603.63,1015.53 605.41,1015.72 607.19,1015.91 608.97,1016.1 610.74,1016.29 612.52,1016.48 614.3,1016.67 616.08,1016.86 617.85,1017.05 619.63,1017.23 621.41,1017.42 623.19,1017.61 624.96,1017.8 626.74,1017.99 628.52,1018.18 630.3,1018.37 632.07,1018.56 633.85,1018.75 635.63,1018.99 637.41,1019.24 639.18,1019.49 640.96,1019.73 642.74,1019.98 644.52,1020.23 646.29,1020.47 648.07,1020.72 649.85,1020.97 651.62,1021.21 653.4,1021.46 655.18,1021.7 656.96,1021.93 658.74,1022.16 660.51,1022.4 662.29,1022.63 664.07,1022.86 665.85,1023.1 667.62,1023.33 669.4,1023.56 671.18,1023.74 672.96,1023.91 674.73,1024.08 676.51,1024.25 678.29,1024.42 680.07,1024.6 681.84,1024.77 683.62,1024.94 685.4,1025.11 687.18,1025.28 688.95,1025.46 690.73,1025.63 692.51,1025.8 694.29,1025.97 696.06,1026.14 697.84,1026.32 699.62,1026.49 701.39,1026.66 703.17,1026.83 704.95,1027 706.73,1027.33 708.5,1027.66 710.28,1027.98 712.06,1028.31 713.84,1028.64 715.62,1028.96 717.39,1029.29 719.17,1029.62 720.95,1029.95 722.73,1030.27 724.5,1030.6 726.28,1030.93 728.06,1031.25 729.84,1031.58 731.61,1031.91 733.39,1032.23 735.17,1032.56 736.95,1032.89 738.72,1033.21 740.5,1033.54 742.28,1033.87 744.06,1034.19 745.83,1034.52 747.61,1034.85 749.39,1035.17 751.16,1035.5 752.94,1035.83 754.72,1036.15 756.5,1036.48 758.28,1036.81 760.05,1037.13 761.83,1037.46 763.61,1037.79 765.38,1038.12 767.16,1038.44 768.94,1038.77 770.72,1039.1 772.5,1039.42 774.27,1039.75 776.05,1040.08 777.83,1040.44 779.61,1040.8 781.38,1041.16 783.16,1041.52 784.94,1041.88 786.72,1042.24 788.49,1042.6 790.27,1042.97 792.05,1043.33 793.83,1043.69 795.6,1044.05 797.38,1044.41 799.16,1044.77 800.94,1045.13 802.71,1045.49 804.49,1045.86 806.27,1046.22 808.05,1046.58 809.82,1046.94 811.6,1047.3 813.38,1047.7 815.15,1048.09 816.93,1048.49 818.71,1048.88 820.49,1049.28 822.27,1049.67 824.04,1050.07 825.82,1050.46 827.6,1050.86 829.38,1051.26 831.15,1051.65 832.93,1052.05 834.71,1052.44 836.49,1052.84 838.26,1053.23 840.04,1053.63 841.82,1054.03 843.6,1054.42 845.37,1054.82 847.15,1055.21 848.93,1055.9 850.71,1056.59 852.48,1057.28 854.26,1057.96 856.04,1058.65 857.82,1059.34 859.59,1060.03 861.37,1060.72 863.15,1061.75 864.92,1062.78 866.7,1063.81 868.48,1064.84 870.26,1066.82 872.04,1068.8 873.81,1070.78 875.59,1072.76 877.37,1076.71 879.14,1080.67 880.92,1085.83 882.7,1095.12 881.63,1088.92 882.13,1091.81 882.49,1093.88 882.7,1095.12 882.7,1021.5" fill="#c0c0c0"/>
<line x1="653.69" y1="991" x2="653.69" y2="1099.4" stroke="#aaa" stroke-width="1" stroke-dasharray="4 3"/>
<text x="653.69" y="1046.5" font-size="8.2" font-family="'Liberation Sans',Arial,sans-serif" text-anchor="middle" fill="#222">Zero cross at 1779</text>
<defs><linearGradient id="cbr1" x1="0" x2="1"><stop offset="0" stop-color="#b00000"/><stop offset="0.45" stop-color="#dd3333"/><stop offset="1" stop-color="#f24a4a"/></linearGradient></defs>
<rect x="527.2" y="977.3" width="21.63" height="13.7" fill="url(#cbr1)"/><rect x="548.53" y="977.3" width="34.43" height="13.7" fill="#f55"/><rect x="582.66" y="977.3" width="23.05" height="13.7" fill="#f66a78"/><rect x="605.41" y="977.3" width="23.41" height="13.7" fill="#f78888"/><rect x="628.52" y="977.3" width="25.04" height="13.7" fill="#fbbfe6"/><rect x="653.26" y="977.3" width="47.3" height="13.7" fill="#d6d6fb"/><rect x="700.26" y="977.3" width="40.61" height="13.7" fill="#c6c0f8"/><rect x="740.57" y="977.3" width="35.07" height="13.7" fill="#8888ff"/><rect x="775.34" y="977.3" width="66.42" height="13.7" fill="#6a5ae8"/><rect x="841.46" y="977.3" width="30.52" height="13.7" fill="#2a08d0"/><rect x="871.68" y="977.3" width="11.32" height="13.7" fill="#4a10a8"/><rect x="530.04" y="977.3" width="0.9" height="13.7" fill="#000" opacity="0.12"/><rect x="535.73" y="977.3" width="0.9" height="13.7" fill="#000" opacity="0.12"/><rect x="539.29" y="977.3" width="0.9" height="13.7" fill="#000" opacity="0.12"/><rect x="545.69" y="977.3" width="0.9" height="13.7" fill="#000" opacity="0.12"/><rect x="550.66" y="977.3" width="0.9" height="13.7" fill="#000" opacity="0.12"/><rect x="557.06" y="977.3" width="0.9" height="13.7" fill="#000" opacity="0.12"/><rect x="564.17" y="977.3" width="0.9" height="13.7" fill="#000" opacity="0.12"/><rect x="572.7" y="977.3" width="0.9" height="13.7" fill="#000" opacity="0.12"/><rect x="581.24" y="977.3" width="0.9" height="13.7" fill="#000" opacity="0.12"/><rect x="591.19" y="977.3" width="0.9" height="13.7" fill="#000" opacity="0.12"/><rect x="599.72" y="977.3" width="0.9" height="13.7" fill="#000" opacity="0.12"/><rect x="609.68" y="977.3" width="0.9" height="13.7" fill="#000" opacity="0.12"/><rect x="618.21" y="977.3" width="0.9" height="13.7" fill="#000" opacity="0.12"/>
<path d="M527.3 924.7V977.3M527.9 924.7V977.3M528.5 924.7V977.3M529.1 924.7V977.3M529.7 924.7V977.3M532 924.7V977.3M532.8 924.7V977.3M533.6 924.7V977.3M536.8 924.7V977.3M540.3 924.7V977.3M543.9 924.7V977.3M550.4 924.7V977.3M555.4 924.7V977.3M566.7 924.7V977.3M569.8 924.7V977.3M570.5 924.7V977.3M571.2 924.7V977.3M571.9 924.7V977.3M572.6 924.7V977.3M573.3 924.7V977.3M588.7 924.7V977.3M589.9 924.7V977.3M591.1 924.7V977.3M594.1 924.7V977.3M603.7 924.7V977.3M606.8 924.7V977.3M612.4 924.7V977.3M616.5 924.7V977.3M626.3 924.7V977.3M633.6 924.7V977.3M636 924.7V977.3M639.9 924.7V977.3M651.1 924.7V977.3M656.1 924.7V977.3M672.6 924.7V977.3M714 924.7V977.3M759.8 924.7V977.3" stroke="#1a1a1a" stroke-width="1.1" fill="none"/>
<polyline points="527.3,915.1 527.9,886.1 529.7,886.7 530,873.7 531.2,874.3 532,862.5 533.2,840.1 536.2,841.8 537.1,831.2 539.5,833 540.3,822.9 543,825.3 543.9,815.2 550.1,819.4 550.9,810.5 554.8,813.5 555.7,796.9 566.3,804.6 567.5,797.5 569.3,798.6 570.4,791.6 572.2,784.5 573.4,775.7 588.4,786 589.9,781 592.9,778 594.3,769.8 603.5,776 604.7,772.7 607.1,766.8 611.8,769.8 612.4,766.8 615.3,769.2 616.5,766.8 626.5,772.1 633.6,776 636.6,775.1 640.1,776.6 672,796.3 672.6,795.5 712.8,822.1 714,816.2 758.5,846 759.8,833.8 882.7,914.4" fill="none" stroke="#0e0" stroke-width="2.4" stroke-linejoin="round"/>
<rect x="527.2" y="759.5" width="373.7" height="163.7" fill="none" stroke="#a0a0a0" stroke-width="1.1"/>
<rect x="527.2" y="923.2" width="373.7" height="67.8" fill="none" stroke="#a0a0a0" stroke-width="1.1"/>
<line x1="527.2" y1="977.3" x2="900.9" y2="977.3" stroke="#b0b0b0" stroke-width="0.8"/>
<rect x="527.2" y="991" width="373.7" height="108.4" fill="none" stroke="#a0a0a0" stroke-width="1.1"/>
<line x1="524.2" y1="914.4" x2="527.2" y2="914.4" stroke="#888" stroke-width="1"/>
<text x="522.2" y="918.6" font-size="11.5" font-family="'Liberation Sans',Arial,sans-serif" text-anchor="end" fill="#555">0.0</text>
<line x1="524.2" y1="891.2" x2="527.2" y2="891.2" stroke="#888" stroke-width="1"/>
<text x="522.2" y="895.4" font-size="11.5" font-family="'Liberation Sans',Arial,sans-serif" text-anchor="end" fill="#555">0.1</text>
<line x1="524.2" y1="868" x2="527.2" y2="868" stroke="#888" stroke-width="1"/>
<text x="522.2" y="872.2" font-size="11.5" font-family="'Liberation Sans',Arial,sans-serif" text-anchor="end" fill="#555">0.2</text>
<line x1="524.2" y1="844.8" x2="527.2" y2="844.8" stroke="#888" stroke-width="1"/>
<text x="522.2" y="849" font-size="11.5" font-family="'Liberation Sans',Arial,sans-serif" text-anchor="end" fill="#555">0.3</text>
<line x1="524.2" y1="821.6" x2="527.2" y2="821.6" stroke="#888" stroke-width="1"/>
<text x="522.2" y="825.8" font-size="11.5" font-family="'Liberation Sans',Arial,sans-serif" text-anchor="end" fill="#555">0.4</text>
<line x1="524.2" y1="798.4" x2="527.2" y2="798.4" stroke="#888" stroke-width="1"/>
<text x="522.2" y="802.6" font-size="11.5" font-family="'Liberation Sans',Arial,sans-serif" text-anchor="end" fill="#555">0.5</text>
<line x1="524.2" y1="775.2" x2="527.2" y2="775.2" stroke="#888" stroke-width="1"/>
<text x="522.2" y="779.4" font-size="11.5" font-family="'Liberation Sans',Arial,sans-serif" text-anchor="end" fill="#555">0.6</text>
<line x1="524.2" y1="1021.5" x2="527.2" y2="1021.5" stroke="#888" stroke-width="1"/>
<text x="522.2" y="1024.9" font-size="9.6" font-family="'Liberation Sans',Arial,sans-serif" text-anchor="end" fill="#333">0.0</text>
<line x1="524.2" y1="1055.9" x2="527.2" y2="1055.9" stroke="#888" stroke-width="1"/>
<text x="522.2" y="1059.3" font-size="9.6" font-family="'Liberation Sans',Arial,sans-serif" text-anchor="end" fill="#333">-0.5</text>
<line x1="524.2" y1="1090.3" x2="527.2" y2="1090.3" stroke="#888" stroke-width="1"/>
<text x="522.2" y="1093.7" font-size="9.6" font-family="'Liberation Sans',Arial,sans-serif" text-anchor="end" fill="#333">-1.0</text>
<line x1="527.2" y1="1099.4" x2="527.2" y2="1101.9" stroke="#888" stroke-width="1"/>
<text x="527.2" y="1113.2" font-size="9.1" font-family="'Liberation Sans',Arial,sans-serif" text-anchor="middle" fill="#333">0</text>
<line x1="562.75" y1="1099.4" x2="562.75" y2="1101.9" stroke="#888" stroke-width="1"/>
<text x="562.75" y="1113.2" font-size="9.1" font-family="'Liberation Sans',Arial,sans-serif" text-anchor="middle" fill="#333">500</text>
<line x1="598.3" y1="1099.4" x2="598.3" y2="1101.9" stroke="#888" stroke-width="1"/>
<text x="598.3" y="1113.2" font-size="9.1" font-family="'Liberation Sans',Arial,sans-serif" text-anchor="middle" fill="#333">1,000</text>
<line x1="633.85" y1="1099.4" x2="633.85" y2="1101.9" stroke="#888" stroke-width="1"/>
<text x="633.85" y="1113.2" font-size="9.1" font-family="'Liberation Sans',Arial,sans-serif" text-anchor="middle" fill="#333">1,500</text>
<line x1="669.4" y1="1099.4" x2="669.4" y2="1101.9" stroke="#888" stroke-width="1"/>
<text x="669.4" y="1113.2" font-size="9.1" font-family="'Liberation Sans',Arial,sans-serif" text-anchor="middle" fill="#333">2,000</text>
<line x1="704.95" y1="1099.4" x2="704.95" y2="1101.9" stroke="#888" stroke-width="1"/>
<text x="704.95" y="1113.2" font-size="9.1" font-family="'Liberation Sans',Arial,sans-serif" text-anchor="middle" fill="#333">2,500</text>
<line x1="740.5" y1="1099.4" x2="740.5" y2="1101.9" stroke="#888" stroke-width="1"/>
<text x="740.5" y="1113.2" font-size="9.1" font-family="'Liberation Sans',Arial,sans-serif" text-anchor="middle" fill="#333">3,000</text>
<line x1="776.05" y1="1099.4" x2="776.05" y2="1101.9" stroke="#888" stroke-width="1"/>
<text x="776.05" y="1113.2" font-size="9.1" font-family="'Liberation Sans',Arial,sans-serif" text-anchor="middle" fill="#333">3,500</text>
<line x1="811.6" y1="1099.4" x2="811.6" y2="1101.9" stroke="#888" stroke-width="1"/>
<text x="811.6" y="1113.2" font-size="9.1" font-family="'Liberation Sans',Arial,sans-serif" text-anchor="middle" fill="#333">4,000</text>
<line x1="847.15" y1="1099.4" x2="847.15" y2="1101.9" stroke="#888" stroke-width="1"/>
<text x="847.15" y="1113.2" font-size="9.1" font-family="'Liberation Sans',Arial,sans-serif" text-anchor="middle" fill="#333">4,500</text>
<line x1="882.7" y1="1099.4" x2="882.7" y2="1101.9" stroke="#888" stroke-width="1"/>
<text x="882.7" y="1113.2" font-size="9.1" font-family="'Liberation Sans',Arial,sans-serif" text-anchor="middle" fill="#333">5,000</text>
<text x="714.05" y="1129" font-size="10.8" font-family="'Liberation Sans',Arial,sans-serif" text-anchor="middle" fill="#222">Rank in Ordered Dataset</text>
<text transform="translate(499.9 841.35) rotate(-90)" font-size="13.3" font-family="'Liberation Sans',Arial,sans-serif" text-anchor="middle" fill="#222">Enrichment score (ES)</text>
<text transform="translate(499.2 1045.2) rotate(-90)" font-size="10.8" font-family="'Liberation Sans',Arial,sans-serif" text-anchor="middle" fill="#222">Ranked list metric (Signal2Noise)</text>
<text x="526.7" y="1001.2" font-size="10.8" font-family="'Liberation Serif','Times New Roman',serif" fill="#ff4040">‘Cluster A’(positively correlated)</text>
<text x="858.2" y="1095.8" font-size="10.8" font-family="'Liberation Serif','Times New Roman',serif" text-anchor="end" fill="#4040ff">‘Cluster B’(negatively correlated)</text>
<rect x="544" y="1140.2" width="295.8" height="21.6" fill="#fff" stroke="#333" stroke-width="1.2"/>
<line x1="546.5" y1="1151.5" x2="559.2" y2="1151.5" stroke="#0e0" stroke-width="2"/>
<text x="562.7" y="1155" font-size="10.8" font-family="'Liberation Sans',Arial,sans-serif" fill="#222">Enrichment profile</text>
<line x1="654.5" y1="1151.5" x2="665.9" y2="1151.5" stroke="#666" stroke-width="1.5"/>
<text x="669.7" y="1155" font-size="10.8" font-family="'Liberation Sans',Arial,sans-serif" fill="#222">Hits</text>
<line x1="714.2" y1="1151.5" x2="726.9" y2="1151.5" stroke="#ddd" stroke-width="1.5"/>
<text x="730.2" y="1155" font-size="10.8" font-family="'Liberation Sans',Arial,sans-serif" fill="#222">Ranking metric scores</text>
<rect x="909.1" y="730.4" width="429.9" height="430.1" fill="#f0f0f0"/>
<text x="1122.2" y="746" font-size="15.5" font-family="'Liberation Sans',Arial,sans-serif" text-anchor="middle" font-weight="bold">Enrichment plot:</text>
<text x="1123.7" y="768.9" font-size="15.5" font-family="'Liberation Sans',Arial,sans-serif" text-anchor="middle" font-weight="bold">REACTOME_MITOTIC_METAPHASE_AND_ANAPHASE</text>
<rect x="959.3" y="779.3" width="372.9" height="316.2" fill="#fff"/>
<path d="M994.79 779.3V931M994.79 994.7V1095.5M1030.28 779.3V931M1030.28 994.7V1095.5M1065.77 779.3V931M1065.77 994.7V1095.5M1101.26 779.3V931M1101.26 994.7V1095.5M1136.75 779.3V931M1136.75 994.7V1095.5M1172.24 779.3V931M1172.24 994.7V1095.5M1207.73 779.3V931M1207.73 994.7V1095.5M1243.22 779.3V931M1243.22 994.7V1095.5M1278.71 779.3V931M1278.71 994.7V1095.5M1314.2 779.3V931M1314.2 994.7V1095.5M959.3 898.9H1332.2M959.3 875.1H1332.2M959.3 851.3H1332.2M959.3 827.5H1332.2M959.3 803.7H1332.2M959.3 1022.8H1332.2M959.3 1055.25H1332.2M959.3 1087.7H1332.2" stroke="#d4d4d4" stroke-width="0.9" stroke-dasharray="2 2" fill="none"/>
<line x1="959.3" y1="922.7" x2="1332.2" y2="922.7" stroke="#888" stroke-width="1.1"/>
<polygon points="959.3,1022.8 959.3,1002.03 961.07,1004.79 962.85,1005.6 964.62,1006.41 966.4,1007.22 968.17,1007.63 969.95,1008.04 971.72,1008.44 973.5,1008.85 975.27,1009.25 977.04,1009.66 978.82,1010.06 980.59,1010.47 982.37,1010.71 984.14,1010.96 985.92,1011.2 987.69,1011.44 989.47,1011.69 991.24,1011.93 993.02,1012.17 994.79,1012.42 996.56,1012.63 998.34,1012.84 1000.11,1013.05 1001.89,1013.26 1003.66,1013.47 1005.44,1013.68 1007.21,1013.89 1008.99,1014.1 1010.76,1014.31 1012.53,1014.53 1014.31,1014.74 1016.08,1014.95 1017.86,1015.16 1019.63,1015.37 1021.41,1015.58 1023.18,1015.79 1024.96,1016 1026.73,1016.21 1028.51,1016.42 1030.28,1016.63 1032.05,1016.81 1033.83,1016.99 1035.6,1017.17 1037.38,1017.35 1039.15,1017.53 1040.93,1017.71 1042.7,1017.88 1044.48,1018.06 1046.25,1018.24 1048.03,1018.42 1049.8,1018.6 1051.57,1018.78 1053.35,1018.95 1055.12,1019.13 1056.9,1019.31 1058.67,1019.49 1060.45,1019.67 1062.22,1019.85 1064,1020.03 1065.77,1020.2 1067.54,1020.44 1069.32,1020.67 1071.09,1020.9 1072.87,1021.13 1074.64,1021.37 1076.42,1021.6 1078.19,1021.83 1079.97,1022.06 1081.74,1022.3 1083.51,1022.53 1085.29,1022.76 1087.06,1022.99 1088.84,1023.21 1090.61,1023.43 1092.39,1023.65 1094.16,1023.87 1095.94,1024.09 1097.71,1024.31 1099.49,1024.53 1101.26,1024.75 1103.03,1024.91 1104.81,1025.07 1106.58,1025.23 1108.36,1025.4 1110.13,1025.56 1111.91,1025.72 1113.68,1025.88 1115.46,1026.04 1117.23,1026.21 1119.01,1026.37 1120.78,1026.53 1122.55,1026.69 1124.33,1026.86 1126.1,1027.02 1127.88,1027.18 1129.65,1027.34 1131.43,1027.51 1133.2,1027.67 1134.98,1027.83 1136.75,1027.99 1138.52,1028.3 1140.3,1028.61 1142.07,1028.92 1143.85,1029.23 1145.62,1029.53 1147.4,1029.84 1149.17,1030.15 1150.95,1030.46 1152.72,1030.77 1154.49,1031.07 1156.27,1031.38 1158.04,1031.69 1159.82,1032 1161.59,1032.31 1163.37,1032.62 1165.14,1032.92 1166.92,1033.23 1168.69,1033.54 1170.47,1033.85 1172.24,1034.16 1174.01,1034.47 1175.79,1034.77 1177.56,1035.08 1179.34,1035.39 1181.11,1035.7 1182.89,1036.01 1184.66,1036.32 1186.44,1036.62 1188.21,1036.93 1189.99,1037.24 1191.76,1037.55 1193.53,1037.86 1195.31,1038.17 1197.08,1038.47 1198.86,1038.78 1200.63,1039.09 1202.41,1039.4 1204.18,1039.71 1205.96,1040.01 1207.73,1040.32 1209.5,1040.66 1211.28,1041 1213.05,1041.35 1214.83,1041.69 1216.6,1042.03 1218.38,1042.37 1220.15,1042.71 1221.93,1043.05 1223.7,1043.39 1225.47,1043.73 1227.25,1044.07 1229.02,1044.41 1230.8,1044.75 1232.57,1045.09 1234.35,1045.43 1236.12,1045.77 1237.9,1046.12 1239.67,1046.46 1241.45,1046.8 1243.22,1047.14 1244.99,1047.51 1246.77,1047.88 1248.54,1048.26 1250.32,1048.63 1252.09,1049 1253.87,1049.38 1255.64,1049.75 1257.42,1050.12 1259.19,1050.5 1260.97,1050.87 1262.74,1051.24 1264.51,1051.62 1266.29,1051.99 1268.06,1052.36 1269.84,1052.74 1271.61,1053.11 1273.39,1053.48 1275.16,1053.85 1276.94,1054.23 1278.71,1054.6 1280.48,1055.25 1282.26,1055.9 1284.03,1056.55 1285.81,1057.2 1287.58,1057.85 1289.36,1058.49 1291.13,1059.14 1292.91,1059.79 1294.68,1060.77 1296.45,1061.74 1298.23,1062.71 1300,1063.69 1301.78,1065.55 1303.55,1067.42 1305.33,1069.28 1307.1,1071.15 1308.88,1074.88 1310.65,1078.61 1312.43,1083.48 1314.2,1092.24 1313.14,1086.4 1313.63,1089.13 1313.99,1091.07 1314.2,1092.24 1314.2,1022.8" fill="#c0c0c0"/>
<line x1="1085.57" y1="994.7" x2="1085.57" y2="1095.5" stroke="#aaa" stroke-width="1" stroke-dasharray="4 3"/>
<text x="1085.57" y="1047.8" font-size="8.2" font-family="'Liberation Sans',Arial,sans-serif" text-anchor="middle" fill="#222">Zero cross at 1779</text>
<defs><linearGradient id="cbr2" x1="0" x2="1"><stop offset="0" stop-color="#b00000"/><stop offset="0.45" stop-color="#dd3333"/><stop offset="1" stop-color="#f24a4a"/></linearGradient></defs>
<rect x="959.3" y="982" width="21.59" height="12.7" fill="url(#cbr2)"/><rect x="980.59" y="982" width="34.37" height="12.7" fill="#f55"/><rect x="1014.66" y="982" width="23.01" height="12.7" fill="#f66a78"/><rect x="1037.38" y="982" width="23.37" height="12.7" fill="#f78888"/><rect x="1060.45" y="982" width="25" height="12.7" fill="#fbbfe6"/><rect x="1085.15" y="982" width="47.22" height="12.7" fill="#d6d6fb"/><rect x="1132.07" y="982" width="40.55" height="12.7" fill="#c6c0f8"/><rect x="1172.31" y="982" width="35.01" height="12.7" fill="#8888ff"/><rect x="1207.02" y="982" width="66.31" height="12.7" fill="#6a5ae8"/><rect x="1273.03" y="982" width="30.47" height="12.7" fill="#2a08d0"/><rect x="1303.2" y="982" width="11.3" height="12.7" fill="#4a10a8"/><rect x="962.14" y="982" width="0.9" height="12.7" fill="#000" opacity="0.12"/><rect x="967.82" y="982" width="0.9" height="12.7" fill="#000" opacity="0.12"/><rect x="971.37" y="982" width="0.9" height="12.7" fill="#000" opacity="0.12"/><rect x="977.75" y="982" width="0.9" height="12.7" fill="#000" opacity="0.12"/><rect x="982.72" y="982" width="0.9" height="12.7" fill="#000" opacity="0.12"/><rect x="989.11" y="982" width="0.9" height="12.7" fill="#000" opacity="0.12"/><rect x="996.21" y="982" width="0.9" height="12.7" fill="#000" opacity="0.12"/><rect x="1004.73" y="982" width="0.9" height="12.7" fill="#000" opacity="0.12"/><rect x="1013.24" y="982" width="0.9" height="12.7" fill="#000" opacity="0.12"/><rect x="1023.18" y="982" width="0.9" height="12.7" fill="#000" opacity="0.12"/><rect x="1031.7" y="982" width="0.9" height="12.7" fill="#000" opacity="0.12"/><rect x="1041.64" y="982" width="0.9" height="12.7" fill="#000" opacity="0.12"/><rect x="1050.15" y="982" width="0.9" height="12.7" fill="#000" opacity="0.12"/>
<path d="M960.3 932.5V982M960.9 932.5V982M961.5 932.5V982M962.1 932.5V982M962.7 932.5V982M963.3 932.5V982M965.4 932.5V982M966.1 932.5V982M966.8 932.5V982M968.9 932.5V982M969.6 932.5V982M970.3 932.5V982M971 932.5V982M973 932.5V982M973.7 932.5V982M974.4 932.5V982M975.1 932.5V982M975.8 932.5V982M981 932.5V982M986.3 932.5V982M991.9 932.5V982M995.2 932.5V982M1000.5 932.5V982M1007 932.5V982M1010.3 932.5V982M1026.5 932.5V982M1028.2 932.5V982M1035.3 932.5V982M1036.1 932.5V982M1036.9 932.5V982M1037.7 932.5V982M1038.5 932.5V982M1042.7 932.5V982M1048.9 932.5V982M1058.7 932.5V982M1062.3 932.5V982M1074.6 932.5V982M1078.1 932.5V982M1083 932.5V982M1087.9 932.5V982M1089 932.5V982M1090.3 932.5V982M1093.5 932.5V982M1101.5 932.5V982M1132.2 932.5V982M1144 932.5V982M1175.5 932.5V982M1176.5 932.5V982M1218.3 932.5V982M1261.7 932.5V982M1266.4 932.5V982" stroke="#1a1a1a" stroke-width="1.1" fill="none"/>
<polyline points="960,923.8 960.7,909.7 961.9,896.7 963,885.5 965.4,886 966.8,864.8 968.2,858.9 969.4,860 970.4,829.3 972.7,830.5 973.9,827 974.5,816.3 975.3,803.4 976.3,798 980.4,801 981.6,792.7 985.1,795.7 986.3,791.5 991,795.1 992.8,788.6 995.4,786.2 1000.5,789.8 1001.1,786.6 1006.4,790.4 1010.5,786.8 1025.9,797.2 1028.8,794.5 1034.1,798.6 1036.5,793.3 1040.1,792.1 1043.6,793.9 1048.3,796.3 1057.8,801.6 1063.1,803.4 1073.1,810.4 1077.9,812.2 1093.2,821.7 1101.5,827 1131,847.1 1132.8,843.8 1142.8,850.6 1144.6,848.2 1175.5,869.4 1177.3,860.3 1217.6,888.4 1219.1,880.6 1261.2,909.7 1261.7,898 1265.1,901.9 1266.4,890.2 1314.2,922.7" fill="none" stroke="#0e0" stroke-width="2.4" stroke-linejoin="round"/>
<rect x="959.3" y="779.3" width="372.9" height="151.7" fill="none" stroke="#a0a0a0" stroke-width="1.1"/>
<rect x="959.3" y="931" width="372.9" height="63.7" fill="none" stroke="#a0a0a0" stroke-width="1.1"/>
<line x1="959.3" y1="982" x2="1332.2" y2="982" stroke="#b0b0b0" stroke-width="0.8"/>
<rect x="959.3" y="994.7" width="372.9" height="100.8" fill="none" stroke="#a0a0a0" stroke-width="1.1"/>
<line x1="956.3" y1="922.7" x2="959.3" y2="922.7" stroke="#888" stroke-width="1"/>
<text x="954.3" y="926.9" font-size="11.5" font-family="'Liberation Sans',Arial,sans-serif" text-anchor="end" fill="#555">0.0</text>
<line x1="956.3" y1="898.9" x2="959.3" y2="898.9" stroke="#888" stroke-width="1"/>
<text x="954.3" y="903.1" font-size="11.5" font-family="'Liberation Sans',Arial,sans-serif" text-anchor="end" fill="#555">0.1</text>
<line x1="956.3" y1="875.1" x2="959.3" y2="875.1" stroke="#888" stroke-width="1"/>
<text x="954.3" y="879.3" font-size="11.5" font-family="'Liberation Sans',Arial,sans-serif" text-anchor="end" fill="#555">0.2</text>
<line x1="956.3" y1="851.3" x2="959.3" y2="851.3" stroke="#888" stroke-width="1"/>
<text x="954.3" y="855.5" font-size="11.5" font-family="'Liberation Sans',Arial,sans-serif" text-anchor="end" fill="#555">0.3</text>
<line x1="956.3" y1="827.5" x2="959.3" y2="827.5" stroke="#888" stroke-width="1"/>
<text x="954.3" y="831.7" font-size="11.5" font-family="'Liberation Sans',Arial,sans-serif" text-anchor="end" fill="#555">0.4</text>
<line x1="956.3" y1="803.7" x2="959.3" y2="803.7" stroke="#888" stroke-width="1"/>
<text x="954.3" y="807.9" font-size="11.5" font-family="'Liberation Sans',Arial,sans-serif" text-anchor="end" fill="#555">0.5</text>
<line x1="956.3" y1="779.9" x2="959.3" y2="779.9" stroke="#888" stroke-width="1"/>
<text x="954.3" y="784.1" font-size="11.5" font-family="'Liberation Sans',Arial,sans-serif" text-anchor="end" fill="#555">0.6</text>
<line x1="956.3" y1="1022.8" x2="959.3" y2="1022.8" stroke="#888" stroke-width="1"/>
<text x="954.3" y="1026.2" font-size="9.6" font-family="'Liberation Sans',Arial,sans-serif" text-anchor="end" fill="#333">0.0</text>
<line x1="956.3" y1="1055.25" x2="959.3" y2="1055.25" stroke="#888" stroke-width="1"/>
<text x="954.3" y="1058.65" font-size="9.6" font-family="'Liberation Sans',Arial,sans-serif" text-anchor="end" fill="#333">-0.5</text>
<line x1="956.3" y1="1087.7" x2="959.3" y2="1087.7" stroke="#888" stroke-width="1"/>
<text x="954.3" y="1091.1" font-size="9.6" font-family="'Liberation Sans',Arial,sans-serif" text-anchor="end" fill="#333">-1.0</text>
<line x1="959.3" y1="1095.5" x2="959.3" y2="1098" stroke="#888" stroke-width="1"/>
<text x="959.3" y="1109.3" font-size="9.1" font-family="'Liberation Sans',Arial,sans-serif" text-anchor="middle" fill="#333">0</text>
<line x1="994.79" y1="1095.5" x2="994.79" y2="1098" stroke="#888" stroke-width="1"/>
<text x="994.79" y="1109.3" font-size="9.1" font-family="'Liberation Sans',Arial,sans-serif" text-anchor="middle" fill="#333">500</text>
<line x1="1030.28" y1="1095.5" x2="1030.28" y2="1098" stroke="#888" stroke-width="1"/>
<text x="1030.28" y="1109.3" font-size="9.1" font-family="'Liberation Sans',Arial,sans-serif" text-anchor="middle" fill="#333">1,000</text>
<line x1="1065.77" y1="1095.5" x2="1065.77" y2="1098" stroke="#888" stroke-width="1"/>
<text x="1065.77" y="1109.3" font-size="9.1" font-family="'Liberation Sans',Arial,sans-serif" text-anchor="middle" fill="#333">1,500</text>
<line x1="1101.26" y1="1095.5" x2="1101.26" y2="1098" stroke="#888" stroke-width="1"/>
<text x="1101.26" y="1109.3" font-size="9.1" font-family="'Liberation Sans',Arial,sans-serif" text-anchor="middle" fill="#333">2,000</text>
<line x1="1136.75" y1="1095.5" x2="1136.75" y2="1098" stroke="#888" stroke-width="1"/>
<text x="1136.75" y="1109.3" font-size="9.1" font-family="'Liberation Sans',Arial,sans-serif" text-anchor="middle" fill="#333">2,500</text>
<line x1="1172.24" y1="1095.5" x2="1172.24" y2="1098" stroke="#888" stroke-width="1"/>
<text x="1172.24" y="1109.3" font-size="9.1" font-family="'Liberation Sans',Arial,sans-serif" text-anchor="middle" fill="#333">3,000</text>
<line x1="1207.73" y1="1095.5" x2="1207.73" y2="1098" stroke="#888" stroke-width="1"/>
<text x="1207.73" y="1109.3" font-size="9.1" font-family="'Liberation Sans',Arial,sans-serif" text-anchor="middle" fill="#333">3,500</text>
<line x1="1243.22" y1="1095.5" x2="1243.22" y2="1098" stroke="#888" stroke-width="1"/>
<text x="1243.22" y="1109.3" font-size="9.1" font-family="'Liberation Sans',Arial,sans-serif" text-anchor="middle" fill="#333">4,000</text>
<line x1="1278.71" y1="1095.5" x2="1278.71" y2="1098" stroke="#888" stroke-width="1"/>
<text x="1278.71" y="1109.3" font-size="9.1" font-family="'Liberation Sans',Arial,sans-serif" text-anchor="middle" fill="#333">4,500</text>
<line x1="1314.2" y1="1095.5" x2="1314.2" y2="1098" stroke="#888" stroke-width="1"/>
<text x="1314.2" y="1109.3" font-size="9.1" font-family="'Liberation Sans',Arial,sans-serif" text-anchor="middle" fill="#333">5,000</text>
<text x="1145.75" y="1125.1" font-size="10.8" font-family="'Liberation Sans',Arial,sans-serif" text-anchor="middle" fill="#222">Rank in Ordered Dataset</text>
<text transform="translate(932 855.15) rotate(-90)" font-size="13.3" font-family="'Liberation Sans',Arial,sans-serif" text-anchor="middle" fill="#222">Enrichment score (ES)</text>
<text transform="translate(931.3 1045.1) rotate(-90)" font-size="10.8" font-family="'Liberation Sans',Arial,sans-serif" text-anchor="middle" fill="#222">Ranked list metric (Signal2Noise)</text>
<text x="958.8" y="1004.9" font-size="10.8" font-family="'Liberation Serif','Times New Roman',serif" fill="#ff4040">‘Cluster A’(positively correlated)</text>
<text x="1289.7" y="1091.9" font-size="10.8" font-family="'Liberation Serif','Times New Roman',serif" text-anchor="end" fill="#4040ff">‘Cluster B’(negatively correlated)</text>
<rect x="976" y="1137" width="295.6" height="21.7" fill="#fff" stroke="#333" stroke-width="1.2"/>
<line x1="978.5" y1="1148.35" x2="991.2" y2="1148.35" stroke="#0e0" stroke-width="2"/>
<text x="994.7" y="1151.85" font-size="10.8" font-family="'Liberation Sans',Arial,sans-serif" fill="#222">Enrichment profile</text>
<line x1="1086.5" y1="1148.35" x2="1097.9" y2="1148.35" stroke="#666" stroke-width="1.5"/>
<text x="1101.7" y="1151.85" font-size="10.8" font-family="'Liberation Sans',Arial,sans-serif" fill="#222">Hits</text>
<line x1="1146.2" y1="1148.35" x2="1158.9" y2="1148.35" stroke="#ddd" stroke-width="1.5"/>
<text x="1162.2" y="1151.85" font-size="10.8" font-family="'Liberation Sans',Arial,sans-serif" fill="#222">Ranking metric scores</text>
<rect x="1341.9" y="729.9" width="428.6" height="431.9" fill="#f0f0f0"/>
<text x="1556.8" y="746" font-size="15.5" font-family="'Liberation Sans',Arial,sans-serif" text-anchor="middle" font-weight="bold">Enrichment plot:</text>
<text x="1558.8" y="768.9" font-size="15.5" font-family="'Liberation Sans',Arial,sans-serif" text-anchor="middle" font-weight="bold">REACTOME_MITOTIC_SPINDLE_CHECKPOINT</text>
<rect x="1392.5" y="779.8" width="376.1" height="318.2" fill="#fff"/>
<path d="M1428.29 779.8V933M1428.29 996.8V1098M1464.08 779.8V933M1464.08 996.8V1098M1499.87 779.8V933M1499.87 996.8V1098M1535.66 779.8V933M1535.66 996.8V1098M1571.45 779.8V933M1571.45 996.8V1098M1607.24 779.8V933M1607.24 996.8V1098M1643.03 779.8V933M1643.03 996.8V1098M1678.82 779.8V933M1678.82 996.8V1098M1714.61 779.8V933M1714.61 996.8V1098M1750.4 779.8V933M1750.4 996.8V1098M1392.5 905.5H1768.6M1392.5 886.2H1768.6M1392.5 866.9H1768.6M1392.5 847.6H1768.6M1392.5 828.3H1768.6M1392.5 809H1768.6M1392.5 789.7H1768.6M1392.5 1025.4H1768.6M1392.5 1057.85H1768.6M1392.5 1090.3H1768.6" stroke="#d4d4d4" stroke-width="0.9" stroke-dasharray="2 2" fill="none"/>
<line x1="1392.5" y1="924.8" x2="1768.6" y2="924.8" stroke="#888" stroke-width="1.1"/>
<polygon points="1392.5,1025.4 1392.5,1004.63 1394.29,1007.39 1396.08,1008.2 1397.87,1009.01 1399.66,1009.82 1401.45,1010.23 1403.24,1010.64 1405.03,1011.04 1406.82,1011.45 1408.61,1011.85 1410.39,1012.26 1412.18,1012.66 1413.97,1013.07 1415.76,1013.31 1417.55,1013.56 1419.34,1013.8 1421.13,1014.04 1422.92,1014.29 1424.71,1014.53 1426.5,1014.77 1428.29,1015.02 1430.08,1015.23 1431.87,1015.44 1433.66,1015.65 1435.45,1015.86 1437.24,1016.07 1439.03,1016.28 1440.82,1016.49 1442.61,1016.7 1444.4,1016.91 1446.18,1017.13 1447.97,1017.34 1449.76,1017.55 1451.55,1017.76 1453.34,1017.97 1455.13,1018.18 1456.92,1018.39 1458.71,1018.6 1460.5,1018.81 1462.29,1019.02 1464.08,1019.23 1465.87,1019.41 1467.66,1019.59 1469.45,1019.77 1471.24,1019.95 1473.03,1020.13 1474.82,1020.31 1476.61,1020.48 1478.4,1020.66 1480.19,1020.84 1481.97,1021.02 1483.76,1021.2 1485.55,1021.38 1487.34,1021.55 1489.13,1021.73 1490.92,1021.91 1492.71,1022.09 1494.5,1022.27 1496.29,1022.45 1498.08,1022.63 1499.87,1022.8 1501.66,1023.04 1503.45,1023.27 1505.24,1023.5 1507.03,1023.73 1508.82,1023.97 1510.61,1024.2 1512.4,1024.43 1514.19,1024.66 1515.98,1024.9 1517.77,1025.13 1519.55,1025.36 1521.34,1025.59 1523.13,1025.81 1524.92,1026.03 1526.71,1026.25 1528.5,1026.47 1530.29,1026.69 1532.08,1026.91 1533.87,1027.13 1535.66,1027.35 1537.45,1027.51 1539.24,1027.67 1541.03,1027.83 1542.82,1028 1544.61,1028.16 1546.4,1028.32 1548.19,1028.48 1549.98,1028.64 1551.77,1028.81 1553.56,1028.97 1555.34,1029.13 1557.13,1029.29 1558.92,1029.46 1560.71,1029.62 1562.5,1029.78 1564.29,1029.94 1566.08,1030.11 1567.87,1030.27 1569.66,1030.43 1571.45,1030.59 1573.24,1030.9 1575.03,1031.21 1576.82,1031.52 1578.61,1031.83 1580.4,1032.13 1582.19,1032.44 1583.98,1032.75 1585.77,1033.06 1587.56,1033.37 1589.35,1033.67 1591.13,1033.98 1592.92,1034.29 1594.71,1034.6 1596.5,1034.91 1598.29,1035.22 1600.08,1035.52 1601.87,1035.83 1603.66,1036.14 1605.45,1036.45 1607.24,1036.76 1609.03,1037.07 1610.82,1037.37 1612.61,1037.68 1614.4,1037.99 1616.19,1038.3 1617.98,1038.61 1619.77,1038.92 1621.56,1039.22 1623.35,1039.53 1625.13,1039.84 1626.92,1040.15 1628.71,1040.46 1630.5,1040.77 1632.29,1041.07 1634.08,1041.38 1635.87,1041.69 1637.66,1042 1639.45,1042.31 1641.24,1042.61 1643.03,1042.92 1644.82,1043.26 1646.61,1043.6 1648.4,1043.95 1650.19,1044.29 1651.98,1044.63 1653.77,1044.97 1655.56,1045.31 1657.35,1045.65 1659.14,1045.99 1660.93,1046.33 1662.71,1046.67 1664.5,1047.01 1666.29,1047.35 1668.08,1047.69 1669.87,1048.03 1671.66,1048.37 1673.45,1048.72 1675.24,1049.06 1677.03,1049.4 1678.82,1049.74 1680.61,1050.11 1682.4,1050.48 1684.19,1050.86 1685.98,1051.23 1687.77,1051.6 1689.56,1051.98 1691.35,1052.35 1693.14,1052.72 1694.93,1053.1 1696.72,1053.47 1698.5,1053.84 1700.29,1054.22 1702.08,1054.59 1703.87,1054.96 1705.66,1055.34 1707.45,1055.71 1709.24,1056.08 1711.03,1056.45 1712.82,1056.83 1714.61,1057.2 1716.4,1057.85 1718.19,1058.5 1719.98,1059.15 1721.77,1059.8 1723.56,1060.45 1725.35,1061.1 1727.14,1061.74 1728.93,1062.39 1730.72,1063.37 1732.51,1064.34 1734.29,1065.31 1736.08,1066.29 1737.87,1068.15 1739.66,1070.02 1741.45,1071.88 1743.24,1073.75 1745.03,1077.48 1746.82,1081.21 1748.61,1086.08 1750.4,1094.84 1749.33,1089 1749.83,1091.73 1750.19,1093.67 1750.4,1094.84 1750.4,1025.4" fill="#c0c0c0"/>
<line x1="1519.84" y1="996.8" x2="1519.84" y2="1098" stroke="#aaa" stroke-width="1" stroke-dasharray="4 3"/>
<text x="1519.84" y="1050.4" font-size="8.2" font-family="'Liberation Sans',Arial,sans-serif" text-anchor="middle" fill="#222">Zero cross at 1779</text>
<defs><linearGradient id="cbr3" x1="0" x2="1"><stop offset="0" stop-color="#b00000"/><stop offset="0.45" stop-color="#dd3333"/><stop offset="1" stop-color="#f24a4a"/></linearGradient></defs>
<rect x="1392.5" y="984.3" width="21.77" height="12.5" fill="url(#cbr3)"/><rect x="1413.97" y="984.3" width="34.66" height="12.5" fill="#f55"/><rect x="1448.33" y="984.3" width="23.21" height="12.5" fill="#f66a78"/><rect x="1471.24" y="984.3" width="23.56" height="12.5" fill="#f78888"/><rect x="1494.5" y="984.3" width="25.21" height="12.5" fill="#fbbfe6"/><rect x="1519.41" y="984.3" width="47.61" height="12.5" fill="#d6d6fb"/><rect x="1566.73" y="984.3" width="40.89" height="12.5" fill="#c6c0f8"/><rect x="1607.31" y="984.3" width="35.3" height="12.5" fill="#8888ff"/><rect x="1642.31" y="984.3" width="66.87" height="12.5" fill="#6a5ae8"/><rect x="1708.88" y="984.3" width="30.72" height="12.5" fill="#2a08d0"/><rect x="1739.31" y="984.3" width="11.39" height="12.5" fill="#4a10a8"/><rect x="1395.36" y="984.3" width="0.9" height="12.5" fill="#000" opacity="0.12"/><rect x="1401.09" y="984.3" width="0.9" height="12.5" fill="#000" opacity="0.12"/><rect x="1404.67" y="984.3" width="0.9" height="12.5" fill="#000" opacity="0.12"/><rect x="1411.11" y="984.3" width="0.9" height="12.5" fill="#000" opacity="0.12"/><rect x="1416.12" y="984.3" width="0.9" height="12.5" fill="#000" opacity="0.12"/><rect x="1422.56" y="984.3" width="0.9" height="12.5" fill="#000" opacity="0.12"/><rect x="1429.72" y="984.3" width="0.9" height="12.5" fill="#000" opacity="0.12"/><rect x="1438.31" y="984.3" width="0.9" height="12.5" fill="#000" opacity="0.12"/><rect x="1446.9" y="984.3" width="0.9" height="12.5" fill="#000" opacity="0.12"/><rect x="1456.92" y="984.3" width="0.9" height="12.5" fill="#000" opacity="0.12"/><rect x="1465.51" y="984.3" width="0.9" height="12.5" fill="#000" opacity="0.12"/><rect x="1475.53" y="984.3" width="0.9" height="12.5" fill="#000" opacity="0.12"/><rect x="1484.12" y="984.3" width="0.9" height="12.5" fill="#000" opacity="0.12"/>
<path d="M1393.3 934.5V984.3M1393.9 934.5V984.3M1394.5 934.5V984.3M1395.1 934.5V984.3M1395.7 934.5V984.3M1396.3 934.5V984.3M1396.9 934.5V984.3M1399.2 934.5V984.3M1400.2 934.5V984.3M1401.2 934.5V984.3M1402.2 934.5V984.3M1404 934.5V984.3M1409 934.5V984.3M1414.9 934.5V984.3M1419.9 934.5V984.3M1424.6 934.5V984.3M1425.5 934.5V984.3M1426.4 934.5V984.3M1428.8 934.5V984.3M1440.9 934.5V984.3M1443.9 934.5V984.3M1471.6 934.5V984.3M1476.8 934.5V984.3M1512.6 934.5V984.3M1567.6 934.5V984.3M1612.1 934.5V984.3M1702.3 934.5V984.3" stroke="#1a1a1a" stroke-width="1.1" fill="none"/>
<polyline points="1393.3,925 1394.1,908.5 1395.3,892 1396.5,877.8 1398.9,878.4 1399.8,858.9 1401,851.8 1402.7,852.4 1403.9,840 1404.5,821.1 1408.7,823.4 1409,806 1414,808.7 1414.9,797.7 1419.3,800.4 1420.1,795.1 1424.6,797.7 1425.8,789.2 1428.8,786.2 1440.6,792.7 1441.8,789.2 1444.7,787 1470.7,801.6 1471.9,799.2 1476,801.9 1477.8,800.4 1512,819.3 1535.1,831.7 1567,848.8 1568.2,846.5 1612.1,870.2 1612.7,864.2 1701,912.3 1702.3,898 1750.4,924.8" fill="none" stroke="#0e0" stroke-width="2.4" stroke-linejoin="round"/>
<rect x="1392.5" y="779.8" width="376.1" height="153.2" fill="none" stroke="#a0a0a0" stroke-width="1.1"/>
<rect x="1392.5" y="933" width="376.1" height="63.8" fill="none" stroke="#a0a0a0" stroke-width="1.1"/>
<line x1="1392.5" y1="984.3" x2="1768.6" y2="984.3" stroke="#b0b0b0" stroke-width="0.8"/>
<rect x="1392.5" y="996.8" width="376.1" height="101.2" fill="none" stroke="#a0a0a0" stroke-width="1.1"/>
<line x1="1389.5" y1="924.8" x2="1392.5" y2="924.8" stroke="#888" stroke-width="1"/>
<text x="1387.5" y="929" font-size="11.5" font-family="'Liberation Sans',Arial,sans-serif" text-anchor="end" fill="#555">0.0</text>
<line x1="1389.5" y1="905.5" x2="1392.5" y2="905.5" stroke="#888" stroke-width="1"/>
<text x="1387.5" y="909.7" font-size="11.5" font-family="'Liberation Sans',Arial,sans-serif" text-anchor="end" fill="#555">0.1</text>
<line x1="1389.5" y1="886.2" x2="1392.5" y2="886.2" stroke="#888" stroke-width="1"/>
<text x="1387.5" y="890.4" font-size="11.5" font-family="'Liberation Sans',Arial,sans-serif" text-anchor="end" fill="#555">0.2</text>
<line x1="1389.5" y1="866.9" x2="1392.5" y2="866.9" stroke="#888" stroke-width="1"/>
<text x="1387.5" y="871.1" font-size="11.5" font-family="'Liberation Sans',Arial,sans-serif" text-anchor="end" fill="#555">0.3</text>
<line x1="1389.5" y1="847.6" x2="1392.5" y2="847.6" stroke="#888" stroke-width="1"/>
<text x="1387.5" y="851.8" font-size="11.5" font-family="'Liberation Sans',Arial,sans-serif" text-anchor="end" fill="#555">0.4</text>
<line x1="1389.5" y1="828.3" x2="1392.5" y2="828.3" stroke="#888" stroke-width="1"/>
<text x="1387.5" y="832.5" font-size="11.5" font-family="'Liberation Sans',Arial,sans-serif" text-anchor="end" fill="#555">0.5</text>
<line x1="1389.5" y1="809" x2="1392.5" y2="809" stroke="#888" stroke-width="1"/>
<text x="1387.5" y="813.2" font-size="11.5" font-family="'Liberation Sans',Arial,sans-serif" text-anchor="end" fill="#555">0.6</text>
<line x1="1389.5" y1="789.7" x2="1392.5" y2="789.7" stroke="#888" stroke-width="1"/>
<text x="1387.5" y="793.9" font-size="11.5" font-family="'Liberation Sans',Arial,sans-serif" text-anchor="end" fill="#555">0.7</text>
<line x1="1389.5" y1="1025.4" x2="1392.5" y2="1025.4" stroke="#888" stroke-width="1"/>
<text x="1387.5" y="1028.8" font-size="9.6" font-family="'Liberation Sans',Arial,sans-serif" text-anchor="end" fill="#333">0.0</text>
<line x1="1389.5" y1="1057.85" x2="1392.5" y2="1057.85" stroke="#888" stroke-width="1"/>
<text x="1387.5" y="1061.25" font-size="9.6" font-family="'Liberation Sans',Arial,sans-serif" text-anchor="end" fill="#333">-0.5</text>
<line x1="1389.5" y1="1090.3" x2="1392.5" y2="1090.3" stroke="#888" stroke-width="1"/>
<text x="1387.5" y="1093.7" font-size="9.6" font-family="'Liberation Sans',Arial,sans-serif" text-anchor="end" fill="#333">-1.0</text>
<line x1="1392.5" y1="1098" x2="1392.5" y2="1100.5" stroke="#888" stroke-width="1"/>
<text x="1392.5" y="1111.8" font-size="9.1" font-family="'Liberation Sans',Arial,sans-serif" text-anchor="middle" fill="#333">0</text>
<line x1="1428.29" y1="1098" x2="1428.29" y2="1100.5" stroke="#888" stroke-width="1"/>
<text x="1428.29" y="1111.8" font-size="9.1" font-family="'Liberation Sans',Arial,sans-serif" text-anchor="middle" fill="#333">500</text>
<line x1="1464.08" y1="1098" x2="1464.08" y2="1100.5" stroke="#888" stroke-width="1"/>
<text x="1464.08" y="1111.8" font-size="9.1" font-family="'Liberation Sans',Arial,sans-serif" text-anchor="middle" fill="#333">1,000</text>
<line x1="1499.87" y1="1098" x2="1499.87" y2="1100.5" stroke="#888" stroke-width="1"/>
<text x="1499.87" y="1111.8" font-size="9.1" font-family="'Liberation Sans',Arial,sans-serif" text-anchor="middle" fill="#333">1,500</text>
<line x1="1535.66" y1="1098" x2="1535.66" y2="1100.5" stroke="#888" stroke-width="1"/>
<text x="1535.66" y="1111.8" font-size="9.1" font-family="'Liberation Sans',Arial,sans-serif" text-anchor="middle" fill="#333">2,000</text>
<line x1="1571.45" y1="1098" x2="1571.45" y2="1100.5" stroke="#888" stroke-width="1"/>
<text x="1571.45" y="1111.8" font-size="9.1" font-family="'Liberation Sans',Arial,sans-serif" text-anchor="middle" fill="#333">2,500</text>
<line x1="1607.24" y1="1098" x2="1607.24" y2="1100.5" stroke="#888" stroke-width="1"/>
<text x="1607.24" y="1111.8" font-size="9.1" font-family="'Liberation Sans',Arial,sans-serif" text-anchor="middle" fill="#333">3,000</text>
<line x1="1643.03" y1="1098" x2="1643.03" y2="1100.5" stroke="#888" stroke-width="1"/>
<text x="1643.03" y="1111.8" font-size="9.1" font-family="'Liberation Sans',Arial,sans-serif" text-anchor="middle" fill="#333">3,500</text>
<line x1="1678.82" y1="1098" x2="1678.82" y2="1100.5" stroke="#888" stroke-width="1"/>
<text x="1678.82" y="1111.8" font-size="9.1" font-family="'Liberation Sans',Arial,sans-serif" text-anchor="middle" fill="#333">4,000</text>
<line x1="1714.61" y1="1098" x2="1714.61" y2="1100.5" stroke="#888" stroke-width="1"/>
<text x="1714.61" y="1111.8" font-size="9.1" font-family="'Liberation Sans',Arial,sans-serif" text-anchor="middle" fill="#333">4,500</text>
<line x1="1750.4" y1="1098" x2="1750.4" y2="1100.5" stroke="#888" stroke-width="1"/>
<text x="1750.4" y="1111.8" font-size="9.1" font-family="'Liberation Sans',Arial,sans-serif" text-anchor="middle" fill="#333">5,000</text>
<text x="1580.55" y="1127.6" font-size="10.8" font-family="'Liberation Sans',Arial,sans-serif" text-anchor="middle" fill="#222">Rank in Ordered Dataset</text>
<text transform="translate(1365.2 856.4) rotate(-90)" font-size="13.3" font-family="'Liberation Sans',Arial,sans-serif" text-anchor="middle" fill="#222">Enrichment score (ES)</text>
<text transform="translate(1364.5 1047.4) rotate(-90)" font-size="10.8" font-family="'Liberation Sans',Arial,sans-serif" text-anchor="middle" fill="#222">Ranked list metric (Signal2Noise)</text>
<text x="1392" y="1007" font-size="10.8" font-family="'Liberation Serif','Times New Roman',serif" fill="#ff4040">‘Cluster A’(positively correlated)</text>
<text x="1725.9" y="1094.4" font-size="10.8" font-family="'Liberation Serif','Times New Roman',serif" text-anchor="end" fill="#4040ff">‘Cluster B’(negatively correlated)</text>
<rect x="1409.4" y="1139.7" width="298.1" height="22.1" fill="#fff" stroke="#333" stroke-width="1.2"/>
<line x1="1411.9" y1="1151.25" x2="1424.6" y2="1151.25" stroke="#0e0" stroke-width="2"/>
<text x="1428.1" y="1154.75" font-size="10.8" font-family="'Liberation Sans',Arial,sans-serif" fill="#222">Enrichment profile</text>
<line x1="1519.9" y1="1151.25" x2="1531.3" y2="1151.25" stroke="#666" stroke-width="1.5"/>
<text x="1535.1" y="1154.75" font-size="10.8" font-family="'Liberation Sans',Arial,sans-serif" fill="#222">Hits</text>
<line x1="1579.6" y1="1151.25" x2="1592.3" y2="1151.25" stroke="#ddd" stroke-width="1.5"/>
<text x="1595.6" y="1154.75" font-size="10.8" font-family="'Liberation Sans',Arial,sans-serif" fill="#222">Ranking metric scores</text>
<g stroke="#0066ff" fill="none" stroke-width="2.8"><path d="M107.8 1414.49V1466.08M107.8 1502.66V1549.56"/></g>
<g stroke="#0066ff" fill="#fff" stroke-width="2.8"><rect x="102.8" y="1466.08" width="10" height="36.58"/></g>
<path d="M102.8 1485.77H112.8" stroke="#0066ff" stroke-width="5.2"/>
<g stroke="#ff9900" fill="none" stroke-width="2.8"><path d="M119.6 1403.23V1442.63M119.6 1480.15V1521.42"/></g>
<g stroke="#ff9900" fill="#fff" stroke-width="2.8"><rect x="114.6" y="1442.63" width="10" height="37.52"/></g>
<path d="M114.6 1457.63H124.6" stroke="#ff9900" stroke-width="5.2"/>
<g fill="#ff9900"><circle cx="119.6" cy="1361.96" r="3.5"/></g>
<g stroke="#0066ff" fill="none" stroke-width="2.8"><path d="M137.24 1395.73V1442.16M137.24 1477.33V1516.73"/></g>
<g stroke="#0066ff" fill="#fff" stroke-width="2.8"><rect x="132.24" y="1442.16" width="10" height="35.17"/></g>
<path d="M132.24 1463.26H142.24" stroke="#0066ff" stroke-width="5.2"/>
<g fill="#0066ff"><circle cx="137.24" cy="1297.24" r="3.5"/><circle cx="137.24" cy="1352.11" r="3.5"/><circle cx="137.24" cy="1374.62" r="3.5"/></g>
<g stroke="#ff9900" fill="none" stroke-width="2.8"><path d="M149.04 1407.45V1452.01M149.04 1485.77V1532.67"/></g>
<g stroke="#ff9900" fill="#fff" stroke-width="2.8"><rect x="144.04" y="1452.01" width="10" height="33.77"/></g>
<path d="M144.04 1469.83H154.04" stroke="#ff9900" stroke-width="5.2"/>
<g fill="#ff9900"><circle cx="149.04" cy="1565.5" r="3.5"/></g>
<g stroke="#0066ff" fill="none" stroke-width="2.8"><path d="M166.68 1420.11V1460.92M166.68 1505V1549.56"/></g>
<g stroke="#0066ff" fill="#fff" stroke-width="2.8"><rect x="161.68" y="1460.92" width="10" height="44.09"/></g>
<path d="M161.68 1482.02H171.68" stroke="#0066ff" stroke-width="5.2"/>
<g fill="#0066ff"><circle cx="166.68" cy="1376.5" r="3.5"/><circle cx="166.68" cy="1387.75" r="3.5"/><circle cx="166.68" cy="1574.41" r="3.5"/></g>
<g stroke="#ff9900" fill="none" stroke-width="2.8"><path d="M178.48 1442.16V1480.61M178.48 1515.79V1547.68"/></g>
<g stroke="#ff9900" fill="#fff" stroke-width="2.8"><rect x="173.48" y="1480.61" width="10" height="35.18"/></g>
<path d="M173.48 1494.68H183.48" stroke="#ff9900" stroke-width="5.2"/>
<g stroke="#0066ff" fill="none" stroke-width="2.8"><path d="M196.12 1331.47V1376.03M196.12 1417.77V1456.7"/></g>
<g stroke="#0066ff" fill="#fff" stroke-width="2.8"><rect x="191.12" y="1376.03" width="10" height="41.74"/></g>
<path d="M191.12 1397.6H201.12" stroke="#0066ff" stroke-width="5.2"/>
<g fill="#0066ff"><circle cx="196.12" cy="1310.84" r="3.5"/></g>
<g stroke="#ff9900" fill="none" stroke-width="2.8"><path d="M207.92 1352.11V1387.75M207.92 1412.14V1442.63"/></g>
<g stroke="#ff9900" fill="#fff" stroke-width="2.8"><rect x="202.92" y="1387.75" width="10" height="24.39"/></g>
<path d="M202.92 1400.42H212.92" stroke="#ff9900" stroke-width="5.2"/>
<g fill="#ff9900"><circle cx="207.92" cy="1341.32" r="3.5"/><circle cx="207.92" cy="1345.07" r="3.5"/><circle cx="207.92" cy="1450.13" r="3.5"/></g>
<g stroke="#0066ff" fill="none" stroke-width="2.8"><path d="M225.56 1366.65V1409.8M225.56 1478.27V1570.66"/></g>
<g stroke="#0066ff" fill="#fff" stroke-width="2.8"><rect x="220.56" y="1409.8" width="10" height="68.47"/></g>
<path d="M220.56 1437H230.56" stroke="#0066ff" stroke-width="5.2"/>
<g stroke="#ff9900" fill="none" stroke-width="2.8"><path d="M237.36 1365.24V1407.92M237.36 1453.88V1507.35"/></g>
<g stroke="#ff9900" fill="#fff" stroke-width="2.8"><rect x="232.36" y="1407.92" width="10" height="45.96"/></g>
<path d="M232.36 1431.37H242.36" stroke="#ff9900" stroke-width="5.2"/>
<g stroke="#0066ff" fill="none" stroke-width="2.8"><path d="M255 1342.73V1402.76M255 1450.13V1519.54"/></g>
<g stroke="#0066ff" fill="#fff" stroke-width="2.8"><rect x="250" y="1402.76" width="10" height="47.37"/></g>
<path d="M250 1427.62H260" stroke="#0066ff" stroke-width="5.2"/>
<g fill="#0066ff"><circle cx="255" cy="1524.23" r="3.5"/><circle cx="255" cy="1527.98" r="3.5"/><circle cx="255" cy="1539.24" r="3.5"/><circle cx="255" cy="1548.62" r="3.5"/><circle cx="255" cy="1578.17" r="3.5"/></g>
<g stroke="#ff9900" fill="none" stroke-width="2.8"><path d="M266.8 1376.5V1427.62M266.8 1498.91V1551.43"/></g>
<g stroke="#ff9900" fill="#fff" stroke-width="2.8"><rect x="261.8" y="1427.62" width="10" height="71.29"/></g>
<path d="M261.8 1459.51H271.8" stroke="#ff9900" stroke-width="5.2"/>
<g stroke="#0066ff" fill="none" stroke-width="2.8"><path d="M284.44 1317.4V1375.56M284.44 1415.42V1465.14"/></g>
<g stroke="#0066ff" fill="#fff" stroke-width="2.8"><rect x="279.44" y="1375.56" width="10" height="39.87"/></g>
<path d="M279.44 1392.91H289.44" stroke="#0066ff" stroke-width="5.2"/>
<g fill="#0066ff"><circle cx="284.44" cy="1294.42" r="3.5"/><circle cx="284.44" cy="1307.55" r="3.5"/><circle cx="284.44" cy="1311.31" r="3.5"/></g>
<g stroke="#ff9900" fill="none" stroke-width="2.8"><path d="M296.24 1337.1V1378.84M296.24 1414.49V1452.01"/></g>
<g stroke="#ff9900" fill="#fff" stroke-width="2.8"><rect x="291.24" y="1378.84" width="10" height="35.64"/></g>
<path d="M291.24 1394.79H301.24" stroke="#ff9900" stroke-width="5.2"/>
<g fill="#ff9900"><circle cx="296.24" cy="1298.64" r="3.5"/></g>
<g stroke="#0066ff" fill="none" stroke-width="2.8"><path d="M313.88 1420.11V1476.39M313.88 1513.91V1564.57"/></g>
<g stroke="#0066ff" fill="#fff" stroke-width="2.8"><rect x="308.88" y="1476.39" width="10" height="37.52"/></g>
<path d="M308.88 1493.28H318.88" stroke="#0066ff" stroke-width="5.2"/>
<g fill="#0066ff"><circle cx="313.88" cy="1406.98" r="3.5"/><circle cx="313.88" cy="1578.17" r="3.5"/><circle cx="313.88" cy="1580.98" r="3.5"/></g>
<g stroke="#ff9900" fill="none" stroke-width="2.8"><path d="M325.68 1436.06V1481.08M325.68 1522.36V1567.38"/></g>
<g stroke="#ff9900" fill="#fff" stroke-width="2.8"><rect x="320.68" y="1481.08" width="10" height="41.27"/></g>
<path d="M320.68 1502.66H330.68" stroke="#ff9900" stroke-width="5.2"/>
<g fill="#ff9900"><circle cx="325.68" cy="1406.51" r="3.5"/><circle cx="325.68" cy="1415.42" r="3.5"/></g>
<g stroke="#0066ff" fill="none" stroke-width="2.8"><path d="M343.32 1358.21V1423.4M343.32 1469.83V1532.67"/></g>
<g stroke="#0066ff" fill="#fff" stroke-width="2.8"><rect x="338.32" y="1423.4" width="10" height="46.43"/></g>
<path d="M338.32 1448.25H348.32" stroke="#0066ff" stroke-width="5.2"/>
<g fill="#0066ff"><circle cx="343.32" cy="1343.2" r="3.5"/><circle cx="343.32" cy="1559.88" r="3.5"/></g>
<g stroke="#ff9900" fill="none" stroke-width="2.8"><path d="M355.12 1368.05V1444.5M355.12 1501.25V1532.67"/></g>
<g stroke="#ff9900" fill="#fff" stroke-width="2.8"><rect x="350.12" y="1444.5" width="10" height="56.75"/></g>
<path d="M350.12 1469.36H360.12" stroke="#ff9900" stroke-width="5.2"/>
<g fill="#ff9900"><circle cx="355.12" cy="1359.61" r="3.5"/></g>
<g stroke="#0066ff" fill="none" stroke-width="2.8"><path d="M372.76 1452.01V1486.71M372.76 1517.67V1551.43"/></g>
<g stroke="#0066ff" fill="#fff" stroke-width="2.8"><rect x="367.76" y="1486.71" width="10" height="30.95"/></g>
<path d="M367.76 1502.66H377.76" stroke="#0066ff" stroke-width="5.2"/>
<g fill="#0066ff"><circle cx="372.76" cy="1425.74" r="3.5"/><circle cx="372.76" cy="1567.38" r="3.5"/></g>
<g stroke="#ff9900" fill="none" stroke-width="2.8"><path d="M384.56 1462.32V1491.4M384.56 1514.38V1540.18"/></g>
<g stroke="#ff9900" fill="#fff" stroke-width="2.8"><rect x="379.56" y="1491.4" width="10" height="22.98"/></g>
<path d="M379.56 1503.6H389.56" stroke="#ff9900" stroke-width="5.2"/>
<g fill="#ff9900"><circle cx="384.56" cy="1417.77" r="3.5"/><circle cx="384.56" cy="1449.19" r="3.5"/><circle cx="384.56" cy="1452.94" r="3.5"/></g>
<g stroke="#0066ff" fill="none" stroke-width="2.8"><path d="M402.2 1350.23V1398.07M402.2 1434.18V1482.96"/></g>
<g stroke="#0066ff" fill="#fff" stroke-width="2.8"><rect x="397.2" y="1398.07" width="10" height="36.11"/></g>
<path d="M397.2 1417.3H407.2" stroke="#0066ff" stroke-width="5.2"/>
<g fill="#0066ff"><circle cx="402.2" cy="1340.85" r="3.5"/></g>
<g stroke="#ff9900" fill="none" stroke-width="2.8"><path d="M414 1357.27V1405.11M414 1437.94V1473.58"/></g>
<g stroke="#ff9900" fill="#fff" stroke-width="2.8"><rect x="409" y="1405.11" width="10" height="32.83"/></g>
<path d="M409 1420.58H419" stroke="#ff9900" stroke-width="5.2"/>
<g stroke="#0066ff" fill="none" stroke-width="2.8"><path d="M431.64 1325.85V1388.69M431.64 1433.25V1499.84"/></g>
<g stroke="#0066ff" fill="#fff" stroke-width="2.8"><rect x="426.64" y="1388.69" width="10" height="44.56"/></g>
<path d="M426.64 1409.8H436.64" stroke="#0066ff" stroke-width="5.2"/>
<g fill="#0066ff"><circle cx="431.64" cy="1503.6" r="3.5"/><circle cx="431.64" cy="1506.41" r="3.5"/><circle cx="431.64" cy="1558.47" r="3.5"/></g>
<g stroke="#ff9900" fill="none" stroke-width="2.8"><path d="M443.44 1350.23V1414.49M443.44 1467.01V1540.18"/></g>
<g stroke="#ff9900" fill="#fff" stroke-width="2.8"><rect x="438.44" y="1414.49" width="10" height="52.53"/></g>
<path d="M438.44 1439.34H448.44" stroke="#ff9900" stroke-width="5.2"/>
<g stroke="#0066ff" fill="none" stroke-width="2.8"><path d="M461.08 1318.34V1366.18M461.08 1399.01V1443.56"/></g>
<g stroke="#0066ff" fill="#fff" stroke-width="2.8"><rect x="456.08" y="1366.18" width="10" height="32.83"/></g>
<path d="M456.08 1386.35H466.08" stroke="#0066ff" stroke-width="5.2"/>
<g fill="#0066ff"><circle cx="461.08" cy="1285.04" r="3.5"/><circle cx="461.08" cy="1295.83" r="3.5"/><circle cx="461.08" cy="1301.93" r="3.5"/><circle cx="461.08" cy="1305.68" r="3.5"/><circle cx="461.08" cy="1499.84" r="3.5"/><circle cx="461.08" cy="1506.41" r="3.5"/></g>
<g stroke="#ff9900" fill="none" stroke-width="2.8"><path d="M472.88 1310.37V1350.7M472.88 1381.66V1421.99"/></g>
<g stroke="#ff9900" fill="#fff" stroke-width="2.8"><rect x="467.88" y="1350.7" width="10" height="30.95"/></g>
<path d="M467.88 1362.9H477.88" stroke="#ff9900" stroke-width="5.2"/>
<g stroke="#0066ff" fill="none" stroke-width="2.8"><path d="M490.52 1453.88V1512.98M490.52 1551.43V1602.55"/></g>
<g stroke="#0066ff" fill="#fff" stroke-width="2.8"><rect x="485.52" y="1512.98" width="10" height="38.46"/></g>
<path d="M485.52 1529.86H495.52" stroke="#0066ff" stroke-width="5.2"/>
<g fill="#0066ff"><circle cx="490.52" cy="1453.88" r="3.5"/></g>
<g stroke="#ff9900" fill="none" stroke-width="2.8"><path d="M502.32 1472.64V1520.48M502.32 1557.06V1591.3"/></g>
<g stroke="#ff9900" fill="#fff" stroke-width="2.8"><rect x="497.32" y="1520.48" width="10" height="36.58"/></g>
<path d="M497.32 1536.43H507.32" stroke="#ff9900" stroke-width="5.2"/>
<g stroke="#0066ff" fill="none" stroke-width="2.8"><path d="M519.96 1316.46V1378.37M519.96 1420.58V1475.46"/></g>
<g stroke="#0066ff" fill="#fff" stroke-width="2.8"><rect x="514.96" y="1378.37" width="10" height="42.21"/></g>
<path d="M514.96 1398.54H524.96" stroke="#0066ff" stroke-width="5.2"/>
<g fill="#0066ff"><circle cx="519.96" cy="1299.11" r="3.5"/></g>
<g stroke="#ff9900" fill="none" stroke-width="2.8"><path d="M531.76 1318.81V1372.28M531.76 1408.39V1448.72"/></g>
<g stroke="#ff9900" fill="#fff" stroke-width="2.8"><rect x="526.76" y="1372.28" width="10" height="36.11"/></g>
<path d="M526.76 1385.41H536.76" stroke="#ff9900" stroke-width="5.2"/>
<g fill="#ff9900"><circle cx="531.76" cy="1298.17" r="3.5"/><circle cx="531.76" cy="1317.87" r="3.5"/></g>
<g stroke="#0066ff" fill="none" stroke-width="2.8"><path d="M549.4 1452.01V1478.27M549.4 1506.41V1542.05"/></g>
<g stroke="#0066ff" fill="#fff" stroke-width="2.8"><rect x="544.4" y="1478.27" width="10" height="28.14"/></g>
<path d="M544.4 1493.75H554.4" stroke="#0066ff" stroke-width="5.2"/>
<g fill="#0066ff"><circle cx="549.4" cy="1429.49" r="3.5"/></g>
<g stroke="#ff9900" fill="none" stroke-width="2.8"><path d="M561.2 1443.56V1474.52M561.2 1495.62V1526.11"/></g>
<g stroke="#ff9900" fill="#fff" stroke-width="2.8"><rect x="556.2" y="1474.52" width="10" height="21.11"/></g>
<path d="M556.2 1484.84H566.2" stroke="#ff9900" stroke-width="5.2"/>
<g stroke="#0066ff" fill="none" stroke-width="2.8"><path d="M578.84 1462.32V1495.15M578.84 1524.23V1561.75"/></g>
<g stroke="#0066ff" fill="#fff" stroke-width="2.8"><rect x="573.84" y="1495.15" width="10" height="29.08"/></g>
<path d="M573.84 1508.29H583.84" stroke="#0066ff" stroke-width="5.2"/>
<g fill="#0066ff"><circle cx="578.84" cy="1448.72" r="3.5"/></g>
<g stroke="#ff9900" fill="none" stroke-width="2.8"><path d="M590.64 1460.45V1493.28M590.64 1521.42V1556.12"/></g>
<g stroke="#ff9900" fill="#fff" stroke-width="2.8"><rect x="585.64" y="1493.28" width="10" height="28.14"/></g>
<path d="M585.64 1506.41H595.64" stroke="#ff9900" stroke-width="5.2"/>
<g fill="#ff9900"><circle cx="590.64" cy="1438.4" r="3.5"/><circle cx="590.64" cy="1450.13" r="3.5"/></g>
<g stroke="#0066ff" fill="none" stroke-width="2.8"><path d="M608.28 1349.76V1431.84M608.28 1558V1619.44"/></g>
<g stroke="#0066ff" fill="#fff" stroke-width="2.8"><rect x="603.28" y="1431.84" width="10" height="126.16"/></g>
<path d="M603.28 1501.72H613.28" stroke="#0066ff" stroke-width="5.2"/>
<g stroke="#ff9900" fill="none" stroke-width="2.8"><path d="M620.08 1392.91V1486.71M620.08 1565.5V1596.93"/></g>
<g stroke="#ff9900" fill="#fff" stroke-width="2.8"><rect x="615.08" y="1486.71" width="10" height="78.79"/></g>
<path d="M615.08 1528.92H625.08" stroke="#ff9900" stroke-width="5.2"/>
<g fill="#ff9900"><circle cx="620.08" cy="1350.7" r="3.5"/><circle cx="620.08" cy="1368.05" r="3.5"/></g>
<g stroke="#0066ff" fill="none" stroke-width="2.8"><path d="M637.72 1355.86V1403.23M637.72 1443.56V1496.09"/></g>
<g stroke="#0066ff" fill="#fff" stroke-width="2.8"><rect x="632.72" y="1403.23" width="10" height="40.33"/></g>
<path d="M632.72 1419.64H642.72" stroke="#0066ff" stroke-width="5.2"/>
<g fill="#0066ff"><circle cx="637.72" cy="1314.59" r="3.5"/></g>
<g stroke="#ff9900" fill="none" stroke-width="2.8"><path d="M649.52 1372.28V1407.92M649.52 1440.75V1473.58"/></g>
<g stroke="#ff9900" fill="#fff" stroke-width="2.8"><rect x="644.52" y="1407.92" width="10" height="32.83"/></g>
<path d="M644.52 1421.05H654.52" stroke="#ff9900" stroke-width="5.2"/>
<g stroke="#0066ff" fill="none" stroke-width="2.8"><path d="M667.16 1345.07V1412.14M667.16 1461.39V1527.05"/></g>
<g stroke="#0066ff" fill="#fff" stroke-width="2.8"><rect x="662.16" y="1412.14" width="10" height="49.25"/></g>
<path d="M662.16 1433.25H672.16" stroke="#0066ff" stroke-width="5.2"/>
<g fill="#0066ff"><circle cx="667.16" cy="1328.66" r="3.5"/><circle cx="667.16" cy="1539.71" r="3.5"/><circle cx="667.16" cy="1557.06" r="3.5"/></g>
<g stroke="#ff9900" fill="none" stroke-width="2.8"><path d="M678.96 1364.77V1409.8M678.96 1449.19V1496.09"/></g>
<g stroke="#ff9900" fill="#fff" stroke-width="2.8"><rect x="673.96" y="1409.8" width="10" height="39.4"/></g>
<path d="M673.96 1422.93H683.96" stroke="#ff9900" stroke-width="5.2"/>
<g stroke="#0066ff" fill="none" stroke-width="2.8"><path d="M696.6 1346.01V1384.47M696.6 1414.49V1455.76"/></g>
<g stroke="#0066ff" fill="#fff" stroke-width="2.8"><rect x="691.6" y="1384.47" width="10" height="30.02"/></g>
<path d="M691.6 1400.42H701.6" stroke="#0066ff" stroke-width="5.2"/>
<g fill="#0066ff"><circle cx="696.6" cy="1459.98" r="3.5"/></g>
<g stroke="#ff9900" fill="none" stroke-width="2.8"><path d="M708.4 1336.63V1383.06M708.4 1415.42V1451.07"/></g>
<g stroke="#ff9900" fill="#fff" stroke-width="2.8"><rect x="703.4" y="1383.06" width="10" height="32.36"/></g>
<path d="M703.4 1395.73H713.4" stroke="#ff9900" stroke-width="5.2"/>
<g stroke="#0066ff" fill="none" stroke-width="2.8"><path d="M726.04 1449.19V1483.9M726.04 1520.01V1557.06"/></g>
<g stroke="#0066ff" fill="#fff" stroke-width="2.8"><rect x="721.04" y="1483.9" width="10" height="36.11"/></g>
<path d="M721.04 1500.78H731.04" stroke="#0066ff" stroke-width="5.2"/>
<g stroke="#ff9900" fill="none" stroke-width="2.8"><path d="M737.84 1467.01V1491.4M737.84 1514.85V1540.18"/></g>
<g stroke="#ff9900" fill="#fff" stroke-width="2.8"><rect x="732.84" y="1491.4" width="10" height="23.45"/></g>
<path d="M732.84 1500.78H742.84" stroke="#ff9900" stroke-width="5.2"/>
<g stroke="#0066ff" fill="none" stroke-width="2.8"><path d="M755.48 1342.73V1408.39M755.48 1456.23V1528.92"/></g>
<g stroke="#0066ff" fill="#fff" stroke-width="2.8"><rect x="750.48" y="1408.39" width="10" height="47.84"/></g>
<path d="M750.48 1435.12H760.48" stroke="#0066ff" stroke-width="5.2"/>
<g fill="#0066ff"><circle cx="755.48" cy="1530.8" r="3.5"/></g>
<g stroke="#ff9900" fill="none" stroke-width="2.8"><path d="M767.28 1372.28V1420.11M767.28 1467.95V1514.85"/></g>
<g stroke="#ff9900" fill="#fff" stroke-width="2.8"><rect x="762.28" y="1420.11" width="10" height="47.84"/></g>
<path d="M762.28 1437.47H772.28" stroke="#ff9900" stroke-width="5.2"/>
<g stroke="#0066ff" fill="none" stroke-width="2.8"><path d="M784.92 1338.04V1383.53M784.92 1416.36V1455.29"/></g>
<g stroke="#0066ff" fill="#fff" stroke-width="2.8"><rect x="779.92" y="1383.53" width="10" height="32.83"/></g>
<path d="M779.92 1399.01H789.92" stroke="#0066ff" stroke-width="5.2"/>
<g fill="#0066ff"><circle cx="784.92" cy="1332.88" r="3.5"/></g>
<g stroke="#ff9900" fill="none" stroke-width="2.8"><path d="M796.72 1355.39V1384M796.72 1406.04V1433.71"/></g>
<g stroke="#ff9900" fill="#fff" stroke-width="2.8"><rect x="791.72" y="1384" width="10" height="22.04"/></g>
<path d="M791.72 1391.97H801.72" stroke="#ff9900" stroke-width="5.2"/>
<g stroke="#0066ff" fill="none" stroke-width="2.8"><path d="M814.36 1356.33V1447.78M814.36 1509.22V1581.45"/></g>
<g stroke="#0066ff" fill="#fff" stroke-width="2.8"><rect x="809.36" y="1447.78" width="10" height="61.44"/></g>
<path d="M809.36 1467.48H819.36" stroke="#0066ff" stroke-width="5.2"/>
<g stroke="#ff9900" fill="none" stroke-width="2.8"><path d="M826.16 1357.74V1427.62M826.16 1477.33V1545.81"/></g>
<g stroke="#ff9900" fill="#fff" stroke-width="2.8"><rect x="821.16" y="1427.62" width="10" height="49.71"/></g>
<path d="M821.16 1455.29H831.16" stroke="#ff9900" stroke-width="5.2"/>
<g fill="#ff9900"><circle cx="826.16" cy="1328.66" r="3.5"/><circle cx="826.16" cy="1343.2" r="3.5"/><circle cx="826.16" cy="1563.63" r="3.5"/></g>
<g stroke="#0066ff" fill="none" stroke-width="2.8"><path d="M843.8 1260.65V1328.66M843.8 1386.35V1460.92"/></g>
<g stroke="#0066ff" fill="#fff" stroke-width="2.8"><rect x="838.8" y="1328.66" width="10" height="57.69"/></g>
<path d="M838.8 1353.52H848.8" stroke="#0066ff" stroke-width="5.2"/>
<g fill="#0066ff"><circle cx="843.8" cy="1472.64" r="3.5"/><circle cx="843.8" cy="1487.18" r="3.5"/></g>
<g stroke="#ff9900" fill="none" stroke-width="2.8"><path d="M855.6 1266.28V1324.44M855.6 1366.18V1422.93"/></g>
<g stroke="#ff9900" fill="#fff" stroke-width="2.8"><rect x="850.6" y="1324.44" width="10" height="41.74"/></g>
<path d="M850.6 1340.38H860.6" stroke="#ff9900" stroke-width="5.2"/>
<g fill="#ff9900"><circle cx="855.6" cy="1431.84" r="3.5"/></g>
<path d="M95.9 1243V1637.2H866.5" fill="none" stroke="#000" stroke-width="3.4" stroke-linejoin="miter" stroke-linecap="square"/>
<text x="90.8" y="1284" font-size="21.5" font-family="'Liberation Serif','Times New Roman',serif" text-anchor="end">10</text>
<text x="90.8" y="1377.8" font-size="21.5" font-family="'Liberation Serif','Times New Roman',serif" text-anchor="end">8</text>
<text x="90.8" y="1471.6" font-size="21.5" font-family="'Liberation Serif','Times New Roman',serif" text-anchor="end">6</text>
<text x="90.8" y="1565.4" font-size="21.5" font-family="'Liberation Serif','Times New Roman',serif" text-anchor="end">4</text>
<path d="M92.3 1276.6H95.9M92.3 1370.4H95.9M92.3 1464.2H95.9M92.3 1558H95.9M113.7 1637.2V1640.8M143.14 1637.2V1640.8M172.58 1637.2V1640.8M202.02 1637.2V1640.8M231.46 1637.2V1640.8M260.9 1637.2V1640.8M290.34 1637.2V1640.8M319.78 1637.2V1640.8M349.22 1637.2V1640.8M378.66 1637.2V1640.8M408.1 1637.2V1640.8M437.54 1637.2V1640.8M466.98 1637.2V1640.8M496.42 1637.2V1640.8M525.86 1637.2V1640.8M555.3 1637.2V1640.8M584.74 1637.2V1640.8M614.18 1637.2V1640.8M643.62 1637.2V1640.8M673.06 1637.2V1640.8M702.5 1637.2V1640.8M731.94 1637.2V1640.8M761.38 1637.2V1640.8M790.82 1637.2V1640.8M820.26 1637.2V1640.8M849.7 1637.2V1640.8" stroke="#000" stroke-width="2.6"/>
<text transform="translate(131.3 1657) rotate(-45)" font-size="20" font-family="'Liberation Serif','Times New Roman',serif" text-anchor="end">ATM</text>
<text transform="translate(160.74 1657) rotate(-45)" font-size="20" font-family="'Liberation Serif','Times New Roman',serif" text-anchor="end">RAD9A</text>
<text transform="translate(190.18 1657) rotate(-45)" font-size="20" font-family="'Liberation Serif','Times New Roman',serif" text-anchor="end">CHEK2</text>
<text transform="translate(219.62 1657) rotate(-45)" font-size="20" font-family="'Liberation Serif','Times New Roman',serif" text-anchor="end">CDC34</text>
<text transform="translate(249.06 1657) rotate(-45)" font-size="20" font-family="'Liberation Serif','Times New Roman',serif" text-anchor="end">TP53</text>
<text transform="translate(278.5 1657) rotate(-45)" font-size="20" font-family="'Liberation Serif','Times New Roman',serif" text-anchor="end">MAD2L1</text>
<text transform="translate(307.94 1657) rotate(-45)" font-size="20" font-family="'Liberation Serif','Times New Roman',serif" text-anchor="end">MAD2L2</text>
<text transform="translate(337.38 1657) rotate(-45)" font-size="20" font-family="'Liberation Serif','Times New Roman',serif" text-anchor="end">BRCA1</text>
<text transform="translate(366.82 1657) rotate(-45)" font-size="20" font-family="'Liberation Serif','Times New Roman',serif" text-anchor="end">CHEK1</text>
<text transform="translate(396.26 1657) rotate(-45)" font-size="20" font-family="'Liberation Serif','Times New Roman',serif" text-anchor="end">RAD1</text>
<text transform="translate(425.7 1657) rotate(-45)" font-size="20" font-family="'Liberation Serif','Times New Roman',serif" text-anchor="end">CDK2</text>
<text transform="translate(455.14 1657) rotate(-45)" font-size="20" font-family="'Liberation Serif','Times New Roman',serif" text-anchor="end">CDKN3</text>
<text transform="translate(484.58 1657) rotate(-45)" font-size="20" font-family="'Liberation Serif','Times New Roman',serif" text-anchor="end">CDKN1B</text>
<text transform="translate(514.02 1657) rotate(-45)" font-size="20" font-family="'Liberation Serif','Times New Roman',serif" text-anchor="end">BRCA2</text>
<text transform="translate(543.46 1657) rotate(-45)" font-size="20" font-family="'Liberation Serif','Times New Roman',serif" text-anchor="end">GADD45A</text>
<text transform="translate(572.9 1657) rotate(-45)" font-size="20" font-family="'Liberation Serif','Times New Roman',serif" text-anchor="end">RAD17</text>
<text transform="translate(602.34 1657) rotate(-45)" font-size="20" font-family="'Liberation Serif','Times New Roman',serif" text-anchor="end">HUS1</text>
<text transform="translate(631.78 1657) rotate(-45)" font-size="20" font-family="'Liberation Serif','Times New Roman',serif" text-anchor="end">CDKN2A</text>
<text transform="translate(661.22 1657) rotate(-45)" font-size="20" font-family="'Liberation Serif','Times New Roman',serif" text-anchor="end">NBN</text>
<text transform="translate(690.66 1657) rotate(-45)" font-size="20" font-family="'Liberation Serif','Times New Roman',serif" text-anchor="end">RB1</text>
<text transform="translate(720.1 1657) rotate(-45)" font-size="20" font-family="'Liberation Serif','Times New Roman',serif" text-anchor="end">CUL2</text>
<text transform="translate(749.54 1657) rotate(-45)" font-size="20" font-family="'Liberation Serif','Times New Roman',serif" text-anchor="end">CUL3</text>
<text transform="translate(778.98 1657) rotate(-45)" font-size="20" font-family="'Liberation Serif','Times New Roman',serif" text-anchor="end">KNTC1</text>
<text transform="translate(808.42 1657) rotate(-45)" font-size="20" font-family="'Liberation Serif','Times New Roman',serif" text-anchor="end">CUL1</text>
<text transform="translate(837.86 1657) rotate(-45)" font-size="20" font-family="'Liberation Serif','Times New Roman',serif" text-anchor="end">CDKN2B</text>
<text transform="translate(867.3 1657) rotate(-45)" font-size="20" font-family="'Liberation Serif','Times New Roman',serif" text-anchor="end">CDKN1A</text>
<text x="121.3" y="1260.2" font-size="22" font-family="'Liberation Serif','Times New Roman',serif" text-anchor="middle" letter-spacing="0">***</text>
<text x="147.94" y="1260.2" font-size="22" font-family="'Liberation Serif','Times New Roman',serif" text-anchor="middle" letter-spacing="0">**</text>
<text x="180.18" y="1260.2" font-size="22" font-family="'Liberation Serif','Times New Roman',serif" text-anchor="middle" letter-spacing="0">***</text>
<text x="204.22" y="1260.2" font-size="22" font-family="'Liberation Serif','Times New Roman',serif" text-anchor="middle">ns</text>
<text x="233.66" y="1260.2" font-size="22" font-family="'Liberation Serif','Times New Roman',serif" text-anchor="middle">ns</text>
<text x="268.5" y="1260.2" font-size="22" font-family="'Liberation Serif','Times New Roman',serif" text-anchor="middle" letter-spacing="0">***</text>
<text x="292.54" y="1260.2" font-size="22" font-family="'Liberation Serif','Times New Roman',serif" text-anchor="middle">ns</text>
<text x="321.78" y="1260.2" font-size="22" font-family="'Liberation Serif','Times New Roman',serif" text-anchor="middle" letter-spacing="0">*</text>
<text x="356.82" y="1260.2" font-size="22" font-family="'Liberation Serif','Times New Roman',serif" text-anchor="middle" letter-spacing="0">***</text>
<text x="380.86" y="1260.2" font-size="22" font-family="'Liberation Serif','Times New Roman',serif" text-anchor="middle">ns</text>
<text x="410.3" y="1260.2" font-size="22" font-family="'Liberation Serif','Times New Roman',serif" text-anchor="middle">ns</text>
<text x="445.14" y="1260.2" font-size="22" font-family="'Liberation Serif','Times New Roman',serif" text-anchor="middle" letter-spacing="0">***</text>
<text x="474.58" y="1260.2" font-size="22" font-family="'Liberation Serif','Times New Roman',serif" text-anchor="middle" letter-spacing="0">***</text>
<text x="498.42" y="1260.2" font-size="22" font-family="'Liberation Serif','Times New Roman',serif" text-anchor="middle" letter-spacing="0">*</text>
<text x="530.66" y="1260.2" font-size="22" font-family="'Liberation Serif','Times New Roman',serif" text-anchor="middle" letter-spacing="0">**</text>
<text x="562.9" y="1260.2" font-size="22" font-family="'Liberation Serif','Times New Roman',serif" text-anchor="middle" letter-spacing="0">***</text>
<text x="586.94" y="1260.2" font-size="22" font-family="'Liberation Serif','Times New Roman',serif" text-anchor="middle">ns</text>
<text x="616.38" y="1260.2" font-size="22" font-family="'Liberation Serif','Times New Roman',serif" text-anchor="middle">ns</text>
<text x="645.82" y="1260.2" font-size="22" font-family="'Liberation Serif','Times New Roman',serif" text-anchor="middle">ns</text>
<text x="675.06" y="1260.2" font-size="22" font-family="'Liberation Serif','Times New Roman',serif" text-anchor="middle" letter-spacing="0">*</text>
<text x="704.7" y="1260.2" font-size="22" font-family="'Liberation Serif','Times New Roman',serif" text-anchor="middle">ns</text>
<text x="734.14" y="1260.2" font-size="22" font-family="'Liberation Serif','Times New Roman',serif" text-anchor="middle">ns</text>
<text x="763.38" y="1260.2" font-size="22" font-family="'Liberation Serif','Times New Roman',serif" text-anchor="middle" letter-spacing="0">*</text>
<text x="792.82" y="1260.2" font-size="22" font-family="'Liberation Serif','Times New Roman',serif" text-anchor="middle" letter-spacing="0">*</text>
<text x="827.86" y="1260.2" font-size="22" font-family="'Liberation Serif','Times New Roman',serif" text-anchor="middle" letter-spacing="0">***</text>
<text x="851.7" y="1260.2" font-size="22" font-family="'Liberation Serif','Times New Roman',serif" text-anchor="middle" letter-spacing="0">*</text>
<text transform="translate(64.2 1426.4) rotate(-90)" font-size="21.2" font-family="'Liberation Serif','Times New Roman',serif" text-anchor="middle">Gene expression</text>
<text x="386.5" y="1213.4" font-size="21.2" font-family="'Liberation Serif','Times New Roman',serif">Cluster</text>
<g stroke="#0066ff" stroke-width="3.2" fill="#fff"><path d="M460.2 1198V1201.2M460.2 1215.6V1218.8" stroke-width="2.6"/><rect x="451.8" y="1202.8" width="16.8" height="11.2" rx="1.5"/><path d="M451.8 1208.4H468.6" stroke-width="2.4"/></g>
<text x="476" y="1213.4" font-size="21.2" font-family="'Liberation Serif','Times New Roman',serif">Sub A</text>
<g stroke="#ff9900" stroke-width="3.2" fill="#fff"><path d="M543.9 1198V1201.2M543.9 1215.6V1218.8" stroke-width="2.6"/><rect x="535.5" y="1202.8" width="16.8" height="11.2" rx="1.5"/><path d="M535.5 1208.4H552.3" stroke-width="2.4"/></g>
<text x="559.8" y="1213.4" font-size="21.2" font-family="'Liberation Serif','Times New Roman',serif">Sub B</text>
<g stroke="#0066ff" fill="none" stroke-width="2.4"><path d="M953.7 1481.61V1523.45M953.7 1551.34V1589.78"/></g>
<g stroke="#0066ff" fill="#fff" stroke-width="2.4"><rect x="949.9" y="1523.45" width="7.6" height="27.89"/></g>
<path d="M949.9 1539.28H957.5" stroke="#0066ff" stroke-width="4.6"/>
<g stroke="#ff9900" fill="none" stroke-width="2.4"><path d="M961.5 1472.94V1504.22M961.5 1533.62V1566.04"/></g>
<g stroke="#ff9900" fill="#fff" stroke-width="2.4"><rect x="957.7" y="1504.22" width="7.6" height="29.4"/></g>
<path d="M957.7 1521.18H965.3" stroke="#ff9900" stroke-width="4.6"/>
<g fill="#ff9900"><circle cx="961.5" cy="1438.64" r="3.0"/></g>
<g stroke="#0066ff" fill="none" stroke-width="2.4"><path d="M973.29 1466.16V1504.22M973.29 1531.36V1562.64"/></g>
<g stroke="#0066ff" fill="#fff" stroke-width="2.4"><rect x="969.49" y="1504.22" width="7.6" height="27.14"/></g>
<path d="M969.49 1518.92H977.09" stroke="#0066ff" stroke-width="4.6"/>
<g fill="#0066ff"><circle cx="973.29" cy="1387.01" r="3.0"/><circle cx="973.29" cy="1430.73" r="3.0"/><circle cx="973.29" cy="1449.2" r="3.0"/></g>
<g stroke="#ff9900" fill="none" stroke-width="2.4"><path d="M981.09 1476.33V1511.01M981.09 1539.28V1576.21"/></g>
<g stroke="#ff9900" fill="#fff" stroke-width="2.4"><rect x="977.29" y="1511.01" width="7.6" height="28.27"/></g>
<path d="M977.29 1524.58H984.89" stroke="#ff9900" stroke-width="4.6"/>
<g fill="#ff9900"><circle cx="981.09" cy="1602.6" r="3.0"/></g>
<g stroke="#0066ff" fill="none" stroke-width="2.4"><path d="M992.87 1534.75V1572.82M992.87 1601.84V1644.43"/></g>
<g stroke="#0066ff" fill="#fff" stroke-width="2.4"><rect x="989.07" y="1572.82" width="7.6" height="29.02"/></g>
<path d="M989.07 1585.63H996.67" stroke="#0066ff" stroke-width="4.6"/>
<g fill="#0066ff"><circle cx="992.87" cy="1439.77" r="3.0"/><circle cx="992.87" cy="1483.12" r="3.0"/><circle cx="992.87" cy="1501.59" r="3.0"/><circle cx="992.87" cy="1504.22" r="3.0"/><circle cx="992.87" cy="1511.01" r="3.0"/><circle cx="992.87" cy="1523.07" r="3.0"/><circle cx="992.87" cy="1526.84" r="3.0"/><circle cx="992.87" cy="1530.23" r="3.0"/></g>
<g stroke="#ff9900" fill="none" stroke-width="2.4"><path d="M1000.67 1524.58V1561.51M1000.67 1592.8V1615.41"/></g>
<g stroke="#ff9900" fill="#fff" stroke-width="2.4"><rect x="996.87" y="1561.51" width="7.6" height="31.28"/></g>
<path d="M996.87 1573.95H1004.47" stroke="#ff9900" stroke-width="4.6"/>
<g fill="#ff9900"><circle cx="1000.67" cy="1512.52" r="3.0"/></g>
<g stroke="#0066ff" fill="none" stroke-width="2.4"><path d="M1012.46 1474.07V1516.66M1012.46 1546.81V1590.53"/></g>
<g stroke="#0066ff" fill="#fff" stroke-width="2.4"><rect x="1008.66" y="1516.66" width="7.6" height="30.15"/></g>
<path d="M1008.66 1536.64H1016.26" stroke="#0066ff" stroke-width="4.6"/>
<g fill="#0066ff"><circle cx="1012.46" cy="1461.26" r="3.0"/></g>
<g stroke="#ff9900" fill="none" stroke-width="2.4"><path d="M1020.26 1484.25V1517.79M1020.26 1543.42V1571.69"/></g>
<g stroke="#ff9900" fill="#fff" stroke-width="2.4"><rect x="1016.46" y="1517.79" width="7.6" height="25.63"/></g>
<path d="M1016.46 1530.23H1024.06" stroke="#ff9900" stroke-width="4.6"/>
<g fill="#ff9900"><circle cx="1020.26" cy="1581.87" r="3.0"/></g>
<g stroke="#0066ff" fill="none" stroke-width="2.4"><path d="M1032.05 1416.78V1455.98M1032.05 1487.64V1542.29"/></g>
<g stroke="#0066ff" fill="#fff" stroke-width="2.4"><rect x="1028.25" y="1455.98" width="7.6" height="31.66"/></g>
<path d="M1028.25 1470.68H1035.85" stroke="#0066ff" stroke-width="4.6"/>
<g fill="#0066ff"><circle cx="1032.05" cy="1559.25" r="3.0"/><circle cx="1032.05" cy="1582.62" r="3.0"/></g>
<g stroke="#ff9900" fill="none" stroke-width="2.4"><path d="M1039.85 1433.74V1476.33M1039.85 1526.84V1575.08"/></g>
<g stroke="#ff9900" fill="#fff" stroke-width="2.4"><rect x="1036.05" y="1476.33" width="7.6" height="50.5"/></g>
<path d="M1036.05 1495.18H1043.65" stroke="#ff9900" stroke-width="4.6"/>
<g stroke="#0066ff" fill="none" stroke-width="2.4"><path d="M1051.63 1368.54V1413.39M1051.63 1451.46V1490.66"/></g>
<g stroke="#0066ff" fill="#fff" stroke-width="2.4"><rect x="1047.84" y="1413.39" width="7.6" height="38.07"/></g>
<path d="M1047.84 1426.96H1055.43" stroke="#0066ff" stroke-width="4.6"/>
<g fill="#0066ff"><circle cx="1051.63" cy="1524.58" r="3.0"/></g>
<g stroke="#ff9900" fill="none" stroke-width="2.4"><path d="M1059.44 1373.06V1435.63M1059.44 1477.46V1514.4"/></g>
<g stroke="#ff9900" fill="#fff" stroke-width="2.4"><rect x="1055.64" y="1435.63" width="7.6" height="41.84"/></g>
<path d="M1055.64 1446.94H1063.24" stroke="#ff9900" stroke-width="4.6"/>
<g stroke="#0066ff" fill="none" stroke-width="2.4"><path d="M1071.22 1353.84V1391.91M1071.22 1424.7V1459.37"/></g>
<g stroke="#0066ff" fill="#fff" stroke-width="2.4"><rect x="1067.42" y="1391.91" width="7.6" height="32.79"/></g>
<path d="M1067.42 1405.48H1075.02" stroke="#0066ff" stroke-width="4.6"/>
<g stroke="#ff9900" fill="none" stroke-width="2.4"><path d="M1079.02 1366.28V1404.35M1079.02 1433.74V1458.24"/></g>
<g stroke="#ff9900" fill="#fff" stroke-width="2.4"><rect x="1075.22" y="1404.35" width="7.6" height="29.4"/></g>
<path d="M1075.22 1416.78H1082.82" stroke="#ff9900" stroke-width="4.6"/>
<g stroke="#0066ff" fill="none" stroke-width="2.4"><path d="M1090.81 1429.6V1463.14M1090.81 1491.79V1524.58"/></g>
<g stroke="#0066ff" fill="#fff" stroke-width="2.4"><rect x="1087.01" y="1463.14" width="7.6" height="28.64"/></g>
<path d="M1087.01 1474.07H1094.61" stroke="#0066ff" stroke-width="4.6"/>
<g stroke="#ff9900" fill="none" stroke-width="2.4"><path d="M1098.61 1408.87V1440.15M1098.61 1467.29V1495.18"/></g>
<g stroke="#ff9900" fill="#fff" stroke-width="2.4"><rect x="1094.81" y="1440.15" width="7.6" height="27.14"/></g>
<path d="M1094.81 1453.72H1102.41" stroke="#ff9900" stroke-width="4.6"/>
<g stroke="#0066ff" fill="none" stroke-width="2.4"><path d="M1110.4 1293.16V1347.06M1110.4 1392.66V1441.66"/></g>
<g stroke="#0066ff" fill="#fff" stroke-width="2.4"><rect x="1106.6" y="1347.06" width="7.6" height="45.6"/></g>
<path d="M1106.6 1369.67H1114.2" stroke="#0066ff" stroke-width="4.6"/>
<g fill="#0066ff"><circle cx="1110.4" cy="1251.7" r="3.0"/><circle cx="1110.4" cy="1275.45" r="3.0"/></g>
<g stroke="#ff9900" fill="none" stroke-width="2.4"><path d="M1118.2 1304.84V1356.1M1118.2 1398.32V1443.54"/></g>
<g stroke="#ff9900" fill="#fff" stroke-width="2.4"><rect x="1114.4" y="1356.1" width="7.6" height="42.21"/></g>
<path d="M1114.4 1375.7H1122" stroke="#ff9900" stroke-width="4.6"/>
<g fill="#ff9900"><circle cx="1118.2" cy="1283.74" r="3.0"/><circle cx="1118.2" cy="1462.01" r="3.0"/><circle cx="1118.2" cy="1470.3" r="3.0"/></g>
<g stroke="#0066ff" fill="none" stroke-width="2.4"><path d="M1129.98 1426.96V1469.93M1129.98 1506.86V1555.86"/></g>
<g stroke="#0066ff" fill="#fff" stroke-width="2.4"><rect x="1126.18" y="1469.93" width="7.6" height="36.94"/></g>
<path d="M1126.18 1486.13H1133.78" stroke="#0066ff" stroke-width="4.6"/>
<g fill="#0066ff"><circle cx="1129.98" cy="1409.25" r="3.0"/><circle cx="1129.98" cy="1562.64" r="3.0"/><circle cx="1129.98" cy="1581.49" r="3.0"/></g>
<g stroke="#ff9900" fill="none" stroke-width="2.4"><path d="M1137.78 1425.08V1475.58M1137.78 1524.58V1572.82"/></g>
<g stroke="#ff9900" fill="#fff" stroke-width="2.4"><rect x="1133.98" y="1475.58" width="7.6" height="49"/></g>
<path d="M1133.98 1501.59H1141.58" stroke="#ff9900" stroke-width="4.6"/>
<g stroke="#0066ff" fill="none" stroke-width="2.4"><path d="M1149.57 1344.04V1388.52M1149.57 1426.96V1474.07"/></g>
<g stroke="#0066ff" fill="#fff" stroke-width="2.4"><rect x="1145.77" y="1388.52" width="7.6" height="38.44"/></g>
<path d="M1145.77 1408.12H1153.37" stroke="#0066ff" stroke-width="4.6"/>
<g fill="#0066ff"><circle cx="1149.57" cy="1331.6" r="3.0"/><circle cx="1149.57" cy="1502.72" r="3.0"/></g>
<g stroke="#ff9900" fill="none" stroke-width="2.4"><path d="M1157.37 1363.64V1404.35M1157.37 1445.8V1483.87"/></g>
<g stroke="#ff9900" fill="#fff" stroke-width="2.4"><rect x="1153.57" y="1404.35" width="7.6" height="41.46"/></g>
<path d="M1153.57 1426.96H1161.17" stroke="#ff9900" stroke-width="4.6"/>
<g stroke="#0066ff" fill="none" stroke-width="2.4"><path d="M1169.16 1434.87V1472.19M1169.16 1503.85V1547.19"/></g>
<g stroke="#0066ff" fill="#fff" stroke-width="2.4"><rect x="1165.36" y="1472.19" width="7.6" height="31.66"/></g>
<path d="M1165.36 1488.02H1172.96" stroke="#0066ff" stroke-width="4.6"/>
<g fill="#0066ff"><circle cx="1169.16" cy="1549.83" r="3.0"/><circle cx="1169.16" cy="1559.25" r="3.0"/></g>
<g stroke="#ff9900" fill="none" stroke-width="2.4"><path d="M1176.96 1441.66V1481.23M1176.96 1515.53V1544.18"/></g>
<g stroke="#ff9900" fill="#fff" stroke-width="2.4"><rect x="1173.16" y="1481.23" width="7.6" height="34.3"/></g>
<path d="M1173.16 1495.93H1180.76" stroke="#ff9900" stroke-width="4.6"/>
<g stroke="#0066ff" fill="none" stroke-width="2.4"><path d="M1188.74 1406.23V1429.98M1188.74 1459.37V1491.79"/></g>
<g stroke="#0066ff" fill="#fff" stroke-width="2.4"><rect x="1184.94" y="1429.98" width="7.6" height="29.4"/></g>
<path d="M1184.94 1443.54H1192.54" stroke="#0066ff" stroke-width="4.6"/>
<g stroke="#ff9900" fill="none" stroke-width="2.4"><path d="M1196.54 1414.15V1437.89M1196.54 1461.26V1494.8"/></g>
<g stroke="#ff9900" fill="#fff" stroke-width="2.4"><rect x="1192.74" y="1437.89" width="7.6" height="23.37"/></g>
<path d="M1192.74 1449.57H1200.34" stroke="#ff9900" stroke-width="4.6"/>
<g stroke="#0066ff" fill="none" stroke-width="2.4"><path d="M1208.33 1491.03V1524.58M1208.33 1554.73V1587.52"/></g>
<g stroke="#0066ff" fill="#fff" stroke-width="2.4"><rect x="1204.53" y="1524.58" width="7.6" height="30.15"/></g>
<path d="M1204.53 1539.28H1212.13" stroke="#0066ff" stroke-width="4.6"/>
<g fill="#0066ff"><circle cx="1208.33" cy="1613.9" r="3.0"/></g>
<g stroke="#ff9900" fill="none" stroke-width="2.4"><path d="M1216.13 1503.85V1524.58M1216.13 1547.94V1570.56"/></g>
<g stroke="#ff9900" fill="#fff" stroke-width="2.4"><rect x="1212.33" y="1524.58" width="7.6" height="23.37"/></g>
<path d="M1212.33 1536.26H1219.93" stroke="#ff9900" stroke-width="4.6"/>
<g fill="#ff9900"><circle cx="1216.13" cy="1486.89" r="3.0"/></g>
<g stroke="#0066ff" fill="none" stroke-width="2.4"><path d="M1227.92 1465.4V1500.83M1227.92 1526.46V1558.88"/></g>
<g stroke="#0066ff" fill="#fff" stroke-width="2.4"><rect x="1224.12" y="1500.83" width="7.6" height="25.63"/></g>
<path d="M1224.12 1513.65H1231.72" stroke="#0066ff" stroke-width="4.6"/>
<g fill="#0066ff"><circle cx="1227.92" cy="1564.91" r="3.0"/></g>
<g stroke="#ff9900" fill="none" stroke-width="2.4"><path d="M1235.72 1478.97V1502.72M1235.72 1519.3V1540.03"/></g>
<g stroke="#ff9900" fill="#fff" stroke-width="2.4"><rect x="1231.92" y="1502.72" width="7.6" height="16.58"/></g>
<path d="M1231.92 1510.63H1239.52" stroke="#ff9900" stroke-width="4.6"/>
<g fill="#ff9900"><circle cx="1235.72" cy="1466.16" r="3.0"/><circle cx="1235.72" cy="1478.6" r="3.0"/></g>
<g stroke="#0066ff" fill="none" stroke-width="2.4"><path d="M1247.5 1411.13V1460.88M1247.5 1495.93V1544.18"/></g>
<g stroke="#0066ff" fill="#fff" stroke-width="2.4"><rect x="1243.7" y="1460.88" width="7.6" height="35.05"/></g>
<path d="M1243.7 1478.22H1251.3" stroke="#0066ff" stroke-width="4.6"/>
<g fill="#0066ff"><circle cx="1247.5" cy="1399.45" r="3.0"/><circle cx="1247.5" cy="1405.85" r="3.0"/><circle cx="1247.5" cy="1568.67" r="3.0"/></g>
<g stroke="#ff9900" fill="none" stroke-width="2.4"><path d="M1255.31 1419.05V1474.07M1255.31 1513.65V1541.16"/></g>
<g stroke="#ff9900" fill="#fff" stroke-width="2.4"><rect x="1251.51" y="1474.07" width="7.6" height="39.57"/></g>
<path d="M1251.51 1491.03H1259.11" stroke="#ff9900" stroke-width="4.6"/>
<g fill="#ff9900"><circle cx="1255.31" cy="1409.62" r="3.0"/></g>
<g stroke="#0066ff" fill="none" stroke-width="2.4"><path d="M1267.09 1516.66V1560.38M1267.09 1590.53V1625.96"/></g>
<g stroke="#0066ff" fill="#fff" stroke-width="2.4"><rect x="1263.29" y="1560.38" width="7.6" height="30.15"/></g>
<path d="M1263.29 1575.46H1270.89" stroke="#0066ff" stroke-width="4.6"/>
<g stroke="#ff9900" fill="none" stroke-width="2.4"><path d="M1274.89 1533.25V1557.74M1274.89 1584.5V1610.89"/></g>
<g stroke="#ff9900" fill="#fff" stroke-width="2.4"><rect x="1271.09" y="1557.74" width="7.6" height="26.76"/></g>
<path d="M1271.09 1569.81H1278.69" stroke="#ff9900" stroke-width="4.6"/>
<g stroke="#0066ff" fill="none" stroke-width="2.4"><path d="M1286.68 1384.75V1414.15M1286.68 1438.64V1474.07"/></g>
<g stroke="#0066ff" fill="#fff" stroke-width="2.4"><rect x="1282.88" y="1414.15" width="7.6" height="24.5"/></g>
<path d="M1282.88 1426.96H1290.48" stroke="#0066ff" stroke-width="4.6"/>
<g fill="#0066ff"><circle cx="1286.68" cy="1362.51" r="3.0"/><circle cx="1286.68" cy="1376.83" r="3.0"/></g>
<g stroke="#ff9900" fill="none" stroke-width="2.4"><path d="M1294.48 1393.42V1417.91M1294.48 1434.87V1458.24"/></g>
<g stroke="#ff9900" fill="#fff" stroke-width="2.4"><rect x="1290.68" y="1417.91" width="7.6" height="16.96"/></g>
<path d="M1290.68 1426.96H1298.28" stroke="#ff9900" stroke-width="4.6"/>
<g fill="#ff9900"><circle cx="1294.48" cy="1385.5" r="3.0"/><circle cx="1294.48" cy="1392.29" r="3.0"/></g>
<g stroke="#0066ff" fill="none" stroke-width="2.4"><path d="M1306.27 1450.7V1478.22M1306.27 1505.73V1544.93"/></g>
<g stroke="#0066ff" fill="#fff" stroke-width="2.4"><rect x="1302.47" y="1478.22" width="7.6" height="27.51"/></g>
<path d="M1302.47 1491.79H1310.07" stroke="#0066ff" stroke-width="4.6"/>
<g stroke="#ff9900" fill="none" stroke-width="2.4"><path d="M1314.07 1440.91V1476.33M1314.07 1502.72V1528.35"/></g>
<g stroke="#ff9900" fill="#fff" stroke-width="2.4"><rect x="1310.27" y="1476.33" width="7.6" height="26.38"/></g>
<path d="M1310.27 1489.9H1317.87" stroke="#ff9900" stroke-width="4.6"/>
<g fill="#ff9900"><circle cx="1314.07" cy="1433.37" r="3.0"/></g>
<g stroke="#0066ff" fill="none" stroke-width="2.4"><path d="M1325.85 1553.98V1592.42M1325.85 1618.8V1633.5"/></g>
<g stroke="#0066ff" fill="#fff" stroke-width="2.4"><rect x="1322.05" y="1592.42" width="7.6" height="26.38"/></g>
<path d="M1322.05 1608.25H1329.65" stroke="#0066ff" stroke-width="4.6"/>
<g fill="#0066ff"><circle cx="1325.85" cy="1480.1" r="3.0"/><circle cx="1325.85" cy="1521.56" r="3.0"/><circle cx="1325.85" cy="1529.48" r="3.0"/><circle cx="1325.85" cy="1540.03" r="3.0"/><circle cx="1325.85" cy="1544.18" r="3.0"/><circle cx="1325.85" cy="1547.94" r="3.0"/><circle cx="1325.85" cy="1552.09" r="3.0"/></g>
<g stroke="#ff9900" fill="none" stroke-width="2.4"><path d="M1333.65 1527.22V1563.77M1333.65 1596.19V1630.86"/></g>
<g stroke="#ff9900" fill="#fff" stroke-width="2.4"><rect x="1329.85" y="1563.77" width="7.6" height="32.41"/></g>
<path d="M1329.85 1580.36H1337.45" stroke="#ff9900" stroke-width="4.6"/>
<g fill="#ff9900"><circle cx="1333.65" cy="1483.87" r="3.0"/><circle cx="1333.65" cy="1497.82" r="3.0"/><circle cx="1333.65" cy="1514.4" r="3.0"/></g>
<g stroke="#0066ff" fill="none" stroke-width="2.4"><path d="M1345.44 1505.73V1547.19M1345.44 1573.57V1610.13"/></g>
<g stroke="#0066ff" fill="#fff" stroke-width="2.4"><rect x="1341.64" y="1547.19" width="7.6" height="26.38"/></g>
<path d="M1341.64 1562.64H1349.24" stroke="#0066ff" stroke-width="4.6"/>
<g fill="#0066ff"><circle cx="1345.44" cy="1481.23" r="3.0"/><circle cx="1345.44" cy="1498.95" r="3.0"/></g>
<g stroke="#ff9900" fill="none" stroke-width="2.4"><path d="M1353.24 1512.52V1550.58M1353.24 1579.6V1613.9"/></g>
<g stroke="#ff9900" fill="#fff" stroke-width="2.4"><rect x="1349.44" y="1550.58" width="7.6" height="29.02"/></g>
<path d="M1349.44 1564.91H1357.04" stroke="#ff9900" stroke-width="4.6"/>
<g fill="#ff9900"><circle cx="1353.24" cy="1481.23" r="3.0"/></g>
<g stroke="#0066ff" fill="none" stroke-width="2.4"><path d="M1365.03 1330.47V1387.39M1365.03 1428.84V1481.99"/></g>
<g stroke="#0066ff" fill="#fff" stroke-width="2.4"><rect x="1361.23" y="1387.39" width="7.6" height="41.46"/></g>
<path d="M1361.23 1406.23H1368.83" stroke="#0066ff" stroke-width="4.6"/>
<g fill="#0066ff"><circle cx="1365.03" cy="1496.69" r="3.0"/><circle cx="1365.03" cy="1538.15" r="3.0"/></g>
<g stroke="#ff9900" fill="none" stroke-width="2.4"><path d="M1372.83 1341.4V1410.38M1372.83 1464.27V1533.25"/></g>
<g stroke="#ff9900" fill="#fff" stroke-width="2.4"><rect x="1369.03" y="1410.38" width="7.6" height="53.9"/></g>
<path d="M1369.03 1432.99H1376.63" stroke="#ff9900" stroke-width="4.6"/>
<g stroke="#0066ff" fill="none" stroke-width="2.4"><path d="M1384.61 1429.98V1467.29M1384.61 1497.82V1536.26"/></g>
<g stroke="#0066ff" fill="#fff" stroke-width="2.4"><rect x="1380.81" y="1467.29" width="7.6" height="30.53"/></g>
<path d="M1380.81 1483.12H1388.41" stroke="#0066ff" stroke-width="4.6"/>
<g fill="#0066ff"><circle cx="1384.61" cy="1422.06" r="3.0"/></g>
<g stroke="#ff9900" fill="none" stroke-width="2.4"><path d="M1392.41 1435.63V1473.32M1392.41 1500.83V1528.35"/></g>
<g stroke="#ff9900" fill="#fff" stroke-width="2.4"><rect x="1388.61" y="1473.32" width="7.6" height="27.51"/></g>
<path d="M1388.61 1486.89H1396.21" stroke="#ff9900" stroke-width="4.6"/>
<g stroke="#0066ff" fill="none" stroke-width="2.4"><path d="M1404.2 1404.35V1441.66M1404.2 1469.17V1504.6"/></g>
<g stroke="#0066ff" fill="#fff" stroke-width="2.4"><rect x="1400.4" y="1441.66" width="7.6" height="27.51"/></g>
<path d="M1400.4 1458.24H1408" stroke="#0066ff" stroke-width="4.6"/>
<g fill="#0066ff"><circle cx="1404.2" cy="1376.83" r="3.0"/><circle cx="1404.2" cy="1385.5" r="3.0"/><circle cx="1404.2" cy="1389.65" r="3.0"/><circle cx="1404.2" cy="1393.42" r="3.0"/><circle cx="1404.2" cy="1547.94" r="3.0"/><circle cx="1404.2" cy="1555.11" r="3.0"/></g>
<g stroke="#ff9900" fill="none" stroke-width="2.4"><path d="M1412 1397.56V1429.98M1412 1454.47V1486.89"/></g>
<g stroke="#ff9900" fill="#fff" stroke-width="2.4"><rect x="1408.2" y="1429.98" width="7.6" height="24.5"/></g>
<path d="M1408.2 1439.77H1415.8" stroke="#ff9900" stroke-width="4.6"/>
<g stroke="#0066ff" fill="none" stroke-width="2.4"><path d="M1423.79 1419.05V1456.36M1423.79 1483.12V1517.42"/></g>
<g stroke="#0066ff" fill="#fff" stroke-width="2.4"><rect x="1419.99" y="1456.36" width="7.6" height="26.76"/></g>
<path d="M1419.99 1470.3H1427.59" stroke="#0066ff" stroke-width="4.6"/>
<g fill="#0066ff"><circle cx="1423.79" cy="1404.35" r="3.0"/><circle cx="1423.79" cy="1409.25" r="3.0"/></g>
<g stroke="#ff9900" fill="none" stroke-width="2.4"><path d="M1431.59 1445.8V1471.06M1431.59 1488.77V1513.65"/></g>
<g stroke="#ff9900" fill="#fff" stroke-width="2.4"><rect x="1427.79" y="1471.06" width="7.6" height="17.71"/></g>
<path d="M1427.79 1480.1H1435.39" stroke="#ff9900" stroke-width="4.6"/>
<g fill="#ff9900"><circle cx="1431.59" cy="1426.58" r="3.0"/><circle cx="1431.59" cy="1439.77" r="3.0"/><circle cx="1431.59" cy="1520.43" r="3.0"/></g>
<g stroke="#0066ff" fill="none" stroke-width="2.4"><path d="M1443.38 1307.86V1406.23M1443.38 1486.89V1543.05"/></g>
<g stroke="#0066ff" fill="#fff" stroke-width="2.4"><rect x="1439.58" y="1406.23" width="7.6" height="80.66"/></g>
<path d="M1439.58 1461.26H1447.17" stroke="#0066ff" stroke-width="4.6"/>
<g stroke="#ff9900" fill="none" stroke-width="2.4"><path d="M1451.18 1321.43V1388.52M1451.18 1439.77V1494.8"/></g>
<g stroke="#ff9900" fill="#fff" stroke-width="2.4"><rect x="1447.38" y="1388.52" width="7.6" height="51.26"/></g>
<path d="M1447.38 1413.01H1454.98" stroke="#ff9900" stroke-width="4.6"/>
<g stroke="#0066ff" fill="none" stroke-width="2.4"><path d="M1462.96 1513.65V1560.76M1462.96 1591.29V1631.62"/></g>
<g stroke="#0066ff" fill="#fff" stroke-width="2.4"><rect x="1459.16" y="1560.76" width="7.6" height="30.53"/></g>
<path d="M1459.16 1576.59H1466.76" stroke="#0066ff" stroke-width="4.6"/>
<g stroke="#ff9900" fill="none" stroke-width="2.4"><path d="M1470.76 1528.35V1566.79M1470.76 1596.19V1623.7"/></g>
<g stroke="#ff9900" fill="#fff" stroke-width="2.4"><rect x="1466.96" y="1566.79" width="7.6" height="29.4"/></g>
<path d="M1466.96 1578.47H1474.56" stroke="#ff9900" stroke-width="4.6"/>
<g stroke="#0066ff" fill="none" stroke-width="2.4"><path d="M1482.55 1402.46V1451.46M1482.55 1486.13V1530.23"/></g>
<g stroke="#0066ff" fill="#fff" stroke-width="2.4"><rect x="1478.75" y="1451.46" width="7.6" height="34.67"/></g>
<path d="M1478.75 1466.16H1486.35" stroke="#0066ff" stroke-width="4.6"/>
<g fill="#0066ff"><circle cx="1482.55" cy="1388.52" r="3.0"/></g>
<g stroke="#ff9900" fill="none" stroke-width="2.4"><path d="M1490.35 1403.22V1446.94M1490.35 1475.96V1508.75"/></g>
<g stroke="#ff9900" fill="#fff" stroke-width="2.4"><rect x="1486.55" y="1446.94" width="7.6" height="29.02"/></g>
<path d="M1486.55 1458.24H1494.15" stroke="#ff9900" stroke-width="4.6"/>
<g fill="#ff9900"><circle cx="1490.35" cy="1387.39" r="3.0"/></g>
<g stroke="#0066ff" fill="none" stroke-width="2.4"><path d="M1502.14 1519.3V1555.86M1502.14 1586.39V1618.05"/></g>
<g stroke="#0066ff" fill="#fff" stroke-width="2.4"><rect x="1498.34" y="1555.86" width="7.6" height="30.53"/></g>
<path d="M1498.34 1572.82H1505.94" stroke="#0066ff" stroke-width="4.6"/>
<g fill="#0066ff"><circle cx="1502.14" cy="1490.28" r="3.0"/><circle cx="1502.14" cy="1500.83" r="3.0"/><circle cx="1502.14" cy="1509.5" r="3.0"/></g>
<g stroke="#ff9900" fill="none" stroke-width="2.4"><path d="M1509.94 1486.13V1521.56M1509.94 1552.09V1581.49"/></g>
<g stroke="#ff9900" fill="#fff" stroke-width="2.4"><rect x="1506.14" y="1521.56" width="7.6" height="30.53"/></g>
<path d="M1506.14 1537.01H1513.74" stroke="#ff9900" stroke-width="4.6"/>
<g fill="#ff9900"><circle cx="1509.94" cy="1463.52" r="3.0"/><circle cx="1509.94" cy="1473.32" r="3.0"/><circle cx="1509.94" cy="1475.2" r="3.0"/></g>
<g stroke="#0066ff" fill="none" stroke-width="2.4"><path d="M1521.72 1491.79V1521.56M1521.72 1548.7V1578.47"/></g>
<g stroke="#0066ff" fill="#fff" stroke-width="2.4"><rect x="1517.92" y="1521.56" width="7.6" height="27.14"/></g>
<path d="M1517.92 1535.13H1525.52" stroke="#0066ff" stroke-width="4.6"/>
<g fill="#0066ff"><circle cx="1521.72" cy="1591.29" r="3.0"/></g>
<g stroke="#ff9900" fill="none" stroke-width="2.4"><path d="M1529.52 1496.69V1521.56M1529.52 1544.93V1568.67"/></g>
<g stroke="#ff9900" fill="#fff" stroke-width="2.4"><rect x="1525.72" y="1521.56" width="7.6" height="23.37"/></g>
<path d="M1525.72 1533.25H1533.32" stroke="#ff9900" stroke-width="4.6"/>
<g fill="#ff9900"><circle cx="1529.52" cy="1486.13" r="3.0"/><circle cx="1529.52" cy="1579.6" r="3.0"/></g>
<g stroke="#0066ff" fill="none" stroke-width="2.4"><path d="M1541.31 1496.69V1532.12M1541.31 1558.88V1587.52"/></g>
<g stroke="#0066ff" fill="#fff" stroke-width="2.4"><rect x="1537.51" y="1532.12" width="7.6" height="26.76"/></g>
<path d="M1537.51 1544.93H1545.11" stroke="#0066ff" stroke-width="4.6"/>
<g stroke="#ff9900" fill="none" stroke-width="2.4"><path d="M1549.11 1512.52V1533.25M1549.11 1552.84V1575.46"/></g>
<g stroke="#ff9900" fill="#fff" stroke-width="2.4"><rect x="1545.31" y="1533.25" width="7.6" height="19.6"/></g>
<path d="M1545.31 1542.29H1552.91" stroke="#ff9900" stroke-width="4.6"/>
<g fill="#ff9900"><circle cx="1549.11" cy="1504.6" r="3.0"/><circle cx="1549.11" cy="1581.49" r="3.0"/></g>
<g stroke="#0066ff" fill="none" stroke-width="2.4"><path d="M1560.9 1399.45V1453.34M1560.9 1491.79V1547.19"/></g>
<g stroke="#0066ff" fill="#fff" stroke-width="2.4"><rect x="1557.1" y="1453.34" width="7.6" height="38.44"/></g>
<path d="M1557.1 1472.19H1564.7" stroke="#0066ff" stroke-width="4.6"/>
<g fill="#0066ff"><circle cx="1560.9" cy="1298.81" r="3.0"/><circle cx="1560.9" cy="1330.47" r="3.0"/><circle cx="1560.9" cy="1334.24" r="3.0"/><circle cx="1560.9" cy="1351.96" r="3.0"/><circle cx="1560.9" cy="1364.77" r="3.0"/><circle cx="1560.9" cy="1375.7" r="3.0"/><circle cx="1560.9" cy="1552.09" r="3.0"/></g>
<g stroke="#ff9900" fill="none" stroke-width="2.4"><path d="M1568.7 1403.22V1448.44M1568.7 1486.13V1538.15"/></g>
<g stroke="#ff9900" fill="#fff" stroke-width="2.4"><rect x="1564.9" y="1448.44" width="7.6" height="37.69"/></g>
<path d="M1564.9 1466.16H1572.5" stroke="#ff9900" stroke-width="4.6"/>
<g fill="#ff9900"><circle cx="1568.7" cy="1289.01" r="3.0"/><circle cx="1568.7" cy="1293.16" r="3.0"/><circle cx="1568.7" cy="1316.15" r="3.0"/><circle cx="1568.7" cy="1348.94" r="3.0"/></g>
<g stroke="#0066ff" fill="none" stroke-width="2.4"><path d="M1580.48 1428.84V1483.12M1580.48 1521.56V1575.46"/></g>
<g stroke="#0066ff" fill="#fff" stroke-width="2.4"><rect x="1576.68" y="1483.12" width="7.6" height="38.44"/></g>
<path d="M1576.68 1497.82H1584.28" stroke="#0066ff" stroke-width="4.6"/>
<g fill="#0066ff"><circle cx="1580.48" cy="1417.16" r="3.0"/><circle cx="1580.48" cy="1613.15" r="3.0"/></g>
<g stroke="#ff9900" fill="none" stroke-width="2.4"><path d="M1588.28 1453.34V1488.77M1588.28 1541.16V1601.09"/></g>
<g stroke="#ff9900" fill="#fff" stroke-width="2.4"><rect x="1584.48" y="1488.77" width="7.6" height="52.39"/></g>
<path d="M1584.48 1510.63H1592.08" stroke="#ff9900" stroke-width="4.6"/>
<g stroke="#0066ff" fill="none" stroke-width="2.4"><path d="M1600.07 1502.72V1531.36M1600.07 1555.11V1590.53"/></g>
<g stroke="#0066ff" fill="#fff" stroke-width="2.4"><rect x="1596.27" y="1531.36" width="7.6" height="23.74"/></g>
<path d="M1596.27 1543.05H1603.87" stroke="#0066ff" stroke-width="4.6"/>
<g fill="#0066ff"><circle cx="1600.07" cy="1464.27" r="3.0"/><circle cx="1600.07" cy="1475.2" r="3.0"/><circle cx="1600.07" cy="1478.97" r="3.0"/><circle cx="1600.07" cy="1486.89" r="3.0"/><circle cx="1600.07" cy="1493.67" r="3.0"/><circle cx="1600.07" cy="1592.04" r="3.0"/></g>
<g stroke="#ff9900" fill="none" stroke-width="2.4"><path d="M1607.87 1480.1V1507.24M1607.87 1539.28V1564.91"/></g>
<g stroke="#ff9900" fill="#fff" stroke-width="2.4"><rect x="1604.07" y="1507.24" width="7.6" height="32.04"/></g>
<path d="M1604.07 1523.45H1611.67" stroke="#ff9900" stroke-width="4.6"/>
<g fill="#ff9900"><circle cx="1607.87" cy="1450.7" r="3.0"/></g>
<g stroke="#0066ff" fill="none" stroke-width="2.4"><path d="M1619.66 1431.86V1460.5M1619.66 1488.02V1525.33"/></g>
<g stroke="#0066ff" fill="#fff" stroke-width="2.4"><rect x="1615.86" y="1460.5" width="7.6" height="27.51"/></g>
<path d="M1615.86 1473.32H1623.46" stroke="#0066ff" stroke-width="4.6"/>
<g stroke="#ff9900" fill="none" stroke-width="2.4"><path d="M1627.46 1435.63V1468.8M1627.46 1491.79V1510.63"/></g>
<g stroke="#ff9900" fill="#fff" stroke-width="2.4"><rect x="1623.66" y="1468.8" width="7.6" height="22.99"/></g>
<path d="M1623.66 1480.1H1631.26" stroke="#ff9900" stroke-width="4.6"/>
<g stroke="#0066ff" fill="none" stroke-width="2.4"><path d="M1639.24 1420.93V1491.79M1639.24 1544.93V1612.02"/></g>
<g stroke="#0066ff" fill="#fff" stroke-width="2.4"><rect x="1635.44" y="1491.79" width="7.6" height="53.14"/></g>
<path d="M1635.44 1518.55H1643.04" stroke="#0066ff" stroke-width="4.6"/>
<g fill="#0066ff"><circle cx="1639.24" cy="1321.43" r="3.0"/><circle cx="1639.24" cy="1324.44" r="3.0"/><circle cx="1639.24" cy="1342.16" r="3.0"/><circle cx="1639.24" cy="1356.1" r="3.0"/><circle cx="1639.24" cy="1357.61" r="3.0"/><circle cx="1639.24" cy="1376.83" r="3.0"/><circle cx="1639.24" cy="1390.4" r="3.0"/><circle cx="1639.24" cy="1394.55" r="3.0"/><circle cx="1639.24" cy="1398.32" r="3.0"/><circle cx="1639.24" cy="1403.22" r="3.0"/><circle cx="1639.24" cy="1407.36" r="3.0"/><circle cx="1639.24" cy="1411.13" r="3.0"/></g>
<g stroke="#ff9900" fill="none" stroke-width="2.4"><path d="M1647.05 1446.56V1517.42M1647.05 1567.54V1613.15"/></g>
<g stroke="#ff9900" fill="#fff" stroke-width="2.4"><rect x="1643.25" y="1517.42" width="7.6" height="50.13"/></g>
<path d="M1643.25 1543.05H1650.85" stroke="#ff9900" stroke-width="4.6"/>
<g fill="#ff9900"><circle cx="1647.05" cy="1304.47" r="3.0"/><circle cx="1647.05" cy="1316.53" r="3.0"/><circle cx="1647.05" cy="1324.82" r="3.0"/><circle cx="1647.05" cy="1387.01" r="3.0"/><circle cx="1647.05" cy="1398.32" r="3.0"/><circle cx="1647.05" cy="1401.33" r="3.0"/></g>
<g stroke="#0066ff" fill="none" stroke-width="2.4"><path d="M1658.83 1425.83V1478.97M1658.83 1519.3V1571.69"/></g>
<g stroke="#0066ff" fill="#fff" stroke-width="2.4"><rect x="1655.03" y="1478.97" width="7.6" height="40.33"/></g>
<path d="M1655.03 1497.82H1662.63" stroke="#0066ff" stroke-width="4.6"/>
<g fill="#0066ff"><circle cx="1658.83" cy="1412.26" r="3.0"/><circle cx="1658.83" cy="1581.49" r="3.0"/><circle cx="1658.83" cy="1595.43" r="3.0"/></g>
<g stroke="#ff9900" fill="none" stroke-width="2.4"><path d="M1666.63 1441.66V1477.09M1666.63 1509.5V1547.19"/></g>
<g stroke="#ff9900" fill="#fff" stroke-width="2.4"><rect x="1662.83" y="1477.09" width="7.6" height="32.41"/></g>
<path d="M1662.83 1488.02H1670.43" stroke="#ff9900" stroke-width="4.6"/>
<g stroke="#0066ff" fill="none" stroke-width="2.4"><path d="M1678.42 1356.86V1411.13M1678.42 1449.57V1485"/></g>
<g stroke="#0066ff" fill="#fff" stroke-width="2.4"><rect x="1674.62" y="1411.13" width="7.6" height="38.44"/></g>
<path d="M1674.62 1428.84H1682.22" stroke="#0066ff" stroke-width="4.6"/>
<g fill="#0066ff"><circle cx="1678.42" cy="1338.01" r="3.0"/><circle cx="1678.42" cy="1506.86" r="3.0"/></g>
<g stroke="#ff9900" fill="none" stroke-width="2.4"><path d="M1686.22 1385.5V1419.05M1686.22 1446.56V1475.96"/></g>
<g stroke="#ff9900" fill="#fff" stroke-width="2.4"><rect x="1682.42" y="1419.05" width="7.6" height="27.51"/></g>
<path d="M1682.42 1431.86H1690.02" stroke="#ff9900" stroke-width="4.6"/>
<g fill="#ff9900"><circle cx="1686.22" cy="1372.69" r="3.0"/><circle cx="1686.22" cy="1488.02" r="3.0"/></g>
<g stroke="#0066ff" fill="none" stroke-width="2.4"><path d="M1698.01 1423.94V1475.58M1698.01 1514.4V1573.57"/></g>
<g stroke="#0066ff" fill="#fff" stroke-width="2.4"><rect x="1694.21" y="1475.58" width="7.6" height="38.82"/></g>
<path d="M1694.21 1493.67H1701.81" stroke="#0066ff" stroke-width="4.6"/>
<g fill="#0066ff"><circle cx="1698.01" cy="1573.57" r="3.0"/></g>
<g stroke="#ff9900" fill="none" stroke-width="2.4"><path d="M1705.81 1446.56V1485M1705.81 1524.58V1562.64"/></g>
<g stroke="#ff9900" fill="#fff" stroke-width="2.4"><rect x="1702.01" y="1485" width="7.6" height="39.57"/></g>
<path d="M1702.01 1498.95H1709.61" stroke="#ff9900" stroke-width="4.6"/>
<g stroke="#0066ff" fill="none" stroke-width="2.4"><path d="M1717.59 1376.83V1420.93M1717.59 1462.39V1518.55"/></g>
<g stroke="#0066ff" fill="#fff" stroke-width="2.4"><rect x="1713.79" y="1420.93" width="7.6" height="41.46"/></g>
<path d="M1713.79 1436.76H1721.39" stroke="#0066ff" stroke-width="4.6"/>
<g fill="#0066ff"><circle cx="1717.59" cy="1564.91" r="3.0"/><circle cx="1717.59" cy="1578.47" r="3.0"/><circle cx="1717.59" cy="1589.4" r="3.0"/></g>
<g stroke="#ff9900" fill="none" stroke-width="2.4"><path d="M1725.39 1395.3V1439.77M1725.39 1489.9V1555.11"/></g>
<g stroke="#ff9900" fill="#fff" stroke-width="2.4"><rect x="1721.59" y="1439.77" width="7.6" height="50.13"/></g>
<path d="M1721.59 1460.5H1729.19" stroke="#ff9900" stroke-width="4.6"/>
<g stroke="#0066ff" fill="none" stroke-width="2.4"><path d="M1737.18 1356.86V1412.26M1737.18 1458.24V1518.55"/></g>
<g stroke="#0066ff" fill="#fff" stroke-width="2.4"><rect x="1733.38" y="1412.26" width="7.6" height="45.98"/></g>
<path d="M1733.38 1431.86H1740.98" stroke="#0066ff" stroke-width="4.6"/>
<g fill="#0066ff"><circle cx="1737.18" cy="1527.59" r="3.0"/><circle cx="1737.18" cy="1540.03" r="3.0"/></g>
<g stroke="#ff9900" fill="none" stroke-width="2.4"><path d="M1744.98 1361.76V1409.25M1744.98 1441.66V1488.02"/></g>
<g stroke="#ff9900" fill="#fff" stroke-width="2.4"><rect x="1741.18" y="1409.25" width="7.6" height="32.41"/></g>
<path d="M1741.18 1422.06H1748.78" stroke="#ff9900" stroke-width="4.6"/>
<g fill="#ff9900"><circle cx="1744.98" cy="1494.8" r="3.0"/></g>
<path d="M946.9 1232.7V1653.1H1753" fill="none" stroke="#000" stroke-width="3.2" stroke-linejoin="miter" stroke-linecap="square"/>
<text x="942.2" y="1283.6" font-size="21.5" font-family="'Liberation Serif','Times New Roman',serif" text-anchor="end">12.5</text>
<text x="942.2" y="1377.83" font-size="21.5" font-family="'Liberation Serif','Times New Roman',serif" text-anchor="end">10.0</text>
<text x="942.2" y="1472.05" font-size="21.5" font-family="'Liberation Serif','Times New Roman',serif" text-anchor="end">7.5</text>
<text x="942.2" y="1566.28" font-size="21.5" font-family="'Liberation Serif','Times New Roman',serif" text-anchor="end">5.0</text>
<text x="942.2" y="1660.5" font-size="21.5" font-family="'Liberation Serif','Times New Roman',serif" text-anchor="end">2.5</text>
<path d="M943.7 1276.2H946.9M943.7 1370.42H946.9M943.7 1464.65H946.9M943.7 1558.88H946.9M943.7 1653.1H946.9M957.6 1653.1V1656.3M977.19 1653.1V1656.3M996.77 1653.1V1656.3M1016.36 1653.1V1656.3M1035.95 1653.1V1656.3M1055.54 1653.1V1656.3M1075.12 1653.1V1656.3M1094.71 1653.1V1656.3M1114.3 1653.1V1656.3M1133.88 1653.1V1656.3M1153.47 1653.1V1656.3M1173.06 1653.1V1656.3M1192.64 1653.1V1656.3M1212.23 1653.1V1656.3M1231.82 1653.1V1656.3M1251.4 1653.1V1656.3M1270.99 1653.1V1656.3M1290.58 1653.1V1656.3M1310.17 1653.1V1656.3M1329.75 1653.1V1656.3M1349.34 1653.1V1656.3M1368.93 1653.1V1656.3M1388.51 1653.1V1656.3M1408.1 1653.1V1656.3M1427.69 1653.1V1656.3M1447.28 1653.1V1656.3M1466.86 1653.1V1656.3M1486.45 1653.1V1656.3M1506.04 1653.1V1656.3M1525.62 1653.1V1656.3M1545.21 1653.1V1656.3M1564.8 1653.1V1656.3M1584.38 1653.1V1656.3M1603.97 1653.1V1656.3M1623.56 1653.1V1656.3M1643.14 1653.1V1656.3M1662.73 1653.1V1656.3M1682.32 1653.1V1656.3M1701.91 1653.1V1656.3M1721.49 1653.1V1656.3M1741.08 1653.1V1656.3" stroke="#000" stroke-width="2.4"/>
<text transform="translate(968.6 1670.1) rotate(-45)" font-size="17.4" font-family="'Liberation Serif','Times New Roman',serif" text-anchor="end">ATM</text>
<text transform="translate(988.19 1670.1) rotate(-45)" font-size="17.4" font-family="'Liberation Serif','Times New Roman',serif" text-anchor="end">RAD9A</text>
<text transform="translate(1007.77 1670.1) rotate(-45)" font-size="17.4" font-family="'Liberation Serif','Times New Roman',serif" text-anchor="end">CDK5R1</text>
<text transform="translate(1027.36 1670.1) rotate(-45)" font-size="17.4" font-family="'Liberation Serif','Times New Roman',serif" text-anchor="end">CDK8</text>
<text transform="translate(1046.95 1670.1) rotate(-45)" font-size="17.4" font-family="'Liberation Serif','Times New Roman',serif" text-anchor="end">CCNB1</text>
<text transform="translate(1066.54 1670.1) rotate(-45)" font-size="17.4" font-family="'Liberation Serif','Times New Roman',serif" text-anchor="end">CKS1B</text>
<text transform="translate(1086.12 1670.1) rotate(-45)" font-size="17.4" font-family="'Liberation Serif','Times New Roman',serif" text-anchor="end">TFDP1</text>
<text transform="translate(1105.71 1670.1) rotate(-45)" font-size="17.4" font-family="'Liberation Serif','Times New Roman',serif" text-anchor="end">ABL1</text>
<text transform="translate(1125.3 1670.1) rotate(-45)" font-size="17.4" font-family="'Liberation Serif','Times New Roman',serif" text-anchor="end">CCND1</text>
<text transform="translate(1144.88 1670.1) rotate(-45)" font-size="17.4" font-family="'Liberation Serif','Times New Roman',serif" text-anchor="end">CCNF</text>
<text transform="translate(1164.47 1670.1) rotate(-45)" font-size="17.4" font-family="'Liberation Serif','Times New Roman',serif" text-anchor="end">PCNA</text>
<text transform="translate(1184.06 1670.1) rotate(-45)" font-size="17.4" font-family="'Liberation Serif','Times New Roman',serif" text-anchor="end">CCNC</text>
<text transform="translate(1203.64 1670.1) rotate(-45)" font-size="17.4" font-family="'Liberation Serif','Times New Roman',serif" text-anchor="end">E2F4</text>
<text transform="translate(1223.23 1670.1) rotate(-45)" font-size="17.4" font-family="'Liberation Serif','Times New Roman',serif" text-anchor="end">CCNT1</text>
<text transform="translate(1242.82 1670.1) rotate(-45)" font-size="17.4" font-family="'Liberation Serif','Times New Roman',serif" text-anchor="end">CCNH</text>
<text transform="translate(1262.4 1670.1) rotate(-45)" font-size="17.4" font-family="'Liberation Serif','Times New Roman',serif" text-anchor="end">SKP2</text>
<text transform="translate(1281.99 1670.1) rotate(-45)" font-size="17.4" font-family="'Liberation Serif','Times New Roman',serif" text-anchor="end">ATR</text>
<text transform="translate(1301.58 1670.1) rotate(-45)" font-size="17.4" font-family="'Liberation Serif','Times New Roman',serif" text-anchor="end">CDC16</text>
<text transform="translate(1321.17 1670.1) rotate(-45)" font-size="17.4" font-family="'Liberation Serif','Times New Roman',serif" text-anchor="end">ANAPC4</text>
<text transform="translate(1340.75 1670.1) rotate(-45)" font-size="17.4" font-family="'Liberation Serif','Times New Roman',serif" text-anchor="end">DIRAS3</text>
<text transform="translate(1360.34 1670.1) rotate(-45)" font-size="17.4" font-family="'Liberation Serif','Times New Roman',serif" text-anchor="end">DDX11</text>
<text transform="translate(1379.93 1670.1) rotate(-45)" font-size="17.4" font-family="'Liberation Serif','Times New Roman',serif" text-anchor="end">CDC20</text>
<text transform="translate(1399.51 1670.1) rotate(-45)" font-size="17.4" font-family="'Liberation Serif','Times New Roman',serif" text-anchor="end">CDK2</text>
<text transform="translate(1419.1 1670.1) rotate(-45)" font-size="17.4" font-family="'Liberation Serif','Times New Roman',serif" text-anchor="end">CDKN1B</text>
<text transform="translate(1438.69 1670.1) rotate(-45)" font-size="17.4" font-family="'Liberation Serif','Times New Roman',serif" text-anchor="end">BCCIP</text>
<text transform="translate(1458.28 1670.1) rotate(-45)" font-size="17.4" font-family="'Liberation Serif','Times New Roman',serif" text-anchor="end">CCND2</text>
<text transform="translate(1477.86 1670.1) rotate(-45)" font-size="17.4" font-family="'Liberation Serif','Times New Roman',serif" text-anchor="end">BRCA2</text>
<text transform="translate(1497.45 1670.1) rotate(-45)" font-size="17.4" font-family="'Liberation Serif','Times New Roman',serif" text-anchor="end">GADD45A</text>
<text transform="translate(1517.04 1670.1) rotate(-45)" font-size="17.4" font-family="'Liberation Serif','Times New Roman',serif" text-anchor="end">BCL2</text>
<text transform="translate(1536.62 1670.1) rotate(-45)" font-size="17.4" font-family="'Liberation Serif','Times New Roman',serif" text-anchor="end">CCNT2</text>
<text transform="translate(1556.21 1670.1) rotate(-45)" font-size="17.4" font-family="'Liberation Serif','Times New Roman',serif" text-anchor="end">ANAPC2</text>
<text transform="translate(1575.8 1670.1) rotate(-45)" font-size="17.4" font-family="'Liberation Serif','Times New Roman',serif" text-anchor="end">CDK6</text>
<text transform="translate(1595.38 1670.1) rotate(-45)" font-size="17.4" font-family="'Liberation Serif','Times New Roman',serif" text-anchor="end">MKI67</text>
<text transform="translate(1614.97 1670.1) rotate(-45)" font-size="17.4" font-family="'Liberation Serif','Times New Roman',serif" text-anchor="end">TFDP2</text>
<text transform="translate(1634.56 1670.1) rotate(-45)" font-size="17.4" font-family="'Liberation Serif','Times New Roman',serif" text-anchor="end">CDK7</text>
<text transform="translate(1654.14 1670.1) rotate(-45)" font-size="17.4" font-family="'Liberation Serif','Times New Roman',serif" text-anchor="end">CCNE1</text>
<text transform="translate(1673.73 1670.1) rotate(-45)" font-size="17.4" font-family="'Liberation Serif','Times New Roman',serif" text-anchor="end">RB1</text>
<text transform="translate(1693.32 1670.1) rotate(-45)" font-size="17.4" font-family="'Liberation Serif','Times New Roman',serif" text-anchor="end">CDK4</text>
<text transform="translate(1712.91 1670.1) rotate(-45)" font-size="17.4" font-family="'Liberation Serif','Times New Roman',serif" text-anchor="end">KNTC1</text>
<text transform="translate(1732.49 1670.1) rotate(-45)" font-size="17.4" font-family="'Liberation Serif','Times New Roman',serif" text-anchor="end">CCNB2</text>
<text transform="translate(1752.08 1670.1) rotate(-45)" font-size="17.4" font-family="'Liberation Serif','Times New Roman',serif" text-anchor="end">CDKN1A</text>
<text x="963.2" y="1252.7" font-size="16.3" font-family="'Liberation Serif','Times New Roman',serif" text-anchor="middle" letter-spacing="0">***</text>
<text x="980.89" y="1252.7" font-size="16.3" font-family="'Liberation Serif','Times New Roman',serif" text-anchor="middle" letter-spacing="0">**</text>
<text x="1000.47" y="1252.7" font-size="16.3" font-family="'Liberation Serif','Times New Roman',serif" text-anchor="middle" letter-spacing="0">**</text>
<text x="1017.96" y="1252.7" font-size="16.3" font-family="'Liberation Serif','Times New Roman',serif" text-anchor="middle">ns</text>
<text x="1039.65" y="1252.7" font-size="16.3" font-family="'Liberation Serif','Times New Roman',serif" text-anchor="middle" letter-spacing="0">**</text>
<text x="1061.13" y="1252.7" font-size="16.3" font-family="'Liberation Serif','Times New Roman',serif" text-anchor="middle" letter-spacing="0">***</text>
<text x="1080.72" y="1252.7" font-size="16.3" font-family="'Liberation Serif','Times New Roman',serif" text-anchor="middle" letter-spacing="0">***</text>
<text x="1100.31" y="1252.7" font-size="16.3" font-family="'Liberation Serif','Times New Roman',serif" text-anchor="middle" letter-spacing="0">***</text>
<text x="1115.9" y="1252.7" font-size="16.3" font-family="'Liberation Serif','Times New Roman',serif" text-anchor="middle">ns</text>
<text x="1137.58" y="1252.7" font-size="16.3" font-family="'Liberation Serif','Times New Roman',serif" text-anchor="middle" letter-spacing="0">**</text>
<text x="1159.07" y="1252.7" font-size="16.3" font-family="'Liberation Serif','Times New Roman',serif" text-anchor="middle" letter-spacing="0">***</text>
<text x="1176.76" y="1252.7" font-size="16.3" font-family="'Liberation Serif','Times New Roman',serif" text-anchor="middle" letter-spacing="0">**</text>
<text x="1194.44" y="1252.7" font-size="16.3" font-family="'Liberation Serif','Times New Roman',serif" text-anchor="middle" letter-spacing="0">*</text>
<text x="1213.83" y="1252.7" font-size="16.3" font-family="'Liberation Serif','Times New Roman',serif" text-anchor="middle">ns</text>
<text x="1233.42" y="1252.7" font-size="16.3" font-family="'Liberation Serif','Times New Roman',serif" text-anchor="middle">ns</text>
<text x="1257" y="1252.7" font-size="16.3" font-family="'Liberation Serif','Times New Roman',serif" text-anchor="middle" letter-spacing="0">***</text>
<text x="1272.59" y="1252.7" font-size="16.3" font-family="'Liberation Serif','Times New Roman',serif" text-anchor="middle">ns</text>
<text x="1292.18" y="1252.7" font-size="16.3" font-family="'Liberation Serif','Times New Roman',serif" text-anchor="middle">ns</text>
<text x="1311.77" y="1252.7" font-size="16.3" font-family="'Liberation Serif','Times New Roman',serif" text-anchor="middle">ns</text>
<text x="1335.35" y="1252.7" font-size="16.3" font-family="'Liberation Serif','Times New Roman',serif" text-anchor="middle" letter-spacing="0">***</text>
<text x="1351.14" y="1252.7" font-size="16.3" font-family="'Liberation Serif','Times New Roman',serif" text-anchor="middle" letter-spacing="0">*</text>
<text x="1374.53" y="1252.7" font-size="16.3" font-family="'Liberation Serif','Times New Roman',serif" text-anchor="middle" letter-spacing="0">***</text>
<text x="1390.11" y="1252.7" font-size="16.3" font-family="'Liberation Serif','Times New Roman',serif" text-anchor="middle">ns</text>
<text x="1413.7" y="1252.7" font-size="16.3" font-family="'Liberation Serif','Times New Roman',serif" text-anchor="middle" letter-spacing="0">***</text>
<text x="1433.29" y="1252.7" font-size="16.3" font-family="'Liberation Serif','Times New Roman',serif" text-anchor="middle" letter-spacing="0">***</text>
<text x="1452.88" y="1252.7" font-size="16.3" font-family="'Liberation Serif','Times New Roman',serif" text-anchor="middle" letter-spacing="0">***</text>
<text x="1468.66" y="1252.7" font-size="16.3" font-family="'Liberation Serif','Times New Roman',serif" text-anchor="middle" letter-spacing="0">*</text>
<text x="1490.15" y="1252.7" font-size="16.3" font-family="'Liberation Serif','Times New Roman',serif" text-anchor="middle" letter-spacing="0">**</text>
<text x="1511.64" y="1252.7" font-size="16.3" font-family="'Liberation Serif','Times New Roman',serif" text-anchor="middle" letter-spacing="0">***</text>
<text x="1527.22" y="1252.7" font-size="16.3" font-family="'Liberation Serif','Times New Roman',serif" text-anchor="middle">ns</text>
<text x="1546.81" y="1252.7" font-size="16.3" font-family="'Liberation Serif','Times New Roman',serif" text-anchor="middle">ns</text>
<text x="1566.4" y="1252.7" font-size="16.3" font-family="'Liberation Serif','Times New Roman',serif" text-anchor="middle">ns</text>
<text x="1588.08" y="1252.7" font-size="16.3" font-family="'Liberation Serif','Times New Roman',serif" text-anchor="middle" letter-spacing="0">**</text>
<text x="1609.57" y="1252.7" font-size="16.3" font-family="'Liberation Serif','Times New Roman',serif" text-anchor="middle" letter-spacing="0">***</text>
<text x="1629.16" y="1252.7" font-size="16.3" font-family="'Liberation Serif','Times New Roman',serif" text-anchor="middle" letter-spacing="0">***</text>
<text x="1648.74" y="1252.7" font-size="16.3" font-family="'Liberation Serif','Times New Roman',serif" text-anchor="middle" letter-spacing="0">***</text>
<text x="1664.53" y="1252.7" font-size="16.3" font-family="'Liberation Serif','Times New Roman',serif" text-anchor="middle" letter-spacing="0">*</text>
<text x="1683.92" y="1252.7" font-size="16.3" font-family="'Liberation Serif','Times New Roman',serif" text-anchor="middle">ns</text>
<text x="1703.71" y="1252.7" font-size="16.3" font-family="'Liberation Serif','Times New Roman',serif" text-anchor="middle" letter-spacing="0">*</text>
<text x="1727.09" y="1252.7" font-size="16.3" font-family="'Liberation Serif','Times New Roman',serif" text-anchor="middle" letter-spacing="0">***</text>
<text x="1742.88" y="1252.7" font-size="16.3" font-family="'Liberation Serif','Times New Roman',serif" text-anchor="middle" letter-spacing="0">*</text>
<text transform="translate(899.8 1433.6) rotate(-90)" font-size="21.2" font-family="'Liberation Serif','Times New Roman',serif" text-anchor="middle">Gene expression</text>
<text x="1282.8" y="1213.4" font-size="21.2" font-family="'Liberation Serif','Times New Roman',serif">Cluster</text>
<g stroke="#0066ff" stroke-width="3.2" fill="#fff"><path d="M1358 1196.9V1200.5M1358 1214.6V1218.2" stroke-width="2.6"/><rect x="1348.9" y="1202.1" width="18.2" height="10.9" rx="1.5"/><path d="M1348.9 1207.55H1367.1" stroke-width="2.4"/></g>
<text x="1370" y="1213.4" font-size="21.2" font-family="'Liberation Serif','Times New Roman',serif">Sub A</text>
<g stroke="#ff9900" stroke-width="3.2" fill="#fff"><path d="M1436.6 1196.9V1200.5M1436.6 1214.6V1218.2" stroke-width="2.6"/><rect x="1427.5" y="1202.1" width="18.2" height="10.9" rx="1.5"/><path d="M1427.5 1207.55H1445.7" stroke-width="2.4"/></g>
<text x="1449.4" y="1213.4" font-size="21.2" font-family="'Liberation Serif','Times New Roman',serif">Sub B</text>
<g stroke="#0066ff" fill="none" stroke-width="3.0"><path d="M132 1853.39V1919.17M132 1977.17V2051.32"/></g>
<g stroke="#0066ff" fill="#fff" stroke-width="3.0"><rect x="115.9" y="1919.17" width="32.2" height="58.01"/></g>
<path d="M115.9 1946.67H148.1" stroke="#0066ff" stroke-width="6"/>
<g fill="#0066ff"><circle cx="132" cy="1824.68" r="3.5"/><circle cx="132" cy="2081.22" r="3.5"/><circle cx="132" cy="2118.3" r="3.5"/></g>
<g stroke="#ff9900" fill="none" stroke-width="3.0"><path d="M169.4 1878.5V1947.87M169.4 2012.45V2083.02"/></g>
<g stroke="#ff9900" fill="#fff" stroke-width="3.0"><rect x="153.3" y="1947.87" width="32.2" height="64.58"/></g>
<path d="M153.3 1979.56H185.5" stroke="#ff9900" stroke-width="6"/>
<g stroke="#0066ff" fill="none" stroke-width="3.0"><path d="M226.15 1957.44V2007.07M226.15 2047.74V2097.97"/></g>
<g stroke="#0066ff" fill="#fff" stroke-width="3.0"><rect x="210.05" y="2007.07" width="32.2" height="40.66"/></g>
<path d="M210.05 2023.22H242.25" stroke="#0066ff" stroke-width="6"/>
<g fill="#0066ff"><circle cx="226.15" cy="1932.92" r="3.5"/></g>
<g stroke="#ff9900" fill="none" stroke-width="3.0"><path d="M263.55 1973.58V2017.84M263.55 2051.92V2101.56"/></g>
<g stroke="#ff9900" fill="#fff" stroke-width="3.0"><rect x="247.45" y="2017.84" width="32.2" height="34.09"/></g>
<path d="M247.45 2036.37H279.65" stroke="#ff9900" stroke-width="6"/>
<g fill="#ff9900"><circle cx="263.55" cy="1947.27" r="3.5"/></g>
<g stroke="#0066ff" fill="none" stroke-width="3.0"><path d="M320.3 1945.48V1989.73M320.3 2032.79V2096.17"/></g>
<g stroke="#0066ff" fill="#fff" stroke-width="3.0"><rect x="304.2" y="1989.73" width="32.2" height="43.06"/></g>
<path d="M304.2 2010.66H336.4" stroke="#0066ff" stroke-width="6"/>
<g stroke="#ff9900" fill="none" stroke-width="3.0"><path d="M357.7 1930.53V1987.94M357.7 2027.4V2069.86"/></g>
<g stroke="#ff9900" fill="#fff" stroke-width="3.0"><rect x="341.6" y="1987.94" width="32.2" height="39.47"/></g>
<path d="M341.6 2007.67H373.8" stroke="#ff9900" stroke-width="6"/>
<g fill="#ff9900"><circle cx="357.7" cy="1918.57" r="3.5"/></g>
<g stroke="#0066ff" fill="none" stroke-width="3.0"><path d="M414.45 1896.44V1958.63M414.45 2013.05V2091.39"/></g>
<g stroke="#0066ff" fill="#fff" stroke-width="3.0"><rect x="398.35" y="1958.63" width="32.2" height="54.42"/></g>
<path d="M398.35 1983.15H430.55" stroke="#0066ff" stroke-width="6"/>
<g fill="#0066ff"><circle cx="414.45" cy="1865.35" r="3.5"/><circle cx="414.45" cy="2097.37" r="3.5"/></g>
<g stroke="#ff9900" fill="none" stroke-width="3.0"><path d="M451.85 1903.02V1955.64M451.85 2000.49V2046.54"/></g>
<g stroke="#ff9900" fill="#fff" stroke-width="3.0"><rect x="435.75" y="1955.64" width="32.2" height="44.85"/></g>
<path d="M435.75 1979.56H467.95" stroke="#ff9900" stroke-width="6"/>
<g fill="#ff9900"><circle cx="451.85" cy="1849.8" r="3.5"/><circle cx="451.85" cy="2078.83" r="3.5"/><circle cx="451.85" cy="2084.21" r="3.5"/></g>
<g stroke="#0066ff" fill="none" stroke-width="3.0"><path d="M508.6 1881.49V1961.03M508.6 2018.43V2103.35"/></g>
<g stroke="#0066ff" fill="#fff" stroke-width="3.0"><rect x="492.5" y="1961.03" width="32.2" height="57.41"/></g>
<path d="M492.5 1987.94H524.7" stroke="#0066ff" stroke-width="6"/>
<g fill="#0066ff"><circle cx="508.6" cy="2108.73" r="3.5"/><circle cx="508.6" cy="2112.32" r="3.5"/><circle cx="508.6" cy="2177.5" r="3.5"/></g>
<g stroke="#ff9900" fill="none" stroke-width="3.0"><path d="M546 1912.59V1994.51M546 2061.49V2153.58"/></g>
<g stroke="#ff9900" fill="#fff" stroke-width="3.0"><rect x="529.9" y="1994.51" width="32.2" height="66.98"/></g>
<path d="M529.9 2026.21H562.1" stroke="#ff9900" stroke-width="6"/>
<g stroke="#0066ff" fill="none" stroke-width="3.0"><path d="M602.75 1908.4V2004.08M602.75 2086.61V2157.17"/></g>
<g stroke="#0066ff" fill="#fff" stroke-width="3.0"><rect x="586.65" y="2004.08" width="32.2" height="82.52"/></g>
<path d="M586.65 2048.93H618.85" stroke="#0066ff" stroke-width="6"/>
<g stroke="#ff9900" fill="none" stroke-width="3.0"><path d="M640.15 1896.44V1978.37M640.15 2042.95V2135.04"/></g>
<g stroke="#ff9900" fill="#fff" stroke-width="3.0"><rect x="624.05" y="1978.37" width="32.2" height="64.58"/></g>
<path d="M624.05 2014.25H656.25" stroke="#ff9900" stroke-width="6"/>
<g fill="#ff9900"><circle cx="640.15" cy="1867.74" r="3.5"/></g>
<g stroke="#0066ff" fill="none" stroke-width="3.0"><path d="M696.9 2010.66V2058.5M696.9 2100.96V2151.19"/></g>
<g stroke="#0066ff" fill="#fff" stroke-width="3.0"><rect x="680.8" y="2058.5" width="32.2" height="42.46"/></g>
<path d="M680.8 2078.83H713" stroke="#0066ff" stroke-width="6"/>
<g fill="#0066ff"><circle cx="696.9" cy="2167.93" r="3.5"/></g>
<g stroke="#ff9900" fill="none" stroke-width="3.0"><path d="M734.3 2019.03V2058.5M734.3 2094.98V2138.63"/></g>
<g stroke="#ff9900" fill="#fff" stroke-width="3.0"><rect x="718.2" y="2058.5" width="32.2" height="36.48"/></g>
<path d="M718.2 2078.23H750.4" stroke="#ff9900" stroke-width="6"/>
<g fill="#ff9900"><circle cx="734.3" cy="2002.89" r="3.5"/><circle cx="734.3" cy="2151.19" r="3.5"/></g>
<g stroke="#0066ff" fill="none" stroke-width="3.0"><path d="M791.05 2018.43V2074.65M791.05 2118.3V2164.35"/></g>
<g stroke="#0066ff" fill="#fff" stroke-width="3.0"><rect x="774.95" y="2074.65" width="32.2" height="43.65"/></g>
<path d="M774.95 2094.98H807.15" stroke="#0066ff" stroke-width="6"/>
<g stroke="#ff9900" fill="none" stroke-width="3.0"><path d="M828.45 2044.15V2077.04M828.45 2106.94V2144.61"/></g>
<g stroke="#ff9900" fill="#fff" stroke-width="3.0"><rect x="812.35" y="2077.04" width="32.2" height="29.9"/></g>
<path d="M812.35 2093.18H844.55" stroke="#ff9900" stroke-width="6"/>
<g fill="#ff9900"><circle cx="828.45" cy="2031.59" r="3.5"/><circle cx="828.45" cy="2153.58" r="3.5"/></g>
<path d="M95.3 1806.5V2195H865.4" fill="none" stroke="#000" stroke-width="3.5" stroke-linejoin="miter" stroke-linecap="square"/>
<text x="90.2" y="1826.7" font-size="21.5" font-family="'Liberation Serif','Times New Roman',serif" text-anchor="end">10</text>
<text x="90.2" y="1946.3" font-size="21.5" font-family="'Liberation Serif','Times New Roman',serif" text-anchor="end">8</text>
<text x="90.2" y="2065.9" font-size="21.5" font-family="'Liberation Serif','Times New Roman',serif" text-anchor="end">6</text>
<text x="90.2" y="2185.5" font-size="21.5" font-family="'Liberation Serif','Times New Roman',serif" text-anchor="end">4</text>
<path d="M91.7 1819.3H95.3M91.7 1938.9H95.3M91.7 2058.5H95.3M91.7 2178.1H95.3M150.7 2195V2198.6M244.85 2195V2198.6M339 2195V2198.6M433.15 2195V2198.6M527.3 2195V2198.6M621.45 2195V2198.6M715.6 2195V2198.6M809.75 2195V2198.6" stroke="#000" stroke-width="2.6"/>
<text transform="translate(169.7 2210) rotate(-45)" font-size="21" font-family="'Liberation Serif','Times New Roman',serif" text-anchor="end">KPNA2</text>
<text transform="translate(263.85 2210) rotate(-45)" font-size="21" font-family="'Liberation Serif','Times New Roman',serif" text-anchor="end">CDK5RAP1</text>
<text transform="translate(358 2210) rotate(-45)" font-size="21" font-family="'Liberation Serif','Times New Roman',serif" text-anchor="end">ANAPC4</text>
<text transform="translate(452.15 2210) rotate(-45)" font-size="21" font-family="'Liberation Serif','Times New Roman',serif" text-anchor="end">SERTAD1</text>
<text transform="translate(546.3 2210) rotate(-45)" font-size="21" font-family="'Liberation Serif','Times New Roman',serif" text-anchor="end">CDKN3</text>
<text transform="translate(640.45 2210) rotate(-45)" font-size="21" font-family="'Liberation Serif','Times New Roman',serif" text-anchor="end">HERC5</text>
<text transform="translate(734.6 2210) rotate(-45)" font-size="21" font-family="'Liberation Serif','Times New Roman',serif" text-anchor="end">CCNT2</text>
<text transform="translate(828.75 2210) rotate(-45)" font-size="21" font-family="'Liberation Serif','Times New Roman',serif" text-anchor="end">ANAPC2</text>
<text x="159.1" y="1824.5" font-size="22" font-family="'Liberation Serif','Times New Roman',serif" text-anchor="middle" letter-spacing="0">***</text>
<text x="247.85" y="1824.5" font-size="22" font-family="'Liberation Serif','Times New Roman',serif" text-anchor="middle" letter-spacing="0">*</text>
<text x="341.5" y="1824.5" font-size="22" font-family="'Liberation Serif','Times New Roman',serif" text-anchor="middle">ns</text>
<text x="435.65" y="1824.5" font-size="22" font-family="'Liberation Serif','Times New Roman',serif" text-anchor="middle">ns</text>
<text x="535.7" y="1824.5" font-size="22" font-family="'Liberation Serif','Times New Roman',serif" text-anchor="middle" letter-spacing="0">***</text>
<text x="629.85" y="1824.5" font-size="22" font-family="'Liberation Serif','Times New Roman',serif" text-anchor="middle" letter-spacing="0">***</text>
<text x="718.1" y="1824.5" font-size="22" font-family="'Liberation Serif','Times New Roman',serif" text-anchor="middle">ns</text>
<text x="812.25" y="1824.5" font-size="22" font-family="'Liberation Serif','Times New Roman',serif" text-anchor="middle">ns</text>
<text transform="translate(64.5 1987.5) rotate(-90)" font-size="21.2" font-family="'Liberation Serif','Times New Roman',serif" text-anchor="middle">Gene expression</text>
<text x="383.5" y="1778.4" font-size="21" font-family="'Liberation Serif','Times New Roman',serif">Cluster</text>
<g stroke="#0066ff" stroke-width="3.2" fill="#fff"><path d="M458.75 1762.1V1765.7M458.75 1778.2V1781.8" stroke-width="2.6"/><rect x="450.2" y="1767.3" width="17.1" height="9.3" rx="1.5"/><path d="M450.2 1771.95H467.3" stroke-width="2.4"/></g>
<text x="471.9" y="1778.4" font-size="21" font-family="'Liberation Serif','Times New Roman',serif">Sub A</text>
<g stroke="#ff9900" stroke-width="3.2" fill="#fff"><path d="M543.05 1762.1V1765.7M543.05 1778.2V1781.8" stroke-width="2.6"/><rect x="534.5" y="1767.3" width="17.1" height="9.3" rx="1.5"/><path d="M534.5 1771.95H551.6" stroke-width="2.4"/></g>
<text x="555.8" y="1778.4" font-size="21" font-family="'Liberation Serif','Times New Roman',serif">Sub B</text>
<g stroke="#0066ff" fill="none" stroke-width="3.0"><path d="M1006.8 1946.31V2002M1006.8 2049.31V2113.86"/></g>
<g stroke="#0066ff" fill="#fff" stroke-width="3.0"><rect x="980.55" y="2002" width="52.5" height="47.31"/></g>
<path d="M980.55 2024.67H1033.05" stroke="#0066ff" stroke-width="6.2"/>
<g fill="#0066ff"><circle cx="1006.8" cy="1922.66" r="3.8"/><circle cx="1006.8" cy="2122.74" r="3.8"/><circle cx="1006.8" cy="2147.38" r="3.8"/></g>
<g stroke="#ff9900" fill="none" stroke-width="3.0"><path d="M1069.2 1943.85V2009.88M1069.2 2071.48V2136.04"/></g>
<g stroke="#ff9900" fill="#fff" stroke-width="3.0"><rect x="1042.95" y="2009.88" width="52.5" height="61.6"/></g>
<path d="M1042.95 2043.39H1095.45" stroke="#ff9900" stroke-width="6.2"/>
<g stroke="#0066ff" fill="none" stroke-width="3.0"><path d="M1162.25 1890.63V1929.06M1162.25 1961.1V2007.91"/></g>
<g stroke="#0066ff" fill="#fff" stroke-width="3.0"><rect x="1136" y="1929.06" width="52.5" height="32.03"/></g>
<path d="M1136 1945.82H1188.5" stroke="#0066ff" stroke-width="6.2"/>
<g fill="#0066ff"><circle cx="1162.25" cy="1862.04" r="3.8"/><circle cx="1162.25" cy="1880.77" r="3.8"/></g>
<g stroke="#ff9900" fill="none" stroke-width="3.0"><path d="M1224.65 1905.41V1934.49M1224.65 1955.68V1987.22"/></g>
<g stroke="#ff9900" fill="#fff" stroke-width="3.0"><rect x="1198.4" y="1934.49" width="52.5" height="21.19"/></g>
<path d="M1198.4 1944.83H1250.9" stroke="#ff9900" stroke-width="6.2"/>
<g fill="#ff9900"><circle cx="1224.65" cy="1891.61" r="3.8"/><circle cx="1224.65" cy="1900.98" r="3.8"/><circle cx="1224.65" cy="1987.22" r="3.8"/></g>
<g stroke="#0066ff" fill="none" stroke-width="3.0"><path d="M1317.7 1819.66V1894.08M1317.7 1948.28V2018.26"/></g>
<g stroke="#0066ff" fill="#fff" stroke-width="3.0"><rect x="1291.45" y="1894.08" width="52.5" height="54.21"/></g>
<path d="M1291.45 1921.18H1343.95" stroke="#0066ff" stroke-width="6.2"/>
<g fill="#0066ff"><circle cx="1317.7" cy="2036.99" r="3.8"/><circle cx="1317.7" cy="2090.7" r="3.8"/></g>
<g stroke="#ff9900" fill="none" stroke-width="3.0"><path d="M1380.1 1833.46V1924.14M1380.1 1994.11V2085.28"/></g>
<g stroke="#ff9900" fill="#fff" stroke-width="3.0"><rect x="1353.85" y="1924.14" width="52.5" height="69.98"/></g>
<path d="M1353.85 1955.18H1406.35" stroke="#ff9900" stroke-width="6.2"/>
<g stroke="#0066ff" fill="none" stroke-width="3.0"><path d="M1473.15 2020.23V2052.26M1473.15 2092.18V2140.97"/></g>
<g stroke="#0066ff" fill="#fff" stroke-width="3.0"><rect x="1446.9" y="2052.26" width="52.5" height="39.92"/></g>
<path d="M1446.9 2072.47H1499.4" stroke="#0066ff" stroke-width="6.2"/>
<g fill="#0066ff"><circle cx="1473.15" cy="2176.94" r="3.8"/></g>
<g stroke="#ff9900" fill="none" stroke-width="3.0"><path d="M1535.55 2030.09V2066.06M1535.55 2115.34V2158.22"/></g>
<g stroke="#ff9900" fill="#fff" stroke-width="3.0"><rect x="1509.3" y="2066.06" width="52.5" height="49.28"/></g>
<path d="M1509.3 2090.7H1561.8" stroke="#ff9900" stroke-width="6.2"/>
<g stroke="#0066ff" fill="none" stroke-width="3.0"><path d="M1628.6 1881.26V1938.92M1628.6 1990.66V2065.08"/></g>
<g stroke="#0066ff" fill="#fff" stroke-width="3.0"><rect x="1602.35" y="1938.92" width="52.5" height="51.74"/></g>
<path d="M1602.35 1962.58H1654.85" stroke="#0066ff" stroke-width="6.2"/>
<g fill="#0066ff"><circle cx="1628.6" cy="2126.68" r="3.8"/><circle cx="1628.6" cy="2144.42" r="3.8"/><circle cx="1628.6" cy="2157.72" r="3.8"/></g>
<g stroke="#ff9900" fill="none" stroke-width="3.0"><path d="M1691 1904.42V1963.07M1691 2027.62V2112.88"/></g>
<g stroke="#ff9900" fill="#fff" stroke-width="3.0"><rect x="1664.75" y="1963.07" width="52.5" height="64.56"/></g>
<path d="M1664.75 1990.66H1717.25" stroke="#ff9900" stroke-width="6.2"/>
<path d="M944.6 1802.9V2195.3H1753.3" fill="none" stroke="#000" stroke-width="3.5" stroke-linejoin="miter" stroke-linecap="square"/>
<text x="939.5" y="1879.5" font-size="22" font-family="'Liberation Serif','Times New Roman',serif" text-anchor="end">10</text>
<text x="939.5" y="1978.06" font-size="22" font-family="'Liberation Serif','Times New Roman',serif" text-anchor="end">8</text>
<text x="939.5" y="2076.62" font-size="22" font-family="'Liberation Serif','Times New Roman',serif" text-anchor="end">6</text>
<text x="939.5" y="2175.18" font-size="22" font-family="'Liberation Serif','Times New Roman',serif" text-anchor="end">4</text>
<path d="M941 1871.9H944.6M941 1970.46H944.6M941 2069.02H944.6M941 2167.58H944.6M1038 2195.3V2198.9M1193.45 2195.3V2198.9M1348.9 2195.3V2198.9M1504.35 2195.3V2198.9M1659.8 2195.3V2198.9" stroke="#000" stroke-width="2.6"/>
<text transform="translate(1055.5 2210.8) rotate(-45)" font-size="21" font-family="'Liberation Serif','Times New Roman',serif" text-anchor="end">CCNF</text>
<text transform="translate(1210.95 2210.8) rotate(-45)" font-size="21" font-family="'Liberation Serif','Times New Roman',serif" text-anchor="end">CDC16</text>
<text transform="translate(1366.4 2210.8) rotate(-45)" font-size="21" font-family="'Liberation Serif','Times New Roman',serif" text-anchor="end">CDC20</text>
<text transform="translate(1521.85 2210.8) rotate(-45)" font-size="21" font-family="'Liberation Serif','Times New Roman',serif" text-anchor="end">RAD51</text>
<text transform="translate(1677.3 2210.8) rotate(-45)" font-size="21" font-family="'Liberation Serif','Times New Roman',serif" text-anchor="end">CCNB2</text>
<text x="1043.7" y="1819.8" font-size="22" font-family="'Liberation Serif','Times New Roman',serif" text-anchor="middle" letter-spacing="0">**</text>
<text x="1195.95" y="1819.8" font-size="22" font-family="'Liberation Serif','Times New Roman',serif" text-anchor="middle">ns</text>
<text x="1357.3" y="1819.8" font-size="22" font-family="'Liberation Serif','Times New Roman',serif" text-anchor="middle" letter-spacing="0">***</text>
<text x="1512.75" y="1819.8" font-size="22" font-family="'Liberation Serif','Times New Roman',serif" text-anchor="middle" letter-spacing="0">***</text>
<text x="1668.2" y="1819.8" font-size="22" font-family="'Liberation Serif','Times New Roman',serif" text-anchor="middle" letter-spacing="0">***</text>
<text transform="translate(911.5 1987.7) rotate(-90)" font-size="19.5" font-family="'Liberation Serif','Times New Roman',serif" text-anchor="middle">Gene expression</text>
<text x="1277.6" y="1778.4" font-size="22" font-family="'Liberation Serif','Times New Roman',serif">Cluster</text>
<g stroke="#0066ff" stroke-width="3.2" fill="#fff"><path d="M1361 1762.4V1766M1361 1779V1782.6" stroke-width="2.6"/><rect x="1352.6" y="1767.6" width="16.8" height="9.8" rx="1.5"/><path d="M1352.6 1772.5H1369.4" stroke-width="2.4"/></g>
<text x="1376" y="1778.4" font-size="22" font-family="'Liberation Serif','Times New Roman',serif">Sub A</text>
<g stroke="#ff9900" stroke-width="3.2" fill="#fff"><path d="M1449 1762.4V1766M1449 1779V1782.6" stroke-width="2.6"/><rect x="1440.6" y="1767.6" width="16.8" height="9.8" rx="1.5"/><path d="M1440.6 1772.5H1457.4" stroke-width="2.4"/></g>
<text x="1464" y="1778.4" font-size="22" font-family="'Liberation Serif','Times New Roman',serif">Sub B</text>
<rect x="202.5" y="1765.2" width="2.2" height="6.3" rx="1" fill="#0066ff"/><rect x="276.6" y="1765.2" width="2.2" height="6.3" rx="1" fill="#ff9900"/>
<text transform="translate(7.9 38.7) scale(1.0 1)" font-size="43" font-family="'Liberation Sans',Arial,sans-serif" font-weight="bold">A</text>
<text transform="translate(998.2 38.7) scale(0.95 1)" font-size="43" font-family="'Liberation Sans',Arial,sans-serif" font-weight="bold">B</text>
<text transform="translate(6.3 743.6) scale(0.95 1)" font-size="43" font-family="'Liberation Sans',Arial,sans-serif" font-weight="bold">C</text>
<text transform="translate(5.65 1242.7) scale(0.95 1)" font-size="43" font-family="'Liberation Sans',Arial,sans-serif" font-weight="bold">D</text>
<text transform="translate(881.2 1242.4) scale(0.95 1)" font-size="43" font-family="'Liberation Sans',Arial,sans-serif" font-weight="bold">E</text>
<text transform="translate(5.65 1807.5) scale(0.95 1)" font-size="43" font-family="'Liberation Sans',Arial,sans-serif" font-weight="bold">F</text>
<text transform="translate(881.0 1808.4) scale(0.96 1)" font-size="43" font-family="'Liberation Sans',Arial,sans-serif" font-weight="bold">G</text>
</svg>
</body></html>
